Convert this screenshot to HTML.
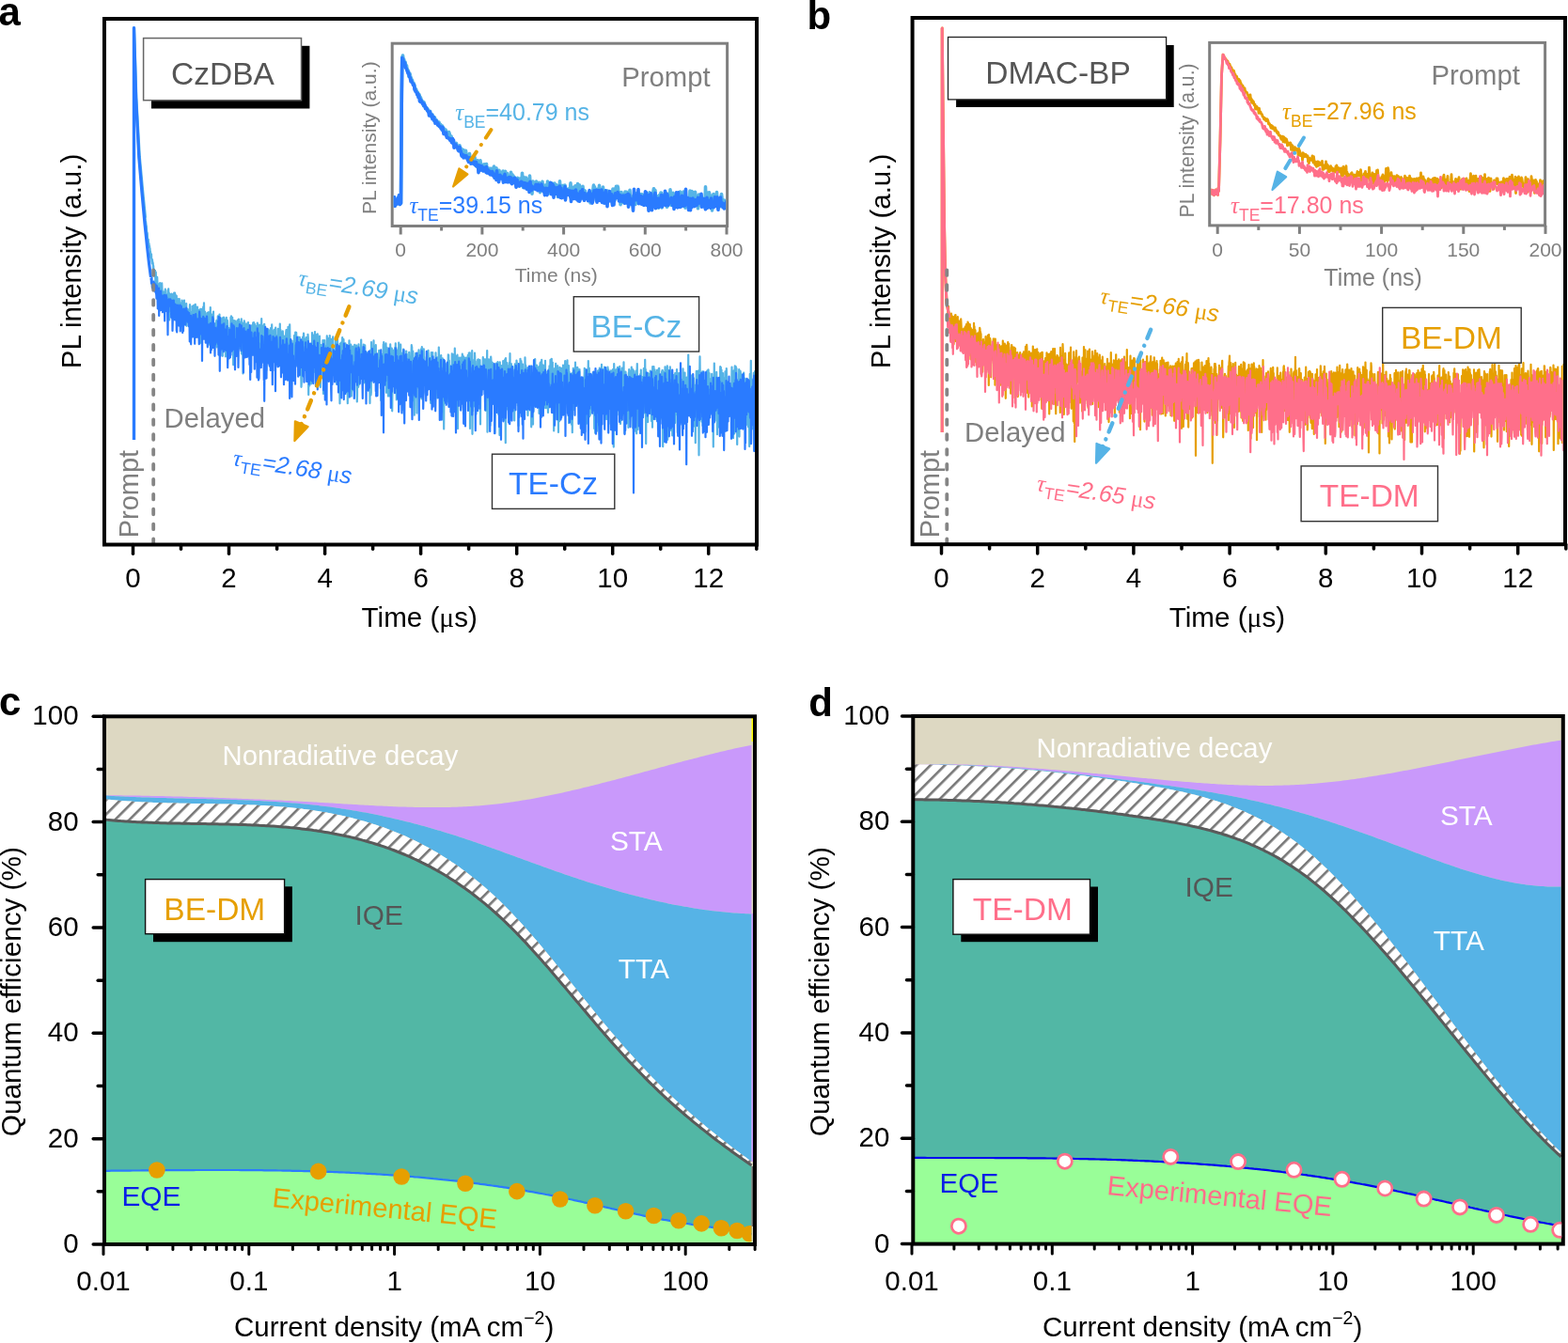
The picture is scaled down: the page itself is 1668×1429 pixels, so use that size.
<!DOCTYPE html>
<html><head><meta charset="utf-8"><style>html,body{margin:0;padding:0;background:#fff;}svg{display:block;}</style></head><body>
<svg width="1668" height="1429" viewBox="0 0 1668 1429" font-family="'Liberation Sans', Arial, Helvetica, sans-serif">
<defs>
<clipPath id="clipA"><rect x="113" y="22" width="690" height="555"/></clipPath>
<clipPath id="clipB"><rect x="972.7" y="21" width="690" height="555"/></clipPath>
<clipPath id="clipAi"><rect x="418.7" y="47.7" width="353.4" height="191.3"/></clipPath>
<clipPath id="clipBi"><rect x="1288.2" y="46.9" width="353.9" height="191.5"/></clipPath>
<pattern id="hatch" patternUnits="userSpaceOnUse" width="10.8" height="10.8" patternTransform="rotate(45)"><rect width="10.8" height="10.8" fill="#fff"/><rect width="2.6" height="10.8" fill="#777"/></pattern>
<clipPath id="clipC"><rect x="113" y="764" width="686.5" height="558"/></clipPath><clipPath id="clipD"><rect x="973.3" y="764" width="687.9" height="557.6"/></clipPath></defs>
<rect width="1668" height="1429" fill="#fff"/>
<text x="-1.5" y="26.5" font-size="42" fill="#000" text-anchor="start" font-weight="bold">a</text>
<g clip-path="url(#clipA)">
<polyline points="142.5,468.0 142.5,29.5 144.8,104.0 148.3,167.0 151.8,205.0 154.5,232.0" fill="none" stroke="#56b4e6" stroke-width="3.2" stroke-linejoin="round" />
<polyline points="154.5,232.0 154.8,234.7 155.0,235.8 155.2,236.8 155.5,239.6 155.8,240.6 156.0,244.6 156.2,249.6 156.5,247.3 156.8,248.8 157.0,253.2 157.2,254.7 157.5,255.8 157.8,254.8 158.0,258.9 158.2,262.8 158.5,259.1 158.8,262.7 159.0,261.5 159.2,263.7 159.5,264.3 159.8,269.3 160.0,267.7 160.2,273.7 160.5,274.6 160.8,274.5 161.0,270.3 161.2,275.5 161.5,278.5 161.8,280.3 162.0,276.0 162.2,280.1 162.5,279.0 162.8,280.8 163.0,290.7 163.2,282.8 163.5,287.5 163.8,293.3 164.0,286.9 164.2,290.2 164.5,292.4 164.8,293.1 165.0,287.9 165.2,295.1 165.5,304.0 165.8,289.7 166.0,302.7 166.2,299.0 166.5,295.4 166.8,313.8 167.0,305.7 167.2,294.9 167.5,302.7 167.8,306.8 168.0,302.5 168.2,308.9 168.5,304.5 168.8,310.1 169.0,316.7 169.2,302.1 169.5,308.5 169.8,304.4 170.0,308.9 170.2,301.1 170.5,304.8 170.8,307.8 171.0,316.3 171.2,318.7 171.5,302.4 171.8,305.0 172.0,315.8 172.2,301.4 172.5,308.3 172.8,311.3 173.0,322.3 173.2,317.9 173.5,310.5 173.8,310.5 174.0,311.6 174.2,326.4 174.5,310.9 174.8,312.1 175.0,317.3 175.2,313.9 175.5,313.6 175.8,307.5 176.0,315.5 176.2,312.5 176.5,325.8 176.8,321.6 177.0,316.3 177.2,322.2 177.5,314.3 177.8,326.0 178.0,317.4 178.2,322.4 178.5,309.1 178.8,320.8 179.0,308.2 179.2,307.3 179.5,316.2 179.8,311.7 180.0,320.4 180.2,340.4 180.5,312.8 180.8,314.6 181.0,321.5 181.2,324.2 181.5,318.8 181.8,318.7 182.0,326.6 182.2,325.2 182.5,312.7 182.8,320.5 183.0,321.7 183.2,313.2 183.5,324.0 183.8,314.9 184.0,330.9 184.2,324.0 184.5,323.3 184.8,317.9 185.0,322.0 185.2,311.5 185.5,314.6 185.8,326.8 186.0,311.6 186.2,331.7 186.5,313.3 186.8,331.3 187.0,317.5 187.2,331.9 187.5,326.2 187.8,314.9 188.0,337.3 188.2,339.5 188.5,325.3 188.8,323.8 189.0,324.9 189.2,318.1 189.5,337.1 189.8,322.2 190.0,326.7 190.2,320.4 190.5,322.0 190.8,318.0 191.0,340.0 191.2,326.7 191.5,337.4 191.8,328.6 192.0,322.5 192.2,326.0 192.5,324.1 192.8,329.3 193.0,326.1 193.2,326.9 193.5,319.5 193.8,322.8 194.0,346.9 194.2,324.3 194.5,321.3 194.8,333.8 195.0,344.9 195.2,320.4 195.5,329.3 195.8,325.6 196.0,319.7 196.2,338.8 196.5,331.6 196.8,332.7 197.0,325.3 197.2,336.7 197.5,327.6 197.8,331.3 198.0,323.2 198.2,323.0 198.5,346.8 198.8,328.6 199.0,336.2 199.2,333.3 199.5,329.6 199.8,329.1 200.0,340.2 200.2,331.3 200.5,332.9 200.8,334.6 201.0,346.7 201.2,341.5 201.5,338.6 201.8,329.6 202.0,324.2 202.2,345.0 202.5,345.3 202.8,334.2 203.0,341.1 203.2,343.8 203.5,344.4 203.8,345.6 204.0,331.8 204.2,352.8 204.5,325.8 204.8,345.5 205.0,341.7 205.2,346.0 205.5,358.1 205.8,353.4 206.0,326.9 206.2,324.8 206.5,346.1 206.8,327.7 207.0,337.6 207.2,346.8 207.5,325.5 207.8,323.8 208.0,340.9 208.2,338.8 208.5,336.1 208.8,339.0 209.0,330.1 209.2,326.8 209.5,337.3 209.8,329.3 210.0,326.5 210.2,344.7 210.5,338.9 210.8,343.9 211.0,329.7 211.2,333.1 211.5,329.8 211.8,331.0 212.0,342.3 212.2,332.3 212.5,344.3 212.8,344.2 213.0,365.1 213.2,328.8 213.5,350.9 213.8,340.1 214.0,341.0 214.2,328.9 214.5,336.6 214.8,349.8 215.0,340.8 215.2,342.6 215.5,338.8 215.8,355.3 216.0,341.9 216.2,326.5 216.5,335.0 216.8,327.7 217.0,322.3 217.2,337.0 217.5,358.6 217.8,343.4 218.0,331.5 218.2,333.0 218.5,356.6 218.8,345.1 219.0,344.0 219.2,343.0 219.5,344.1 219.8,353.1 220.0,350.2 220.2,346.4 220.5,333.0 220.8,350.1 221.0,336.8 221.2,357.5 221.5,332.3 221.8,343.1 222.0,344.7 222.2,332.3 222.5,366.7 222.8,363.2 223.0,340.0 223.2,354.4 223.5,349.7 223.8,327.1 224.0,348.5 224.2,345.0 224.5,346.7 224.8,334.3 225.0,343.0 225.2,344.1 225.5,360.9 225.8,350.2 226.0,346.3 226.2,366.0 226.5,340.3 226.8,342.3 227.0,331.6 227.2,367.1 227.5,358.9 227.8,358.4 228.0,355.3 228.2,348.6 228.5,349.9 228.8,344.6 229.0,345.2 229.2,348.3 229.5,367.5 229.8,354.6 230.0,347.3 230.2,341.3 230.5,340.8 230.8,369.4 231.0,354.6 231.2,349.3 231.5,344.5 231.8,336.4 232.0,348.0 232.2,359.9 232.5,344.3 232.8,346.3 233.0,346.5 233.2,350.5 233.5,334.6 233.8,346.6 234.0,339.3 234.2,360.9 234.5,340.5 234.8,357.0 235.0,370.4 235.2,346.2 235.5,342.8 235.8,352.5 236.0,350.2 236.2,338.3 236.5,356.2 236.8,378.8 237.0,347.5 237.2,348.2 237.5,338.4 237.8,354.8 238.0,337.6 238.2,338.3 238.5,368.3 238.8,340.2 239.0,365.7 239.2,372.3 239.5,354.7 239.8,358.7 240.0,379.4 240.2,349.3 240.5,344.5 240.8,337.9 241.0,352.5 241.2,372.5 241.5,365.0 241.8,340.6 242.0,341.8 242.2,346.2 242.5,356.2 242.8,350.1 243.0,355.4 243.2,356.6 243.5,349.1 243.8,352.4 244.0,355.7 244.2,352.1 244.5,359.8 244.8,380.2 245.0,361.1 245.2,354.2 245.5,337.5 245.8,358.6 246.0,336.3 246.2,339.1 246.5,365.4 246.8,363.4 247.0,352.1 247.2,337.9 247.5,349.5 247.8,345.7 248.0,362.8 248.2,388.2 248.5,357.3 248.8,344.7 249.0,341.1 249.2,354.0 249.5,352.6 249.8,341.4 250.0,356.5 250.2,341.6 250.5,370.6 250.8,370.0 251.0,370.4 251.2,349.3 251.5,362.3 251.8,353.9 252.0,350.6 252.2,351.4 252.5,341.4 252.8,340.7 253.0,366.8 253.2,353.6 253.5,358.9 253.8,370.1 254.0,339.6 254.2,346.2 254.5,358.7 254.8,361.7 255.0,351.7 255.2,371.0 255.5,359.5 255.8,342.7 256.0,344.8 256.2,368.1 256.5,363.3 256.8,339.4 257.0,376.6 257.2,365.4 257.5,376.7 257.8,352.4 258.0,353.6 258.2,343.8 258.5,397.4 258.8,355.4 259.0,381.1 259.2,349.3 259.5,360.1 259.8,341.3 260.0,353.0 260.2,372.0 260.5,343.7 260.8,373.5 261.0,362.9 261.2,345.0 261.5,351.9 261.8,352.5 262.0,357.9 262.2,351.6 262.5,347.8 262.8,354.8 263.0,345.5 263.2,344.2 263.5,358.4 263.8,371.6 264.0,343.1 264.2,359.3 264.5,350.7 264.8,346.4 265.0,371.5 265.2,352.6 265.5,381.9 265.8,349.2 266.0,365.0 266.2,356.7 266.5,349.8 266.8,368.1 267.0,357.9 267.2,368.5 267.5,359.5 267.8,346.3 268.0,358.9 268.2,361.0 268.5,374.2 268.8,348.3 269.0,360.0 269.2,343.3 269.5,369.8 269.8,346.8 270.0,343.0 270.2,360.0 270.5,377.1 270.8,344.7 271.0,347.1 271.2,351.0 271.5,346.9 271.8,366.5 272.0,350.4 272.2,351.6 272.5,369.6 272.8,351.2 273.0,367.6 273.2,348.4 273.5,346.9 273.8,343.6 274.0,390.8 274.2,357.5 274.5,365.3 274.8,361.5 275.0,364.2 275.2,362.8 275.5,392.1 275.8,348.4 276.0,345.6 276.2,348.6 276.5,346.9 276.8,373.3 277.0,374.5 277.2,349.4 277.5,346.8 277.8,357.8 278.0,383.9 278.2,339.2 278.5,370.4 278.8,348.8 279.0,378.5 279.2,348.9 279.5,359.2 279.8,346.7 280.0,349.8 280.2,384.5 280.5,375.4 280.8,357.9 281.0,351.5 281.2,344.8 281.5,358.2 281.8,363.2 282.0,362.6 282.2,362.5 282.5,349.4 282.8,363.0 283.0,363.4 283.2,383.7 283.5,393.8 283.8,362.3 284.0,353.6 284.2,363.4 284.5,355.9 284.8,354.1 285.0,363.6 285.2,350.4 285.5,373.4 285.8,363.2 286.0,368.2 286.2,362.2 286.5,354.7 286.8,351.7 287.0,361.6 287.2,357.3 287.5,368.4 287.8,365.0 288.0,349.2 288.2,366.2 288.5,349.4 288.8,356.7 289.0,361.3 289.2,345.4 289.5,366.8 289.8,367.7 290.0,363.4 290.2,359.7 290.5,360.5 290.8,352.1 291.0,362.1 291.2,358.2 291.5,367.3 291.8,350.8 292.0,369.5 292.2,368.2 292.5,364.2 292.8,360.1 293.0,374.5 293.2,348.5 293.5,373.2 293.8,370.0 294.0,370.7 294.2,372.2 294.5,357.4 294.8,363.1 295.0,376.3 295.2,373.2 295.5,369.9 295.8,349.9 296.0,375.0 296.2,385.3 296.5,382.7 296.8,370.6 297.0,349.9 297.2,381.8 297.5,365.3 297.8,344.5 298.0,373.1 298.2,350.5 298.5,351.7 298.8,358.6 299.0,387.8 299.2,362.5 299.5,371.8 299.8,396.4 300.0,393.7 300.2,366.6 300.5,364.7 300.8,352.4 301.0,358.3 301.2,374.6 301.5,374.2 301.8,370.0 302.0,383.9 302.2,357.5 302.5,367.8 302.8,379.8 303.0,377.5 303.2,385.5 303.5,374.7 303.8,364.4 304.0,374.3 304.2,354.6 304.5,351.0 304.8,377.9 305.0,368.4 305.2,373.8 305.5,350.9 305.8,364.1 306.0,360.8 306.2,357.0 306.5,347.8 306.8,364.8 307.0,383.6 307.2,375.4 307.5,361.1 307.8,369.6 308.0,381.5 308.2,345.3 308.5,368.2 308.8,378.3 309.0,380.6 309.2,398.3 309.5,388.2 309.8,375.0 310.0,374.9 310.2,382.6 310.5,362.6 310.8,370.0 311.0,384.8 311.2,403.6 311.5,368.4 311.8,370.1 312.0,373.8 312.2,392.6 312.5,370.5 312.8,395.0 313.0,357.0 313.2,368.4 313.5,368.3 313.8,383.5 314.0,387.9 314.2,353.7 314.5,358.0 314.8,376.6 315.0,361.9 315.2,353.9 315.5,388.2 315.8,379.3 316.0,379.3 316.2,364.9 316.5,388.2 316.8,368.4 317.0,389.5 317.2,358.7 317.5,359.6 317.8,375.2 318.0,361.9 318.2,382.8 318.5,376.3 318.8,358.8 319.0,373.5 319.2,367.3 319.5,387.1 319.8,363.3 320.0,366.2 320.2,392.4 320.5,411.8 320.8,407.1 321.0,373.9 321.2,376.3 321.5,398.5 321.8,371.3 322.0,358.7 322.2,375.0 322.5,380.2 322.8,361.0 323.0,354.7 323.2,356.0 323.5,383.9 323.8,362.3 324.0,371.5 324.2,376.9 324.5,383.4 324.8,368.8 325.0,381.5 325.2,360.6 325.5,368.6 325.8,359.0 326.0,392.4 326.2,373.7 326.5,363.1 326.8,369.0 327.0,371.0 327.2,385.4 327.5,355.9 327.8,359.3 328.0,368.9 328.2,420.1 328.5,390.0 328.8,373.0 329.0,386.0 329.2,410.6 329.5,371.3 329.8,369.4 330.0,394.8 330.2,382.7 330.5,385.6 330.8,367.5 331.0,408.5 331.2,404.4 331.5,384.1 331.8,386.2 332.0,354.2 332.2,385.5 332.5,372.6 332.8,382.3 333.0,386.4 333.2,370.5 333.5,356.5 333.8,381.4 334.0,364.6 334.2,370.9 334.5,366.8 334.8,370.8 335.0,353.0 335.2,396.2 335.5,380.0 335.8,394.4 336.0,410.8 336.2,376.6 336.5,356.4 336.8,362.9 337.0,360.1 337.2,368.9 337.5,377.7 337.8,355.4 338.0,382.0 338.2,358.5 338.5,381.4 338.8,375.1 339.0,372.1 339.2,375.8 339.5,368.8 339.8,367.7 340.0,357.7 340.2,376.7 340.5,409.3 340.8,412.0 341.0,399.5 341.2,388.6 341.5,367.1 341.8,401.9 342.0,376.6 342.2,376.5 342.5,373.1 342.8,379.0 343.0,371.0 343.2,376.4 343.5,362.0 343.8,372.1 344.0,419.0 344.2,376.8 344.5,374.3 344.8,386.5 345.0,389.5 345.2,362.1 345.5,375.0 345.8,393.3 346.0,382.5 346.2,380.2 346.5,405.1 346.8,368.0 347.0,379.7 347.2,370.5 347.5,404.1 347.8,357.4 348.0,368.4 348.2,370.6 348.5,389.4 348.8,388.5 349.0,402.6 349.2,360.0 349.5,391.1 349.8,374.5 350.0,368.8 350.2,387.7 350.5,365.0 350.8,357.1 351.0,373.5 351.2,360.8 351.5,369.3 351.8,385.2 352.0,384.3 352.2,406.9 352.5,376.4 352.8,360.8 353.0,367.9 353.2,365.4 353.5,362.9 353.8,386.6 354.0,369.8 354.2,358.3 354.5,391.2 354.8,378.1 355.0,385.6 355.2,381.6 355.5,390.3 355.8,380.6 356.0,401.1 356.2,386.9 356.5,386.4 356.8,386.8 357.0,362.0 357.2,377.8 357.5,376.3 357.8,383.7 358.0,362.7 358.2,409.1 358.5,382.2 358.8,363.7 359.0,360.7 359.2,376.3 359.5,379.3 359.8,369.6 360.0,382.2 360.2,370.9 360.5,389.8 360.8,369.6 361.0,380.4 361.2,397.4 361.5,429.3 361.8,365.5 362.0,373.9 362.2,368.1 362.5,394.2 362.8,364.7 363.0,373.7 363.2,380.9 363.5,366.1 363.8,366.5 364.0,374.0 364.2,359.0 364.5,363.1 364.8,375.1 365.0,384.0 365.2,378.8 365.5,361.2 365.8,374.5 366.0,395.1 366.2,390.9 366.5,380.6 366.8,368.0 367.0,392.3 367.2,372.9 367.5,365.3 367.8,369.5 368.0,407.4 368.2,385.7 368.5,402.0 368.8,374.7 369.0,398.1 369.2,372.9 369.5,379.9 369.8,429.2 370.0,395.2 370.2,374.6 370.5,381.2 370.8,387.8 371.0,403.5 371.2,374.9 371.5,362.3 371.8,378.3 372.0,383.0 372.2,384.5 372.5,405.7 372.8,388.0 373.0,396.5 373.2,366.6 373.5,397.6 373.8,421.6 374.0,396.0 374.2,387.2 374.5,385.6 374.8,415.4 375.0,368.6 375.2,381.5 375.5,390.8 375.8,395.8 376.0,376.5 376.2,388.4 376.5,379.1 376.8,385.4 377.0,381.4 377.2,366.9 377.5,383.3 377.8,398.5 378.0,368.4 378.2,379.9 378.5,394.9 378.8,367.5 379.0,386.8 379.2,367.7 379.5,403.5 379.8,427.4 380.0,421.2 380.2,380.6 380.5,396.5 380.8,386.1 381.0,385.8 381.2,411.8 381.5,366.3 381.8,402.4 382.0,383.5 382.2,409.2 382.5,387.4 382.8,373.7 383.0,389.0 383.2,396.9 383.5,385.1 383.8,392.6 384.0,376.3 384.2,361.5 384.5,400.0 384.8,396.5 385.0,387.1 385.2,385.9 385.5,402.7 385.8,377.6 386.0,373.6 386.2,381.9 386.5,405.8 386.8,366.6 387.0,405.9 387.2,374.9 387.5,368.5 387.8,407.3 388.0,383.7 388.2,367.4 388.5,379.6 388.8,401.3 389.0,406.2 389.2,378.6 389.5,392.1 389.8,397.5 390.0,375.2 390.2,391.4 390.5,385.1 390.8,377.0 391.0,377.8 391.2,386.8 391.5,386.2 391.8,376.7 392.0,379.0 392.2,405.3 392.5,389.4 392.8,401.1 393.0,407.1 393.2,395.9 393.5,429.1 393.8,372.8 394.0,399.9 394.2,381.0 394.5,420.4 394.8,417.3 395.0,364.0 395.2,370.7 395.5,397.6 395.8,399.9 396.0,399.0 396.2,385.3 396.5,394.1 396.8,397.6 397.0,385.3 397.2,404.5 397.5,362.4 397.8,397.4 398.0,370.4 398.2,403.4 398.5,383.1 398.8,372.5 399.0,393.1 399.2,372.2 399.5,372.2 399.8,367.2 400.0,386.6 400.2,395.4 400.5,405.0 400.8,384.8 401.0,405.5 401.2,387.5 401.5,385.7 401.8,397.0 402.0,405.9 402.2,381.8 402.5,383.4 402.8,384.8 403.0,388.8 403.2,372.9 403.5,405.5 403.8,381.1 404.0,395.4 404.2,374.2 404.5,393.6 404.8,394.3 405.0,380.9 405.2,425.9 405.5,394.0 405.8,420.8 406.0,404.7 406.2,377.2 406.5,381.7 406.8,395.3 407.0,389.0 407.2,388.9 407.5,383.4 407.8,366.6 408.0,384.5 408.2,364.0 408.5,394.5 408.8,376.5 409.0,376.7 409.2,384.8 409.5,392.9 409.8,369.3 410.0,367.3 410.2,371.8 410.5,365.4 410.8,372.8 411.0,417.8 411.2,372.0 411.5,399.9 411.8,370.0 412.0,393.7 412.2,383.6 412.5,387.8 412.8,398.6 413.0,421.6 413.2,392.2 413.5,391.0 413.8,373.1 414.0,399.0 414.2,385.0 414.5,403.6 414.8,388.4 415.0,421.6 415.2,366.4 415.5,384.4 415.8,404.7 416.0,383.6 416.2,376.4 416.5,385.0 416.8,370.5 417.0,391.4 417.2,437.3 417.5,410.0 417.8,372.4 418.0,375.3 418.2,383.0 418.5,407.5 418.8,376.2 419.0,378.4 419.2,405.3 419.5,405.0 419.8,383.7 420.0,372.7 420.2,369.9 420.5,378.4 420.8,365.4 421.0,403.1 421.2,379.7 421.5,398.3 421.8,425.5 422.0,411.3 422.2,372.7 422.5,405.5 422.8,411.1 423.0,378.0 423.2,374.6 423.5,388.5 423.8,369.9 424.0,417.5 424.2,364.7 424.5,373.3 424.8,386.1 425.0,386.8 425.2,393.4 425.5,395.2 425.8,387.1 426.0,411.2 426.2,366.7 426.5,390.8 426.8,379.0 427.0,393.0 427.2,394.6 427.5,375.8 427.8,380.3 428.0,404.9 428.2,396.9 428.5,379.8 428.8,430.3 429.0,436.4 429.2,371.5 429.5,396.3 429.8,441.1 430.0,405.0 430.2,395.0 430.5,387.9 430.8,382.4 431.0,387.9 431.2,382.3 431.5,404.5 431.8,384.9 432.0,384.2 432.2,373.6 432.5,390.8 432.8,376.8 433.0,388.7 433.2,410.4 433.5,398.0 433.8,400.5 434.0,397.9 434.2,392.8 434.5,389.7 434.8,386.8 435.0,405.3 435.2,374.8 435.5,416.7 435.8,392.6 436.0,379.6 436.2,384.0 436.5,380.9 436.8,394.9 437.0,380.2 437.2,413.0 437.5,379.2 437.8,367.2 438.0,380.2 438.2,369.0 438.5,391.7 438.8,411.6 439.0,403.8 439.2,373.6 439.5,379.8 439.8,426.5 440.0,398.1 440.2,392.7 440.5,411.8 440.8,441.7 441.0,416.7 441.2,395.1 441.5,398.9 441.8,403.7 442.0,382.6 442.2,375.8 442.5,393.8 442.8,377.1 443.0,392.0 443.2,394.7 443.5,439.6 443.8,378.9 444.0,391.1 444.2,390.4 444.5,400.8 444.8,412.3 445.0,385.1 445.2,379.6 445.5,372.3 445.8,377.9 446.0,402.8 446.2,394.2 446.5,376.6 446.8,387.3 447.0,394.1 447.2,402.4 447.5,383.7 447.8,389.5 448.0,371.4 448.2,375.9 448.5,424.5 448.8,369.0 449.0,388.2 449.2,397.6 449.5,387.6 449.8,380.4 450.0,393.0 450.2,394.0 450.5,392.7 450.8,371.4 451.0,391.7 451.2,379.8 451.5,385.0 451.8,398.1 452.0,405.6 452.2,410.5 452.5,386.0 452.8,411.1 453.0,416.1 453.2,415.4 453.5,420.5 453.8,392.1 454.0,391.6 454.2,409.4 454.5,375.3 454.8,398.3 455.0,385.8 455.2,388.5 455.5,372.9 455.8,379.8 456.0,394.5 456.2,411.0 456.5,413.0 456.8,393.6 457.0,391.8 457.2,381.0 457.5,402.1 457.8,390.9 458.0,405.9 458.2,429.0 458.5,394.7 458.8,375.0 459.0,380.7 459.2,375.3 459.5,377.1 459.8,419.8 460.0,399.3 460.2,375.0 460.5,407.2 460.8,419.1 461.0,389.5 461.2,384.1 461.5,389.9 461.8,400.6 462.0,407.1 462.2,417.7 462.5,418.4 462.8,417.9 463.0,421.5 463.2,407.7 463.5,375.3 463.8,393.8 464.0,401.5 464.2,389.5 464.5,412.7 464.8,390.0 465.0,380.4 465.2,423.6 465.5,408.2 465.8,400.1 466.0,413.3 466.2,416.0 466.5,402.4 466.8,369.5 467.0,385.0 467.2,388.7 467.5,379.8 467.8,400.0 468.0,418.9 468.2,388.4 468.5,378.7 468.8,436.9 469.0,389.1 469.2,378.1 469.5,401.0 469.8,404.4 470.0,384.9 470.2,411.3 470.5,388.7 470.8,381.3 471.0,400.1 471.2,411.1 471.5,386.3 471.8,403.0 472.0,395.6 472.2,456.4 472.5,385.2 472.8,423.6 473.0,396.4 473.2,395.2 473.5,410.5 473.8,413.8 474.0,421.4 474.2,403.3 474.5,387.3 474.8,388.4 475.0,406.7 475.2,408.1 475.5,424.3 475.8,405.2 476.0,417.5 476.2,427.0 476.5,400.7 476.8,377.4 477.0,379.5 477.2,377.8 477.5,428.8 477.8,383.5 478.0,421.3 478.2,408.6 478.5,431.6 478.8,416.8 479.0,396.5 479.2,394.8 479.5,399.8 479.8,401.4 480.0,389.2 480.2,397.8 480.5,429.6 480.8,376.4 481.0,403.0 481.2,382.9 481.5,401.8 481.8,414.0 482.0,397.6 482.2,412.8 482.5,377.4 482.8,419.5 483.0,388.4 483.2,410.1 483.5,402.0 483.8,370.7 484.0,385.9 484.2,402.8 484.5,429.1 484.8,404.1 485.0,403.6 485.2,379.0 485.5,426.6 485.8,434.8 486.0,399.7 486.2,395.4 486.5,377.7 486.8,415.6 487.0,456.1 487.2,412.5 487.5,423.4 487.8,409.2 488.0,382.5 488.2,425.1 488.5,380.6 488.8,395.9 489.0,404.5 489.2,416.0 489.5,407.1 489.8,406.6 490.0,386.6 490.2,380.5 490.5,400.9 490.8,387.5 491.0,380.4 491.2,380.8 491.5,391.4 491.8,376.7 492.0,380.3 492.2,378.3 492.5,403.3 492.8,407.4 493.0,440.5 493.2,379.4 493.5,388.4 493.8,417.2 494.0,396.5 494.2,394.6 494.5,434.0 494.8,394.5 495.0,382.0 495.2,380.9 495.5,406.4 495.8,405.9 496.0,380.6 496.2,383.4 496.5,410.3 496.8,411.1 497.0,389.5 497.2,412.0 497.5,411.1 497.8,377.9 498.0,395.3 498.2,408.2 498.5,390.9 498.8,375.5 499.0,396.0 499.2,414.8 499.5,431.9 499.8,375.3 500.0,456.0 500.2,382.7 500.5,419.0 500.8,424.7 501.0,419.6 501.2,403.8 501.5,382.6 501.8,412.7 502.0,388.8 502.2,373.2 502.5,461.8 502.8,414.4 503.0,437.7 503.2,385.5 503.5,430.0 503.8,432.7 504.0,432.0 504.2,401.1 504.5,382.7 504.8,398.5 505.0,375.7 505.2,379.3 505.5,403.3 505.8,384.4 506.0,398.8 506.2,399.8 506.5,440.7 506.8,426.8 507.0,401.0 507.2,425.0 507.5,388.3 507.8,396.0 508.0,419.0 508.2,382.8 508.5,397.1 508.8,382.3 509.0,404.1 509.2,434.4 509.5,389.0 509.8,406.2 510.0,386.5 510.2,383.7 510.5,383.1 510.8,430.7 511.0,451.5 511.2,411.1 511.5,389.8 511.8,415.4 512.0,396.6 512.2,417.4 512.5,407.7 512.8,407.5 513.0,413.7 513.2,392.4 513.5,395.5 513.8,380.0 514.0,394.9 514.2,382.2 514.5,400.2 514.8,385.9 515.0,404.6 515.2,411.0 515.5,382.3 515.8,388.6 516.0,386.3 516.2,416.8 516.5,437.0 516.8,419.0 517.0,396.9 517.2,431.8 517.5,381.9 517.8,432.6 518.0,391.6 518.2,373.0 518.5,459.7 518.8,434.5 519.0,385.4 519.2,406.3 519.5,399.5 519.8,405.1 520.0,382.3 520.2,391.4 520.5,412.0 520.8,407.4 521.0,426.6 521.2,404.9 521.5,452.7 521.8,390.9 522.0,408.2 522.2,379.5 522.5,384.2 522.8,429.6 523.0,387.1 523.2,413.5 523.5,402.7 523.8,385.8 524.0,397.7 524.2,394.8 524.5,395.3 524.8,418.0 525.0,416.0 525.2,393.8 525.5,388.0 525.8,409.1 526.0,402.3 526.2,423.7 526.5,461.0 526.8,420.0 527.0,403.5 527.2,401.1 527.5,389.1 527.8,388.2 528.0,386.5 528.2,397.3 528.5,396.8 528.8,418.3 529.0,397.3 529.2,400.9 529.5,385.2 529.8,437.4 530.0,413.8 530.2,440.7 530.5,419.6 530.8,434.1 531.0,400.2 531.2,418.1 531.5,463.0 531.8,385.4 532.0,427.5 532.2,438.9 532.5,412.5 532.8,419.2 533.0,429.8 533.2,393.0 533.5,412.5 533.8,389.1 534.0,392.7 534.2,393.8 534.5,402.4 534.8,407.7 535.0,413.6 535.2,384.1 535.5,446.9 535.8,428.1 536.0,419.2 536.2,398.7 536.5,403.6 536.8,415.7 537.0,413.0 537.2,382.4 537.5,419.6 537.8,471.2 538.0,381.2 538.2,425.0 538.5,412.4 538.8,403.4 539.0,433.3 539.2,386.2 539.5,408.6 539.8,435.5 540.0,402.0 540.2,398.0 540.5,407.8 540.8,397.5 541.0,437.6 541.2,389.1 541.5,422.9 541.8,385.9 542.0,418.7 542.2,403.9 542.5,376.2 542.8,405.8 543.0,387.4 543.2,397.8 543.5,437.8 543.8,387.1 544.0,387.5 544.2,435.6 544.5,408.2 544.8,438.0 545.0,412.2 545.2,390.0 545.5,405.0 545.8,431.1 546.0,424.9 546.2,406.3 546.5,407.2 546.8,404.2 547.0,395.7 547.2,447.5 547.5,406.5 547.8,387.4 548.0,397.7 548.2,420.6 548.5,418.9 548.8,404.0 549.0,394.3 549.2,407.0 549.5,383.5 549.8,386.3 550.0,422.3 550.2,397.9 550.5,413.8 550.8,431.4 551.0,419.4 551.2,407.2 551.5,452.9 551.8,419.8 552.0,400.3 552.2,421.2 552.5,414.7 552.8,391.2 553.0,408.3 553.2,403.9 553.5,381.8 553.8,403.9 554.0,401.8 554.2,399.0 554.5,384.2 554.8,400.6 555.0,406.4 555.2,409.1 555.5,388.1 555.8,419.5 556.0,387.5 556.2,403.2 556.5,434.0 556.8,394.6 557.0,397.9 557.2,429.0 557.5,400.3 557.8,402.0 558.0,411.6 558.2,428.5 558.5,380.4 558.8,392.2 559.0,389.3 559.2,388.8 559.5,391.8 559.8,392.1 560.0,413.4 560.2,391.3 560.5,410.0 560.8,415.4 561.0,394.3 561.2,410.2 561.5,442.1 561.8,413.9 562.0,396.1 562.2,406.7 562.5,391.0 562.8,413.0 563.0,425.0 563.2,392.9 563.5,404.1 563.8,430.4 564.0,398.9 564.2,411.6 564.5,389.7 564.8,393.0 565.0,398.7 565.2,454.3 565.5,400.8 565.8,398.7 566.0,398.1 566.2,405.3 566.5,420.7 566.8,411.8 567.0,451.6 567.2,412.3 567.5,437.5 567.8,413.5 568.0,419.9 568.2,387.2 568.5,406.2 568.8,407.2 569.0,404.1 569.2,382.1 569.5,425.6 569.8,401.6 570.0,400.7 570.2,404.0 570.5,404.5 570.8,416.3 571.0,388.7 571.2,391.9 571.5,414.1 571.8,411.4 572.0,402.0 572.2,398.4 572.5,393.7 572.8,407.8 573.0,432.3 573.2,390.4 573.5,439.9 573.8,425.3 574.0,400.8 574.2,424.1 574.5,387.5 574.8,385.6 575.0,388.8 575.2,401.7 575.5,403.2 575.8,399.8 576.0,411.0 576.2,382.8 576.5,418.5 576.8,388.0 577.0,397.2 577.2,401.8 577.5,390.0 577.8,388.5 578.0,391.1 578.2,409.1 578.5,420.6 578.8,420.1 579.0,391.3 579.2,395.1 579.5,392.7 579.8,417.9 580.0,383.8 580.2,434.2 580.5,400.7 580.8,395.3 581.0,415.9 581.2,429.9 581.5,416.0 581.8,430.4 582.0,412.1 582.2,434.2 582.5,434.6 582.8,407.9 583.0,438.9 583.2,412.8 583.5,411.4 583.8,393.0 584.0,404.6 584.2,424.9 584.5,389.4 584.8,422.3 585.0,416.4 585.2,415.1 585.5,382.9 585.8,408.1 586.0,422.4 586.2,396.1 586.5,411.7 586.8,381.8 587.0,422.9 587.2,398.0 587.5,427.1 587.8,385.7 588.0,423.5 588.2,405.8 588.5,425.9 588.8,393.3 589.0,398.9 589.2,458.5 589.5,395.1 589.8,397.4 590.0,405.2 590.2,391.9 590.5,434.1 590.8,446.2 591.0,397.5 591.2,386.8 591.5,433.8 591.8,432.5 592.0,426.4 592.2,433.5 592.5,394.6 592.8,407.4 593.0,389.4 593.2,389.2 593.5,429.9 593.8,398.3 594.0,459.9 594.2,412.0 594.5,398.9 594.8,426.2 595.0,448.3 595.2,419.9 595.5,390.8 595.8,417.7 596.0,438.7 596.2,401.7 596.5,396.6 596.8,430.9 597.0,413.4 597.2,391.8 597.5,403.9 597.8,397.0 598.0,416.4 598.2,412.9 598.5,433.9 598.8,424.7 599.0,388.5 599.2,418.6 599.5,428.6 599.8,419.6 600.0,431.4 600.2,400.9 600.5,393.6 600.8,429.4 601.0,392.3 601.2,384.2 601.5,431.4 601.8,397.8 602.0,405.5 602.2,389.9 602.5,390.4 602.8,391.7 603.0,404.6 603.2,418.2 603.5,383.3 603.8,425.9 604.0,391.6 604.2,392.4 604.5,424.4 604.8,409.9 605.0,389.0 605.2,450.2 605.5,395.5 605.8,416.0 606.0,415.1 606.2,440.3 606.5,403.1 606.8,431.5 607.0,397.8 607.2,434.0 607.5,397.5 607.8,404.8 608.0,451.7 608.2,417.5 608.5,413.6 608.8,460.2 609.0,418.4 609.2,396.6 609.5,425.9 609.8,391.9 610.0,434.3 610.2,436.0 610.5,401.1 610.8,400.1 611.0,415.0 611.2,412.0 611.5,393.7 611.8,422.7 612.0,385.7 612.2,403.8 612.5,404.4 612.8,406.8 613.0,417.6 613.2,391.7 613.5,423.2 613.8,408.6 614.0,399.9 614.2,390.8 614.5,392.1 614.8,418.8 615.0,394.2 615.2,413.2 615.5,433.2 615.8,432.6 616.0,444.4 616.2,406.6 616.5,393.0 616.8,432.4 617.0,417.9 617.2,434.7 617.5,412.3 617.8,436.3 618.0,428.8 618.2,426.1 618.5,421.8 618.8,419.8 619.0,416.6 619.2,416.5 619.5,432.0 619.8,402.8 620.0,448.8 620.2,410.3 620.5,431.9 620.8,410.6 621.0,407.8 621.2,456.0 621.5,406.6 621.8,391.8 622.0,399.2 622.2,406.5 622.5,459.2 622.8,416.3 623.0,431.0 623.2,393.9 623.5,419.2 623.8,425.6 624.0,450.7 624.2,399.6 624.5,424.2 624.8,418.3 625.0,393.9 625.2,412.2 625.5,407.7 625.8,384.2 626.0,424.2 626.2,423.1 626.5,404.5 626.8,391.6 627.0,443.3 627.2,417.7 627.5,433.1 627.8,441.8 628.0,403.1 628.2,428.8 628.5,408.3 628.8,411.6 629.0,411.2 629.2,412.8 629.5,435.3 629.8,415.1 630.0,410.0 630.2,407.7 630.5,419.4 630.8,396.3 631.0,403.6 631.2,411.9 631.5,402.4 631.8,410.7 632.0,401.6 632.2,456.1 632.5,440.3 632.8,421.6 633.0,412.0 633.2,460.8 633.5,419.2 633.8,411.4 634.0,418.8 634.2,418.9 634.5,442.3 634.8,412.7 635.0,458.7 635.2,396.7 635.5,426.8 635.8,394.5 636.0,451.9 636.2,407.0 636.5,412.1 636.8,431.7 637.0,438.9 637.2,393.8 637.5,406.8 637.8,391.7 638.0,415.8 638.2,411.4 638.5,406.8 638.8,400.6 639.0,406.1 639.2,399.4 639.5,423.6 639.8,445.0 640.0,387.8 640.2,411.2 640.5,405.6 640.8,422.9 641.0,395.7 641.2,410.7 641.5,394.5 641.8,427.2 642.0,415.3 642.2,410.5 642.5,420.6 642.8,408.9 643.0,390.7 643.2,425.2 643.5,419.1 643.8,410.7 644.0,433.4 644.2,438.5 644.5,394.3 644.8,399.0 645.0,446.1 645.2,443.1 645.5,399.9 645.8,393.6 646.0,401.8 646.2,404.4 646.5,390.7 646.8,414.3 647.0,393.0 647.2,393.5 647.5,432.1 647.8,401.0 648.0,412.4 648.2,426.1 648.5,430.0 648.8,407.5 649.0,414.7 649.2,398.4 649.5,451.1 649.8,426.7 650.0,394.4 650.2,414.0 650.5,428.0 650.8,423.2 651.0,453.2 651.2,442.4 651.5,403.9 651.8,412.3 652.0,393.2 652.2,418.7 652.5,416.9 652.8,475.6 653.0,415.9 653.2,387.1 653.5,401.5 653.8,416.2 654.0,393.4 654.2,397.8 654.5,407.2 654.8,420.7 655.0,411.0 655.2,397.5 655.5,429.8 655.8,404.0 656.0,404.8 656.2,392.6 656.5,399.5 656.8,427.1 657.0,390.8 657.2,412.9 657.5,428.5 657.8,407.2 658.0,418.8 658.2,394.6 658.5,441.4 658.8,436.8 659.0,418.8 659.2,389.9 659.5,395.2 659.8,434.1 660.0,450.9 660.2,420.1 660.5,440.1 660.8,403.0 661.0,410.8 661.2,414.4 661.5,422.6 661.8,391.7 662.0,433.4 662.2,441.9 662.5,394.6 662.8,393.0 663.0,421.3 663.2,402.2 663.5,385.4 663.8,430.7 664.0,417.5 664.2,405.6 664.5,461.0 664.8,417.2 665.0,400.4 665.2,416.5 665.5,395.5 665.8,400.3 666.0,422.1 666.2,404.2 666.5,406.2 666.8,450.3 667.0,432.0 667.2,430.8 667.5,425.1 667.8,424.2 668.0,445.3 668.2,414.4 668.5,454.9 668.8,396.8 669.0,410.0 669.2,393.1 669.5,408.3 669.8,425.0 670.0,445.3 670.2,402.3 670.5,414.9 670.8,408.1 671.0,400.9 671.2,394.6 671.5,416.0 671.8,390.5 672.0,417.0 672.2,415.3 672.5,402.5 672.8,396.0 673.0,393.2 673.2,455.5 673.5,393.5 673.8,448.0 674.0,426.8 674.2,408.1 674.5,394.9 674.8,436.3 675.0,452.2 675.2,397.4 675.5,409.4 675.8,436.6 676.0,421.6 676.2,458.9 676.5,404.3 676.8,425.8 677.0,394.3 677.2,461.3 677.5,401.3 677.8,387.1 678.0,412.8 678.2,412.5 678.5,456.9 678.8,408.8 679.0,414.9 679.2,426.9 679.5,449.0 679.8,414.0 680.0,436.5 680.2,425.4 680.5,409.6 680.8,416.7 681.0,415.8 681.2,398.0 681.5,440.5 681.8,393.5 682.0,439.5 682.2,434.8 682.5,413.6 682.8,400.9 683.0,411.1 683.2,424.6 683.5,430.3 683.8,420.9 684.0,435.7 684.2,404.8 684.5,419.9 684.8,392.2 685.0,430.8 685.2,418.4 685.5,407.6 685.8,439.5 686.0,429.3 686.2,382.8 686.5,416.2 686.8,393.1 687.0,437.4 687.2,472.1 687.5,405.7 687.8,417.0 688.0,410.8 688.2,422.4 688.5,428.4 688.8,442.5 689.0,396.9 689.2,449.1 689.5,397.9 689.8,421.0 690.0,439.6 690.2,429.9 690.5,397.8 690.8,402.3 691.0,406.9 691.2,414.7 691.5,439.4 691.8,394.5 692.0,424.9 692.2,427.9 692.5,426.8 692.8,424.9 693.0,448.1 693.2,425.4 693.5,433.1 693.8,427.0 694.0,454.7 694.2,390.0 694.5,442.6 694.8,410.8 695.0,410.5 695.2,397.4 695.5,390.2 695.8,408.6 696.0,402.8 696.2,425.6 696.5,393.3 696.8,446.2 697.0,421.2 697.2,411.2 697.5,402.4 697.8,400.9 698.0,395.9 698.2,405.6 698.5,416.1 698.8,412.6 699.0,393.8 699.2,410.9 699.5,399.0 699.8,419.1 700.0,456.8 700.2,428.5 700.5,410.1 700.8,392.2 701.0,393.8 701.2,391.8 701.5,430.7 701.8,401.5 702.0,417.3 702.2,404.2 702.5,417.8 702.8,445.8 703.0,403.1 703.2,409.6 703.5,400.8 703.8,434.0 704.0,396.9 704.2,396.1 704.5,394.2 704.8,394.0 705.0,425.5 705.2,475.2 705.5,397.2 705.8,435.7 706.0,421.1 706.2,396.4 706.5,411.0 706.8,411.8 707.0,403.1 707.2,458.8 707.5,390.3 707.8,423.8 708.0,422.8 708.2,405.2 708.5,419.2 708.8,434.2 709.0,419.3 709.2,424.6 709.5,430.3 709.8,389.4 710.0,447.9 710.2,467.8 710.5,436.6 710.8,437.3 711.0,394.2 711.2,414.1 711.5,400.9 711.8,405.2 712.0,436.3 712.2,401.1 712.5,414.0 712.8,390.4 713.0,413.4 713.2,418.2 713.5,403.0 713.8,402.7 714.0,458.0 714.2,395.8 714.5,397.0 714.8,401.1 715.0,441.7 715.2,463.5 715.5,423.1 715.8,402.8 716.0,408.4 716.2,438.7 716.5,399.2 716.8,447.6 717.0,446.8 717.2,418.0 717.5,429.6 717.8,431.8 718.0,450.1 718.2,397.1 718.5,441.4 718.8,409.5 719.0,402.0 719.2,418.7 719.5,412.6 719.8,397.8 720.0,393.0 720.2,398.7 720.5,447.8 720.8,460.2 721.0,429.8 721.2,441.6 721.5,406.9 721.8,415.3 722.0,422.3 722.2,397.0 722.5,397.8 722.8,418.7 723.0,410.7 723.2,397.2 723.5,424.5 723.8,411.8 724.0,438.0 724.2,416.8 724.5,411.1 724.8,419.3 725.0,413.6 725.2,404.1 725.5,409.2 725.8,432.1 726.0,430.0 726.2,444.1 726.5,392.4 726.8,409.4 727.0,409.0 727.2,420.3 727.5,408.3 727.8,407.1 728.0,432.9 728.2,420.5 728.5,396.5 728.8,445.4 729.0,437.7 729.2,406.0 729.5,434.1 729.8,402.9 730.0,440.6 730.2,412.9 730.5,401.6 730.8,409.9 731.0,402.4 731.2,420.8 731.5,420.5 731.8,417.8 732.0,406.4 732.2,377.5 732.5,418.9 732.8,391.0 733.0,421.9 733.2,440.9 733.5,422.5 733.8,409.7 734.0,413.7 734.2,414.6 734.5,406.6 734.8,406.0 735.0,399.4 735.2,442.2 735.5,416.9 735.8,437.0 736.0,412.4 736.2,418.6 736.5,414.0 736.8,426.5 737.0,434.2 737.2,422.0 737.5,404.3 737.8,402.3 738.0,453.5 738.2,411.9 738.5,411.7 738.8,448.8 739.0,440.1 739.2,428.1 739.5,409.7 739.8,471.2 740.0,425.2 740.2,428.4 740.5,414.1 740.8,394.9 741.0,395.6 741.2,425.5 741.5,425.2 741.8,412.8 742.0,396.8 742.2,394.8 742.5,411.1 742.8,394.7 743.0,436.0 743.2,441.7 743.5,484.3 743.8,435.6 744.0,406.1 744.2,400.7 744.5,379.3 744.8,406.0 745.0,414.1 745.2,437.6 745.5,429.9 745.8,429.4 746.0,421.7 746.2,431.0 746.5,448.7 746.8,397.8 747.0,408.8 747.2,395.3 747.5,452.9 747.8,445.2 748.0,433.0 748.2,396.8 748.5,421.0 748.8,413.1 749.0,419.2 749.2,414.0 749.5,428.1 749.8,410.0 750.0,435.3 750.2,422.4 750.5,412.0 750.8,415.5 751.0,409.2 751.2,434.5 751.5,412.5 751.8,423.6 752.0,410.2 752.2,394.7 752.5,436.5 752.8,398.0 753.0,431.6 753.2,426.2 753.5,393.4 753.8,399.5 754.0,407.9 754.2,401.9 754.5,397.1 754.8,433.0 755.0,413.2 755.2,425.5 755.5,409.5 755.8,423.9 756.0,403.3 756.2,417.3 756.5,429.6 756.8,418.7 757.0,409.0 757.2,397.9 757.5,421.2 757.8,424.8 758.0,412.9 758.2,403.0 758.5,428.9 758.8,475.5 759.0,412.1 759.2,424.6 759.5,425.5 759.8,386.5 760.0,420.4 760.2,404.3 760.5,447.8 760.8,413.1 761.0,402.9 761.2,413.8 761.5,421.3 761.8,407.2 762.0,417.0 762.2,395.9 762.5,413.7 762.8,434.0 763.0,462.2 763.2,432.5 763.5,423.4 763.8,443.2 764.0,439.4 764.2,454.6 764.5,440.9 764.8,415.8 765.0,423.2 765.2,421.6 765.5,424.1 765.8,422.1 766.0,403.0 766.2,390.2 766.5,405.1 766.8,390.8 767.0,419.5 767.2,418.2 767.5,393.5 767.8,432.3 768.0,436.2 768.2,420.1 768.5,454.9 768.8,459.9 769.0,397.2 769.2,440.0 769.5,427.1 769.8,426.6 770.0,437.7 770.2,404.3 770.5,406.7 770.8,402.2 771.0,403.6 771.2,416.4 771.5,395.4 771.8,398.5 772.0,430.0 772.2,416.9 772.5,426.0 772.8,392.0 773.0,403.1 773.2,407.5 773.5,419.0 773.8,406.9 774.0,437.8 774.2,417.2 774.5,418.7 774.8,418.6 775.0,432.9 775.2,409.2 775.5,442.1 775.8,427.6 776.0,421.4 776.2,419.2 776.5,428.9 776.8,439.7 777.0,438.2 777.2,425.9 777.5,436.7 777.8,420.7 778.0,445.2 778.2,417.9 778.5,390.6 778.8,447.2 779.0,420.6 779.2,397.7 779.5,414.6 779.8,401.3 780.0,466.2 780.2,428.6 780.5,394.6 780.8,429.6 781.0,410.7 781.2,461.5 781.5,398.6 781.8,389.4 782.0,419.8 782.2,411.8 782.5,410.4 782.8,390.2 783.0,427.1 783.2,455.5 783.5,392.0 783.8,443.5 784.0,407.5 784.2,472.9 784.5,427.4 784.8,414.9 785.0,442.0 785.2,429.3 785.5,407.1 785.8,433.2 786.0,408.7 786.2,393.0 786.5,464.6 786.8,411.8 787.0,406.8 787.2,425.4 787.5,394.8 787.8,396.4 788.0,408.9 788.2,408.5 788.5,420.1 788.8,442.5 789.0,409.4 789.2,428.7 789.5,431.0 789.8,398.6 790.0,423.2 790.2,400.3 790.5,441.2 790.8,427.9 791.0,419.1 791.2,396.6 791.5,421.0 791.8,403.8 792.0,433.3 792.2,416.4 792.5,402.9 792.8,438.2 793.0,433.7 793.2,407.2 793.5,443.6 793.8,413.0 794.0,412.8 794.2,421.2 794.5,404.1 794.8,410.2 795.0,415.7 795.2,452.3 795.5,451.6 795.8,413.8 796.0,454.3 796.2,418.0 796.5,426.5 796.8,437.3 797.0,424.7 797.2,475.1 797.5,423.7 797.8,397.8 798.0,447.0 798.2,410.8 798.5,412.9 798.8,383.8 799.0,440.0 799.2,435.9 799.5,435.5 799.8,439.5 800.0,456.4 800.2,418.0 800.5,438.6 800.8,404.4 801.0,412.0 801.2,441.3 801.5,426.8 801.8,396.8 802.0,426.2 802.2,415.4 802.5,403.0 802.8,427.7 803.0,411.1 803.2,395.0 803.5,398.6 803.8,458.5 804.0,395.4 804.2,423.4 804.5,431.5 804.8,432.1 805.0,397.7" fill="none" stroke="#56b4e6" stroke-width="2.2" stroke-linejoin="round" stroke-linejoin="miter" stroke-miterlimit="2"/>
<polyline points="142.5,468.0 142.5,29.5 144.6,104.0 147.8,167.0 151.0,205.0 154.0,238.0 156.5,262.0 158.5,280.0 160.5,295.0" fill="none" stroke="#2a7bff" stroke-width="3.2" stroke-linejoin="round" />
<polyline points="160.5,295.8 160.8,298.3 161.0,301.7 161.2,296.7 161.5,295.6 161.8,305.1 162.0,306.3 162.2,303.6 162.5,299.8 162.8,305.1 163.0,304.3 163.2,308.6 163.5,299.6 163.8,306.0 164.0,305.2 164.2,301.2 164.5,308.2 164.8,307.7 165.0,305.8 165.2,310.8 165.5,302.5 165.8,309.1 166.0,312.5 166.2,312.0 166.5,317.7 166.8,304.7 167.0,304.2 167.2,313.5 167.5,315.3 167.8,328.4 168.0,317.3 168.2,307.9 168.5,319.5 168.8,308.7 169.0,306.7 169.2,336.0 169.5,317.6 169.8,320.8 170.0,320.0 170.2,330.5 170.5,318.7 170.8,326.2 171.0,310.3 171.2,309.6 171.5,329.1 171.8,329.9 172.0,322.4 172.2,320.5 172.5,320.4 172.8,314.5 173.0,332.3 173.2,325.1 173.5,324.2 173.8,323.5 174.0,329.3 174.2,325.1 174.5,327.3 174.8,313.8 175.0,325.9 175.2,341.5 175.5,318.6 175.8,321.8 176.0,330.3 176.2,331.1 176.5,328.5 176.8,314.2 177.0,328.0 177.2,316.0 177.5,318.1 177.8,329.1 178.0,322.6 178.2,331.9 178.5,356.3 178.8,332.1 179.0,331.9 179.2,319.0 179.5,321.2 179.8,318.4 180.0,322.5 180.2,318.7 180.5,321.9 180.8,325.7 181.0,319.6 181.2,318.4 181.5,318.8 181.8,332.1 182.0,329.0 182.2,337.7 182.5,338.1 182.8,326.3 183.0,335.1 183.2,319.8 183.5,352.0 183.8,340.8 184.0,328.4 184.2,321.5 184.5,333.8 184.8,319.5 185.0,324.5 185.2,337.9 185.5,332.1 185.8,327.5 186.0,340.5 186.2,323.5 186.5,334.7 186.8,328.2 187.0,325.5 187.2,337.0 187.5,324.6 187.8,352.0 188.0,328.5 188.2,353.5 188.5,325.0 188.8,339.6 189.0,325.0 189.2,324.7 189.5,336.1 189.8,341.1 190.0,325.5 190.2,346.6 190.5,328.5 190.8,336.9 191.0,339.3 191.2,341.5 191.5,324.7 191.8,352.5 192.0,341.8 192.2,333.1 192.5,328.1 192.8,325.9 193.0,327.2 193.2,342.6 193.5,334.7 193.8,328.6 194.0,333.4 194.2,354.1 194.5,335.5 194.8,333.4 195.0,352.3 195.2,343.3 195.5,339.6 195.8,333.9 196.0,328.5 196.2,330.0 196.5,335.5 196.8,338.0 197.0,343.5 197.2,345.6 197.5,342.6 197.8,342.7 198.0,331.6 198.2,327.5 198.5,336.3 198.8,332.4 199.0,335.4 199.2,339.0 199.5,331.5 199.8,332.1 200.0,341.1 200.2,343.2 200.5,336.1 200.8,347.3 201.0,340.5 201.2,333.2 201.5,343.2 201.8,363.5 202.0,336.7 202.2,355.4 202.5,358.0 202.8,359.6 203.0,335.8 203.2,366.3 203.5,345.1 203.8,341.6 204.0,342.0 204.2,350.4 204.5,345.0 204.8,342.9 205.0,358.5 205.2,337.8 205.5,335.0 205.8,353.4 206.0,352.5 206.2,357.1 206.5,335.4 206.8,357.2 207.0,350.7 207.2,365.8 207.5,335.1 207.8,348.3 208.0,343.5 208.2,334.0 208.5,339.4 208.8,359.0 209.0,342.1 209.2,339.6 209.5,356.4 209.8,357.9 210.0,358.1 210.2,339.4 210.5,346.9 210.8,359.0 211.0,341.1 211.2,340.2 211.5,357.0 211.8,366.2 212.0,337.3 212.2,331.5 212.5,336.3 212.8,338.2 213.0,347.3 213.2,355.5 213.5,347.4 213.8,341.8 214.0,350.8 214.2,339.2 214.5,348.9 214.8,342.8 215.0,383.9 215.2,358.9 215.5,341.1 215.8,339.4 216.0,345.5 216.2,336.9 216.5,342.6 216.8,342.6 217.0,360.7 217.2,346.1 217.5,342.3 217.8,338.7 218.0,339.5 218.2,350.4 218.5,348.9 218.8,364.7 219.0,344.6 219.2,364.0 219.5,354.5 219.8,351.7 220.0,336.6 220.2,339.8 220.5,360.7 220.8,369.3 221.0,354.6 221.2,361.3 221.5,348.0 221.8,348.5 222.0,345.4 222.2,364.5 222.5,356.9 222.8,350.5 223.0,349.5 223.2,359.8 223.5,357.1 223.8,344.2 224.0,375.5 224.2,356.6 224.5,353.9 224.8,372.5 225.0,366.5 225.2,353.1 225.5,360.5 225.8,342.6 226.0,347.1 226.2,337.4 226.5,369.9 226.8,339.2 227.0,363.0 227.2,345.4 227.5,343.8 227.8,352.9 228.0,358.3 228.2,362.7 228.5,378.8 228.8,359.8 229.0,366.5 229.2,348.8 229.5,364.6 229.8,357.7 230.0,350.6 230.2,355.0 230.5,355.5 230.8,358.6 231.0,361.2 231.2,350.5 231.5,347.9 231.8,366.0 232.0,341.7 232.2,349.6 232.5,377.6 232.8,337.1 233.0,348.9 233.2,365.8 233.5,342.3 233.8,394.8 234.0,338.0 234.2,376.7 234.5,378.6 234.8,369.6 235.0,355.2 235.2,362.4 235.5,347.3 235.8,368.5 236.0,345.6 236.2,355.0 236.5,371.4 236.8,345.9 237.0,354.2 237.2,360.7 237.5,345.0 237.8,374.3 238.0,363.2 238.2,344.4 238.5,358.6 238.8,349.8 239.0,351.3 239.2,360.3 239.5,350.8 239.8,372.3 240.0,351.0 240.2,372.8 240.5,359.3 240.8,371.2 241.0,353.3 241.2,353.9 241.5,347.1 241.8,367.7 242.0,372.8 242.2,391.2 242.5,378.2 242.8,363.8 243.0,358.1 243.2,365.8 243.5,360.5 243.8,381.3 244.0,373.7 244.2,350.7 244.5,352.6 244.8,380.3 245.0,365.3 245.2,358.5 245.5,377.8 245.8,356.7 246.0,358.2 246.2,356.0 246.5,344.4 246.8,373.6 247.0,348.3 247.2,354.9 247.5,352.8 247.8,372.0 248.0,361.5 248.2,362.6 248.5,346.4 248.8,361.5 249.0,347.5 249.2,366.8 249.5,367.6 249.8,362.7 250.0,393.3 250.2,370.1 250.5,371.1 250.8,365.1 251.0,360.9 251.2,376.7 251.5,378.8 251.8,349.2 252.0,378.3 252.2,370.6 252.5,377.1 252.8,370.1 253.0,349.8 253.2,350.3 253.5,391.0 253.8,367.5 254.0,349.2 254.2,368.9 254.5,359.7 254.8,347.2 255.0,345.0 255.2,348.6 255.5,368.3 255.8,364.2 256.0,361.6 256.2,368.7 256.5,373.2 256.8,346.4 257.0,361.2 257.2,354.5 257.5,351.1 257.8,358.2 258.0,363.8 258.2,362.0 258.5,350.2 258.8,359.4 259.0,396.3 259.2,352.4 259.5,349.2 259.8,369.6 260.0,374.2 260.2,372.4 260.5,352.4 260.8,380.4 261.0,356.0 261.2,352.5 261.5,358.4 261.8,365.1 262.0,376.5 262.2,375.3 262.5,366.4 262.8,380.0 263.0,368.0 263.2,379.6 263.5,351.6 263.8,350.8 264.0,378.1 264.2,351.9 264.5,363.3 264.8,366.0 265.0,360.9 265.2,361.5 265.5,388.1 265.8,346.2 266.0,380.3 266.2,403.9 266.5,368.1 266.8,367.6 267.0,378.2 267.2,396.0 267.5,353.7 267.8,369.3 268.0,365.7 268.2,376.1 268.5,370.5 268.8,377.7 269.0,362.8 269.2,369.2 269.5,359.6 269.8,359.8 270.0,366.8 270.2,366.9 270.5,354.5 270.8,392.7 271.0,367.2 271.2,353.5 271.5,385.3 271.8,359.1 272.0,376.4 272.2,369.1 272.5,372.8 272.8,371.8 273.0,361.7 273.2,370.1 273.5,401.7 273.8,349.4 274.0,370.7 274.2,375.9 274.5,356.0 274.8,354.4 275.0,404.4 275.2,365.0 275.5,403.1 275.8,377.8 276.0,371.3 276.2,377.1 276.5,379.5 276.8,388.1 277.0,376.7 277.2,372.6 277.5,373.1 277.8,391.2 278.0,382.7 278.2,357.1 278.5,362.2 278.8,375.6 279.0,362.5 279.2,365.9 279.5,358.0 279.8,367.6 280.0,377.3 280.2,386.1 280.5,371.5 280.8,404.7 281.0,370.4 281.2,426.8 281.5,386.5 281.8,378.8 282.0,364.8 282.2,347.9 282.5,369.7 282.8,374.4 283.0,402.7 283.2,356.1 283.5,402.5 283.8,368.7 284.0,382.8 284.2,349.9 284.5,374.3 284.8,367.6 285.0,382.4 285.2,373.8 285.5,357.9 285.8,386.8 286.0,382.9 286.2,381.5 286.5,388.0 286.8,389.6 287.0,372.6 287.2,357.0 287.5,356.9 287.8,394.0 288.0,383.7 288.2,374.7 288.5,367.2 288.8,373.8 289.0,373.7 289.2,368.7 289.5,363.7 289.8,409.2 290.0,376.9 290.2,365.2 290.5,358.0 290.8,363.6 291.0,384.6 291.2,385.2 291.5,370.9 291.8,374.8 292.0,369.8 292.2,359.5 292.5,394.5 292.8,379.7 293.0,416.2 293.2,363.7 293.5,372.5 293.8,387.9 294.0,371.1 294.2,358.3 294.5,361.3 294.8,376.2 295.0,379.8 295.2,373.5 295.5,390.3 295.8,390.2 296.0,379.8 296.2,375.5 296.5,371.6 296.8,383.4 297.0,389.3 297.2,376.2 297.5,382.0 297.8,370.8 298.0,358.9 298.2,361.3 298.5,387.2 298.8,382.3 299.0,401.3 299.2,376.6 299.5,389.1 299.8,396.8 300.0,391.3 300.2,367.4 300.5,373.5 300.8,378.1 301.0,362.1 301.2,383.4 301.5,392.2 301.8,369.5 302.0,409.2 302.2,372.4 302.5,373.7 302.8,373.2 303.0,366.5 303.2,383.0 303.5,377.1 303.8,404.0 304.0,386.1 304.2,385.1 304.5,373.9 304.8,360.3 305.0,375.9 305.2,365.0 305.5,392.1 305.8,376.9 306.0,404.7 306.2,388.7 306.5,390.4 306.8,381.0 307.0,380.7 307.2,387.7 307.5,392.1 307.8,367.5 308.0,385.3 308.2,423.9 308.5,376.7 308.8,374.4 309.0,368.1 309.2,361.1 309.5,397.2 309.8,379.2 310.0,382.8 310.2,409.2 310.5,422.3 310.8,365.6 311.0,395.3 311.2,388.2 311.5,384.7 311.8,386.1 312.0,378.5 312.2,405.1 312.5,388.4 312.8,384.2 313.0,399.2 313.2,393.2 313.5,386.2 313.8,384.2 314.0,408.7 314.2,387.2 314.5,378.2 314.8,367.0 315.0,374.5 315.2,364.7 315.5,381.3 315.8,383.6 316.0,358.9 316.2,380.1 316.5,390.0 316.8,382.5 317.0,366.0 317.2,400.7 317.5,369.9 317.8,364.1 318.0,365.1 318.2,380.1 318.5,396.0 318.8,399.2 319.0,383.6 319.2,364.6 319.5,370.9 319.8,367.4 320.0,378.1 320.2,361.4 320.5,382.5 320.8,390.9 321.0,378.7 321.2,388.1 321.5,367.2 321.8,363.6 322.0,371.7 322.2,400.0 322.5,397.8 322.8,374.6 323.0,401.0 323.2,376.6 323.5,406.7 323.8,389.0 324.0,374.9 324.2,394.2 324.5,370.2 324.8,367.9 325.0,364.3 325.2,385.8 325.5,381.2 325.8,380.9 326.0,376.0 326.2,406.0 326.5,375.9 326.8,371.4 327.0,402.7 327.2,406.0 327.5,387.6 327.8,363.1 328.0,373.5 328.2,392.2 328.5,382.9 328.8,408.8 329.0,365.6 329.2,393.5 329.5,373.4 329.8,404.8 330.0,381.8 330.2,399.7 330.5,373.3 330.8,365.7 331.0,367.5 331.2,374.1 331.5,368.1 331.8,403.1 332.0,405.6 332.2,387.6 332.5,368.2 332.8,381.8 333.0,373.3 333.2,408.1 333.5,388.6 333.8,391.4 334.0,377.8 334.2,362.7 334.5,372.3 334.8,368.2 335.0,389.8 335.2,385.5 335.5,372.0 335.8,378.3 336.0,410.8 336.2,369.8 336.5,370.5 336.8,380.9 337.0,373.9 337.2,378.0 337.5,392.9 337.8,414.4 338.0,364.8 338.2,384.4 338.5,385.4 338.8,383.5 339.0,382.0 339.2,379.7 339.5,401.4 339.8,377.9 340.0,383.1 340.2,385.1 340.5,386.8 340.8,382.6 341.0,401.6 341.2,385.2 341.5,388.0 341.8,384.6 342.0,370.2 342.2,372.9 342.5,370.0 342.8,388.6 343.0,374.8 343.2,370.1 343.5,389.5 343.8,394.1 344.0,366.0 344.2,415.2 344.5,386.4 344.8,384.4 345.0,403.7 345.2,387.2 345.5,376.9 345.8,425.6 346.0,370.5 346.2,384.8 346.5,400.2 346.8,370.7 347.0,384.9 347.2,392.6 347.5,430.4 347.8,372.9 348.0,385.9 348.2,397.3 348.5,388.0 348.8,370.2 349.0,393.3 349.2,388.5 349.5,394.0 349.8,405.9 350.0,403.8 350.2,393.5 350.5,392.0 350.8,371.2 351.0,385.1 351.2,390.7 351.5,381.1 351.8,388.8 352.0,374.7 352.2,413.9 352.5,426.3 352.8,381.5 353.0,393.9 353.2,384.0 353.5,409.1 353.8,394.6 354.0,388.9 354.2,384.3 354.5,389.8 354.8,372.4 355.0,398.9 355.2,376.9 355.5,396.6 355.8,390.1 356.0,406.5 356.2,387.9 356.5,405.3 356.8,373.9 357.0,398.2 357.2,384.8 357.5,391.4 357.8,389.5 358.0,404.0 358.2,366.7 358.5,393.7 358.8,370.0 359.0,409.1 359.2,367.1 359.5,373.1 359.8,369.0 360.0,417.6 360.2,371.5 360.5,390.7 360.8,380.6 361.0,368.4 361.2,383.7 361.5,399.9 361.8,386.2 362.0,404.9 362.2,383.5 362.5,389.3 362.8,383.3 363.0,394.8 363.2,423.4 363.5,395.2 363.8,392.5 364.0,379.8 364.2,377.7 364.5,415.1 364.8,373.3 365.0,375.4 365.2,388.1 365.5,383.0 365.8,425.1 366.0,365.6 366.2,395.6 366.5,401.6 366.8,373.5 367.0,379.9 367.2,397.0 367.5,418.9 367.8,375.7 368.0,370.8 368.2,406.6 368.5,417.0 368.8,385.0 369.0,367.0 369.2,415.7 369.5,387.2 369.8,409.6 370.0,389.8 370.2,384.6 370.5,383.4 370.8,416.4 371.0,415.7 371.2,367.8 371.5,376.0 371.8,422.6 372.0,385.0 372.2,372.8 372.5,390.9 372.8,389.2 373.0,389.4 373.2,383.4 373.5,386.1 373.8,383.8 374.0,396.5 374.2,378.3 374.5,386.6 374.8,388.9 375.0,414.0 375.2,397.3 375.5,389.6 375.8,400.2 376.0,398.0 376.2,410.1 376.5,399.8 376.8,423.9 377.0,415.1 377.2,390.9 377.5,385.1 377.8,406.6 378.0,400.2 378.2,390.2 378.5,372.9 378.8,370.7 379.0,397.5 379.2,404.8 379.5,405.5 379.8,374.3 380.0,409.8 380.2,383.6 380.5,398.4 380.8,398.9 381.0,379.4 381.2,382.8 381.5,369.5 381.8,377.7 382.0,371.3 382.2,399.5 382.5,393.4 382.8,408.0 383.0,398.3 383.2,382.4 383.5,398.2 383.8,386.4 384.0,402.8 384.2,397.8 384.5,376.9 384.8,392.8 385.0,393.6 385.2,387.9 385.5,408.1 385.8,423.9 386.0,387.0 386.2,387.4 386.5,369.1 386.8,391.0 387.0,386.1 387.2,369.7 387.5,397.8 387.8,403.1 388.0,381.5 388.2,387.3 388.5,377.8 388.8,406.3 389.0,374.1 389.2,388.4 389.5,429.5 389.8,394.3 390.0,401.3 390.2,391.2 390.5,376.5 390.8,393.1 391.0,400.4 391.2,377.5 391.5,399.4 391.8,415.7 392.0,412.4 392.2,374.1 392.5,378.2 392.8,373.9 393.0,412.6 393.2,404.3 393.5,406.0 393.8,380.0 394.0,377.0 394.2,395.4 394.5,395.8 394.8,380.5 395.0,396.6 395.2,405.2 395.5,398.1 395.8,378.0 396.0,371.2 396.2,390.3 396.5,397.2 396.8,390.3 397.0,387.7 397.2,383.5 397.5,406.8 397.8,393.8 398.0,396.7 398.2,379.1 398.5,384.8 398.8,397.5 399.0,378.7 399.2,377.1 399.5,389.6 399.8,416.2 400.0,398.1 400.2,421.4 400.5,392.9 400.8,390.1 401.0,376.4 401.2,385.9 401.5,421.1 401.8,400.7 402.0,407.9 402.2,407.4 402.5,395.2 402.8,392.1 403.0,397.4 403.2,406.9 403.5,403.2 403.8,403.8 404.0,398.1 404.2,383.1 404.5,391.4 404.8,380.4 405.0,413.3 405.2,372.4 405.5,392.3 405.8,442.0 406.0,390.3 406.2,378.8 406.5,395.7 406.8,419.1 407.0,393.4 407.2,406.5 407.5,397.7 407.8,390.1 408.0,460.3 408.2,397.4 408.5,387.5 408.8,388.3 409.0,402.7 409.2,403.2 409.5,409.7 409.8,398.7 410.0,377.4 410.2,405.5 410.5,391.5 410.8,391.9 411.0,377.1 411.2,387.3 411.5,384.8 411.8,396.1 412.0,377.5 412.2,397.6 412.5,398.9 412.8,379.7 413.0,386.7 413.2,382.9 413.5,412.9 413.8,370.7 414.0,391.4 414.2,376.4 414.5,390.0 414.8,411.9 415.0,386.8 415.2,399.5 415.5,383.4 415.8,434.0 416.0,413.4 416.2,417.5 416.5,378.8 416.8,380.4 417.0,416.7 417.2,394.3 417.5,393.3 417.8,403.2 418.0,379.5 418.2,411.1 418.5,398.0 418.8,405.9 419.0,386.7 419.2,406.5 419.5,386.2 419.8,414.7 420.0,418.1 420.2,414.0 420.5,406.8 420.8,408.9 421.0,370.3 421.2,412.7 421.5,393.6 421.8,399.7 422.0,393.5 422.2,379.1 422.5,389.3 422.8,409.7 423.0,424.3 423.2,388.1 423.5,383.5 423.8,425.1 424.0,383.9 424.2,438.3 424.5,399.3 424.8,384.0 425.0,416.1 425.2,430.3 425.5,379.3 425.8,427.6 426.0,394.0 426.2,426.2 426.5,392.5 426.8,378.5 427.0,407.5 427.2,415.3 427.5,439.4 427.8,431.4 428.0,411.1 428.2,395.1 428.5,390.4 428.8,394.2 429.0,385.4 429.2,394.6 429.5,372.4 429.8,402.2 430.0,398.8 430.2,450.5 430.5,412.7 430.8,391.4 431.0,409.2 431.2,381.3 431.5,389.5 431.8,377.1 432.0,426.1 432.2,409.9 432.5,381.8 432.8,398.6 433.0,416.6 433.2,408.2 433.5,406.3 433.8,385.5 434.0,389.2 434.2,401.4 434.5,416.3 434.8,386.1 435.0,382.5 435.2,420.7 435.5,384.5 435.8,419.5 436.0,404.2 436.2,415.8 436.5,433.2 436.8,412.3 437.0,413.9 437.2,384.9 437.5,388.7 437.8,411.6 438.0,429.1 438.2,426.2 438.5,446.2 438.8,405.8 439.0,403.9 439.2,418.7 439.5,400.9 439.8,399.5 440.0,383.6 440.2,418.5 440.5,383.5 440.8,409.6 441.0,381.2 441.2,420.7 441.5,383.9 441.8,415.9 442.0,380.2 442.2,393.6 442.5,422.5 442.8,387.5 443.0,402.2 443.2,393.1 443.5,375.6 443.8,406.4 444.0,408.7 444.2,383.7 444.5,411.3 444.8,387.9 445.0,384.5 445.2,401.5 445.5,389.9 445.8,446.9 446.0,380.9 446.2,414.6 446.5,419.4 446.8,378.2 447.0,379.9 447.2,411.5 447.5,393.6 447.8,408.3 448.0,422.6 448.2,395.5 448.5,384.6 448.8,373.4 449.0,405.4 449.2,386.3 449.5,407.3 449.8,405.9 450.0,382.6 450.2,435.0 450.5,421.9 450.8,417.4 451.0,384.1 451.2,395.3 451.5,393.0 451.8,395.3 452.0,384.6 452.2,409.9 452.5,406.3 452.8,408.7 453.0,393.9 453.2,426.5 453.5,405.7 453.8,373.9 454.0,391.8 454.2,401.6 454.5,420.2 454.8,397.6 455.0,398.5 455.2,391.6 455.5,414.6 455.8,395.3 456.0,392.7 456.2,390.3 456.5,412.8 456.8,394.0 457.0,381.5 457.2,414.1 457.5,391.2 457.8,409.3 458.0,409.7 458.2,425.5 458.5,422.4 458.8,393.5 459.0,400.5 459.2,384.4 459.5,435.6 459.8,411.1 460.0,429.7 460.2,398.1 460.5,379.4 460.8,432.7 461.0,405.2 461.2,405.9 461.5,404.6 461.8,415.2 462.0,413.2 462.2,382.8 462.5,423.9 462.8,394.9 463.0,395.9 463.2,437.3 463.5,420.7 463.8,398.2 464.0,381.2 464.2,406.8 464.5,413.6 464.8,402.8 465.0,385.5 465.2,390.8 465.5,385.5 465.8,408.0 466.0,419.2 466.2,423.2 466.5,391.9 466.8,408.5 467.0,414.3 467.2,395.8 467.5,402.0 467.8,446.9 468.0,408.2 468.2,420.8 468.5,397.3 468.8,405.4 469.0,382.8 469.2,404.4 469.5,427.1 469.8,446.7 470.0,427.3 470.2,417.3 470.5,405.9 470.8,394.8 471.0,402.3 471.2,416.1 471.5,391.7 471.8,422.3 472.0,388.4 472.2,382.8 472.5,388.1 472.8,383.7 473.0,385.7 473.2,426.5 473.5,402.0 473.8,409.3 474.0,427.1 474.2,429.2 474.5,396.9 474.8,430.8 475.0,412.4 475.2,405.7 475.5,413.5 475.8,385.7 476.0,392.3 476.2,404.0 476.5,416.8 476.8,399.5 477.0,403.7 477.2,423.9 477.5,432.9 477.8,420.0 478.0,430.0 478.2,399.2 478.5,400.9 478.8,411.8 479.0,401.0 479.2,397.5 479.5,438.4 479.8,402.9 480.0,389.8 480.2,415.1 480.5,442.6 480.8,407.9 481.0,429.8 481.2,399.0 481.5,398.1 481.8,394.7 482.0,404.2 482.2,442.9 482.5,388.4 482.8,438.6 483.0,389.5 483.2,402.8 483.5,422.2 483.8,418.3 484.0,411.9 484.2,385.2 484.5,413.4 484.8,389.6 485.0,460.4 485.2,403.4 485.5,410.4 485.8,388.9 486.0,398.9 486.2,388.0 486.5,425.5 486.8,402.8 487.0,417.5 487.2,395.5 487.5,398.7 487.8,432.0 488.0,390.7 488.2,384.7 488.5,414.8 488.8,389.3 489.0,400.0 489.2,424.5 489.5,393.5 489.8,424.0 490.0,396.0 490.2,436.6 490.5,433.2 490.8,399.7 491.0,404.2 491.2,393.5 491.5,411.5 491.8,429.7 492.0,387.6 492.2,425.1 492.5,388.5 492.8,393.2 493.0,385.3 493.2,450.8 493.5,409.2 493.8,412.6 494.0,396.5 494.2,428.4 494.5,383.3 494.8,408.8 495.0,453.4 495.2,401.8 495.5,408.7 495.8,420.8 496.0,394.4 496.2,408.9 496.5,426.5 496.8,412.0 497.0,415.3 497.2,402.6 497.5,414.3 497.8,409.7 498.0,437.0 498.2,422.1 498.5,404.6 498.8,381.4 499.0,422.0 499.2,422.8 499.5,393.0 499.8,384.6 500.0,390.6 500.2,426.3 500.5,391.2 500.8,401.1 501.0,413.0 501.2,432.6 501.5,408.9 501.8,407.5 502.0,399.7 502.2,441.4 502.5,429.5 502.8,407.7 503.0,389.2 503.2,395.6 503.5,420.0 503.8,396.9 504.0,426.2 504.2,416.0 504.5,414.8 504.8,421.6 505.0,418.6 505.2,394.7 505.5,404.0 505.8,458.2 506.0,390.8 506.2,401.5 506.5,430.0 506.8,407.0 507.0,395.6 507.2,390.1 507.5,419.7 507.8,429.2 508.0,437.2 508.2,410.9 508.5,429.8 508.8,392.3 509.0,413.0 509.2,398.2 509.5,413.2 509.8,424.1 510.0,430.5 510.2,392.9 510.5,434.7 510.8,402.0 511.0,392.6 511.2,407.3 511.5,389.6 511.8,410.5 512.0,415.6 512.2,406.9 512.5,420.3 512.8,405.0 513.0,410.6 513.2,389.9 513.5,411.3 513.8,395.7 514.0,402.8 514.2,409.0 514.5,414.1 514.8,388.6 515.0,389.3 515.2,405.5 515.5,419.5 515.8,417.4 516.0,427.7 516.2,436.2 516.5,420.0 516.8,410.6 517.0,393.2 517.2,394.4 517.5,402.8 517.8,415.9 518.0,415.1 518.2,411.2 518.5,408.5 518.8,422.9 519.0,415.0 519.2,416.6 519.5,416.9 519.8,401.7 520.0,393.5 520.2,420.4 520.5,419.0 520.8,407.6 521.0,404.1 521.2,459.0 521.5,398.1 521.8,407.7 522.0,416.4 522.2,392.9 522.5,413.7 522.8,447.9 523.0,429.4 523.2,423.4 523.5,422.7 523.8,413.8 524.0,430.0 524.2,409.1 524.5,404.4 524.8,413.7 525.0,429.1 525.2,417.9 525.5,424.5 525.8,387.1 526.0,435.1 526.2,461.2 526.5,438.2 526.8,406.5 527.0,397.1 527.2,417.2 527.5,394.7 527.8,425.8 528.0,403.0 528.2,430.6 528.5,439.0 528.8,387.3 529.0,417.7 529.2,400.0 529.5,391.8 529.8,401.5 530.0,408.6 530.2,432.3 530.5,391.1 530.8,432.8 531.0,454.1 531.2,423.7 531.5,422.8 531.8,412.4 532.0,393.7 532.2,422.6 532.5,419.8 532.8,426.5 533.0,467.8 533.2,426.5 533.5,420.7 533.8,444.1 534.0,392.7 534.2,394.2 534.5,406.3 534.8,401.4 535.0,426.1 535.2,407.4 535.5,448.3 535.8,443.4 536.0,427.7 536.2,406.3 536.5,424.7 536.8,428.6 537.0,395.0 537.2,419.7 537.5,426.6 537.8,417.3 538.0,444.8 538.2,437.1 538.5,398.7 538.8,415.7 539.0,398.6 539.2,424.3 539.5,398.1 539.8,431.2 540.0,420.7 540.2,432.3 540.5,411.1 540.8,392.6 541.0,449.6 541.2,410.7 541.5,441.0 541.8,421.7 542.0,426.5 542.2,451.2 542.5,420.1 542.8,441.7 543.0,392.6 543.2,430.6 543.5,409.7 543.8,411.6 544.0,414.2 544.2,420.4 544.5,447.6 544.8,390.2 545.0,414.9 545.2,401.4 545.5,436.9 545.8,406.7 546.0,422.7 546.2,407.2 546.5,426.9 546.8,433.9 547.0,407.2 547.2,415.2 547.5,393.5 547.8,420.0 548.0,430.8 548.2,404.5 548.5,436.3 548.8,389.0 549.0,390.6 549.2,393.9 549.5,405.9 549.8,415.0 550.0,413.2 550.2,413.5 550.5,428.4 550.8,406.3 551.0,395.0 551.2,395.1 551.5,459.1 551.8,387.2 552.0,411.7 552.2,444.1 552.5,423.9 552.8,400.1 553.0,415.0 553.2,431.5 553.5,438.8 553.8,398.9 554.0,429.5 554.2,419.7 554.5,436.7 554.8,442.9 555.0,409.0 555.2,394.0 555.5,422.5 555.8,451.7 556.0,428.2 556.2,419.5 556.5,466.7 556.8,397.1 557.0,432.8 557.2,405.1 557.5,416.3 557.8,417.1 558.0,446.0 558.2,398.7 558.5,405.9 558.8,393.3 559.0,424.7 559.2,407.3 559.5,423.5 559.8,397.1 560.0,409.2 560.2,435.9 560.5,412.6 560.8,427.6 561.0,425.7 561.2,409.4 561.5,393.8 561.8,435.0 562.0,419.0 562.2,435.0 562.5,390.6 562.8,393.2 563.0,389.7 563.2,400.2 563.5,436.3 563.8,426.7 564.0,415.4 564.2,418.5 564.5,430.6 564.8,410.7 565.0,423.5 565.2,418.7 565.5,389.6 565.8,409.3 566.0,443.4 566.2,409.1 566.5,413.7 566.8,405.4 567.0,407.6 567.2,438.5 567.5,411.5 567.8,398.2 568.0,383.1 568.2,406.1 568.5,391.4 568.8,392.5 569.0,431.8 569.2,430.1 569.5,391.9 569.8,433.0 570.0,425.2 570.2,402.5 570.5,430.7 570.8,394.1 571.0,397.1 571.2,395.5 571.5,397.8 571.8,433.8 572.0,396.3 572.2,397.6 572.5,399.6 572.8,420.5 573.0,410.7 573.2,433.6 573.5,404.0 573.8,396.7 574.0,407.8 574.2,417.6 574.5,400.1 574.8,422.1 575.0,454.6 575.2,406.4 575.5,417.8 575.8,444.1 576.0,405.2 576.2,401.6 576.5,398.3 576.8,424.4 577.0,426.7 577.2,414.3 577.5,417.8 577.8,442.4 578.0,433.8 578.2,396.1 578.5,416.8 578.8,418.9 579.0,430.8 579.2,412.9 579.5,405.3 579.8,408.7 580.0,393.5 580.2,416.6 580.5,406.2 580.8,425.8 581.0,399.0 581.2,409.1 581.5,399.4 581.8,398.7 582.0,430.4 582.2,408.6 582.5,425.4 582.8,398.4 583.0,418.9 583.2,394.3 583.5,408.4 583.8,408.0 584.0,428.1 584.2,420.4 584.5,413.9 584.8,433.3 585.0,420.7 585.2,427.3 585.5,431.9 585.8,416.0 586.0,411.9 586.2,423.3 586.5,409.6 586.8,424.5 587.0,439.1 587.2,433.8 587.5,410.3 587.8,397.5 588.0,416.3 588.2,415.0 588.5,439.1 588.8,410.4 589.0,413.6 589.2,431.5 589.5,408.7 589.8,414.5 590.0,452.7 590.2,447.6 590.5,429.4 590.8,422.5 591.0,400.0 591.2,428.1 591.5,418.6 591.8,421.6 592.0,408.1 592.2,417.4 592.5,414.3 592.8,423.5 593.0,446.5 593.2,424.4 593.5,395.1 593.8,400.2 594.0,395.7 594.2,403.3 594.5,428.3 594.8,425.3 595.0,406.8 595.2,422.7 595.5,404.0 595.8,397.0 596.0,397.1 596.2,402.2 596.5,446.6 596.8,397.6 597.0,442.7 597.2,444.6 597.5,414.6 597.8,417.1 598.0,406.8 598.2,417.5 598.5,430.6 598.8,418.2 599.0,437.6 599.2,441.6 599.5,424.4 599.8,424.1 600.0,416.9 600.2,424.5 600.5,399.5 600.8,425.7 601.0,421.9 601.2,402.4 601.5,464.0 601.8,400.6 602.0,402.3 602.2,423.4 602.5,393.6 602.8,403.7 603.0,396.6 603.2,400.7 603.5,415.8 603.8,424.2 604.0,440.1 604.2,433.9 604.5,441.9 604.8,429.5 605.0,409.8 605.2,440.5 605.5,409.4 605.8,407.1 606.0,449.6 606.2,433.7 606.5,422.5 606.8,433.0 607.0,435.6 607.2,398.0 607.5,416.8 607.8,399.4 608.0,420.8 608.2,406.2 608.5,446.0 608.8,428.4 609.0,403.7 609.2,418.2 609.5,399.3 609.8,419.4 610.0,429.0 610.2,423.5 610.5,394.0 610.8,412.5 611.0,428.3 611.2,424.4 611.5,441.8 611.8,398.8 612.0,428.7 612.2,406.8 612.5,422.4 612.8,426.4 613.0,432.0 613.2,408.2 613.5,422.2 613.8,399.8 614.0,398.0 614.2,429.5 614.5,417.9 614.8,396.5 615.0,403.2 615.2,419.3 615.5,450.9 615.8,439.6 616.0,434.5 616.2,395.4 616.5,417.2 616.8,428.1 617.0,426.4 617.2,426.9 617.5,414.7 617.8,455.8 618.0,449.3 618.2,417.3 618.5,401.4 618.8,462.9 619.0,408.9 619.2,443.2 619.5,459.5 619.8,401.7 620.0,424.6 620.2,412.8 620.5,429.0 620.8,425.2 621.0,460.5 621.2,430.6 621.5,419.1 621.8,441.8 622.0,414.3 622.2,412.5 622.5,467.8 622.8,404.1 623.0,410.3 623.2,420.2 623.5,401.1 623.8,393.3 624.0,440.4 624.2,404.9 624.5,409.4 624.8,412.6 625.0,401.7 625.2,401.1 625.5,422.5 625.8,472.0 626.0,433.8 626.2,434.1 626.5,397.9 626.8,419.1 627.0,400.3 627.2,434.7 627.5,415.4 627.8,420.3 628.0,418.0 628.2,408.8 628.5,397.9 628.8,430.8 629.0,398.9 629.2,400.5 629.5,414.2 629.8,406.6 630.0,424.7 630.2,439.8 630.5,424.4 630.8,423.5 631.0,420.2 631.2,436.7 631.5,395.6 631.8,426.8 632.0,402.5 632.2,400.2 632.5,420.0 632.8,412.7 633.0,431.1 633.2,442.0 633.5,392.1 633.8,418.6 634.0,461.7 634.2,437.1 634.5,449.7 634.8,421.9 635.0,398.8 635.2,401.2 635.5,433.9 635.8,439.1 636.0,406.5 636.2,415.1 636.5,425.0 636.8,396.6 637.0,413.6 637.2,453.9 637.5,467.6 637.8,418.1 638.0,458.9 638.2,410.4 638.5,405.1 638.8,393.0 639.0,439.2 639.2,413.3 639.5,471.6 639.8,426.6 640.0,423.8 640.2,396.3 640.5,451.4 640.8,413.6 641.0,417.3 641.2,393.4 641.5,438.8 641.8,440.1 642.0,409.1 642.2,422.1 642.5,427.9 642.8,439.6 643.0,422.4 643.2,456.8 643.5,416.0 643.8,409.2 644.0,411.8 644.2,391.0 644.5,405.5 644.8,440.7 645.0,425.6 645.2,405.3 645.5,427.3 645.8,395.0 646.0,415.3 646.2,430.8 646.5,434.3 646.8,406.2 647.0,438.9 647.2,460.6 647.5,412.8 647.8,435.3 648.0,398.5 648.2,395.5 648.5,432.7 648.8,421.6 649.0,424.6 649.2,409.9 649.5,415.4 649.8,436.9 650.0,457.2 650.2,416.9 650.5,397.9 650.8,447.0 651.0,432.7 651.2,434.3 651.5,424.4 651.8,472.2 652.0,422.4 652.2,431.0 652.5,396.5 652.8,410.2 653.0,408.2 653.2,420.5 653.5,427.7 653.8,407.1 654.0,457.8 654.2,402.5 654.5,412.7 654.8,425.7 655.0,401.1 655.2,432.3 655.5,433.6 655.8,415.7 656.0,462.2 656.2,422.8 656.5,426.6 656.8,403.4 657.0,398.0 657.2,409.4 657.5,415.2 657.8,412.7 658.0,436.5 658.2,392.7 658.5,402.1 658.8,396.9 659.0,449.0 659.2,410.8 659.5,411.7 659.8,402.4 660.0,439.4 660.2,413.7 660.5,425.6 660.8,395.5 661.0,445.3 661.2,429.1 661.5,432.2 661.8,446.8 662.0,417.9 662.2,418.4 662.5,435.7 662.8,429.8 663.0,417.0 663.2,422.4 663.5,412.1 663.8,435.7 664.0,440.4 664.2,421.7 664.5,462.1 664.8,399.3 665.0,417.3 665.2,458.1 665.5,413.7 665.8,398.9 666.0,450.8 666.2,432.4 666.5,402.0 666.8,437.2 667.0,403.3 667.2,400.9 667.5,418.9 667.8,412.7 668.0,402.8 668.2,414.9 668.5,403.5 668.8,423.0 669.0,421.4 669.2,436.7 669.5,413.3 669.8,401.1 670.0,401.2 670.2,417.3 670.5,454.3 670.8,438.9 671.0,409.8 671.2,441.0 671.5,402.4 671.8,442.6 672.0,414.8 672.2,437.3 672.5,434.3 672.8,416.8 673.0,428.4 673.2,403.2 673.5,420.7 673.8,444.2 674.0,524.5 674.2,436.1 674.5,423.8 674.8,403.7 675.0,443.7 675.2,398.8 675.5,407.0 675.8,429.1 676.0,402.3 676.2,454.7 676.5,444.6 676.8,411.5 677.0,411.7 677.2,401.4 677.5,400.8 677.8,430.9 678.0,434.6 678.2,429.1 678.5,427.4 678.8,411.7 679.0,429.3 679.2,400.3 679.5,422.5 679.8,453.4 680.0,449.9 680.2,413.6 680.5,416.0 680.8,451.2 681.0,460.9 681.2,400.2 681.5,414.3 681.8,426.9 682.0,447.7 682.2,406.5 682.5,435.2 682.8,416.8 683.0,475.9 683.2,430.9 683.5,419.9 683.8,416.2 684.0,444.1 684.2,436.1 684.5,403.5 684.8,426.7 685.0,401.5 685.2,408.2 685.5,401.9 685.8,401.7 686.0,409.6 686.2,404.3 686.5,433.0 686.8,438.7 687.0,418.1 687.2,403.3 687.5,438.9 687.8,396.4 688.0,397.1 688.2,437.3 688.5,435.8 688.8,442.6 689.0,418.6 689.2,402.3 689.5,413.1 689.8,434.0 690.0,408.2 690.2,409.4 690.5,401.3 690.8,403.1 691.0,439.9 691.2,431.7 691.5,403.1 691.8,403.7 692.0,412.1 692.2,433.7 692.5,403.1 692.8,419.7 693.0,395.7 693.2,402.4 693.5,431.1 693.8,441.2 694.0,403.2 694.2,408.2 694.5,439.0 694.8,415.5 695.0,412.6 695.2,433.2 695.5,426.8 695.8,446.0 696.0,439.0 696.2,412.0 696.5,420.8 696.8,421.9 697.0,401.8 697.2,404.7 697.5,443.0 697.8,400.1 698.0,443.5 698.2,428.7 698.5,420.5 698.8,433.8 699.0,432.5 699.2,448.3 699.5,415.5 699.8,418.8 700.0,418.5 700.2,464.3 700.5,442.5 700.8,405.6 701.0,416.9 701.2,409.8 701.5,423.5 701.8,427.4 702.0,474.9 702.2,398.4 702.5,444.5 702.8,431.9 703.0,409.9 703.2,420.5 703.5,413.9 703.8,424.3 704.0,444.1 704.2,400.8 704.5,451.0 704.8,416.3 705.0,455.5 705.2,431.6 705.5,449.2 705.8,434.7 706.0,445.9 706.2,424.6 706.5,407.6 706.8,437.0 707.0,437.9 707.2,470.2 707.5,397.2 707.8,419.8 708.0,445.5 708.2,403.0 708.5,419.3 708.8,470.8 709.0,453.7 709.2,406.9 709.5,454.0 709.8,448.4 710.0,439.5 710.2,431.2 710.5,428.4 710.8,407.1 711.0,413.9 711.2,438.6 711.5,426.5 711.8,464.3 712.0,417.5 712.2,394.4 712.5,417.5 712.8,429.3 713.0,431.4 713.2,425.2 713.5,408.2 713.8,455.8 714.0,411.2 714.2,438.3 714.5,418.5 714.8,403.7 715.0,454.0 715.2,393.6 715.5,407.7 715.8,432.6 716.0,417.2 716.2,439.3 716.5,422.2 716.8,415.4 717.0,472.5 717.2,419.9 717.5,421.1 717.8,404.7 718.0,409.9 718.2,437.2 718.5,435.5 718.8,424.3 719.0,410.8 719.2,438.1 719.5,400.0 719.8,417.8 720.0,419.5 720.2,408.1 720.5,427.3 720.8,411.6 721.0,409.0 721.2,463.8 721.5,439.4 721.8,449.6 722.0,425.5 722.2,444.4 722.5,440.4 722.8,450.0 723.0,478.5 723.2,420.2 723.5,429.7 723.8,423.6 724.0,386.3 724.2,402.6 724.5,425.0 724.8,437.4 725.0,413.7 725.2,448.5 725.5,451.9 725.8,416.8 726.0,455.2 726.2,463.1 726.5,434.1 726.8,406.0 727.0,456.3 727.2,421.7 727.5,417.7 727.8,427.2 728.0,414.6 728.2,447.3 728.5,440.8 728.8,450.7 729.0,436.7 729.2,409.8 729.5,422.0 729.8,443.0 730.0,417.2 730.2,494.2 730.5,420.4 730.8,413.8 731.0,449.2 731.2,440.3 731.5,424.6 731.8,420.7 732.0,433.6 732.2,442.2 732.5,440.7 732.8,419.3 733.0,433.7 733.2,442.5 733.5,440.8 733.8,389.9 734.0,408.1 734.2,410.3 734.5,420.8 734.8,428.7 735.0,444.2 735.2,437.7 735.5,422.8 735.8,425.7 736.0,463.8 736.2,413.5 736.5,431.3 736.8,459.2 737.0,432.1 737.2,398.0 737.5,432.7 737.8,417.8 738.0,423.1 738.2,447.2 738.5,434.7 738.8,420.2 739.0,443.7 739.2,434.0 739.5,427.4 739.8,431.3 740.0,430.3 740.2,418.8 740.5,416.5 740.8,425.9 741.0,407.0 741.2,404.1 741.5,453.1 741.8,420.8 742.0,425.0 742.2,422.8 742.5,425.9 742.8,425.9 743.0,426.7 743.2,410.0 743.5,444.8 743.8,412.1 744.0,447.1 744.2,399.1 744.5,405.8 744.8,446.2 745.0,422.7 745.2,412.6 745.5,433.0 745.8,405.9 746.0,427.0 746.2,396.9 746.5,416.8 746.8,413.0 747.0,436.4 747.2,443.7 747.5,409.1 747.8,460.6 748.0,414.2 748.2,398.2 748.5,395.7 748.8,459.0 749.0,424.0 749.2,413.2 749.5,411.2 749.8,405.6 750.0,454.6 750.2,424.1 750.5,465.2 750.8,421.9 751.0,396.0 751.2,443.1 751.5,418.6 751.8,421.1 752.0,459.8 752.2,420.7 752.5,450.3 752.8,425.7 753.0,411.2 753.2,436.0 753.5,414.2 753.8,451.9 754.0,445.8 754.2,427.0 754.5,438.2 754.8,437.2 755.0,420.5 755.2,444.4 755.5,421.4 755.8,438.3 756.0,407.5 756.2,427.8 756.5,434.2 756.8,410.6 757.0,417.9 757.2,415.6 757.5,440.9 757.8,412.0 758.0,434.8 758.2,459.1 758.5,433.1 758.8,401.9 759.0,428.5 759.2,447.9 759.5,420.5 759.8,449.5 760.0,438.7 760.2,434.5 760.5,421.1 760.8,416.2 761.0,421.2 761.2,427.4 761.5,436.7 761.8,434.6 762.0,420.4 762.2,427.5 762.5,434.0 762.8,401.9 763.0,411.4 763.2,410.8 763.5,422.3 763.8,421.0 764.0,421.3 764.2,409.4 764.5,440.1 764.8,431.9 765.0,401.8 765.2,426.6 765.5,405.9 765.8,464.0 766.0,417.6 766.2,418.8 766.5,428.1 766.8,422.6 767.0,425.3 767.2,460.3 767.5,431.0 767.8,443.8 768.0,450.4 768.2,407.6 768.5,463.8 768.8,440.7 769.0,446.6 769.2,409.8 769.5,443.5 769.8,434.9 770.0,416.2 770.2,479.1 770.5,438.1 770.8,422.0 771.0,430.4 771.2,445.6 771.5,450.6 771.8,438.5 772.0,452.7 772.2,458.6 772.5,405.2 772.8,417.2 773.0,408.4 773.2,428.6 773.5,458.1 773.8,440.1 774.0,406.7 774.2,421.0 774.5,448.4 774.8,416.4 775.0,424.9 775.2,432.8 775.5,400.7 775.8,442.9 776.0,433.6 776.2,438.4 776.5,407.8 776.8,411.9 777.0,415.2 777.2,431.8 777.5,428.2 777.8,429.3 778.0,466.8 778.2,454.9 778.5,412.9 778.8,414.1 779.0,464.9 779.2,420.7 779.5,456.7 779.8,462.0 780.0,416.3 780.2,421.6 780.5,428.5 780.8,410.1 781.0,407.9 781.2,419.1 781.5,444.7 781.8,418.2 782.0,422.9 782.2,417.9 782.5,404.4 782.8,459.3 783.0,396.8 783.2,414.2 783.5,438.3 783.8,404.2 784.0,439.3 784.2,453.9 784.5,410.2 784.8,431.1 785.0,406.4 785.2,437.3 785.5,428.7 785.8,431.3 786.0,456.6 786.2,436.6 786.5,456.1 786.8,440.0 787.0,405.8 787.2,432.2 787.5,437.0 787.8,403.9 788.0,455.9 788.2,428.4 788.5,434.5 788.8,409.6 789.0,428.5 789.2,433.1 789.5,420.7 789.8,428.7 790.0,398.6 790.2,456.6 790.5,406.5 790.8,398.2 791.0,408.4 791.2,410.8 791.5,438.2 791.8,409.3 792.0,432.8 792.2,408.4 792.5,477.9 792.8,438.3 793.0,471.4 793.2,407.3 793.5,440.8 793.8,408.5 794.0,439.0 794.2,441.1 794.5,402.8 794.8,406.4 795.0,406.1 795.2,403.5 795.5,412.9 795.8,408.4 796.0,404.0 796.2,429.1 796.5,438.3 796.8,405.0 797.0,416.3 797.2,427.3 797.5,422.6 797.8,413.5 798.0,444.0 798.2,444.8 798.5,441.2 798.8,423.1 799.0,472.2 799.2,465.9 799.5,419.3 799.8,424.8 800.0,452.6 800.2,411.5 800.5,435.2 800.8,428.0 801.0,413.4 801.2,422.6 801.5,403.0 801.8,416.5 802.0,399.7 802.2,479.9 802.5,460.2 802.8,453.5 803.0,433.2 803.2,448.2 803.5,454.6 803.8,448.6 804.0,446.4 804.2,409.3 804.5,435.8 804.8,416.7 805.0,406.1" fill="none" stroke="#2a7bff" stroke-width="2.2" stroke-linejoin="round" stroke-linejoin="miter" stroke-miterlimit="2"/>
</g>
<line x1="163.2" y1="287.3" x2="163.2" y2="578" stroke="#858585" stroke-width="3.8" stroke-dasharray="5.6 10.3" stroke-linecap="round"/>
<rect x="111" y="20" width="694" height="559.5" fill="none" stroke="#000" stroke-width="4" />
<line x1="141.5" y1="579.5" x2="141.5" y2="589.3" stroke="#000" stroke-width="3.5" stroke-linecap="round"/>
<text x="141.5" y="624.8" font-size="29.5" fill="#000" text-anchor="middle" >0</text>
<line x1="192.5" y1="579.5" x2="192.5" y2="584.3" stroke="#000" stroke-width="3.5" stroke-linecap="round"/>
<line x1="243.5" y1="579.5" x2="243.5" y2="589.3" stroke="#000" stroke-width="3.5" stroke-linecap="round"/>
<text x="243.5" y="624.8" font-size="29.5" fill="#000" text-anchor="middle" >2</text>
<line x1="294.6" y1="579.5" x2="294.6" y2="584.3" stroke="#000" stroke-width="3.5" stroke-linecap="round"/>
<line x1="345.6" y1="579.5" x2="345.6" y2="589.3" stroke="#000" stroke-width="3.5" stroke-linecap="round"/>
<text x="345.6" y="624.8" font-size="29.5" fill="#000" text-anchor="middle" >4</text>
<line x1="396.6" y1="579.5" x2="396.6" y2="584.3" stroke="#000" stroke-width="3.5" stroke-linecap="round"/>
<line x1="447.6" y1="579.5" x2="447.6" y2="589.3" stroke="#000" stroke-width="3.5" stroke-linecap="round"/>
<text x="447.6" y="624.8" font-size="29.5" fill="#000" text-anchor="middle" >6</text>
<line x1="498.6" y1="579.5" x2="498.6" y2="584.3" stroke="#000" stroke-width="3.5" stroke-linecap="round"/>
<line x1="549.7" y1="579.5" x2="549.7" y2="589.3" stroke="#000" stroke-width="3.5" stroke-linecap="round"/>
<text x="549.7" y="624.8" font-size="29.5" fill="#000" text-anchor="middle" >8</text>
<line x1="600.7" y1="579.5" x2="600.7" y2="584.3" stroke="#000" stroke-width="3.5" stroke-linecap="round"/>
<line x1="651.7" y1="579.5" x2="651.7" y2="589.3" stroke="#000" stroke-width="3.5" stroke-linecap="round"/>
<text x="651.7" y="624.8" font-size="29.5" fill="#000" text-anchor="middle" >10</text>
<line x1="702.7" y1="579.5" x2="702.7" y2="584.3" stroke="#000" stroke-width="3.5" stroke-linecap="round"/>
<line x1="753.7" y1="579.5" x2="753.7" y2="589.3" stroke="#000" stroke-width="3.5" stroke-linecap="round"/>
<text x="753.7" y="624.8" font-size="29.5" fill="#000" text-anchor="middle" >12</text>
<line x1="804.8" y1="579.5" x2="804.8" y2="584.3" stroke="#000" stroke-width="3.5" stroke-linecap="round"/>
<text x="384.6" y="667.3" font-size="29.6" fill="#000" text-anchor="start" >Time (<tspan font-family="'Liberation Serif', 'Times New Roman', serif">&#956;</tspan>s)</text>
<text transform="translate(86,392.2) rotate(-90)" font-size="29.5">PL intensity (a.u.)</text>
<text transform="translate(147.1,572.3) rotate(-90)" font-size="29" fill="#7f7f7f">Prompt</text>
<text x="174.6" y="455" font-size="29.3" fill="#7f7f7f" text-anchor="start" >Delayed</text>
<rect x="161" y="48.8" width="168.4" height="66.7" fill="#000" stroke="none" stroke-width="1" />
<rect x="152.6" y="40.6" width="167.9" height="66.1" fill="#fff" stroke="#666" stroke-width="1.5" />
<text x="182" y="90" font-size="33.5" fill="#555555" text-anchor="start" >CzDBA</text>
<rect x="610.3" y="315.7" width="133.3" height="58.4" fill="#fff" stroke="#333" stroke-width="1.4" />
<text x="628.5" y="358.8" font-size="33.5" fill="#56b4e6" text-anchor="start" >BE-Cz</text>
<rect x="523.5" y="483.2" width="130.3" height="58.2" fill="#fff" stroke="#333" stroke-width="1.4" />
<text x="541" y="526.3" font-size="33.5" fill="#2a7bff" text-anchor="start" >TE-Cz</text>
<text transform="translate(316.5,303.5) rotate(9)" font-size="25" fill="#56b4e6"><tspan font-family="'Liberation Serif', 'Times New Roman', serif" font-style="italic">&#964;</tspan><tspan font-size="17.5" dy="6.8">BE</tspan><tspan dy="-6.8" font-style="italic">=2.69 </tspan><tspan font-family="'Liberation Serif', 'Times New Roman', serif">&#956;</tspan><tspan font-style="italic">s</tspan></text>
<text transform="translate(247,495) rotate(9)" font-size="25" fill="#2a7bff"><tspan font-family="'Liberation Serif', 'Times New Roman', serif" font-style="italic">&#964;</tspan><tspan font-size="17.5" dy="6.8">TE</tspan><tspan dy="-6.8" font-style="italic">=2.68 </tspan><tspan font-family="'Liberation Serif', 'Times New Roman', serif">&#956;</tspan><tspan font-style="italic">s</tspan></text>
<line x1="371.4" y1="326.4" x2="320.4" y2="451.9" stroke="#e69f00" stroke-width="4.4" stroke-linecap="round" stroke-dasharray="10 8.4 0.1 8.4"/>
<polygon points="313.4,469.1 313.9,448.3 327.6,453.9" fill="#e69f00" stroke="#e69f00" stroke-width="2.2" stroke-linejoin="round"/>
<rect x="417.2" y="46.2" width="356.4" height="194.3" fill="#fff" stroke="#7f7f7f" stroke-width="3" />
<g clip-path="url(#clipAi)">
<polyline points="418.0,210.6 418.5,215.3 419.0,217.2 419.5,209.9 420.0,219.3 420.5,218.4 421.0,212.9 421.5,212.6 422.0,213.8 422.5,217.0 423.0,212.9 423.5,210.7 424.0,215.0 424.5,207.8 425.0,214.4 425.5,217.5 426.0,214.9 426.5,216.3 427.3,100.0 427.8,61.5 428.5,59.1 429.0,62.4 429.5,62.7 430.0,65.0 430.5,67.6 431.0,65.9 431.5,69.1 432.0,70.2 432.5,69.7 433.0,73.5 433.5,74.2 434.0,74.9 434.5,75.9 435.0,81.3 435.5,78.8 436.0,78.5 436.5,80.6 437.0,82.5 437.5,83.6 438.0,85.1 438.5,85.2 439.0,88.1 439.5,88.1 440.0,88.3 440.5,90.0 441.0,91.6 441.5,94.1 442.0,94.7 442.5,94.8 443.0,96.2 443.5,97.4 444.0,100.6 444.5,98.4 445.0,100.6 445.5,101.9 446.0,100.7 446.5,103.0 447.0,103.9 447.5,103.9 448.0,106.1 448.5,107.6 449.0,108.5 449.5,107.7 450.0,109.0 450.5,112.6 451.0,108.9 451.5,111.4 452.0,113.1 452.5,112.9 453.0,114.3 453.5,114.4 454.0,116.0 454.5,117.5 455.0,116.1 455.5,117.4 456.0,117.8 456.5,118.0 457.0,119.3 457.5,118.4 458.0,121.8 458.5,123.8 459.0,124.5 459.5,124.6 460.0,122.0 460.5,126.3 461.0,123.7 461.5,125.3 462.0,128.8 462.5,125.1 463.0,128.6 463.5,128.4 464.0,128.4 464.5,127.9 465.0,130.5 465.5,129.8 466.0,132.8 466.5,133.7 467.0,130.1 467.5,132.2 468.0,133.1 468.5,132.3 469.0,133.0 469.5,135.6 470.0,135.7 470.5,133.9 471.0,136.3 471.5,138.7 472.0,136.4 472.5,137.5 473.0,142.3 473.5,142.5 474.0,138.1 474.5,139.1 475.0,142.7 475.5,140.6 476.0,142.8 476.5,143.1 477.0,145.4 477.5,140.6 478.0,141.7 478.5,144.0 479.0,148.7 479.5,147.1 480.0,144.9 480.5,149.5 481.0,150.5 481.5,149.3 482.0,149.7 482.5,151.7 483.0,153.7 483.5,152.3 484.0,153.6 484.5,153.1 485.0,153.0 485.5,152.5 486.0,155.3 486.5,154.8 487.0,155.4 487.5,158.2 488.0,157.9 488.5,159.2 489.0,154.9 489.5,159.6 490.0,157.8 490.5,157.9 491.0,158.3 491.5,162.9 492.0,162.6 492.5,160.0 493.0,159.6 493.5,162.4 494.0,161.9 494.5,166.7 495.0,160.7 495.5,160.4 496.0,164.1 496.5,165.1 497.0,165.7 497.5,167.4 498.0,170.7 498.5,165.9 499.0,165.9 499.5,163.6 500.0,168.3 500.5,170.0 501.0,168.0 501.5,171.5 502.0,169.3 502.5,173.0 503.0,170.7 503.5,168.0 504.0,169.3 504.5,167.6 505.0,167.5 505.5,172.3 506.0,174.0 506.5,176.8 507.0,172.6 507.5,172.5 508.0,170.8 508.5,176.0 509.0,174.9 509.5,173.0 510.0,176.3 510.5,176.3 511.0,170.9 511.5,177.3 512.0,176.2 512.5,175.2 513.0,175.5 513.5,180.9 514.0,180.7 514.5,181.7 515.0,174.8 515.5,176.3 516.0,180.4 516.5,175.5 517.0,176.9 517.5,174.5 518.0,183.8 518.5,182.1 519.0,180.9 519.5,180.6 520.0,179.2 520.5,179.5 521.0,182.3 521.5,179.2 522.0,184.3 522.5,180.2 523.0,179.5 523.5,185.2 524.0,181.8 524.5,183.8 525.0,181.5 525.5,177.0 526.0,184.5 526.5,179.7 527.0,186.3 527.5,179.6 528.0,179.0 528.5,184.9 529.0,185.4 529.5,184.8 530.0,181.5 530.5,187.3 531.0,181.2 531.5,184.1 532.0,183.4 532.5,184.7 533.0,188.3 533.5,184.4 534.0,187.9 534.5,188.4 535.0,182.0 535.5,183.7 536.0,186.0 536.5,185.7 537.0,188.3 537.5,182.3 538.0,189.9 538.5,190.1 539.0,187.8 539.5,184.5 540.0,188.6 540.5,187.2 541.0,190.6 541.5,188.9 542.0,191.4 542.5,188.2 543.0,193.8 543.5,183.2 544.0,187.1 544.5,191.6 545.0,185.9 545.5,192.7 546.0,187.1 546.5,191.1 547.0,188.3 547.5,189.8 548.0,191.8 548.5,191.2 549.0,190.5 549.5,198.2 550.0,192.0 550.5,189.2 551.0,195.0 551.5,194.9 552.0,196.3 552.5,198.1 553.0,190.0 553.5,196.2 554.0,196.6 554.5,193.3 555.0,194.2 555.5,184.2 556.0,195.1 556.5,199.4 557.0,188.4 557.5,192.4 558.0,195.1 558.5,196.2 559.0,199.6 559.5,189.0 560.0,194.9 560.5,197.6 561.0,190.8 561.5,195.0 562.0,201.3 562.5,199.6 563.0,197.2 563.5,187.1 564.0,195.2 564.5,197.0 565.0,194.9 565.5,195.8 566.0,206.2 566.5,195.5 567.0,193.1 567.5,197.2 568.0,195.5 568.5,195.6 569.0,196.5 569.5,199.4 570.0,197.7 570.5,193.0 571.0,196.7 571.5,198.9 572.0,195.8 572.5,201.4 573.0,200.2 573.5,194.3 574.0,198.8 574.5,204.6 575.0,203.3 575.5,197.9 576.0,201.2 576.5,195.9 577.0,193.3 577.5,200.4 578.0,199.4 578.5,200.4 579.0,198.6 579.5,199.9 580.0,197.1 580.5,200.6 581.0,202.0 581.5,199.0 582.0,202.1 582.5,193.0 583.0,196.6 583.5,204.7 584.0,205.9 584.5,200.6 585.0,199.4 585.5,195.3 586.0,201.3 586.5,202.8 587.0,194.7 587.5,202.2 588.0,202.1 588.5,202.0 589.0,196.3 589.5,202.5 590.0,195.1 590.5,206.2 591.0,201.2 591.5,196.5 592.0,205.9 592.5,205.3 593.0,198.6 593.5,209.4 594.0,197.4 594.5,202.5 595.0,205.8 595.5,192.9 596.0,205.3 596.5,201.3 597.0,201.6 597.5,197.6 598.0,203.1 598.5,197.6 599.0,198.2 599.5,200.3 600.0,197.4 600.5,208.2 601.0,197.1 601.5,199.4 602.0,201.1 602.5,202.4 603.0,205.6 603.5,205.8 604.0,201.4 604.5,201.2 605.0,202.9 605.5,206.1 606.0,205.7 606.5,200.9 607.0,194.8 607.5,211.6 608.0,207.0 608.5,204.3 609.0,204.7 609.5,201.3 610.0,199.4 610.5,202.1 611.0,202.6 611.5,201.1 612.0,197.7 612.5,202.4 613.0,206.1 613.5,201.8 614.0,204.0 614.5,195.5 615.0,203.2 615.5,203.6 616.0,199.1 616.5,197.0 617.0,206.0 617.5,200.9 618.0,206.4 618.5,202.7 619.0,207.1 619.5,203.1 620.0,198.3 620.5,204.3 621.0,203.3 621.5,207.5 622.0,202.9 622.5,203.2 623.0,208.6 623.5,209.9 624.0,208.3 624.5,209.5 625.0,207.1 625.5,208.5 626.0,209.0 626.5,207.0 627.0,206.7 627.5,206.0 628.0,215.9 628.5,205.6 629.0,204.5 629.5,204.0 630.0,205.5 630.5,206.8 631.0,200.8 631.5,197.1 632.0,207.2 632.5,198.9 633.0,207.1 633.5,206.6 634.0,211.1 634.5,213.5 635.0,207.8 635.5,203.8 636.0,201.1 636.5,202.8 637.0,206.5 637.5,197.3 638.0,206.8 638.5,206.5 639.0,209.4 639.5,205.1 640.0,207.1 640.5,203.5 641.0,204.7 641.5,199.0 642.0,207.4 642.5,213.7 643.0,207.6 643.5,208.6 644.0,202.7 644.5,213.4 645.0,203.7 645.5,210.7 646.0,207.7 646.5,203.0 647.0,211.8 647.5,207.4 648.0,208.2 648.5,209.4 649.0,207.4 649.5,205.8 650.0,209.6 650.5,205.8 651.0,207.9 651.5,204.7 652.0,201.1 652.5,204.8 653.0,205.6 653.5,207.9 654.0,213.1 654.5,200.5 655.0,208.5 655.5,198.2 656.0,203.4 656.5,205.8 657.0,198.2 657.5,200.0 658.0,208.8 658.5,208.5 659.0,207.7 659.5,204.7 660.0,217.8 660.5,207.6 661.0,204.6 661.5,215.8 662.0,211.2 662.5,206.9 663.0,213.8 663.5,209.3 664.0,211.4 664.5,209.7 665.0,204.1 665.5,213.0 666.0,209.4 666.5,204.3 667.0,205.4 667.5,213.0 668.0,207.2 668.5,209.1 669.0,211.8 669.5,209.5 670.0,202.3 670.5,211.8 671.0,213.2 671.5,212.9 672.0,216.2 672.5,210.8 673.0,212.6 673.5,216.2 674.0,208.0 674.5,216.9 675.0,216.9 675.5,212.8 676.0,217.5 676.5,213.1 677.0,205.6 677.5,214.5 678.0,210.9 678.5,211.3 679.0,210.2 679.5,215.6 680.0,212.0 680.5,206.6 681.0,211.8 681.5,212.9 682.0,206.5 682.5,207.8 683.0,208.1 683.5,207.1 684.0,211.4 684.5,214.3 685.0,218.2 685.5,215.2 686.0,214.4 686.5,215.0 687.0,215.9 687.5,208.4 688.0,213.1 688.5,211.5 689.0,209.5 689.5,208.1 690.0,207.9 690.5,209.0 691.0,204.8 691.5,212.5 692.0,210.2 692.5,210.8 693.0,211.8 693.5,213.5 694.0,207.8 694.5,209.9 695.0,203.3 695.5,200.7 696.0,201.9 696.5,217.2 697.0,202.5 697.5,212.6 698.0,217.1 698.5,208.6 699.0,217.8 699.5,218.8 700.0,214.8 700.5,221.1 701.0,213.4 701.5,207.5 702.0,213.1 702.5,208.8 703.0,205.1 703.5,205.2 704.0,221.0 704.5,208.5 705.0,210.8 705.5,208.0 706.0,211.6 706.5,209.9 707.0,209.2 707.5,205.7 708.0,204.8 708.5,207.8 709.0,212.4 709.5,220.3 710.0,215.8 710.5,219.2 711.0,213.3 711.5,210.8 712.0,205.4 712.5,211.3 713.0,201.9 713.5,210.0 714.0,218.5 714.5,212.8 715.0,216.3 715.5,209.7 716.0,205.4 716.5,209.3 717.0,209.7 717.5,216.8 718.0,220.2 718.5,208.3 719.0,210.0 719.5,210.9 720.0,210.1 720.5,206.1 721.0,212.0 721.5,213.2 722.0,213.4 722.5,206.4 723.0,211.2 723.5,204.1 724.0,215.8 724.5,207.3 725.0,210.6 725.5,209.8 726.0,209.3 726.5,207.2 727.0,204.1 727.5,219.5 728.0,213.0 728.5,213.1 729.0,221.2 729.5,211.5 730.0,214.4 730.5,212.1 731.0,217.2 731.5,214.2 732.0,213.4 732.5,210.9 733.0,213.3 733.5,217.2 734.0,203.0 734.5,211.6 735.0,210.3 735.5,210.8 736.0,203.5 736.5,215.4 737.0,208.5 737.5,211.2 738.0,210.0 738.5,204.9 739.0,210.3 739.5,204.2 740.0,208.2 740.5,210.9 741.0,212.3 741.5,212.6 742.0,211.8 742.5,221.8 743.0,214.3 743.5,207.0 744.0,209.7 744.5,209.6 745.0,211.7 745.5,209.8 746.0,208.7 746.5,219.8 747.0,212.7 747.5,211.1 748.0,211.4 748.5,211.6 749.0,218.7 749.5,214.7 750.0,217.6 750.5,198.9 751.0,214.1 751.5,217.3 752.0,221.4 752.5,212.8 753.0,205.1 753.5,215.3 754.0,210.1 754.5,204.9 755.0,210.0 755.5,217.4 756.0,218.1 756.5,216.0 757.0,208.2 757.5,223.9 758.0,207.7 758.5,212.5 759.0,206.5 759.5,218.7 760.0,214.9 760.5,216.8 761.0,213.3 761.5,212.6 762.0,213.7 762.5,204.6 763.0,217.3 763.5,217.0 764.0,211.3 764.5,213.0 765.0,214.3 765.5,219.9 766.0,214.9 766.5,213.2 767.0,210.8 767.5,206.5 768.0,210.5 768.5,213.4 769.0,212.0 769.5,213.5 770.0,216.4 770.5,215.1 771.0,214.4 771.5,216.1 772.0,214.0 772.5,213.1 773.0,215.3" fill="none" stroke="#56b4e6" stroke-width="3.6" stroke-linejoin="round" />
<polyline points="418.0,210.6 418.5,215.3 419.0,217.2 419.5,209.9 420.0,219.3 420.5,218.4 421.0,212.9 421.5,212.6 422.0,213.8 422.5,217.0 423.0,212.9 423.5,210.7 424.0,215.0 424.5,207.8 425.0,214.4 425.5,217.5 426.0,214.9 426.5,216.3 427.3,100.0 427.8,61.5 428.5,63.2 429.0,64.5 429.5,66.9 430.0,67.0 430.5,66.7 431.0,69.3 431.5,72.1 432.0,72.7 432.5,73.0 433.0,75.4 433.5,76.2 434.0,77.9 434.5,77.0 435.0,78.9 435.5,81.8 436.0,82.1 436.5,83.9 437.0,86.8 437.5,85.6 438.0,87.4 438.5,87.7 439.0,88.7 439.5,90.5 440.0,90.1 440.5,90.4 441.0,95.4 441.5,94.8 442.0,97.3 442.5,97.2 443.0,98.2 443.5,99.8 444.0,100.9 444.5,99.6 445.0,103.4 445.5,101.7 446.0,104.0 446.5,107.8 447.0,105.6 447.5,108.5 448.0,106.8 448.5,108.9 449.0,109.0 449.5,110.3 450.0,109.5 450.5,110.2 451.0,112.6 451.5,110.9 452.0,112.6 452.5,115.4 453.0,114.5 453.5,114.8 454.0,115.3 454.5,117.7 455.0,117.7 455.5,119.2 456.0,119.4 456.5,122.9 457.0,120.5 457.5,119.0 458.0,122.6 458.5,123.2 459.0,124.0 459.5,122.2 460.0,126.8 460.5,125.8 461.0,126.4 461.5,124.8 462.0,128.5 462.5,128.3 463.0,131.1 463.5,129.1 464.0,128.5 464.5,131.2 465.0,130.2 465.5,132.9 466.0,131.2 466.5,133.3 467.0,133.8 467.5,134.7 468.0,134.5 468.5,134.7 469.0,136.5 469.5,136.3 470.0,138.1 470.5,138.0 471.0,135.4 471.5,139.6 472.0,142.5 472.5,141.4 473.0,142.5 473.5,142.9 474.0,142.0 474.5,141.1 475.0,145.3 475.5,146.4 476.0,146.2 476.5,146.5 477.0,147.1 477.5,147.0 478.0,148.1 478.5,148.4 479.0,149.5 479.5,147.8 480.0,149.0 480.5,151.7 481.0,150.7 481.5,147.6 482.0,152.7 482.5,149.0 483.0,157.2 483.5,155.6 484.0,156.1 484.5,154.3 485.0,154.0 485.5,156.2 486.0,157.2 486.5,156.3 487.0,158.6 487.5,160.2 488.0,160.6 488.5,158.0 489.0,156.4 489.5,161.1 490.0,160.3 490.5,163.0 491.0,165.8 491.5,166.3 492.0,164.2 492.5,166.3 493.0,167.8 493.5,165.2 494.0,166.1 494.5,167.7 495.0,166.4 495.5,165.9 496.0,165.9 496.5,167.8 497.0,167.0 497.5,170.3 498.0,168.4 498.5,172.4 499.0,172.3 499.5,167.7 500.0,172.8 500.5,170.2 501.0,174.2 501.5,172.8 502.0,172.0 502.5,173.9 503.0,171.7 503.5,173.9 504.0,174.4 504.5,173.6 505.0,175.1 505.5,172.4 506.0,176.1 506.5,172.6 507.0,176.9 507.5,177.0 508.0,177.8 508.5,175.4 509.0,183.6 509.5,176.7 510.0,177.9 510.5,176.2 511.0,181.3 511.5,177.4 512.0,181.0 512.5,176.9 513.0,180.0 513.5,178.8 514.0,182.0 514.5,179.5 515.0,178.5 515.5,181.8 516.0,178.3 516.5,179.1 517.0,183.4 517.5,177.5 518.0,183.9 518.5,181.4 519.0,180.5 519.5,183.5 520.0,184.6 520.5,182.0 521.0,183.2 521.5,185.8 522.0,185.9 522.5,184.2 523.0,182.7 523.5,182.5 524.0,183.6 524.5,186.9 525.0,186.9 525.5,186.5 526.0,189.3 526.5,185.4 527.0,185.4 527.5,185.6 528.0,191.5 528.5,181.9 529.0,187.9 529.5,188.5 530.0,187.8 530.5,193.7 531.0,191.0 531.5,190.2 532.0,186.2 532.5,189.9 533.0,187.9 533.5,189.2 534.0,189.8 534.5,188.2 535.0,191.3 535.5,194.1 536.0,192.7 536.5,190.8 537.0,185.4 537.5,193.5 538.0,193.6 538.5,190.5 539.0,189.9 539.5,193.1 540.0,189.4 540.5,193.9 541.0,189.0 541.5,189.6 542.0,192.3 542.5,188.5 543.0,192.6 543.5,194.2 544.0,189.4 544.5,195.7 545.0,191.8 545.5,195.0 546.0,194.2 546.5,192.5 547.0,192.5 547.5,189.4 548.0,192.3 548.5,192.3 549.0,199.2 549.5,197.6 550.0,191.0 550.5,197.3 551.0,195.9 551.5,194.3 552.0,196.8 552.5,197.9 553.0,194.2 553.5,195.2 554.0,196.6 554.5,193.4 555.0,196.9 555.5,196.3 556.0,194.7 556.5,194.3 557.0,197.8 557.5,199.6 558.0,198.2 558.5,194.8 559.0,199.7 559.5,198.1 560.0,199.5 560.5,201.3 561.0,195.3 561.5,197.7 562.0,196.4 562.5,195.7 563.0,204.5 563.5,201.4 564.0,193.3 564.5,200.1 565.0,197.2 565.5,202.5 566.0,199.4 566.5,198.7 567.0,199.8 567.5,200.6 568.0,199.6 568.5,199.0 569.0,199.3 569.5,201.4 570.0,196.4 570.5,200.0 571.0,199.8 571.5,198.7 572.0,202.7 572.5,196.4 573.0,199.4 573.5,197.9 574.0,202.5 574.5,199.4 575.0,201.1 575.5,202.3 576.0,196.0 576.5,202.7 577.0,198.9 577.5,200.6 578.0,201.2 578.5,204.2 579.0,204.1 579.5,207.6 580.0,202.5 580.5,200.4 581.0,200.4 581.5,204.3 582.0,207.6 582.5,203.5 583.0,200.5 583.5,203.4 584.0,203.5 584.5,202.8 585.0,200.3 585.5,194.3 586.0,201.1 586.5,206.6 587.0,203.8 587.5,195.7 588.0,203.3 588.5,197.0 589.0,210.2 589.5,204.2 590.0,199.4 590.5,206.4 591.0,201.0 591.5,205.8 592.0,204.0 592.5,199.9 593.0,206.4 593.5,199.5 594.0,208.9 594.5,204.5 595.0,200.7 595.5,198.0 596.0,210.2 596.5,209.7 597.0,200.2 597.5,210.6 598.0,205.4 598.5,204.1 599.0,204.6 599.5,204.1 600.0,210.2 600.5,205.7 601.0,198.6 601.5,212.9 602.0,208.6 602.5,201.5 603.0,204.2 603.5,202.3 604.0,205.8 604.5,207.2 605.0,206.6 605.5,203.6 606.0,202.9 606.5,209.1 607.0,205.7 607.5,214.5 608.0,203.2 608.5,209.2 609.0,206.5 609.5,203.5 610.0,211.5 610.5,206.9 611.0,203.2 611.5,205.4 612.0,210.5 612.5,202.1 613.0,212.0 613.5,209.5 614.0,205.8 614.5,212.2 615.0,213.7 615.5,209.4 616.0,207.8 616.5,214.3 617.0,213.0 617.5,203.7 618.0,206.6 618.5,206.6 619.0,205.9 619.5,201.7 620.0,211.1 620.5,208.0 621.0,208.1 621.5,213.3 622.0,205.6 622.5,207.6 623.0,209.0 623.5,211.1 624.0,207.6 624.5,211.2 625.0,208.1 625.5,213.6 626.0,205.2 626.5,209.1 627.0,202.6 627.5,207.9 628.0,205.6 628.5,214.1 629.0,211.6 629.5,210.7 630.0,216.2 630.5,214.7 631.0,211.7 631.5,206.0 632.0,202.9 632.5,208.8 633.0,207.5 633.5,206.3 634.0,207.9 634.5,202.3 635.0,215.3 635.5,204.5 636.0,206.5 636.5,211.7 637.0,202.6 637.5,213.2 638.0,213.4 638.5,208.2 639.0,205.1 639.5,207.6 640.0,202.0 640.5,215.5 641.0,210.0 641.5,206.7 642.0,206.1 642.5,212.3 643.0,216.2 643.5,204.7 644.0,207.6 644.5,202.8 645.0,212.9 645.5,210.8 646.0,219.6 646.5,209.7 647.0,208.5 647.5,207.4 648.0,213.9 648.5,203.6 649.0,213.6 649.5,211.5 650.0,208.4 650.5,206.8 651.0,215.0 651.5,218.4 652.0,208.8 652.5,212.9 653.0,218.0 653.5,208.2 654.0,209.8 654.5,205.8 655.0,210.3 655.5,210.6 656.0,209.3 656.5,208.0 657.0,204.5 657.5,205.5 658.0,207.1 658.5,213.9 659.0,209.1 659.5,207.7 660.0,214.1 660.5,213.7 661.0,208.2 661.5,208.8 662.0,214.2 662.5,213.0 663.0,208.0 663.5,212.6 664.0,211.5 664.5,216.3 665.0,208.0 665.5,215.4 666.0,213.5 666.5,207.5 667.0,216.2 667.5,215.6 668.0,206.3 668.5,220.2 669.0,207.1 669.5,208.1 670.0,210.6 670.5,215.3 671.0,214.5 671.5,211.7 672.0,217.9 672.5,213.9 673.0,218.1 673.5,224.1 674.0,213.1 674.5,201.4 675.0,210.4 675.5,207.8 676.0,212.8 676.5,212.8 677.0,207.3 677.5,207.6 678.0,211.4 678.5,211.7 679.0,201.5 679.5,216.7 680.0,212.7 680.5,212.6 681.0,213.9 681.5,208.4 682.0,212.5 682.5,217.2 683.0,217.3 683.5,214.8 684.0,211.6 684.5,209.4 685.0,218.5 685.5,215.1 686.0,211.1 686.5,203.7 687.0,209.3 687.5,204.8 688.0,218.4 688.5,213.9 689.0,209.9 689.5,211.9 690.0,224.3 690.5,218.4 691.0,207.4 691.5,212.7 692.0,208.0 692.5,205.9 693.0,214.1 693.5,223.7 694.0,220.1 694.5,213.6 695.0,211.8 695.5,214.3 696.0,217.9 696.5,207.2 697.0,205.4 697.5,221.6 698.0,214.8 698.5,220.5 699.0,214.6 699.5,220.0 700.0,211.0 700.5,215.8 701.0,220.4 701.5,218.1 702.0,211.8 702.5,217.6 703.0,210.9 703.5,207.6 704.0,216.1 704.5,219.9 705.0,217.6 705.5,208.4 706.0,217.7 706.5,216.9 707.0,212.0 707.5,203.2 708.0,218.4 708.5,217.9 709.0,216.2 709.5,206.5 710.0,207.6 710.5,218.5 711.0,217.6 711.5,216.3 712.0,213.1 712.5,215.9 713.0,211.9 713.5,212.9 714.0,210.5 714.5,215.4 715.0,212.7 715.5,218.5 716.0,217.5 716.5,210.8 717.0,222.4 717.5,209.5 718.0,216.4 718.5,219.2 719.0,220.1 719.5,204.8 720.0,218.9 720.5,219.9 721.0,220.8 721.5,204.8 722.0,211.6 722.5,214.1 723.0,212.6 723.5,220.5 724.0,211.7 724.5,220.0 725.0,217.1 725.5,208.3 726.0,210.3 726.5,212.7 727.0,215.2 727.5,219.1 728.0,214.0 728.5,218.8 729.0,207.9 729.5,201.4 730.0,213.4 730.5,216.9 731.0,213.3 731.5,210.5 732.0,216.8 732.5,223.4 733.0,214.5 733.5,211.8 734.0,211.3 734.5,223.6 735.0,214.8 735.5,217.7 736.0,220.4 736.5,219.8 737.0,211.0 737.5,219.3 738.0,218.8 738.5,217.3 739.0,219.6 739.5,212.7 740.0,214.8 740.5,212.9 741.0,218.5 741.5,212.3 742.0,217.0 742.5,210.4 743.0,214.7 743.5,213.7 744.0,214.8 744.5,215.9 745.0,214.5 745.5,214.4 746.0,206.2 746.5,220.2 747.0,212.6 747.5,214.3 748.0,211.8 748.5,219.8 749.0,211.5 749.5,217.7 750.0,220.7 750.5,222.7 751.0,220.7 751.5,218.2 752.0,210.3 752.5,221.2 753.0,220.8 753.5,219.3 754.0,219.1 754.5,215.9 755.0,213.4 755.5,220.4 756.0,221.2 756.5,211.1 757.0,219.7 757.5,216.8 758.0,219.6 758.5,216.9 759.0,220.6 759.5,220.3 760.0,219.7 760.5,209.7 761.0,219.4 761.5,216.0 762.0,210.9 762.5,218.9 763.0,209.9 763.5,219.8 764.0,223.3 764.5,213.7 765.0,219.9 765.5,217.9 766.0,218.8 766.5,210.0 767.0,218.6 767.5,216.6 768.0,219.2 768.5,216.0 769.0,220.8 769.5,217.2 770.0,219.0 770.5,222.0 771.0,216.9 771.5,220.4 772.0,217.1 772.5,218.4 773.0,213.8" fill="none" stroke="#2a7bff" stroke-width="3.6" stroke-linejoin="round" />
</g>
<line x1="426.2" y1="240.5" x2="426.2" y2="249.5" stroke="#7f7f7f" stroke-width="3" />
<text x="426.2" y="272.7" font-size="21" fill="#7f7f7f" text-anchor="middle" >0</text>
<line x1="469.6" y1="240.5" x2="469.6" y2="245.5" stroke="#7f7f7f" stroke-width="3" />
<line x1="512.9" y1="240.5" x2="512.9" y2="249.5" stroke="#7f7f7f" stroke-width="3" />
<text x="512.9" y="272.7" font-size="21" fill="#7f7f7f" text-anchor="middle" >200</text>
<line x1="556.2" y1="240.5" x2="556.2" y2="245.5" stroke="#7f7f7f" stroke-width="3" />
<line x1="599.6" y1="240.5" x2="599.6" y2="249.5" stroke="#7f7f7f" stroke-width="3" />
<text x="599.6" y="272.7" font-size="21" fill="#7f7f7f" text-anchor="middle" >400</text>
<line x1="643" y1="240.5" x2="643" y2="245.5" stroke="#7f7f7f" stroke-width="3" />
<line x1="686.3" y1="240.5" x2="686.3" y2="249.5" stroke="#7f7f7f" stroke-width="3" />
<text x="686.3" y="272.7" font-size="21" fill="#7f7f7f" text-anchor="middle" >600</text>
<line x1="729.6" y1="240.5" x2="729.6" y2="245.5" stroke="#7f7f7f" stroke-width="3" />
<line x1="773" y1="240.5" x2="773" y2="249.5" stroke="#7f7f7f" stroke-width="3" />
<text x="773" y="272.7" font-size="21" fill="#7f7f7f" text-anchor="middle" >800</text>
<text x="547.8" y="300.4" font-size="21" fill="#7f7f7f" text-anchor="start" >Time (ns)</text>
<text transform="translate(400,228) rotate(-90)" font-size="21" fill="#7f7f7f">PL intensity (a.u.)</text>
<text x="661.2" y="92" font-size="29.3" fill="#7f7f7f" text-anchor="start" >Prompt</text>
<text x="484.2" y="127.5" font-size="25" fill="#56b4e6"><tspan font-family="'Liberation Serif', 'Times New Roman', serif" font-style="italic">&#964;</tspan><tspan font-size="17.5" dy="8.2">BE</tspan><tspan dy="-8.2">=40.79 ns</tspan></text>
<text x="435.4" y="226.8" font-size="25" fill="#2a7bff"><tspan font-family="'Liberation Serif', 'Times New Roman', serif" font-style="italic">&#964;</tspan><tspan font-size="17.5" dy="8.2">TE</tspan><tspan dy="-8.2">=39.15 ns</tspan></text>
<line x1="522.4" y1="138.2" x2="492.4" y2="183.1" stroke="#e69f00" stroke-width="4" stroke-linecap="round" stroke-dasharray="10 9 0.1 9"/>
<polygon points="482.1,198.5 488.4,179.3 497.4,185.3" fill="#e69f00" stroke="#e69f00" stroke-width="2.2" stroke-linejoin="round"/>
<text x="858.5" y="30.5" font-size="42" fill="#000" text-anchor="start" font-weight="bold">b</text>
<g clip-path="url(#clipB)">
<polyline points="1002.2,460.0 1002.2,30.0 1003.5,150.0 1004.5,240.0 1005.5,290.0 1007.0,322.0 1010.0,338.0" fill="none" stroke="#e69f00" stroke-width="3.0" stroke-linejoin="round" />
<polyline points="1008.0,329.5 1008.2,326.5 1008.5,341.0 1008.8,332.3 1009.0,326.1 1009.2,338.1 1009.5,344.7 1009.8,341.9 1010.0,351.0 1010.2,339.9 1010.5,344.8 1010.8,335.2 1011.0,342.8 1011.2,352.3 1011.5,345.8 1011.8,343.9 1012.0,333.7 1012.2,340.9 1012.5,335.9 1012.8,349.4 1013.0,339.1 1013.2,347.0 1013.5,337.6 1013.8,359.1 1014.0,337.1 1014.2,346.3 1014.5,366.4 1014.8,347.3 1015.0,339.3 1015.2,350.8 1015.5,354.1 1015.8,353.3 1016.0,335.4 1016.2,348.5 1016.5,335.1 1016.8,363.2 1017.0,347.8 1017.2,343.6 1017.5,353.2 1017.8,351.8 1018.0,338.6 1018.2,362.4 1018.5,346.2 1018.8,337.0 1019.0,361.2 1019.2,362.7 1019.5,360.4 1019.8,354.1 1020.0,341.6 1020.2,358.2 1020.5,367.4 1020.8,357.6 1021.0,365.5 1021.2,343.5 1021.5,360.4 1021.8,359.8 1022.0,339.8 1022.2,339.5 1022.5,344.9 1022.8,352.6 1023.0,356.4 1023.2,350.2 1023.5,351.9 1023.8,351.7 1024.0,353.8 1024.2,359.0 1024.5,358.3 1024.8,353.1 1025.0,356.5 1025.2,349.7 1025.5,362.4 1025.8,349.5 1026.0,372.1 1026.2,354.8 1026.5,358.0 1026.8,347.7 1027.0,352.2 1027.2,357.6 1027.5,356.3 1027.8,349.9 1028.0,345.2 1028.2,357.2 1028.5,358.7 1028.8,363.1 1029.0,371.2 1029.2,354.4 1029.5,342.7 1029.8,356.6 1030.0,343.7 1030.2,346.2 1030.5,370.3 1030.8,365.3 1031.0,352.3 1031.2,352.6 1031.5,358.7 1031.8,345.2 1032.0,365.6 1032.2,356.5 1032.5,382.3 1032.8,349.0 1033.0,372.7 1033.2,353.6 1033.5,373.4 1033.8,350.6 1034.0,370.5 1034.2,357.1 1034.5,352.9 1034.8,360.9 1035.0,368.4 1035.2,367.7 1035.5,382.4 1035.8,373.2 1036.0,343.9 1036.2,359.2 1036.5,347.3 1036.8,359.8 1037.0,372.0 1037.2,350.8 1037.5,351.8 1037.8,366.8 1038.0,361.9 1038.2,385.4 1038.5,369.7 1038.8,372.5 1039.0,388.4 1039.2,360.3 1039.5,366.5 1039.8,354.7 1040.0,370.1 1040.2,380.2 1040.5,384.9 1040.8,367.1 1041.0,359.0 1041.2,358.4 1041.5,353.3 1041.8,369.8 1042.0,386.2 1042.2,348.9 1042.5,350.0 1042.8,387.5 1043.0,353.1 1043.2,373.7 1043.5,355.2 1043.8,380.0 1044.0,380.2 1044.2,372.3 1044.5,381.2 1044.8,371.2 1045.0,378.1 1045.2,395.7 1045.5,385.7 1045.8,362.7 1046.0,361.0 1046.2,368.5 1046.5,368.8 1046.8,372.8 1047.0,364.2 1047.2,381.0 1047.5,372.9 1047.8,377.4 1048.0,372.8 1048.2,381.2 1048.5,358.2 1048.8,395.2 1049.0,378.0 1049.2,379.6 1049.5,382.0 1049.8,388.8 1050.0,384.0 1050.2,377.3 1050.5,371.8 1050.8,356.9 1051.0,377.4 1051.2,370.4 1051.5,370.6 1051.8,410.0 1052.0,356.2 1052.2,376.0 1052.5,392.6 1052.8,389.1 1053.0,393.3 1053.2,360.0 1053.5,362.7 1053.8,384.8 1054.0,372.1 1054.2,401.3 1054.5,379.7 1054.8,379.4 1055.0,383.0 1055.2,373.1 1055.5,378.7 1055.8,367.8 1056.0,376.8 1056.2,370.7 1056.5,381.3 1056.8,360.7 1057.0,360.4 1057.2,384.6 1057.5,381.4 1057.8,364.7 1058.0,375.2 1058.2,363.7 1058.5,409.7 1058.8,360.7 1059.0,404.8 1059.2,367.4 1059.5,385.4 1059.8,375.6 1060.0,374.1 1060.2,393.6 1060.5,391.9 1060.8,375.8 1061.0,366.9 1061.2,412.2 1061.5,401.6 1061.8,382.5 1062.0,376.3 1062.2,385.0 1062.5,382.0 1062.8,399.2 1063.0,367.0 1063.2,381.5 1063.5,369.8 1063.8,401.6 1064.0,409.8 1064.2,380.4 1064.5,390.0 1064.8,403.8 1065.0,377.7 1065.2,368.4 1065.5,398.4 1065.8,390.2 1066.0,379.5 1066.2,405.6 1066.5,386.4 1066.8,362.5 1067.0,388.4 1067.2,382.3 1067.5,413.4 1067.8,383.2 1068.0,380.5 1068.2,390.4 1068.5,387.6 1068.8,365.5 1069.0,385.9 1069.2,379.2 1069.5,406.7 1069.8,423.8 1070.0,367.7 1070.2,369.9 1070.5,371.8 1070.8,374.8 1071.0,374.4 1071.2,385.9 1071.5,402.6 1071.8,367.2 1072.0,365.8 1072.2,364.0 1072.5,403.4 1072.8,407.3 1073.0,366.2 1073.2,365.7 1073.5,388.1 1073.8,403.9 1074.0,402.7 1074.2,389.5 1074.5,397.5 1074.8,391.8 1075.0,378.1 1075.2,418.7 1075.5,386.9 1075.8,369.7 1076.0,379.8 1076.2,367.2 1076.5,387.7 1076.8,405.5 1077.0,369.2 1077.2,406.3 1077.5,423.3 1077.8,394.0 1078.0,370.2 1078.2,374.5 1078.5,382.9 1078.8,369.6 1079.0,369.9 1079.2,384.3 1079.5,385.7 1079.8,398.6 1080.0,370.6 1080.2,420.8 1080.5,406.7 1080.8,403.9 1081.0,378.7 1081.2,419.0 1081.5,383.8 1081.8,420.6 1082.0,407.5 1082.2,375.1 1082.5,382.4 1082.8,422.1 1083.0,406.8 1083.2,387.5 1083.5,393.5 1083.8,393.5 1084.0,377.7 1084.2,387.1 1084.5,379.7 1084.8,383.5 1085.0,398.4 1085.2,375.0 1085.5,403.0 1085.8,392.7 1086.0,403.8 1086.2,406.1 1086.5,412.5 1086.8,401.8 1087.0,403.3 1087.2,388.4 1087.5,401.1 1087.8,376.6 1088.0,387.5 1088.2,404.4 1088.5,390.9 1088.8,399.4 1089.0,374.4 1089.2,415.8 1089.5,382.5 1089.8,398.8 1090.0,391.8 1090.2,408.3 1090.5,386.0 1090.8,375.7 1091.0,368.9 1091.2,387.4 1091.5,373.7 1091.8,401.8 1092.0,418.1 1092.2,366.9 1092.5,373.3 1092.8,398.2 1093.0,414.7 1093.2,398.3 1093.5,398.7 1093.8,401.9 1094.0,403.2 1094.2,422.6 1094.5,404.0 1094.8,374.1 1095.0,385.6 1095.2,397.2 1095.5,379.9 1095.8,389.3 1096.0,384.9 1096.2,382.0 1096.5,406.0 1096.8,387.3 1097.0,375.5 1097.2,381.9 1097.5,394.7 1097.8,432.5 1098.0,398.7 1098.2,420.8 1098.5,402.9 1098.8,368.6 1099.0,401.0 1099.2,380.0 1099.5,374.2 1099.8,376.2 1100.0,426.9 1100.2,372.7 1100.5,384.1 1100.8,415.3 1101.0,406.4 1101.2,372.0 1101.5,393.0 1101.8,386.1 1102.0,391.6 1102.2,408.2 1102.5,385.2 1102.8,389.6 1103.0,421.4 1103.2,371.4 1103.5,388.8 1103.8,403.5 1104.0,375.6 1104.2,384.5 1104.5,375.2 1104.8,398.1 1105.0,384.7 1105.2,409.4 1105.5,413.7 1105.8,396.4 1106.0,389.1 1106.2,400.2 1106.5,396.7 1106.8,376.2 1107.0,414.9 1107.2,399.8 1107.5,409.8 1107.8,375.3 1108.0,411.5 1108.2,434.8 1108.5,406.9 1108.8,374.8 1109.0,396.7 1109.2,395.1 1109.5,400.0 1109.8,392.2 1110.0,405.0 1110.2,388.2 1110.5,400.3 1110.8,384.4 1111.0,398.1 1111.2,414.3 1111.5,387.9 1111.8,408.3 1112.0,381.1 1112.2,390.1 1112.5,392.5 1112.8,419.2 1113.0,383.4 1113.2,418.7 1113.5,375.3 1113.8,394.0 1114.0,413.2 1114.2,409.2 1114.5,379.3 1114.8,377.2 1115.0,412.7 1115.2,376.9 1115.5,407.3 1115.8,388.0 1116.0,396.9 1116.2,440.5 1116.5,425.6 1116.8,412.3 1117.0,376.3 1117.2,402.9 1117.5,398.2 1117.8,395.5 1118.0,421.7 1118.2,374.1 1118.5,403.0 1118.8,399.6 1119.0,384.3 1119.2,429.4 1119.5,377.4 1119.8,398.0 1120.0,399.0 1120.2,371.0 1120.5,376.3 1120.8,380.7 1121.0,411.9 1121.2,414.9 1121.5,408.4 1121.8,402.0 1122.0,371.1 1122.2,401.7 1122.5,388.8 1122.8,419.3 1123.0,422.7 1123.2,440.2 1123.5,410.8 1123.8,412.8 1124.0,379.9 1124.2,399.5 1124.5,378.1 1124.8,414.4 1125.0,378.5 1125.2,394.4 1125.5,383.7 1125.8,390.0 1126.0,406.5 1126.2,388.3 1126.5,402.2 1126.8,380.6 1127.0,424.2 1127.2,387.0 1127.5,416.9 1127.8,438.9 1128.0,369.9 1128.2,380.9 1128.5,394.9 1128.8,420.1 1129.0,390.0 1129.2,405.4 1129.5,385.7 1129.8,408.8 1130.0,378.8 1130.2,414.0 1130.5,366.2 1130.8,374.0 1131.0,433.0 1131.2,401.9 1131.5,382.9 1131.8,440.9 1132.0,418.3 1132.2,419.8 1132.5,391.4 1132.8,410.3 1133.0,408.2 1133.2,375.9 1133.5,409.8 1133.8,395.7 1134.0,423.0 1134.2,423.5 1134.5,387.6 1134.8,388.3 1135.0,402.6 1135.2,411.2 1135.5,391.8 1135.8,397.2 1136.0,410.5 1136.2,407.0 1136.5,421.0 1136.8,403.7 1137.0,383.4 1137.2,375.4 1137.5,414.4 1137.8,393.4 1138.0,393.2 1138.2,394.3 1138.5,376.9 1138.8,392.5 1139.0,369.5 1139.2,392.3 1139.5,383.4 1139.8,434.7 1140.0,407.8 1140.2,395.8 1140.5,402.6 1140.8,413.2 1141.0,386.0 1141.2,395.6 1141.5,393.3 1141.8,448.3 1142.0,401.1 1142.2,374.3 1142.5,414.7 1142.8,450.6 1143.0,382.6 1143.2,470.0 1143.5,398.8 1143.8,418.7 1144.0,389.7 1144.2,395.1 1144.5,379.8 1144.8,381.0 1145.0,373.2 1145.2,421.7 1145.5,380.4 1145.8,407.0 1146.0,406.2 1146.2,388.3 1146.5,401.1 1146.8,398.5 1147.0,391.2 1147.2,401.2 1147.5,401.2 1147.8,381.7 1148.0,379.5 1148.2,384.8 1148.5,402.6 1148.8,426.8 1149.0,428.6 1149.2,406.2 1149.5,418.3 1149.8,402.7 1150.0,421.5 1150.2,402.8 1150.5,407.8 1150.8,395.3 1151.0,400.4 1151.2,437.6 1151.5,380.5 1151.8,400.6 1152.0,389.7 1152.2,418.9 1152.5,436.0 1152.8,394.9 1153.0,369.0 1153.2,412.3 1153.5,412.3 1153.8,377.0 1154.0,396.3 1154.2,399.5 1154.5,372.4 1154.8,413.6 1155.0,409.1 1155.2,405.3 1155.5,381.7 1155.8,387.7 1156.0,389.2 1156.2,409.9 1156.5,382.7 1156.8,429.4 1157.0,408.1 1157.2,373.5 1157.5,433.9 1157.8,404.0 1158.0,390.8 1158.2,403.0 1158.5,376.2 1158.8,404.6 1159.0,371.5 1159.2,382.2 1159.5,427.4 1159.8,425.6 1160.0,394.8 1160.2,383.2 1160.5,419.1 1160.8,400.3 1161.0,405.2 1161.2,413.2 1161.5,382.0 1161.8,416.5 1162.0,374.2 1162.2,429.9 1162.5,378.3 1162.8,389.6 1163.0,388.9 1163.2,415.3 1163.5,415.7 1163.8,408.2 1164.0,411.7 1164.2,410.3 1164.5,400.1 1164.8,375.9 1165.0,373.0 1165.2,373.0 1165.5,400.6 1165.8,397.2 1166.0,398.9 1166.2,405.8 1166.5,397.1 1166.8,382.8 1167.0,379.1 1167.2,376.1 1167.5,425.3 1167.8,419.2 1168.0,380.2 1168.2,396.5 1168.5,410.1 1168.8,433.2 1169.0,390.4 1169.2,405.0 1169.5,424.3 1169.8,377.5 1170.0,388.0 1170.2,401.0 1170.5,388.2 1170.8,444.3 1171.0,418.6 1171.2,405.6 1171.5,383.7 1171.8,418.7 1172.0,414.1 1172.2,392.2 1172.5,393.7 1172.8,379.7 1173.0,400.5 1173.2,418.8 1173.5,421.5 1173.8,413.2 1174.0,418.0 1174.2,390.9 1174.5,393.2 1174.8,425.7 1175.0,410.7 1175.2,387.1 1175.5,411.8 1175.8,418.3 1176.0,415.9 1176.2,404.2 1176.5,392.4 1176.8,409.9 1177.0,436.0 1177.2,405.1 1177.5,389.6 1177.8,408.8 1178.0,381.8 1178.2,406.7 1178.5,396.7 1178.8,421.1 1179.0,404.3 1179.2,422.9 1179.5,449.1 1179.8,398.3 1180.0,386.7 1180.2,411.3 1180.5,400.8 1180.8,405.2 1181.0,391.1 1181.2,413.3 1181.5,403.9 1181.8,375.1 1182.0,398.1 1182.2,409.0 1182.5,425.8 1182.8,391.8 1183.0,387.5 1183.2,425.3 1183.5,391.2 1183.8,404.8 1184.0,411.9 1184.2,417.1 1184.5,403.0 1184.8,383.3 1185.0,422.6 1185.2,394.7 1185.5,393.0 1185.8,443.3 1186.0,420.1 1186.2,383.8 1186.5,393.9 1186.8,398.3 1187.0,388.8 1187.2,377.3 1187.5,418.6 1187.8,418.1 1188.0,407.8 1188.2,395.5 1188.5,407.2 1188.8,415.5 1189.0,384.1 1189.2,396.9 1189.5,392.6 1189.8,416.7 1190.0,408.3 1190.2,382.3 1190.5,391.6 1190.8,438.7 1191.0,384.9 1191.2,406.2 1191.5,391.4 1191.8,428.0 1192.0,402.2 1192.2,395.1 1192.5,383.4 1192.8,398.8 1193.0,419.6 1193.2,416.5 1193.5,382.3 1193.8,434.5 1194.0,398.9 1194.2,384.4 1194.5,406.0 1194.8,391.8 1195.0,392.6 1195.2,391.6 1195.5,401.9 1195.8,394.2 1196.0,379.5 1196.2,413.7 1196.5,393.8 1196.8,427.2 1197.0,414.1 1197.2,415.7 1197.5,407.2 1197.8,429.4 1198.0,397.6 1198.2,385.1 1198.5,410.4 1198.8,372.1 1199.0,396.9 1199.2,408.0 1199.5,396.0 1199.8,428.7 1200.0,417.5 1200.2,406.1 1200.5,396.4 1200.8,425.5 1201.0,391.1 1201.2,396.1 1201.5,418.5 1201.8,415.6 1202.0,445.2 1202.2,400.0 1202.5,378.7 1202.8,416.9 1203.0,429.0 1203.2,401.0 1203.5,435.2 1203.8,439.9 1204.0,391.6 1204.2,395.1 1204.5,383.6 1204.8,414.7 1205.0,418.2 1205.2,416.0 1205.5,383.8 1205.8,389.8 1206.0,382.3 1206.2,381.0 1206.5,383.0 1206.8,381.3 1207.0,400.9 1207.2,412.6 1207.5,416.5 1207.8,404.1 1208.0,391.7 1208.2,404.3 1208.5,415.5 1208.8,398.9 1209.0,405.5 1209.2,398.7 1209.5,394.6 1209.8,405.2 1210.0,385.0 1210.2,425.2 1210.5,381.6 1210.8,413.5 1211.0,383.2 1211.2,434.7 1211.5,421.6 1211.8,389.3 1212.0,396.2 1212.2,385.1 1212.5,403.6 1212.8,412.7 1213.0,457.2 1213.2,383.3 1213.5,429.3 1213.8,393.8 1214.0,410.1 1214.2,422.0 1214.5,415.4 1214.8,413.1 1215.0,401.2 1215.2,404.8 1215.5,407.9 1215.8,428.6 1216.0,382.7 1216.2,395.7 1216.5,384.5 1216.8,386.7 1217.0,389.9 1217.2,426.7 1217.5,448.6 1217.8,432.0 1218.0,385.0 1218.2,406.6 1218.5,385.4 1218.8,413.8 1219.0,430.4 1219.2,416.6 1219.5,422.3 1219.8,402.5 1220.0,379.2 1220.2,379.1 1220.5,403.5 1220.8,416.5 1221.0,430.5 1221.2,398.8 1221.5,406.8 1221.8,410.3 1222.0,426.4 1222.2,404.1 1222.5,386.0 1222.8,426.8 1223.0,413.5 1223.2,412.9 1223.5,384.7 1223.8,405.4 1224.0,381.4 1224.2,379.2 1224.5,401.1 1224.8,397.4 1225.0,416.7 1225.2,434.4 1225.5,405.1 1225.8,441.7 1226.0,394.5 1226.2,420.7 1226.5,385.0 1226.8,408.2 1227.0,399.8 1227.2,401.9 1227.5,417.3 1227.8,380.3 1228.0,408.1 1228.2,390.4 1228.5,408.2 1228.8,413.5 1229.0,398.9 1229.2,398.9 1229.5,386.1 1229.8,416.7 1230.0,393.2 1230.2,414.7 1230.5,384.0 1230.8,433.3 1231.0,387.2 1231.2,429.0 1231.5,397.6 1231.8,416.8 1232.0,403.5 1232.2,419.5 1232.5,406.3 1232.8,431.5 1233.0,419.4 1233.2,419.6 1233.5,439.9 1233.8,393.0 1234.0,432.2 1234.2,407.7 1234.5,383.9 1234.8,415.7 1235.0,402.5 1235.2,440.4 1235.5,397.1 1235.8,407.4 1236.0,411.0 1236.2,380.7 1236.5,416.4 1236.8,387.8 1237.0,434.7 1237.2,440.1 1237.5,406.4 1237.8,383.3 1238.0,410.1 1238.2,410.0 1238.5,420.8 1238.8,401.0 1239.0,386.4 1239.2,404.0 1239.5,389.0 1239.8,442.5 1240.0,393.2 1240.2,394.3 1240.5,405.9 1240.8,386.1 1241.0,398.3 1241.2,404.3 1241.5,397.5 1241.8,402.1 1242.0,431.6 1242.2,415.4 1242.5,385.5 1242.8,398.7 1243.0,421.6 1243.2,394.5 1243.5,408.6 1243.8,406.5 1244.0,417.4 1244.2,403.7 1244.5,404.4 1244.8,390.7 1245.0,414.1 1245.2,389.4 1245.5,442.2 1245.8,406.8 1246.0,402.9 1246.2,422.7 1246.5,405.6 1246.8,409.0 1247.0,406.3 1247.2,393.4 1247.5,389.6 1247.8,393.9 1248.0,429.8 1248.2,395.3 1248.5,399.6 1248.8,398.8 1249.0,421.1 1249.2,447.8 1249.5,389.7 1249.8,418.2 1250.0,409.8 1250.2,401.7 1250.5,417.4 1250.8,386.5 1251.0,424.0 1251.2,411.8 1251.5,388.7 1251.8,439.7 1252.0,424.4 1252.2,430.8 1252.5,385.2 1252.8,402.5 1253.0,397.7 1253.2,420.0 1253.5,434.8 1253.8,381.9 1254.0,408.2 1254.2,405.4 1254.5,427.6 1254.8,407.0 1255.0,386.8 1255.2,404.1 1255.5,388.7 1255.8,393.0 1256.0,408.7 1256.2,398.7 1256.5,413.4 1256.8,385.0 1257.0,455.8 1257.2,433.2 1257.5,422.1 1257.8,386.8 1258.0,380.2 1258.2,391.5 1258.5,403.6 1258.8,453.9 1259.0,434.2 1259.2,398.0 1259.5,432.2 1259.8,432.6 1260.0,408.5 1260.2,432.5 1260.5,414.6 1260.8,395.6 1261.0,387.9 1261.2,405.9 1261.5,428.1 1261.8,386.6 1262.0,384.6 1262.2,419.1 1262.5,376.2 1262.8,445.4 1263.0,399.9 1263.2,422.8 1263.5,446.3 1263.8,386.0 1264.0,389.1 1264.2,454.6 1264.5,403.0 1264.8,406.1 1265.0,412.9 1265.2,429.6 1265.5,435.1 1265.8,410.7 1266.0,402.2 1266.2,407.9 1266.5,414.5 1266.8,434.9 1267.0,411.3 1267.2,445.7 1267.5,392.2 1267.8,419.2 1268.0,444.4 1268.2,434.6 1268.5,415.3 1268.8,391.8 1269.0,395.1 1269.2,405.8 1269.5,414.9 1269.8,404.1 1270.0,386.3 1270.2,394.7 1270.5,419.1 1270.8,425.5 1271.0,386.8 1271.2,401.9 1271.5,384.7 1271.8,398.1 1272.0,484.8 1272.2,410.3 1272.5,402.4 1272.8,397.7 1273.0,388.4 1273.2,383.4 1273.5,408.3 1273.8,403.8 1274.0,439.0 1274.2,385.2 1274.5,417.7 1274.8,436.2 1275.0,382.8 1275.2,422.2 1275.5,385.5 1275.8,419.5 1276.0,439.1 1276.2,409.2 1276.5,414.9 1276.8,395.9 1277.0,415.0 1277.2,432.0 1277.5,405.9 1277.8,406.7 1278.0,417.1 1278.2,425.8 1278.5,385.5 1278.8,410.7 1279.0,396.3 1279.2,419.3 1279.5,430.2 1279.8,415.7 1280.0,435.6 1280.2,390.6 1280.5,401.7 1280.8,390.6 1281.0,410.8 1281.2,411.5 1281.5,405.9 1281.8,389.0 1282.0,408.2 1282.2,401.3 1282.5,421.7 1282.8,404.6 1283.0,433.1 1283.2,414.3 1283.5,384.1 1283.8,406.5 1284.0,387.4 1284.2,429.2 1284.5,438.9 1284.8,409.4 1285.0,418.7 1285.2,387.4 1285.5,381.2 1285.8,399.2 1286.0,405.1 1286.2,386.9 1286.5,411.8 1286.8,416.2 1287.0,422.8 1287.2,441.6 1287.5,426.2 1287.8,403.0 1288.0,412.2 1288.2,422.1 1288.5,390.7 1288.8,437.0 1289.0,428.2 1289.2,405.9 1289.5,397.9 1289.8,492.8 1290.0,427.1 1290.2,429.1 1290.5,447.2 1290.8,430.0 1291.0,414.5 1291.2,424.4 1291.5,392.7 1291.8,424.7 1292.0,387.1 1292.2,418.9 1292.5,421.6 1292.8,387.0 1293.0,450.1 1293.2,390.2 1293.5,431.6 1293.8,400.4 1294.0,416.8 1294.2,397.9 1294.5,463.0 1294.8,431.5 1295.0,448.0 1295.2,426.5 1295.5,424.8 1295.8,413.9 1296.0,406.3 1296.2,423.1 1296.5,414.2 1296.8,408.1 1297.0,388.8 1297.2,405.2 1297.5,423.2 1297.8,402.0 1298.0,418.1 1298.2,408.5 1298.5,391.6 1298.8,393.7 1299.0,396.9 1299.2,405.7 1299.5,406.3 1299.8,434.0 1300.0,391.3 1300.2,383.8 1300.5,425.2 1300.8,402.6 1301.0,409.2 1301.2,465.3 1301.5,441.5 1301.8,423.3 1302.0,430.7 1302.2,414.0 1302.5,431.0 1302.8,399.8 1303.0,397.8 1303.2,402.6 1303.5,444.2 1303.8,443.7 1304.0,400.0 1304.2,435.4 1304.5,408.8 1304.8,433.6 1305.0,405.7 1305.2,431.2 1305.5,409.8 1305.8,406.4 1306.0,411.6 1306.2,415.2 1306.5,400.7 1306.8,389.6 1307.0,447.1 1307.2,404.5 1307.5,386.1 1307.8,382.6 1308.0,378.5 1308.2,400.3 1308.5,440.1 1308.8,387.7 1309.0,406.1 1309.2,386.1 1309.5,434.8 1309.8,419.7 1310.0,418.9 1310.2,440.1 1310.5,446.5 1310.8,433.4 1311.0,401.2 1311.2,390.3 1311.5,392.5 1311.8,387.0 1312.0,450.2 1312.2,408.9 1312.5,415.2 1312.8,416.6 1313.0,455.0 1313.2,401.7 1313.5,436.9 1313.8,418.9 1314.0,409.9 1314.2,385.8 1314.5,431.5 1314.8,398.3 1315.0,403.9 1315.2,417.4 1315.5,414.9 1315.8,435.9 1316.0,399.8 1316.2,416.3 1316.5,418.6 1316.8,413.6 1317.0,426.8 1317.2,408.1 1317.5,437.8 1317.8,399.2 1318.0,389.9 1318.2,412.4 1318.5,437.4 1318.8,403.1 1319.0,400.9 1319.2,406.5 1319.5,416.6 1319.8,409.9 1320.0,419.6 1320.2,387.9 1320.5,444.4 1320.8,425.2 1321.0,396.5 1321.2,441.7 1321.5,422.5 1321.8,443.9 1322.0,392.3 1322.2,448.0 1322.5,414.5 1322.8,385.4 1323.0,428.9 1323.2,407.7 1323.5,393.7 1323.8,409.4 1324.0,386.4 1324.2,425.5 1324.5,409.5 1324.8,408.4 1325.0,443.0 1325.2,414.5 1325.5,400.8 1325.8,395.1 1326.0,412.7 1326.2,435.7 1326.5,402.4 1326.8,393.7 1327.0,432.7 1327.2,415.2 1327.5,413.5 1327.8,458.0 1328.0,392.4 1328.2,418.0 1328.5,388.0 1328.8,408.2 1329.0,426.0 1329.2,437.2 1329.5,392.1 1329.8,431.2 1330.0,430.1 1330.2,411.8 1330.5,466.7 1330.8,414.3 1331.0,396.9 1331.2,422.8 1331.5,387.6 1331.8,446.7 1332.0,434.5 1332.2,406.5 1332.5,426.8 1332.8,425.2 1333.0,455.1 1333.2,402.3 1333.5,392.2 1333.8,386.4 1334.0,408.7 1334.2,390.1 1334.5,411.1 1334.8,422.8 1335.0,405.8 1335.2,395.9 1335.5,439.2 1335.8,410.7 1336.0,419.3 1336.2,434.1 1336.5,392.4 1336.8,396.5 1337.0,468.2 1337.2,411.6 1337.5,394.5 1337.8,409.8 1338.0,403.5 1338.2,393.1 1338.5,406.8 1338.8,414.5 1339.0,414.6 1339.2,425.8 1339.5,389.2 1339.8,391.1 1340.0,431.1 1340.2,406.2 1340.5,440.1 1340.8,421.2 1341.0,391.9 1341.2,425.9 1341.5,395.1 1341.8,420.3 1342.0,440.5 1342.2,459.9 1342.5,413.8 1342.8,429.4 1343.0,421.3 1343.2,431.4 1343.5,383.0 1343.8,407.6 1344.0,421.2 1344.2,424.8 1344.5,400.4 1344.8,432.2 1345.0,438.1 1345.2,416.8 1345.5,411.0 1345.8,408.4 1346.0,418.3 1346.2,439.8 1346.5,446.7 1346.8,406.2 1347.0,397.1 1347.2,399.9 1347.5,435.8 1347.8,420.1 1348.0,421.7 1348.2,425.4 1348.5,423.3 1348.8,413.3 1349.0,395.4 1349.2,403.5 1349.5,418.2 1349.8,423.7 1350.0,408.5 1350.2,407.6 1350.5,444.2 1350.8,406.6 1351.0,420.3 1351.2,409.6 1351.5,398.9 1351.8,391.9 1352.0,405.3 1352.2,399.7 1352.5,433.3 1352.8,394.9 1353.0,407.9 1353.2,429.3 1353.5,413.9 1353.8,426.1 1354.0,433.1 1354.2,390.9 1354.5,408.0 1354.8,397.2 1355.0,444.1 1355.2,413.9 1355.5,426.3 1355.8,451.7 1356.0,409.2 1356.2,417.8 1356.5,424.5 1356.8,411.1 1357.0,442.2 1357.2,433.0 1357.5,436.9 1357.8,417.4 1358.0,409.7 1358.2,409.4 1358.5,409.3 1358.8,391.4 1359.0,423.8 1359.2,433.0 1359.5,416.3 1359.8,406.8 1360.0,417.3 1360.2,421.1 1360.5,423.1 1360.8,454.1 1361.0,399.8 1361.2,423.9 1361.5,430.6 1361.8,418.2 1362.0,412.1 1362.2,396.5 1362.5,405.0 1362.8,431.0 1363.0,446.7 1363.2,403.9 1363.5,426.2 1363.8,427.2 1364.0,437.3 1364.2,421.7 1364.5,425.7 1364.8,435.0 1365.0,395.6 1365.2,417.8 1365.5,391.0 1365.8,389.3 1366.0,400.8 1366.2,392.8 1366.5,427.1 1366.8,437.2 1367.0,411.0 1367.2,414.3 1367.5,412.5 1367.8,411.9 1368.0,419.8 1368.2,424.1 1368.5,408.0 1368.8,401.7 1369.0,406.9 1369.2,433.3 1369.5,408.9 1369.8,447.0 1370.0,412.4 1370.2,445.2 1370.5,395.8 1370.8,403.6 1371.0,426.8 1371.2,427.0 1371.5,414.2 1371.8,459.8 1372.0,418.7 1372.2,423.0 1372.5,406.2 1372.8,451.5 1373.0,434.6 1373.2,425.6 1373.5,392.5 1373.8,424.6 1374.0,408.3 1374.2,425.2 1374.5,435.9 1374.8,402.8 1375.0,421.8 1375.2,435.2 1375.5,420.7 1375.8,411.1 1376.0,397.2 1376.2,404.4 1376.5,395.5 1376.8,437.5 1377.0,419.6 1377.2,396.0 1377.5,417.5 1377.8,395.4 1378.0,379.8 1378.2,442.2 1378.5,441.4 1378.8,394.1 1379.0,403.6 1379.2,421.8 1379.5,410.2 1379.8,401.0 1380.0,407.7 1380.2,413.0 1380.5,406.9 1380.8,421.9 1381.0,413.2 1381.2,402.9 1381.5,418.3 1381.8,392.7 1382.0,447.4 1382.2,392.2 1382.5,416.2 1382.8,424.6 1383.0,426.1 1383.2,423.0 1383.5,443.6 1383.8,397.0 1384.0,416.5 1384.2,420.8 1384.5,408.2 1384.8,406.3 1385.0,444.1 1385.2,404.0 1385.5,408.6 1385.8,412.6 1386.0,413.8 1386.2,421.2 1386.5,413.9 1386.8,425.4 1387.0,420.7 1387.2,427.5 1387.5,445.9 1387.8,401.5 1388.0,451.9 1388.2,409.3 1388.5,431.3 1388.8,421.2 1389.0,412.3 1389.2,390.7 1389.5,451.1 1389.8,403.3 1390.0,402.7 1390.2,439.6 1390.5,419.6 1390.8,457.4 1391.0,452.7 1391.2,432.3 1391.5,423.1 1391.8,433.4 1392.0,395.9 1392.2,421.5 1392.5,421.1 1392.8,409.0 1393.0,423.2 1393.2,394.8 1393.5,436.3 1393.8,444.4 1394.0,396.1 1394.2,421.1 1394.5,449.8 1394.8,426.5 1395.0,398.2 1395.2,399.0 1395.5,435.4 1395.8,456.1 1396.0,397.8 1396.2,419.0 1396.5,403.2 1396.8,412.8 1397.0,424.4 1397.2,417.5 1397.5,405.0 1397.8,462.0 1398.0,415.3 1398.2,414.8 1398.5,440.7 1398.8,418.6 1399.0,414.4 1399.2,437.4 1399.5,398.3 1399.8,433.3 1400.0,439.1 1400.2,431.6 1400.5,414.9 1400.8,418.3 1401.0,393.0 1401.2,415.9 1401.5,424.1 1401.8,435.8 1402.0,421.2 1402.2,410.9 1402.5,402.1 1402.8,417.6 1403.0,421.1 1403.2,442.9 1403.5,418.7 1403.8,408.7 1404.0,416.4 1404.2,409.1 1404.5,413.9 1404.8,389.3 1405.0,394.1 1405.2,397.2 1405.5,427.7 1405.8,417.0 1406.0,421.4 1406.2,442.0 1406.5,398.4 1406.8,441.6 1407.0,426.2 1407.2,404.7 1407.5,448.9 1407.8,395.4 1408.0,397.8 1408.2,414.5 1408.5,426.6 1408.8,414.9 1409.0,389.9 1409.2,412.8 1409.5,417.0 1409.8,472.0 1410.0,446.5 1410.2,421.1 1410.5,398.1 1410.8,425.4 1411.0,397.5 1411.2,422.7 1411.5,425.9 1411.8,410.9 1412.0,423.6 1412.2,412.3 1412.5,407.6 1412.8,450.0 1413.0,430.2 1413.2,412.7 1413.5,403.8 1413.8,422.2 1414.0,430.0 1414.2,435.8 1414.5,448.8 1414.8,427.9 1415.0,398.0 1415.2,460.8 1415.5,442.2 1415.8,435.4 1416.0,445.9 1416.2,395.1 1416.5,411.5 1416.8,408.8 1417.0,442.8 1417.2,397.6 1417.5,412.5 1417.8,449.8 1418.0,431.7 1418.2,411.3 1418.5,457.6 1418.8,396.4 1419.0,427.8 1419.2,414.4 1419.5,429.0 1419.8,413.5 1420.0,402.5 1420.2,423.0 1420.5,396.5 1420.8,429.4 1421.0,412.6 1421.2,437.4 1421.5,410.1 1421.8,405.8 1422.0,426.8 1422.2,443.9 1422.5,390.7 1422.8,421.2 1423.0,431.4 1423.2,395.8 1423.5,401.7 1423.8,431.7 1424.0,402.8 1424.2,406.4 1424.5,454.2 1424.8,400.5 1425.0,402.1 1425.2,388.8 1425.5,398.3 1425.8,397.3 1426.0,454.2 1426.2,443.6 1426.5,397.0 1426.8,459.7 1427.0,434.4 1427.2,415.4 1427.5,435.2 1427.8,426.5 1428.0,404.0 1428.2,393.2 1428.5,401.2 1428.8,418.9 1429.0,412.0 1429.2,404.5 1429.5,438.6 1429.8,398.6 1430.0,436.9 1430.2,409.6 1430.5,421.2 1430.8,398.2 1431.0,418.9 1431.2,403.7 1431.5,393.3 1431.8,418.6 1432.0,418.0 1432.2,435.7 1432.5,424.7 1432.8,399.2 1433.0,407.0 1433.2,387.6 1433.5,398.3 1433.8,445.5 1434.0,450.1 1434.2,434.4 1434.5,425.1 1434.8,430.8 1435.0,428.8 1435.2,393.5 1435.5,402.0 1435.8,443.2 1436.0,443.1 1436.2,423.9 1436.5,413.0 1436.8,411.6 1437.0,408.4 1437.2,400.9 1437.5,392.0 1437.8,422.1 1438.0,410.2 1438.2,414.9 1438.5,454.6 1438.8,431.0 1439.0,405.3 1439.2,430.8 1439.5,395.3 1439.8,440.5 1440.0,424.4 1440.2,415.4 1440.5,430.6 1440.8,449.1 1441.0,410.0 1441.2,399.7 1441.5,463.5 1441.8,419.5 1442.0,450.0 1442.2,405.9 1442.5,426.8 1442.8,406.6 1443.0,432.0 1443.2,413.8 1443.5,406.0 1443.8,451.3 1444.0,426.0 1444.2,391.2 1444.5,414.6 1444.8,401.1 1445.0,397.6 1445.2,407.7 1445.5,409.8 1445.8,419.9 1446.0,403.6 1446.2,392.5 1446.5,408.7 1446.8,437.1 1447.0,396.4 1447.2,431.8 1447.5,428.5 1447.8,410.4 1448.0,425.5 1448.2,404.4 1448.5,411.4 1448.8,399.2 1449.0,428.7 1449.2,447.6 1449.5,405.8 1449.8,443.9 1450.0,390.3 1450.2,401.7 1450.5,399.2 1450.8,455.3 1451.0,407.6 1451.2,435.2 1451.5,391.0 1451.8,421.6 1452.0,430.8 1452.2,418.6 1452.5,385.6 1452.8,422.9 1453.0,435.9 1453.2,446.7 1453.5,427.4 1453.8,393.9 1454.0,415.2 1454.2,437.9 1454.5,403.0 1454.8,430.8 1455.0,409.8 1455.2,421.2 1455.5,434.9 1455.8,405.2 1456.0,481.5 1456.2,422.4 1456.5,426.3 1456.8,404.6 1457.0,420.7 1457.2,414.0 1457.5,395.7 1457.8,395.1 1458.0,425.2 1458.2,417.7 1458.5,386.3 1458.8,390.2 1459.0,413.3 1459.2,418.1 1459.5,431.9 1459.8,397.5 1460.0,431.5 1460.2,413.3 1460.5,409.3 1460.8,416.6 1461.0,439.8 1461.2,430.9 1461.5,437.8 1461.8,405.7 1462.0,413.8 1462.2,398.1 1462.5,408.4 1462.8,411.5 1463.0,410.1 1463.2,434.2 1463.5,428.2 1463.8,435.1 1464.0,422.1 1464.2,441.8 1464.5,421.8 1464.8,439.5 1465.0,429.8 1465.2,434.7 1465.5,418.2 1465.8,397.5 1466.0,395.8 1466.2,461.3 1466.5,427.5 1466.8,428.6 1467.0,416.2 1467.2,410.3 1467.5,482.4 1467.8,398.5 1468.0,418.3 1468.2,418.6 1468.5,398.4 1468.8,397.3 1469.0,405.4 1469.2,412.7 1469.5,409.8 1469.8,436.4 1470.0,398.0 1470.2,427.9 1470.5,450.5 1470.8,438.1 1471.0,398.4 1471.2,383.7 1471.5,437.1 1471.8,429.8 1472.0,407.8 1472.2,446.5 1472.5,411.5 1472.8,421.8 1473.0,399.2 1473.2,426.2 1473.5,411.0 1473.8,409.5 1474.0,442.2 1474.2,424.0 1474.5,395.5 1474.8,433.9 1475.0,437.0 1475.2,402.9 1475.5,411.8 1475.8,420.8 1476.0,414.7 1476.2,422.2 1476.5,433.1 1476.8,409.8 1477.0,464.4 1477.2,405.3 1477.5,408.8 1477.8,461.9 1478.0,471.4 1478.2,420.5 1478.5,416.0 1478.8,398.9 1479.0,443.7 1479.2,423.3 1479.5,402.6 1479.8,428.1 1480.0,448.6 1480.2,433.9 1480.5,467.4 1480.8,444.1 1481.0,428.8 1481.2,419.1 1481.5,431.1 1481.8,445.3 1482.0,437.6 1482.2,441.8 1482.5,424.3 1482.8,435.7 1483.0,445.3 1483.2,416.5 1483.5,397.2 1483.8,456.6 1484.0,431.8 1484.2,410.9 1484.5,424.6 1484.8,414.8 1485.0,393.9 1485.2,416.1 1485.5,396.1 1485.8,424.0 1486.0,417.6 1486.2,443.6 1486.5,417.4 1486.8,427.5 1487.0,413.8 1487.2,412.2 1487.5,396.4 1487.8,440.6 1488.0,423.4 1488.2,408.0 1488.5,424.1 1488.8,411.5 1489.0,405.2 1489.2,425.0 1489.5,445.4 1489.8,414.4 1490.0,396.1 1490.2,407.4 1490.5,458.4 1490.8,403.4 1491.0,444.9 1491.2,415.1 1491.5,435.3 1491.8,417.8 1492.0,394.9 1492.2,411.6 1492.5,465.5 1492.8,417.2 1493.0,431.6 1493.2,413.1 1493.5,417.3 1493.8,426.6 1494.0,429.7 1494.2,468.1 1494.5,419.6 1494.8,416.3 1495.0,406.5 1495.2,397.1 1495.5,394.7 1495.8,433.7 1496.0,392.6 1496.2,449.8 1496.5,437.9 1496.8,414.0 1497.0,398.4 1497.2,420.6 1497.5,420.5 1497.8,443.7 1498.0,404.9 1498.2,412.3 1498.5,419.0 1498.8,414.4 1499.0,407.3 1499.2,393.8 1499.5,394.4 1499.8,406.3 1500.0,415.5 1500.2,441.0 1500.5,470.4 1500.8,456.8 1501.0,428.2 1501.2,460.5 1501.5,417.7 1501.8,409.4 1502.0,470.5 1502.2,399.1 1502.5,411.6 1502.8,414.7 1503.0,451.2 1503.2,408.0 1503.5,436.4 1503.8,411.8 1504.0,397.9 1504.2,425.0 1504.5,423.6 1504.8,398.4 1505.0,402.5 1505.2,404.0 1505.5,440.4 1505.8,429.7 1506.0,425.0 1506.2,430.3 1506.5,410.4 1506.8,430.1 1507.0,407.8 1507.2,397.0 1507.5,405.8 1507.8,424.5 1508.0,422.0 1508.2,442.5 1508.5,394.1 1508.8,415.7 1509.0,428.4 1509.2,400.5 1509.5,425.3 1509.8,411.9 1510.0,398.7 1510.2,443.9 1510.5,396.5 1510.8,441.3 1511.0,411.8 1511.2,401.0 1511.5,402.2 1511.8,405.2 1512.0,402.9 1512.2,425.8 1512.5,392.6 1512.8,446.6 1513.0,437.8 1513.2,449.9 1513.5,400.2 1513.8,388.9 1514.0,407.5 1514.2,416.9 1514.5,426.6 1514.8,409.7 1515.0,418.6 1515.2,423.4 1515.5,395.3 1515.8,459.3 1516.0,398.7 1516.2,425.8 1516.5,443.2 1516.8,404.3 1517.0,420.4 1517.2,455.5 1517.5,414.6 1517.8,442.5 1518.0,426.4 1518.2,425.1 1518.5,435.4 1518.8,415.7 1519.0,416.1 1519.2,440.7 1519.5,425.8 1519.8,430.8 1520.0,398.2 1520.2,420.8 1520.5,446.2 1520.8,439.4 1521.0,427.6 1521.2,409.9 1521.5,407.9 1521.8,429.6 1522.0,450.9 1522.2,421.4 1522.5,448.3 1522.8,414.4 1523.0,446.1 1523.2,400.0 1523.5,424.4 1523.8,399.3 1524.0,434.4 1524.2,432.5 1524.5,401.1 1524.8,405.3 1525.0,411.5 1525.2,395.8 1525.5,401.5 1525.8,402.8 1526.0,437.0 1526.2,450.2 1526.5,411.4 1526.8,414.7 1527.0,425.0 1527.2,409.9 1527.5,414.9 1527.8,438.2 1528.0,425.3 1528.2,418.8 1528.5,408.8 1528.8,452.2 1529.0,408.0 1529.2,423.1 1529.5,399.6 1529.8,408.4 1530.0,422.5 1530.2,412.5 1530.5,431.7 1530.8,422.0 1531.0,396.7 1531.2,389.1 1531.5,441.7 1531.8,408.6 1532.0,452.4 1532.2,420.9 1532.5,404.9 1532.8,432.3 1533.0,415.0 1533.2,420.9 1533.5,401.5 1533.8,434.0 1534.0,443.9 1534.2,409.8 1534.5,459.3 1534.8,408.9 1535.0,425.8 1535.2,394.6 1535.5,392.2 1535.8,466.6 1536.0,451.2 1536.2,445.1 1536.5,394.1 1536.8,425.3 1537.0,429.4 1537.2,422.3 1537.5,426.8 1537.8,401.7 1538.0,417.3 1538.2,398.7 1538.5,413.4 1538.8,428.4 1539.0,404.5 1539.2,414.9 1539.5,411.7 1539.8,420.9 1540.0,440.1 1540.2,425.5 1540.5,428.9 1540.8,396.2 1541.0,413.1 1541.2,437.9 1541.5,402.9 1541.8,411.7 1542.0,400.6 1542.2,449.3 1542.5,411.3 1542.8,405.6 1543.0,433.6 1543.2,444.1 1543.5,431.0 1543.8,441.5 1544.0,425.0 1544.2,418.0 1544.5,411.5 1544.8,410.1 1545.0,408.3 1545.2,428.3 1545.5,418.3 1545.8,422.4 1546.0,433.3 1546.2,419.5 1546.5,396.8 1546.8,404.3 1547.0,398.8 1547.2,392.3 1547.5,422.8 1547.8,398.2 1548.0,397.5 1548.2,399.2 1548.5,439.1 1548.8,414.2 1549.0,441.9 1549.2,418.7 1549.5,411.6 1549.8,432.5 1550.0,433.2 1550.2,423.0 1550.5,399.5 1550.8,411.1 1551.0,398.3 1551.2,415.2 1551.5,422.5 1551.8,452.7 1552.0,451.1 1552.2,434.9 1552.5,440.9 1552.8,425.4 1553.0,482.8 1553.2,453.7 1553.5,479.7 1553.8,428.6 1554.0,429.2 1554.2,443.1 1554.5,424.5 1554.8,427.1 1555.0,400.1 1555.2,440.6 1555.5,423.4 1555.8,437.7 1556.0,416.0 1556.2,393.3 1556.5,431.1 1556.8,445.6 1557.0,397.5 1557.2,400.4 1557.5,414.3 1557.8,415.4 1558.0,394.0 1558.2,458.9 1558.5,442.2 1558.8,407.8 1559.0,393.0 1559.2,428.2 1559.5,464.2 1559.8,438.2 1560.0,445.4 1560.2,401.0 1560.5,425.4 1560.8,395.6 1561.0,464.1 1561.2,432.6 1561.5,390.6 1561.8,392.7 1562.0,430.7 1562.2,423.4 1562.5,414.1 1562.8,433.6 1563.0,464.8 1563.2,428.2 1563.5,393.1 1563.8,417.2 1564.0,397.2 1564.2,403.8 1564.5,427.4 1564.8,417.0 1565.0,399.2 1565.2,420.0 1565.5,403.5 1565.8,431.7 1566.0,415.4 1566.2,428.7 1566.5,414.9 1566.8,436.4 1567.0,417.6 1567.2,420.2 1567.5,408.7 1567.8,423.4 1568.0,393.3 1568.2,480.4 1568.5,406.2 1568.8,422.5 1569.0,410.5 1569.2,410.2 1569.5,428.9 1569.8,409.7 1570.0,411.5 1570.2,396.5 1570.5,401.1 1570.8,398.3 1571.0,459.9 1571.2,396.9 1571.5,399.1 1571.8,424.4 1572.0,451.4 1572.2,393.9 1572.5,395.1 1572.8,423.0 1573.0,427.4 1573.2,396.2 1573.5,393.0 1573.8,400.3 1574.0,436.2 1574.2,419.4 1574.5,436.2 1574.8,418.1 1575.0,419.6 1575.2,433.3 1575.5,417.8 1575.8,425.2 1576.0,401.2 1576.2,407.7 1576.5,430.2 1576.8,415.3 1577.0,404.7 1577.2,434.3 1577.5,431.9 1577.8,420.1 1578.0,404.4 1578.2,439.5 1578.5,476.3 1578.8,403.1 1579.0,395.1 1579.2,404.0 1579.5,400.7 1579.8,397.4 1580.0,398.1 1580.2,438.4 1580.5,438.6 1580.8,452.5 1581.0,436.2 1581.2,410.2 1581.5,443.6 1581.8,407.4 1582.0,412.9 1582.2,398.1 1582.5,446.8 1582.8,441.9 1583.0,410.5 1583.2,413.7 1583.5,420.9 1583.8,424.4 1584.0,438.3 1584.2,421.6 1584.5,428.6 1584.8,395.4 1585.0,413.9 1585.2,392.9 1585.5,459.4 1585.8,450.5 1586.0,435.4 1586.2,444.2 1586.5,464.6 1586.8,440.3 1587.0,394.6 1587.2,415.8 1587.5,388.2 1587.8,403.1 1588.0,397.5 1588.2,419.9 1588.5,428.3 1588.8,400.7 1589.0,414.2 1589.2,426.0 1589.5,416.8 1589.8,416.3 1590.0,387.7 1590.2,410.8 1590.5,437.0 1590.8,425.5 1591.0,395.4 1591.2,414.3 1591.5,425.7 1591.8,399.7 1592.0,434.4 1592.2,403.2 1592.5,413.1 1592.8,417.7 1593.0,469.8 1593.2,413.3 1593.5,408.0 1593.8,435.3 1594.0,410.1 1594.2,424.1 1594.5,388.9 1594.8,426.3 1595.0,419.6 1595.2,397.0 1595.5,449.6 1595.8,415.0 1596.0,415.9 1596.2,396.8 1596.5,394.2 1596.8,408.1 1597.0,395.1 1597.2,430.4 1597.5,438.7 1597.8,406.7 1598.0,394.3 1598.2,411.7 1598.5,399.0 1598.8,423.5 1599.0,423.8 1599.2,411.0 1599.5,421.5 1599.8,442.5 1600.0,457.6 1600.2,409.0 1600.5,435.5 1600.8,415.0 1601.0,399.0 1601.2,447.9 1601.5,428.3 1601.8,422.9 1602.0,427.5 1602.2,416.5 1602.5,399.0 1602.8,459.2 1603.0,439.4 1603.2,425.5 1603.5,440.8 1603.8,448.0 1604.0,415.8 1604.2,432.5 1604.5,413.1 1604.8,433.8 1605.0,414.6 1605.2,474.9 1605.5,412.4 1605.8,431.0 1606.0,429.8 1606.2,412.9 1606.5,440.2 1606.8,418.2 1607.0,411.3 1607.2,420.0 1607.5,404.1 1607.8,446.0 1608.0,433.4 1608.2,441.2 1608.5,396.5 1608.8,425.7 1609.0,403.8 1609.2,421.8 1609.5,447.8 1609.8,425.4 1610.0,416.3 1610.2,444.3 1610.5,441.9 1610.8,461.0 1611.0,392.2 1611.2,426.9 1611.5,411.2 1611.8,401.5 1612.0,422.4 1612.2,398.0 1612.5,389.0 1612.8,400.9 1613.0,414.5 1613.2,461.5 1613.5,404.8 1613.8,398.0 1614.0,391.2 1614.2,412.6 1614.5,414.9 1614.8,423.1 1615.0,395.6 1615.2,403.9 1615.5,388.7 1615.8,423.6 1616.0,394.6 1616.2,384.6 1616.5,445.3 1616.8,430.8 1617.0,427.5 1617.2,427.5 1617.5,399.1 1617.8,443.4 1618.0,399.0 1618.2,462.7 1618.5,424.8 1618.8,392.3 1619.0,438.8 1619.2,464.1 1619.5,414.7 1619.8,443.3 1620.0,415.6 1620.2,406.8 1620.5,386.0 1620.8,447.1 1621.0,410.6 1621.2,428.2 1621.5,398.3 1621.8,400.8 1622.0,444.5 1622.2,411.9 1622.5,411.6 1622.8,397.2 1623.0,424.6 1623.2,436.9 1623.5,410.3 1623.8,416.1 1624.0,397.5 1624.2,451.0 1624.5,407.0 1624.8,416.8 1625.0,457.6 1625.2,415.3 1625.5,394.7 1625.8,400.5 1626.0,412.5 1626.2,460.0 1626.5,424.9 1626.8,415.4 1627.0,438.2 1627.2,448.9 1627.5,404.1 1627.8,452.0 1628.0,438.9 1628.2,429.9 1628.5,387.8 1628.8,424.4 1629.0,451.1 1629.2,414.4 1629.5,472.8 1629.8,421.9 1630.0,399.3 1630.2,433.2 1630.5,426.6 1630.8,438.5 1631.0,415.6 1631.2,449.2 1631.5,408.5 1631.8,423.2 1632.0,397.3 1632.2,403.3 1632.5,424.7 1632.8,406.3 1633.0,410.8 1633.2,416.0 1633.5,425.8 1633.8,437.2 1634.0,437.2 1634.2,443.0 1634.5,424.8 1634.8,408.8 1635.0,394.4 1635.2,413.0 1635.5,403.4 1635.8,392.4 1636.0,457.5 1636.2,392.2 1636.5,428.2 1636.8,432.6 1637.0,415.4 1637.2,480.3 1637.5,420.9 1637.8,404.0 1638.0,460.3 1638.2,403.3 1638.5,395.7 1638.8,399.4 1639.0,406.7 1639.2,421.5 1639.5,427.8 1639.8,394.9 1640.0,428.1 1640.2,471.8 1640.5,405.1 1640.8,417.7 1641.0,435.8 1641.2,447.4 1641.5,406.1 1641.8,399.7 1642.0,399.3 1642.2,444.9 1642.5,440.4 1642.8,389.3 1643.0,389.5 1643.2,397.3 1643.5,395.0 1643.8,429.4 1644.0,425.3 1644.2,465.3 1644.5,438.1 1644.8,423.1 1645.0,446.9 1645.2,401.2 1645.5,395.9 1645.8,421.2 1646.0,441.4 1646.2,394.0 1646.5,440.4 1646.8,439.6 1647.0,409.7 1647.2,424.2 1647.5,414.6 1647.8,422.3 1648.0,438.4 1648.2,403.1 1648.5,443.7 1648.8,439.8 1649.0,440.7 1649.2,390.9 1649.5,391.9 1649.8,435.8 1650.0,407.8 1650.2,405.6 1650.5,403.9 1650.8,396.4 1651.0,414.3 1651.2,404.9 1651.5,406.3 1651.8,431.0 1652.0,397.7 1652.2,445.7 1652.5,388.7 1652.8,479.0 1653.0,396.2 1653.2,433.4 1653.5,440.8 1653.8,420.4 1654.0,437.0 1654.2,418.2 1654.5,392.7 1654.8,428.1 1655.0,446.2 1655.2,408.5 1655.5,393.2 1655.8,407.4 1656.0,427.6 1656.2,427.1 1656.5,445.3 1656.8,432.8 1657.0,431.7 1657.2,390.6 1657.5,472.2 1657.8,421.6 1658.0,439.8 1658.2,413.0 1658.5,417.2 1658.8,421.8 1659.0,456.4 1659.2,455.1 1659.5,434.2 1659.8,466.4 1660.0,411.9 1660.2,432.0 1660.5,410.6 1660.8,449.9 1661.0,421.4 1661.2,442.6 1661.5,460.2 1661.8,389.9 1662.0,471.1 1662.2,427.7 1662.5,413.7 1662.8,391.3 1663.0,414.1 1663.2,387.9 1663.5,422.6 1663.8,417.0 1664.0,462.8 1664.2,413.5 1664.5,444.9 1664.8,447.1 1665.0,468.7" fill="none" stroke="#e69f00" stroke-width="2.2" stroke-linejoin="round" stroke-linejoin="miter" stroke-miterlimit="2"/>
<polyline points="1002.2,460.0 1002.2,30.0 1003.5,150.0 1004.5,240.0 1005.5,290.0 1007.0,322.0 1010.0,338.0" fill="none" stroke="#ff6f8a" stroke-width="3.0" stroke-linejoin="round" />
<polyline points="1008.0,341.6 1008.2,348.2 1008.5,338.8 1008.8,340.7 1009.0,345.7 1009.2,348.0 1009.5,342.7 1009.8,347.1 1010.0,354.1 1010.2,347.6 1010.5,349.8 1010.8,345.6 1011.0,360.4 1011.2,363.6 1011.5,353.4 1011.8,351.7 1012.0,364.2 1012.2,356.2 1012.5,348.8 1012.8,346.0 1013.0,349.8 1013.2,370.3 1013.5,350.1 1013.8,376.8 1014.0,354.7 1014.2,353.3 1014.5,365.2 1014.8,353.5 1015.0,358.3 1015.2,348.1 1015.5,347.6 1015.8,350.3 1016.0,357.9 1016.2,351.1 1016.5,345.7 1016.8,360.5 1017.0,355.5 1017.2,354.7 1017.5,352.1 1017.8,345.1 1018.0,371.3 1018.2,353.6 1018.5,362.3 1018.8,370.3 1019.0,368.1 1019.2,360.1 1019.5,358.6 1019.8,361.4 1020.0,367.1 1020.2,364.4 1020.5,355.5 1020.8,363.7 1021.0,363.3 1021.2,366.4 1021.5,362.1 1021.8,373.4 1022.0,362.6 1022.2,369.3 1022.5,361.6 1022.8,356.0 1023.0,352.8 1023.2,360.3 1023.5,367.2 1023.8,374.7 1024.0,361.6 1024.2,357.7 1024.5,358.0 1024.8,376.1 1025.0,364.4 1025.2,358.7 1025.5,371.2 1025.8,353.1 1026.0,365.4 1026.2,364.0 1026.5,363.4 1026.8,354.5 1027.0,375.3 1027.2,383.2 1027.5,354.3 1027.8,367.0 1028.0,372.7 1028.2,391.0 1028.5,362.2 1028.8,356.9 1029.0,366.9 1029.2,389.4 1029.5,368.1 1029.8,370.4 1030.0,387.5 1030.2,352.8 1030.5,352.8 1030.8,378.4 1031.0,377.2 1031.2,356.7 1031.5,374.8 1031.8,369.8 1032.0,371.9 1032.2,361.0 1032.5,365.0 1032.8,360.6 1033.0,371.0 1033.2,368.1 1033.5,390.5 1033.8,378.2 1034.0,357.8 1034.2,376.2 1034.5,388.5 1034.8,375.1 1035.0,384.8 1035.2,372.0 1035.5,380.8 1035.8,362.1 1036.0,382.2 1036.2,360.2 1036.5,388.9 1036.8,359.9 1037.0,357.3 1037.2,380.3 1037.5,372.2 1037.8,375.8 1038.0,379.7 1038.2,374.5 1038.5,364.6 1038.8,377.8 1039.0,379.6 1039.2,381.6 1039.5,400.9 1039.8,367.3 1040.0,377.0 1040.2,383.3 1040.5,371.3 1040.8,364.0 1041.0,370.2 1041.2,390.5 1041.5,374.1 1041.8,385.2 1042.0,368.8 1042.2,383.5 1042.5,369.8 1042.8,368.0 1043.0,379.9 1043.2,379.3 1043.5,397.9 1043.8,363.7 1044.0,385.7 1044.2,400.5 1044.5,397.3 1044.8,374.9 1045.0,371.4 1045.2,373.9 1045.5,384.1 1045.8,382.8 1046.0,385.1 1046.2,388.5 1046.5,368.0 1046.8,367.9 1047.0,367.5 1047.2,367.0 1047.5,380.3 1047.8,385.7 1048.0,417.0 1048.2,389.0 1048.5,382.4 1048.8,401.5 1049.0,372.9 1049.2,387.0 1049.5,395.8 1049.8,393.4 1050.0,388.3 1050.2,378.6 1050.5,369.1 1050.8,381.4 1051.0,375.7 1051.2,393.0 1051.5,382.0 1051.8,391.5 1052.0,367.8 1052.2,397.5 1052.5,373.0 1052.8,368.4 1053.0,369.5 1053.2,376.4 1053.5,400.5 1053.8,394.8 1054.0,371.0 1054.2,386.5 1054.5,384.0 1054.8,369.2 1055.0,372.4 1055.2,366.8 1055.5,374.1 1055.8,363.7 1056.0,375.4 1056.2,373.6 1056.5,375.6 1056.8,375.3 1057.0,403.2 1057.2,382.1 1057.5,390.4 1057.8,397.8 1058.0,400.1 1058.2,397.0 1058.5,379.8 1058.8,373.4 1059.0,377.0 1059.2,381.3 1059.5,388.1 1059.8,387.0 1060.0,404.2 1060.2,387.0 1060.5,415.1 1060.8,403.6 1061.0,382.0 1061.2,401.4 1061.5,364.5 1061.8,409.5 1062.0,395.2 1062.2,395.1 1062.5,371.6 1062.8,428.4 1063.0,386.2 1063.2,387.9 1063.5,406.7 1063.8,387.4 1064.0,378.1 1064.2,400.1 1064.5,376.2 1064.8,401.6 1065.0,392.8 1065.2,407.8 1065.5,375.5 1065.8,409.9 1066.0,395.6 1066.2,421.8 1066.5,382.0 1066.8,420.3 1067.0,402.2 1067.2,403.7 1067.5,381.3 1067.8,400.4 1068.0,402.2 1068.2,380.1 1068.5,376.9 1068.8,381.1 1069.0,415.2 1069.2,395.1 1069.5,407.2 1069.8,397.3 1070.0,394.8 1070.2,396.5 1070.5,387.2 1070.8,412.4 1071.0,396.2 1071.2,397.1 1071.5,376.7 1071.8,398.6 1072.0,383.8 1072.2,386.6 1072.5,410.3 1072.8,378.9 1073.0,391.4 1073.2,404.2 1073.5,412.7 1073.8,386.9 1074.0,399.8 1074.2,399.3 1074.5,379.3 1074.8,373.2 1075.0,374.6 1075.2,404.7 1075.5,397.1 1075.8,378.4 1076.0,385.9 1076.2,389.7 1076.5,390.4 1076.8,395.5 1077.0,432.4 1077.2,384.1 1077.5,398.5 1077.8,384.5 1078.0,386.8 1078.2,382.9 1078.5,393.1 1078.8,388.2 1079.0,402.4 1079.2,400.3 1079.5,383.2 1079.8,428.8 1080.0,380.8 1080.2,403.0 1080.5,433.6 1080.8,386.4 1081.0,419.3 1081.2,421.0 1081.5,403.2 1081.8,377.1 1082.0,421.3 1082.2,399.5 1082.5,389.6 1082.8,419.2 1083.0,386.9 1083.2,415.8 1083.5,389.9 1083.8,407.2 1084.0,382.6 1084.2,392.5 1084.5,384.3 1084.8,387.6 1085.0,402.0 1085.2,396.4 1085.5,402.2 1085.8,420.6 1086.0,397.5 1086.2,378.2 1086.5,394.9 1086.8,400.9 1087.0,416.5 1087.2,416.9 1087.5,415.5 1087.8,396.3 1088.0,410.6 1088.2,381.4 1088.5,421.8 1088.8,407.4 1089.0,408.6 1089.2,394.3 1089.5,401.4 1089.8,389.7 1090.0,409.9 1090.2,382.6 1090.5,416.9 1090.8,409.8 1091.0,435.8 1091.2,400.3 1091.5,399.5 1091.8,404.3 1092.0,401.8 1092.2,399.5 1092.5,384.6 1092.8,384.6 1093.0,392.2 1093.2,396.8 1093.5,384.2 1093.8,384.5 1094.0,397.1 1094.2,414.1 1094.5,398.7 1094.8,413.2 1095.0,418.3 1095.2,414.9 1095.5,395.2 1095.8,395.5 1096.0,380.3 1096.2,391.0 1096.5,410.1 1096.8,385.6 1097.0,425.5 1097.2,427.0 1097.5,396.4 1097.8,418.1 1098.0,383.6 1098.2,386.1 1098.5,396.6 1098.8,402.9 1099.0,399.7 1099.2,388.6 1099.5,437.3 1099.8,407.8 1100.0,407.8 1100.2,414.5 1100.5,406.0 1100.8,399.3 1101.0,394.0 1101.2,382.7 1101.5,429.1 1101.8,388.1 1102.0,382.7 1102.2,390.0 1102.5,383.1 1102.8,438.5 1103.0,409.6 1103.2,427.9 1103.5,428.8 1103.8,413.2 1104.0,413.4 1104.2,391.8 1104.5,402.4 1104.8,393.8 1105.0,404.6 1105.2,392.3 1105.5,425.8 1105.8,417.0 1106.0,402.3 1106.2,383.2 1106.5,415.7 1106.8,419.3 1107.0,403.1 1107.2,386.1 1107.5,411.6 1107.8,422.4 1108.0,381.8 1108.2,414.0 1108.5,382.6 1108.8,405.8 1109.0,435.2 1109.2,406.1 1109.5,412.7 1109.8,399.3 1110.0,404.6 1110.2,446.7 1110.5,427.9 1110.8,399.6 1111.0,398.5 1111.2,405.2 1111.5,444.0 1111.8,408.5 1112.0,424.2 1112.2,399.0 1112.5,386.8 1112.8,428.1 1113.0,403.9 1113.2,392.1 1113.5,393.7 1113.8,394.0 1114.0,395.2 1114.2,385.2 1114.5,426.2 1114.8,411.9 1115.0,422.2 1115.2,399.7 1115.5,411.4 1115.8,408.4 1116.0,425.9 1116.2,419.6 1116.5,411.7 1116.8,394.8 1117.0,387.8 1117.2,392.4 1117.5,395.2 1117.8,396.8 1118.0,387.7 1118.2,435.1 1118.5,410.5 1118.8,382.6 1119.0,388.8 1119.2,387.1 1119.5,410.1 1119.8,424.6 1120.0,389.6 1120.2,416.7 1120.5,401.6 1120.8,426.2 1121.0,430.1 1121.2,411.6 1121.5,418.6 1121.8,406.3 1122.0,400.1 1122.2,388.7 1122.5,412.0 1122.8,405.3 1123.0,400.1 1123.2,405.3 1123.5,403.5 1123.8,389.7 1124.0,397.8 1124.2,426.5 1124.5,402.8 1124.8,431.2 1125.0,389.1 1125.2,387.7 1125.5,409.0 1125.8,420.2 1126.0,395.8 1126.2,417.6 1126.5,423.1 1126.8,425.6 1127.0,405.1 1127.2,406.2 1127.5,386.0 1127.8,407.5 1128.0,411.9 1128.2,432.0 1128.5,388.6 1128.8,393.0 1129.0,390.5 1129.2,422.8 1129.5,380.3 1129.8,390.0 1130.0,444.3 1130.2,418.7 1130.5,388.5 1130.8,406.4 1131.0,422.1 1131.2,416.9 1131.5,403.8 1131.8,394.2 1132.0,422.0 1132.2,407.5 1132.5,421.6 1132.8,414.5 1133.0,399.8 1133.2,433.1 1133.5,399.3 1133.8,415.1 1134.0,397.1 1134.2,403.9 1134.5,403.6 1134.8,396.7 1135.0,412.0 1135.2,431.0 1135.5,441.2 1135.8,433.3 1136.0,405.1 1136.2,433.8 1136.5,415.2 1136.8,440.1 1137.0,389.5 1137.2,434.3 1137.5,398.0 1137.8,428.5 1138.0,400.3 1138.2,424.1 1138.5,403.5 1138.8,385.5 1139.0,391.9 1139.2,404.3 1139.5,408.8 1139.8,383.2 1140.0,390.2 1140.2,396.1 1140.5,404.9 1140.8,412.3 1141.0,394.6 1141.2,388.2 1141.5,413.7 1141.8,403.0 1142.0,424.1 1142.2,399.7 1142.5,419.8 1142.8,393.6 1143.0,413.3 1143.2,410.3 1143.5,416.5 1143.8,392.9 1144.0,406.8 1144.2,394.4 1144.5,406.1 1144.8,419.7 1145.0,464.2 1145.2,409.5 1145.5,421.4 1145.8,410.9 1146.0,429.0 1146.2,417.0 1146.5,427.4 1146.8,415.2 1147.0,452.9 1147.2,433.5 1147.5,387.4 1147.8,414.3 1148.0,410.6 1148.2,384.1 1148.5,394.6 1148.8,401.5 1149.0,396.8 1149.2,411.6 1149.5,387.0 1149.8,422.4 1150.0,422.9 1150.2,415.5 1150.5,403.9 1150.8,409.6 1151.0,401.6 1151.2,429.7 1151.5,418.3 1151.8,445.6 1152.0,403.4 1152.2,435.5 1152.5,399.9 1152.8,406.8 1153.0,392.4 1153.2,418.8 1153.5,408.8 1153.8,420.6 1154.0,436.4 1154.2,408.9 1154.5,416.4 1154.8,425.7 1155.0,408.9 1155.2,400.6 1155.5,416.1 1155.8,418.7 1156.0,423.7 1156.2,424.6 1156.5,398.6 1156.8,417.8 1157.0,431.9 1157.2,402.2 1157.5,416.4 1157.8,399.6 1158.0,413.1 1158.2,441.5 1158.5,413.2 1158.8,393.8 1159.0,416.3 1159.2,414.0 1159.5,430.1 1159.8,390.7 1160.0,394.7 1160.2,409.1 1160.5,389.5 1160.8,430.6 1161.0,386.3 1161.2,396.3 1161.5,390.1 1161.8,399.3 1162.0,424.6 1162.2,421.1 1162.5,426.9 1162.8,421.2 1163.0,386.4 1163.2,415.9 1163.5,387.7 1163.8,402.1 1164.0,404.0 1164.2,401.4 1164.5,419.3 1164.8,396.9 1165.0,442.1 1165.2,421.3 1165.5,431.9 1165.8,424.2 1166.0,426.7 1166.2,410.2 1166.5,446.7 1166.8,393.4 1167.0,419.0 1167.2,411.1 1167.5,407.2 1167.8,416.6 1168.0,398.2 1168.2,426.4 1168.5,425.0 1168.8,412.8 1169.0,424.1 1169.2,393.7 1169.5,388.4 1169.8,401.3 1170.0,407.2 1170.2,457.4 1170.5,407.4 1170.8,429.7 1171.0,426.3 1171.2,450.0 1171.5,413.4 1171.8,422.9 1172.0,408.1 1172.2,396.6 1172.5,394.2 1172.8,398.0 1173.0,437.2 1173.2,416.5 1173.5,408.9 1173.8,411.9 1174.0,401.9 1174.2,411.1 1174.5,411.0 1174.8,423.2 1175.0,427.9 1175.2,390.0 1175.5,415.8 1175.8,436.5 1176.0,394.3 1176.2,407.5 1176.5,414.8 1176.8,431.5 1177.0,422.4 1177.2,408.1 1177.5,420.7 1177.8,430.5 1178.0,418.8 1178.2,446.0 1178.5,419.4 1178.8,394.3 1179.0,398.5 1179.2,409.8 1179.5,408.6 1179.8,423.1 1180.0,418.4 1180.2,443.4 1180.5,426.6 1180.8,439.1 1181.0,399.1 1181.2,404.9 1181.5,424.5 1181.8,414.0 1182.0,423.5 1182.2,416.8 1182.5,401.7 1182.8,443.5 1183.0,433.0 1183.2,391.2 1183.5,401.9 1183.8,413.0 1184.0,424.6 1184.2,411.4 1184.5,392.7 1184.8,427.5 1185.0,409.1 1185.2,434.4 1185.5,418.1 1185.8,430.7 1186.0,427.7 1186.2,428.6 1186.5,404.1 1186.8,431.3 1187.0,416.5 1187.2,393.7 1187.5,406.1 1187.8,407.2 1188.0,421.3 1188.2,425.2 1188.5,394.7 1188.8,426.0 1189.0,412.0 1189.2,395.2 1189.5,428.1 1189.8,400.0 1190.0,394.3 1190.2,426.7 1190.5,429.4 1190.8,401.9 1191.0,432.3 1191.2,431.4 1191.5,404.4 1191.8,450.3 1192.0,412.5 1192.2,417.5 1192.5,386.2 1192.8,424.8 1193.0,402.8 1193.2,421.4 1193.5,391.0 1193.8,434.5 1194.0,440.2 1194.2,448.5 1194.5,382.5 1194.8,424.2 1195.0,419.9 1195.2,382.0 1195.5,401.1 1195.8,412.4 1196.0,439.8 1196.2,399.5 1196.5,417.6 1196.8,413.0 1197.0,420.5 1197.2,407.2 1197.5,430.1 1197.8,431.6 1198.0,393.9 1198.2,434.5 1198.5,401.2 1198.8,409.5 1199.0,434.6 1199.2,416.1 1199.5,424.6 1199.8,428.5 1200.0,425.1 1200.2,405.1 1200.5,397.9 1200.8,426.7 1201.0,428.1 1201.2,420.9 1201.5,411.3 1201.8,430.0 1202.0,414.2 1202.2,394.2 1202.5,419.7 1202.8,423.7 1203.0,428.7 1203.2,399.3 1203.5,401.8 1203.8,420.8 1204.0,407.1 1204.2,413.8 1204.5,431.9 1204.8,422.0 1205.0,448.8 1205.2,420.3 1205.5,446.7 1205.8,434.5 1206.0,463.3 1206.2,415.6 1206.5,413.9 1206.8,439.2 1207.0,406.5 1207.2,407.4 1207.5,419.9 1207.8,422.3 1208.0,394.6 1208.2,420.2 1208.5,410.3 1208.8,415.3 1209.0,418.9 1209.2,412.5 1209.5,435.3 1209.8,424.6 1210.0,412.7 1210.2,417.4 1210.5,434.9 1210.8,430.2 1211.0,439.3 1211.2,413.8 1211.5,418.7 1211.8,453.8 1212.0,415.7 1212.2,447.4 1212.5,431.6 1212.8,408.9 1213.0,395.1 1213.2,427.9 1213.5,404.2 1213.8,404.2 1214.0,392.9 1214.2,438.2 1214.5,418.5 1214.8,417.1 1215.0,423.7 1215.2,421.1 1215.5,418.5 1215.8,426.0 1216.0,412.0 1216.2,387.1 1216.5,430.1 1216.8,424.5 1217.0,417.3 1217.2,446.2 1217.5,395.5 1217.8,385.0 1218.0,444.4 1218.2,424.4 1218.5,393.9 1218.8,409.9 1219.0,428.2 1219.2,396.9 1219.5,427.1 1219.8,456.8 1220.0,442.7 1220.2,416.6 1220.5,422.9 1220.8,400.6 1221.0,419.6 1221.2,411.4 1221.5,399.8 1221.8,396.2 1222.0,453.3 1222.2,418.9 1222.5,399.4 1222.8,410.0 1223.0,444.8 1223.2,447.4 1223.5,406.6 1223.8,420.9 1224.0,433.6 1224.2,411.4 1224.5,397.5 1224.8,400.4 1225.0,417.7 1225.2,404.0 1225.5,396.8 1225.8,413.4 1226.0,434.5 1226.2,429.9 1226.5,413.6 1226.8,453.3 1227.0,403.9 1227.2,416.3 1227.5,396.4 1227.8,431.8 1228.0,415.5 1228.2,394.2 1228.5,403.2 1228.8,451.2 1229.0,430.8 1229.2,419.8 1229.5,433.5 1229.8,394.9 1230.0,403.3 1230.2,396.8 1230.5,403.3 1230.8,411.1 1231.0,427.4 1231.2,436.2 1231.5,435.7 1231.8,469.2 1232.0,409.2 1232.2,417.6 1232.5,427.1 1232.8,403.4 1233.0,412.9 1233.2,425.3 1233.5,402.5 1233.8,426.5 1234.0,440.5 1234.2,398.5 1234.5,390.3 1234.8,419.6 1235.0,399.7 1235.2,421.2 1235.5,410.2 1235.8,423.5 1236.0,438.9 1236.2,433.0 1236.5,411.8 1236.8,398.3 1237.0,389.0 1237.2,391.2 1237.5,404.1 1237.8,419.9 1238.0,406.2 1238.2,407.6 1238.5,395.3 1238.8,394.9 1239.0,394.4 1239.2,429.2 1239.5,392.6 1239.8,430.1 1240.0,401.9 1240.2,427.4 1240.5,422.0 1240.8,431.4 1241.0,439.5 1241.2,403.8 1241.5,400.4 1241.8,409.8 1242.0,403.8 1242.2,429.4 1242.5,415.4 1242.8,417.5 1243.0,424.8 1243.2,409.0 1243.5,437.4 1243.8,393.5 1244.0,421.5 1244.2,426.3 1244.5,403.7 1244.8,405.0 1245.0,433.8 1245.2,411.7 1245.5,392.9 1245.8,397.0 1246.0,435.7 1246.2,401.7 1246.5,441.5 1246.8,442.6 1247.0,413.8 1247.2,427.1 1247.5,402.7 1247.8,410.2 1248.0,405.0 1248.2,428.0 1248.5,397.6 1248.8,415.1 1249.0,418.3 1249.2,426.7 1249.5,391.7 1249.8,394.0 1250.0,401.8 1250.2,413.5 1250.5,419.9 1250.8,420.9 1251.0,455.4 1251.2,429.3 1251.5,428.1 1251.8,408.8 1252.0,431.7 1252.2,430.0 1252.5,429.6 1252.8,415.5 1253.0,428.8 1253.2,445.8 1253.5,403.4 1253.8,391.6 1254.0,432.5 1254.2,430.9 1254.5,413.5 1254.8,409.7 1255.0,470.6 1255.2,409.4 1255.5,398.4 1255.8,409.2 1256.0,426.7 1256.2,406.8 1256.5,410.8 1256.8,423.2 1257.0,410.1 1257.2,420.0 1257.5,417.0 1257.8,399.6 1258.0,419.0 1258.2,399.0 1258.5,434.8 1258.8,401.2 1259.0,413.6 1259.2,394.3 1259.5,409.9 1259.8,398.4 1260.0,445.6 1260.2,415.7 1260.5,427.3 1260.8,394.9 1261.0,398.6 1261.2,414.9 1261.5,397.8 1261.8,438.9 1262.0,410.8 1262.2,420.6 1262.5,423.4 1262.8,415.3 1263.0,432.1 1263.2,406.1 1263.5,424.6 1263.8,440.0 1264.0,421.9 1264.2,420.3 1264.5,412.2 1264.8,419.1 1265.0,430.3 1265.2,413.8 1265.5,395.7 1265.8,421.1 1266.0,415.5 1266.2,426.6 1266.5,418.9 1266.8,447.4 1267.0,399.2 1267.2,401.1 1267.5,430.0 1267.8,400.5 1268.0,424.1 1268.2,418.0 1268.5,393.9 1268.8,430.4 1269.0,443.5 1269.2,422.0 1269.5,398.0 1269.8,432.6 1270.0,400.5 1270.2,416.3 1270.5,425.8 1270.8,404.7 1271.0,396.0 1271.2,416.0 1271.5,417.7 1271.8,403.4 1272.0,404.7 1272.2,431.9 1272.5,416.9 1272.8,410.2 1273.0,408.0 1273.2,421.6 1273.5,420.2 1273.8,415.5 1274.0,398.3 1274.2,412.1 1274.5,407.6 1274.8,419.8 1275.0,439.7 1275.2,435.8 1275.5,430.2 1275.8,420.7 1276.0,413.0 1276.2,424.7 1276.5,410.4 1276.8,412.8 1277.0,404.0 1277.2,417.8 1277.5,417.4 1277.8,452.9 1278.0,428.7 1278.2,412.2 1278.5,432.7 1278.8,410.6 1279.0,437.1 1279.2,432.8 1279.5,473.9 1279.8,400.9 1280.0,417.7 1280.2,417.0 1280.5,424.2 1280.8,431.7 1281.0,401.9 1281.2,406.3 1281.5,424.4 1281.8,436.5 1282.0,400.8 1282.2,397.8 1282.5,439.8 1282.8,434.2 1283.0,438.7 1283.2,402.2 1283.5,415.7 1283.8,423.2 1284.0,427.0 1284.2,417.2 1284.5,418.4 1284.8,437.4 1285.0,411.7 1285.2,409.8 1285.5,411.8 1285.8,410.5 1286.0,421.7 1286.2,415.8 1286.5,411.8 1286.8,445.2 1287.0,424.7 1287.2,413.6 1287.5,442.2 1287.8,409.9 1288.0,419.5 1288.2,417.9 1288.5,409.6 1288.8,412.9 1289.0,421.1 1289.2,399.2 1289.5,412.9 1289.8,424.0 1290.0,424.5 1290.2,424.9 1290.5,463.0 1290.8,431.5 1291.0,417.2 1291.2,417.6 1291.5,419.7 1291.8,427.4 1292.0,414.7 1292.2,447.0 1292.5,401.7 1292.8,430.9 1293.0,428.7 1293.2,401.5 1293.5,430.9 1293.8,429.7 1294.0,408.9 1294.2,462.5 1294.5,432.5 1294.8,414.3 1295.0,411.7 1295.2,407.2 1295.5,424.5 1295.8,421.1 1296.0,399.8 1296.2,402.4 1296.5,407.8 1296.8,413.2 1297.0,413.9 1297.2,408.6 1297.5,431.4 1297.8,436.9 1298.0,421.5 1298.2,394.6 1298.5,417.5 1298.8,430.0 1299.0,418.9 1299.2,425.0 1299.5,422.1 1299.8,399.5 1300.0,392.4 1300.2,431.2 1300.5,411.4 1300.8,427.6 1301.0,415.1 1301.2,417.5 1301.5,444.9 1301.8,401.7 1302.0,420.3 1302.2,402.5 1302.5,421.7 1302.8,428.8 1303.0,431.9 1303.2,423.1 1303.5,400.6 1303.8,424.8 1304.0,436.3 1304.2,438.2 1304.5,459.7 1304.8,430.5 1305.0,403.2 1305.2,411.7 1305.5,422.2 1305.8,439.3 1306.0,402.4 1306.2,436.9 1306.5,432.2 1306.8,405.8 1307.0,431.5 1307.2,407.7 1307.5,420.8 1307.8,415.7 1308.0,425.0 1308.2,402.3 1308.5,430.1 1308.8,395.5 1309.0,414.0 1309.2,411.2 1309.5,449.4 1309.8,430.4 1310.0,412.7 1310.2,405.7 1310.5,421.7 1310.8,410.3 1311.0,462.1 1311.2,391.5 1311.5,422.3 1311.8,393.7 1312.0,439.6 1312.2,407.4 1312.5,450.1 1312.8,411.9 1313.0,440.5 1313.2,424.8 1313.5,442.4 1313.8,421.8 1314.0,390.3 1314.2,408.9 1314.5,400.1 1314.8,438.2 1315.0,430.9 1315.2,421.6 1315.5,429.4 1315.8,424.9 1316.0,411.7 1316.2,457.2 1316.5,425.7 1316.8,418.3 1317.0,401.0 1317.2,410.9 1317.5,421.9 1317.8,418.6 1318.0,413.5 1318.2,420.8 1318.5,403.4 1318.8,421.9 1319.0,400.6 1319.2,406.9 1319.5,409.0 1319.8,437.2 1320.0,430.4 1320.2,423.2 1320.5,403.4 1320.8,415.0 1321.0,436.1 1321.2,444.4 1321.5,401.3 1321.8,414.6 1322.0,423.9 1322.2,428.2 1322.5,422.2 1322.8,433.9 1323.0,401.6 1323.2,450.3 1323.5,403.7 1323.8,423.2 1324.0,431.4 1324.2,443.1 1324.5,438.4 1324.8,437.8 1325.0,445.3 1325.2,419.8 1325.5,435.7 1325.8,450.3 1326.0,409.3 1326.2,402.2 1326.5,405.1 1326.8,448.1 1327.0,444.9 1327.2,416.4 1327.5,426.9 1327.8,431.0 1328.0,441.5 1328.2,399.0 1328.5,413.1 1328.8,418.3 1329.0,428.4 1329.2,424.2 1329.5,417.4 1329.8,428.0 1330.0,394.3 1330.2,481.2 1330.5,437.7 1330.8,438.8 1331.0,411.6 1331.2,430.4 1331.5,461.0 1331.8,456.5 1332.0,424.5 1332.2,403.8 1332.5,426.1 1332.8,418.0 1333.0,438.5 1333.2,403.6 1333.5,420.0 1333.8,428.1 1334.0,415.2 1334.2,442.4 1334.5,404.7 1334.8,404.0 1335.0,417.3 1335.2,438.3 1335.5,418.2 1335.8,413.2 1336.0,438.0 1336.2,427.5 1336.5,414.4 1336.8,425.8 1337.0,419.5 1337.2,434.5 1337.5,426.2 1337.8,409.7 1338.0,415.4 1338.2,416.5 1338.5,430.3 1338.8,430.4 1339.0,409.2 1339.2,420.5 1339.5,429.3 1339.8,443.7 1340.0,428.3 1340.2,460.0 1340.5,424.4 1340.8,437.1 1341.0,418.2 1341.2,406.5 1341.5,425.9 1341.8,432.6 1342.0,429.8 1342.2,426.6 1342.5,418.2 1342.8,409.7 1343.0,418.8 1343.2,432.5 1343.5,441.4 1343.8,390.2 1344.0,435.1 1344.2,443.8 1344.5,447.2 1344.8,431.0 1345.0,436.3 1345.2,416.5 1345.5,422.8 1345.8,433.7 1346.0,405.8 1346.2,410.5 1346.5,427.9 1346.8,404.2 1347.0,425.4 1347.2,403.2 1347.5,427.9 1347.8,425.0 1348.0,414.6 1348.2,407.9 1348.5,415.6 1348.8,398.0 1349.0,417.6 1349.2,426.7 1349.5,446.6 1349.8,415.7 1350.0,421.6 1350.2,450.1 1350.5,456.8 1350.8,416.1 1351.0,443.8 1351.2,446.2 1351.5,434.0 1351.8,407.4 1352.0,408.2 1352.2,435.2 1352.5,468.7 1352.8,421.7 1353.0,453.8 1353.2,460.2 1353.5,405.3 1353.8,414.4 1354.0,452.8 1354.2,442.7 1354.5,434.9 1354.8,424.8 1355.0,436.4 1355.2,413.9 1355.5,472.5 1355.8,406.1 1356.0,401.6 1356.2,427.8 1356.5,451.7 1356.8,416.5 1357.0,424.3 1357.2,407.2 1357.5,423.9 1357.8,407.3 1358.0,407.5 1358.2,404.0 1358.5,415.6 1358.8,460.0 1359.0,424.3 1359.2,428.8 1359.5,467.5 1359.8,414.2 1360.0,407.8 1360.2,434.8 1360.5,405.9 1360.8,431.4 1361.0,446.6 1361.2,407.0 1361.5,416.3 1361.8,457.1 1362.0,407.2 1362.2,413.5 1362.5,429.9 1362.8,420.0 1363.0,410.5 1363.2,455.3 1363.5,415.4 1363.8,431.6 1364.0,418.4 1364.2,421.7 1364.5,405.1 1364.8,442.6 1365.0,418.1 1365.2,449.3 1365.5,406.7 1365.8,417.2 1366.0,434.5 1366.2,427.8 1366.5,414.2 1366.8,423.5 1367.0,405.8 1367.2,426.9 1367.5,396.2 1367.8,429.1 1368.0,451.0 1368.2,442.3 1368.5,441.5 1368.8,418.6 1369.0,434.9 1369.2,418.9 1369.5,424.5 1369.8,424.3 1370.0,391.3 1370.2,443.0 1370.5,434.4 1370.8,441.5 1371.0,409.3 1371.2,438.8 1371.5,434.9 1371.8,399.4 1372.0,402.8 1372.2,427.2 1372.5,414.4 1372.8,426.0 1373.0,414.9 1373.2,454.1 1373.5,401.9 1373.8,405.7 1374.0,409.0 1374.2,405.8 1374.5,416.1 1374.8,425.9 1375.0,406.0 1375.2,433.0 1375.5,450.8 1375.8,446.6 1376.0,464.4 1376.2,447.4 1376.5,426.0 1376.8,460.0 1377.0,439.5 1377.2,461.9 1377.5,423.2 1377.8,400.7 1378.0,407.4 1378.2,429.9 1378.5,436.7 1378.8,423.1 1379.0,445.2 1379.2,407.6 1379.5,414.3 1379.8,445.0 1380.0,427.8 1380.2,428.6 1380.5,453.1 1380.8,447.2 1381.0,412.8 1381.2,430.6 1381.5,403.8 1381.8,426.8 1382.0,434.2 1382.2,403.6 1382.5,456.3 1382.8,465.0 1383.0,436.2 1383.2,444.2 1383.5,455.2 1383.8,424.1 1384.0,446.5 1384.2,434.2 1384.5,405.2 1384.8,411.2 1385.0,417.2 1385.2,447.1 1385.5,429.2 1385.8,445.6 1386.0,419.0 1386.2,407.1 1386.5,466.6 1386.8,480.1 1387.0,434.4 1387.2,424.0 1387.5,449.5 1387.8,408.4 1388.0,423.8 1388.2,406.1 1388.5,436.4 1388.8,432.1 1389.0,420.4 1389.2,415.9 1389.5,405.5 1389.8,412.8 1390.0,450.5 1390.2,421.3 1390.5,451.1 1390.8,412.1 1391.0,426.2 1391.2,419.5 1391.5,423.0 1391.8,441.9 1392.0,401.8 1392.2,441.3 1392.5,440.5 1392.8,427.8 1393.0,429.2 1393.2,423.8 1393.5,440.5 1393.8,428.9 1394.0,412.6 1394.2,430.6 1394.5,445.5 1394.8,434.6 1395.0,428.4 1395.2,431.6 1395.5,419.0 1395.8,419.6 1396.0,403.1 1396.2,424.6 1396.5,446.1 1396.8,420.9 1397.0,411.7 1397.2,444.5 1397.5,430.9 1397.8,430.5 1398.0,436.6 1398.2,440.8 1398.5,427.2 1398.8,413.1 1399.0,460.8 1399.2,429.0 1399.5,414.2 1399.8,431.4 1400.0,450.2 1400.2,406.7 1400.5,452.4 1400.8,425.6 1401.0,465.9 1401.2,440.3 1401.5,426.2 1401.8,451.4 1402.0,451.8 1402.2,421.9 1402.5,432.3 1402.8,418.9 1403.0,445.0 1403.2,406.8 1403.5,425.0 1403.8,401.6 1404.0,438.9 1404.2,401.0 1404.5,409.4 1404.8,433.0 1405.0,421.9 1405.2,420.3 1405.5,410.9 1405.8,419.9 1406.0,404.4 1406.2,434.1 1406.5,443.0 1406.8,442.2 1407.0,427.6 1407.2,450.9 1407.5,436.7 1407.8,445.9 1408.0,435.4 1408.2,428.9 1408.5,414.7 1408.8,398.2 1409.0,440.1 1409.2,426.3 1409.5,465.9 1409.8,402.9 1410.0,443.8 1410.2,411.4 1410.5,428.3 1410.8,412.6 1411.0,434.7 1411.2,427.9 1411.5,444.5 1411.8,431.1 1412.0,437.1 1412.2,452.1 1412.5,437.9 1412.8,426.1 1413.0,451.5 1413.2,426.5 1413.5,435.9 1413.8,422.8 1414.0,416.7 1414.2,395.7 1414.5,441.2 1414.8,408.9 1415.0,442.0 1415.2,462.5 1415.5,407.8 1415.8,444.7 1416.0,426.9 1416.2,436.8 1416.5,408.7 1416.8,429.2 1417.0,431.4 1417.2,455.3 1417.5,469.4 1417.8,434.4 1418.0,422.1 1418.2,471.0 1418.5,426.8 1418.8,427.7 1419.0,430.6 1419.2,437.2 1419.5,441.7 1419.8,418.5 1420.0,426.8 1420.2,464.3 1420.5,458.9 1420.8,436.9 1421.0,433.8 1421.2,424.7 1421.5,447.8 1421.8,419.6 1422.0,431.1 1422.2,420.7 1422.5,417.7 1422.8,429.6 1423.0,429.0 1423.2,418.5 1423.5,427.8 1423.8,430.2 1424.0,420.5 1424.2,417.2 1424.5,426.5 1424.8,441.8 1425.0,449.5 1425.2,432.4 1425.5,424.2 1425.8,428.5 1426.0,465.2 1426.2,445.9 1426.5,412.0 1426.8,428.1 1427.0,419.5 1427.2,422.5 1427.5,405.5 1427.8,429.6 1428.0,407.8 1428.2,418.5 1428.5,457.6 1428.8,447.6 1429.0,413.5 1429.2,410.5 1429.5,412.7 1429.8,404.0 1430.0,411.5 1430.2,424.3 1430.5,410.3 1430.8,443.1 1431.0,428.3 1431.2,419.6 1431.5,462.3 1431.8,442.2 1432.0,430.5 1432.2,464.3 1432.5,453.8 1432.8,416.5 1433.0,435.1 1433.2,421.4 1433.5,407.3 1433.8,465.4 1434.0,457.5 1434.2,408.5 1434.5,438.3 1434.8,405.9 1435.0,449.3 1435.2,428.3 1435.5,424.0 1435.8,452.9 1436.0,429.5 1436.2,424.6 1436.5,446.3 1436.8,423.9 1437.0,445.6 1437.2,429.4 1437.5,444.7 1437.8,440.9 1438.0,444.0 1438.2,411.1 1438.5,465.4 1438.8,426.5 1439.0,463.0 1439.2,418.6 1439.5,424.4 1439.8,424.6 1440.0,451.2 1440.2,421.7 1440.5,437.1 1440.8,406.4 1441.0,420.7 1441.2,433.6 1441.5,427.5 1441.8,404.2 1442.0,438.7 1442.2,411.9 1442.5,466.9 1442.8,426.0 1443.0,473.5 1443.2,441.9 1443.5,438.0 1443.8,420.7 1444.0,427.4 1444.2,437.9 1444.5,403.6 1444.8,448.3 1445.0,409.3 1445.2,424.8 1445.5,397.9 1445.8,438.0 1446.0,443.5 1446.2,434.8 1446.5,435.5 1446.8,422.7 1447.0,432.4 1447.2,452.5 1447.5,421.8 1447.8,438.9 1448.0,443.2 1448.2,425.3 1448.5,434.0 1448.8,433.6 1449.0,420.5 1449.2,477.5 1449.5,421.6 1449.8,462.7 1450.0,449.9 1450.2,403.0 1450.5,434.3 1450.8,449.2 1451.0,445.0 1451.2,413.0 1451.5,434.5 1451.8,409.2 1452.0,410.5 1452.2,425.2 1452.5,433.2 1452.8,460.7 1453.0,436.3 1453.2,449.9 1453.5,409.2 1453.8,409.5 1454.0,420.7 1454.2,463.8 1454.5,408.1 1454.8,406.3 1455.0,428.3 1455.2,452.5 1455.5,406.0 1455.8,425.0 1456.0,408.0 1456.2,457.7 1456.5,442.8 1456.8,434.8 1457.0,428.8 1457.2,425.3 1457.5,432.3 1457.8,417.7 1458.0,413.3 1458.2,409.8 1458.5,429.9 1458.8,414.9 1459.0,446.4 1459.2,402.5 1459.5,440.4 1459.8,439.8 1460.0,453.1 1460.2,425.0 1460.5,406.9 1460.8,412.5 1461.0,451.5 1461.2,424.0 1461.5,422.0 1461.8,418.8 1462.0,428.5 1462.2,425.5 1462.5,406.5 1462.8,418.6 1463.0,449.0 1463.2,457.9 1463.5,427.5 1463.8,420.1 1464.0,456.0 1464.2,426.4 1464.5,409.3 1464.8,427.4 1465.0,443.0 1465.2,460.1 1465.5,420.7 1465.8,440.0 1466.0,423.6 1466.2,451.8 1466.5,434.6 1466.8,434.7 1467.0,411.4 1467.2,423.8 1467.5,423.7 1467.8,391.3 1468.0,446.2 1468.2,429.6 1468.5,425.9 1468.8,423.0 1469.0,430.3 1469.2,434.3 1469.5,408.4 1469.8,432.1 1470.0,431.9 1470.2,430.3 1470.5,407.1 1470.8,427.2 1471.0,408.6 1471.2,436.4 1471.5,455.4 1471.8,446.5 1472.0,423.5 1472.2,419.7 1472.5,419.2 1472.8,436.4 1473.0,417.4 1473.2,419.8 1473.5,399.5 1473.8,413.9 1474.0,415.2 1474.2,419.8 1474.5,453.4 1474.8,408.1 1475.0,408.3 1475.2,441.3 1475.5,411.5 1475.8,426.8 1476.0,433.1 1476.2,430.1 1476.5,415.3 1476.8,447.5 1477.0,459.1 1477.2,411.1 1477.5,424.8 1477.8,447.9 1478.0,426.0 1478.2,411.1 1478.5,421.8 1478.8,445.8 1479.0,411.2 1479.2,434.7 1479.5,437.1 1479.8,417.7 1480.0,440.6 1480.2,442.6 1480.5,449.1 1480.8,447.8 1481.0,407.1 1481.2,447.1 1481.5,441.0 1481.8,448.7 1482.0,414.0 1482.2,447.3 1482.5,437.0 1482.8,409.6 1483.0,454.7 1483.2,415.3 1483.5,410.9 1483.8,437.5 1484.0,418.6 1484.2,436.8 1484.5,425.4 1484.8,435.3 1485.0,445.6 1485.2,429.4 1485.5,446.7 1485.8,446.3 1486.0,414.3 1486.2,446.4 1486.5,441.8 1486.8,432.5 1487.0,451.7 1487.2,462.6 1487.5,444.6 1487.8,407.3 1488.0,438.5 1488.2,427.6 1488.5,425.0 1488.8,436.6 1489.0,424.0 1489.2,462.2 1489.5,435.3 1489.8,430.5 1490.0,445.2 1490.2,445.5 1490.5,453.1 1490.8,442.3 1491.0,429.5 1491.2,432.7 1491.5,402.2 1491.8,407.4 1492.0,450.3 1492.2,424.1 1492.5,466.0 1492.8,465.8 1493.0,409.0 1493.2,436.1 1493.5,489.0 1493.8,415.5 1494.0,437.7 1494.2,425.9 1494.5,425.7 1494.8,425.0 1495.0,429.9 1495.2,444.9 1495.5,415.2 1495.8,439.9 1496.0,417.0 1496.2,440.3 1496.5,436.3 1496.8,415.7 1497.0,432.9 1497.2,416.5 1497.5,414.4 1497.8,453.0 1498.0,404.8 1498.2,441.0 1498.5,443.9 1498.8,419.2 1499.0,451.5 1499.2,447.9 1499.5,408.7 1499.8,440.4 1500.0,439.3 1500.2,416.5 1500.5,441.4 1500.8,444.8 1501.0,416.8 1501.2,403.5 1501.5,438.0 1501.8,416.4 1502.0,405.6 1502.2,423.1 1502.5,400.6 1502.8,424.0 1503.0,459.9 1503.2,397.0 1503.5,439.1 1503.8,413.0 1504.0,422.6 1504.2,413.2 1504.5,442.6 1504.8,430.2 1505.0,415.6 1505.2,408.6 1505.5,422.3 1505.8,452.9 1506.0,409.4 1506.2,438.4 1506.5,436.9 1506.8,403.4 1507.0,452.0 1507.2,429.6 1507.5,475.4 1507.8,465.0 1508.0,425.7 1508.2,427.5 1508.5,411.4 1508.8,408.1 1509.0,445.9 1509.2,425.7 1509.5,422.8 1509.8,427.2 1510.0,443.6 1510.2,448.8 1510.5,430.5 1510.8,426.8 1511.0,432.4 1511.2,472.2 1511.5,402.8 1511.8,409.8 1512.0,439.6 1512.2,433.3 1512.5,454.8 1512.8,456.4 1513.0,470.4 1513.2,415.3 1513.5,442.4 1513.8,426.0 1514.0,449.6 1514.2,434.1 1514.5,447.9 1514.8,416.4 1515.0,433.7 1515.2,420.8 1515.5,425.6 1515.8,421.9 1516.0,410.9 1516.2,452.6 1516.5,436.3 1516.8,452.2 1517.0,411.6 1517.2,403.7 1517.5,418.3 1517.8,427.7 1518.0,446.1 1518.2,451.5 1518.5,454.9 1518.8,461.4 1519.0,444.9 1519.2,432.8 1519.5,416.0 1519.8,444.1 1520.0,421.1 1520.2,415.3 1520.5,442.1 1520.8,434.9 1521.0,447.5 1521.2,417.0 1521.5,453.9 1521.8,437.7 1522.0,427.5 1522.2,416.2 1522.5,410.4 1522.8,408.2 1523.0,458.7 1523.2,407.8 1523.5,443.1 1523.8,426.0 1524.0,419.7 1524.2,421.6 1524.5,428.9 1524.8,448.6 1525.0,441.7 1525.2,430.7 1525.5,408.2 1525.8,405.0 1526.0,468.6 1526.2,411.4 1526.5,406.6 1526.8,453.1 1527.0,407.2 1527.2,445.3 1527.5,449.2 1527.8,435.6 1528.0,449.8 1528.2,408.0 1528.5,409.3 1528.8,427.0 1529.0,430.7 1529.2,429.1 1529.5,439.8 1529.8,416.6 1530.0,402.3 1530.2,438.6 1530.5,426.4 1530.8,446.8 1531.0,473.3 1531.2,432.3 1531.5,442.1 1531.8,413.5 1532.0,448.7 1532.2,437.4 1532.5,435.6 1532.8,448.9 1533.0,410.0 1533.2,441.8 1533.5,439.7 1533.8,462.8 1534.0,404.8 1534.2,429.0 1534.5,475.8 1534.8,422.9 1535.0,422.3 1535.2,467.0 1535.5,482.7 1535.8,433.0 1536.0,417.0 1536.2,419.3 1536.5,423.1 1536.8,414.5 1537.0,415.2 1537.2,434.1 1537.5,431.5 1537.8,440.1 1538.0,431.3 1538.2,409.4 1538.5,445.3 1538.8,435.5 1539.0,419.5 1539.2,425.5 1539.5,437.0 1539.8,432.3 1540.0,428.3 1540.2,445.9 1540.5,452.0 1540.8,424.7 1541.0,430.4 1541.2,410.2 1541.5,427.5 1541.8,440.1 1542.0,447.9 1542.2,434.0 1542.5,429.1 1542.8,416.9 1543.0,435.0 1543.2,410.3 1543.5,433.2 1543.8,431.2 1544.0,413.3 1544.2,437.2 1544.5,426.7 1544.8,442.6 1545.0,421.4 1545.2,440.2 1545.5,462.4 1545.8,434.3 1546.0,446.4 1546.2,418.4 1546.5,424.0 1546.8,404.2 1547.0,427.9 1547.2,410.0 1547.5,433.0 1547.8,402.8 1548.0,414.1 1548.2,432.4 1548.5,438.4 1548.8,405.9 1549.0,422.8 1549.2,484.1 1549.5,446.4 1549.8,433.9 1550.0,397.5 1550.2,413.0 1550.5,441.0 1550.8,435.4 1551.0,439.7 1551.2,449.8 1551.5,432.7 1551.8,447.7 1552.0,404.9 1552.2,482.7 1552.5,425.0 1552.8,418.3 1553.0,461.1 1553.2,442.7 1553.5,450.1 1553.8,418.8 1554.0,436.3 1554.2,444.8 1554.5,409.9 1554.8,426.5 1555.0,426.0 1555.2,425.1 1555.5,417.2 1555.8,409.0 1556.0,439.2 1556.2,435.5 1556.5,453.9 1556.8,429.4 1557.0,417.8 1557.2,407.5 1557.5,432.4 1557.8,424.7 1558.0,472.0 1558.2,478.1 1558.5,462.7 1558.8,413.2 1559.0,407.9 1559.2,426.2 1559.5,413.4 1559.8,459.4 1560.0,433.0 1560.2,422.9 1560.5,430.5 1560.8,456.0 1561.0,412.5 1561.2,440.3 1561.5,408.5 1561.8,426.7 1562.0,417.9 1562.2,436.9 1562.5,433.8 1562.8,454.8 1563.0,444.3 1563.2,419.0 1563.5,408.5 1563.8,414.9 1564.0,422.4 1564.2,426.3 1564.5,416.0 1564.8,452.4 1565.0,449.3 1565.2,425.5 1565.5,421.1 1565.8,426.1 1566.0,429.9 1566.2,430.3 1566.5,406.2 1566.8,422.4 1567.0,404.2 1567.2,431.4 1567.5,444.1 1567.8,410.5 1568.0,433.9 1568.2,418.8 1568.5,417.2 1568.8,471.1 1569.0,448.5 1569.2,440.3 1569.5,422.3 1569.8,438.8 1570.0,427.0 1570.2,439.7 1570.5,413.3 1570.8,429.3 1571.0,423.1 1571.2,407.8 1571.5,465.2 1571.8,447.0 1572.0,415.4 1572.2,407.3 1572.5,416.6 1572.8,414.4 1573.0,418.9 1573.2,407.0 1573.5,414.6 1573.8,432.0 1574.0,438.9 1574.2,403.3 1574.5,430.7 1574.8,411.5 1575.0,410.6 1575.2,424.5 1575.5,417.3 1575.8,444.6 1576.0,444.7 1576.2,424.8 1576.5,418.2 1576.8,467.5 1577.0,469.2 1577.2,438.4 1577.5,427.7 1577.8,451.0 1578.0,460.3 1578.2,420.5 1578.5,467.9 1578.8,427.6 1579.0,452.8 1579.2,420.7 1579.5,432.1 1579.8,421.8 1580.0,431.3 1580.2,451.3 1580.5,413.2 1580.8,424.9 1581.0,441.6 1581.2,421.6 1581.5,473.1 1581.8,407.3 1582.0,484.3 1582.2,417.8 1582.5,450.4 1582.8,464.0 1583.0,441.4 1583.2,407.7 1583.5,424.2 1583.8,432.1 1584.0,442.1 1584.2,450.7 1584.5,453.7 1584.8,461.1 1585.0,412.0 1585.2,450.9 1585.5,405.0 1585.8,433.7 1586.0,410.3 1586.2,404.7 1586.5,449.4 1586.8,430.2 1587.0,450.9 1587.2,406.3 1587.5,409.1 1587.8,428.8 1588.0,417.6 1588.2,432.2 1588.5,418.4 1588.8,424.1 1589.0,409.7 1589.2,457.1 1589.5,424.5 1589.8,409.4 1590.0,444.5 1590.2,440.5 1590.5,435.1 1590.8,435.2 1591.0,423.0 1591.2,428.2 1591.5,401.2 1591.8,406.4 1592.0,409.0 1592.2,436.5 1592.5,455.9 1592.8,427.5 1593.0,425.5 1593.2,453.9 1593.5,423.6 1593.8,444.1 1594.0,439.5 1594.2,408.2 1594.5,437.1 1594.8,434.9 1595.0,409.7 1595.2,410.6 1595.5,408.7 1595.8,459.2 1596.0,475.4 1596.2,445.2 1596.5,463.5 1596.8,408.1 1597.0,460.0 1597.2,472.4 1597.5,464.5 1597.8,412.1 1598.0,453.1 1598.2,428.6 1598.5,452.9 1598.8,418.1 1599.0,431.1 1599.2,419.5 1599.5,440.5 1599.8,428.8 1600.0,453.8 1600.2,447.7 1600.5,439.2 1600.8,430.1 1601.0,424.8 1601.2,431.0 1601.5,446.2 1601.8,433.5 1602.0,436.7 1602.2,430.1 1602.5,429.4 1602.8,417.6 1603.0,403.8 1603.2,442.5 1603.5,442.3 1603.8,411.5 1604.0,471.3 1604.2,409.5 1604.5,451.4 1604.8,436.0 1605.0,437.3 1605.2,454.4 1605.5,449.8 1605.8,431.4 1606.0,410.4 1606.2,409.1 1606.5,434.7 1606.8,464.0 1607.0,449.0 1607.2,430.3 1607.5,437.6 1607.8,444.9 1608.0,467.1 1608.2,415.7 1608.5,445.8 1608.8,436.6 1609.0,415.7 1609.2,410.7 1609.5,457.3 1609.8,437.6 1610.0,426.7 1610.2,433.0 1610.5,451.2 1610.8,432.9 1611.0,464.7 1611.2,425.8 1611.5,415.2 1611.8,428.7 1612.0,412.1 1612.2,424.0 1612.5,456.4 1612.8,467.0 1613.0,443.9 1613.2,435.0 1613.5,412.7 1613.8,410.9 1614.0,438.5 1614.2,434.4 1614.5,419.3 1614.8,422.0 1615.0,463.8 1615.2,451.5 1615.5,432.1 1615.8,435.6 1616.0,457.6 1616.2,438.3 1616.5,435.8 1616.8,406.2 1617.0,405.3 1617.2,403.5 1617.5,400.7 1617.8,430.7 1618.0,437.7 1618.2,413.5 1618.5,440.0 1618.8,440.0 1619.0,429.4 1619.2,407.0 1619.5,461.3 1619.8,459.8 1620.0,419.4 1620.2,472.3 1620.5,431.9 1620.8,415.2 1621.0,422.8 1621.2,403.9 1621.5,424.0 1621.8,406.0 1622.0,454.6 1622.2,437.5 1622.5,407.7 1622.8,442.8 1623.0,405.0 1623.2,434.2 1623.5,440.8 1623.8,432.4 1624.0,409.8 1624.2,428.8 1624.5,427.3 1624.8,432.2 1625.0,462.3 1625.2,466.9 1625.5,464.4 1625.8,418.2 1626.0,415.9 1626.2,431.5 1626.5,439.9 1626.8,402.2 1627.0,418.6 1627.2,469.1 1627.5,408.8 1627.8,416.1 1628.0,416.7 1628.2,441.0 1628.5,429.7 1628.8,424.5 1629.0,406.6 1629.2,443.5 1629.5,431.0 1629.8,417.5 1630.0,431.5 1630.2,447.3 1630.5,406.9 1630.8,406.3 1631.0,410.6 1631.2,413.3 1631.5,394.2 1631.8,418.8 1632.0,454.2 1632.2,424.3 1632.5,452.2 1632.8,395.6 1633.0,428.7 1633.2,460.2 1633.5,464.3 1633.8,420.9 1634.0,414.3 1634.2,438.8 1634.5,409.0 1634.8,423.6 1635.0,405.3 1635.2,432.6 1635.5,431.1 1635.8,465.6 1636.0,438.3 1636.2,417.6 1636.5,429.1 1636.8,408.4 1637.0,431.7 1637.2,426.6 1637.5,439.6 1637.8,450.4 1638.0,402.6 1638.2,437.7 1638.5,446.3 1638.8,409.1 1639.0,471.7 1639.2,416.3 1639.5,484.7 1639.8,447.3 1640.0,451.2 1640.2,436.5 1640.5,452.1 1640.8,410.4 1641.0,414.6 1641.2,402.9 1641.5,442.2 1641.8,416.5 1642.0,446.6 1642.2,443.3 1642.5,407.9 1642.8,445.5 1643.0,436.3 1643.2,435.1 1643.5,440.5 1643.8,430.4 1644.0,431.2 1644.2,453.1 1644.5,410.7 1644.8,409.0 1645.0,415.5 1645.2,452.7 1645.5,424.4 1645.8,472.2 1646.0,393.7 1646.2,416.5 1646.5,421.9 1646.8,436.5 1647.0,459.3 1647.2,427.2 1647.5,410.5 1647.8,448.5 1648.0,464.0 1648.2,398.0 1648.5,443.0 1648.8,437.1 1649.0,414.0 1649.2,421.3 1649.5,436.9 1649.8,431.6 1650.0,425.9 1650.2,409.3 1650.5,436.8 1650.8,417.4 1651.0,432.8 1651.2,419.0 1651.5,435.1 1651.8,446.5 1652.0,435.8 1652.2,444.6 1652.5,407.5 1652.8,440.6 1653.0,436.9 1653.2,418.2 1653.5,427.6 1653.8,396.0 1654.0,432.6 1654.2,422.6 1654.5,400.3 1654.8,441.4 1655.0,417.9 1655.2,436.6 1655.5,426.1 1655.8,440.9 1656.0,432.7 1656.2,425.1 1656.5,441.1 1656.8,448.3 1657.0,400.3 1657.2,431.5 1657.5,418.8 1657.8,409.7 1658.0,458.6 1658.2,451.0 1658.5,410.3 1658.8,409.6 1659.0,448.0 1659.2,418.1 1659.5,424.2 1659.8,402.6 1660.0,428.1 1660.2,454.8 1660.5,421.5 1660.8,428.5 1661.0,468.3 1661.2,449.2 1661.5,461.2 1661.8,444.0 1662.0,456.2 1662.2,405.1 1662.5,414.1 1662.8,405.2 1663.0,479.2 1663.2,434.6 1663.5,428.3 1663.8,415.5 1664.0,410.4 1664.2,395.8 1664.5,479.7 1664.8,429.2 1665.0,432.1" fill="none" stroke="#ff6f8a" stroke-width="2.2" stroke-linejoin="round" stroke-linejoin="miter" stroke-miterlimit="2"/>
</g>
<line x1="1007.3" y1="287.3" x2="1007.3" y2="578" stroke="#858585" stroke-width="3.8" stroke-dasharray="5.6 10.3" stroke-linecap="round"/>
<rect x="970.6" y="19" width="694.4" height="560.2" fill="none" stroke="#000" stroke-width="4" />
<line x1="1001.5" y1="579.2" x2="1001.5" y2="589" stroke="#000" stroke-width="3.5" stroke-linecap="round"/>
<text x="1001.5" y="624.8" font-size="29.5" fill="#000" text-anchor="middle" >0</text>
<line x1="1052.6" y1="579.2" x2="1052.6" y2="584" stroke="#000" stroke-width="3.5" stroke-linecap="round"/>
<line x1="1103.7" y1="579.2" x2="1103.7" y2="589" stroke="#000" stroke-width="3.5" stroke-linecap="round"/>
<text x="1103.7" y="624.8" font-size="29.5" fill="#000" text-anchor="middle" >2</text>
<line x1="1154.8" y1="579.2" x2="1154.8" y2="584" stroke="#000" stroke-width="3.5" stroke-linecap="round"/>
<line x1="1205.9" y1="579.2" x2="1205.9" y2="589" stroke="#000" stroke-width="3.5" stroke-linecap="round"/>
<text x="1205.9" y="624.8" font-size="29.5" fill="#000" text-anchor="middle" >4</text>
<line x1="1257" y1="579.2" x2="1257" y2="584" stroke="#000" stroke-width="3.5" stroke-linecap="round"/>
<line x1="1308.1" y1="579.2" x2="1308.1" y2="589" stroke="#000" stroke-width="3.5" stroke-linecap="round"/>
<text x="1308.1" y="624.8" font-size="29.5" fill="#000" text-anchor="middle" >6</text>
<line x1="1359.2" y1="579.2" x2="1359.2" y2="584" stroke="#000" stroke-width="3.5" stroke-linecap="round"/>
<line x1="1410.3" y1="579.2" x2="1410.3" y2="589" stroke="#000" stroke-width="3.5" stroke-linecap="round"/>
<text x="1410.3" y="624.8" font-size="29.5" fill="#000" text-anchor="middle" >8</text>
<line x1="1461.4" y1="579.2" x2="1461.4" y2="584" stroke="#000" stroke-width="3.5" stroke-linecap="round"/>
<line x1="1512.5" y1="579.2" x2="1512.5" y2="589" stroke="#000" stroke-width="3.5" stroke-linecap="round"/>
<text x="1512.5" y="624.8" font-size="29.5" fill="#000" text-anchor="middle" >10</text>
<line x1="1563.6" y1="579.2" x2="1563.6" y2="584" stroke="#000" stroke-width="3.5" stroke-linecap="round"/>
<line x1="1614.7" y1="579.2" x2="1614.7" y2="589" stroke="#000" stroke-width="3.5" stroke-linecap="round"/>
<text x="1614.7" y="624.8" font-size="29.5" fill="#000" text-anchor="middle" >12</text>
<line x1="1665.8" y1="579.2" x2="1665.8" y2="584" stroke="#000" stroke-width="3.5" stroke-linecap="round"/>
<text x="1243.8" y="667.3" font-size="29.6" fill="#000" text-anchor="start" >Time (<tspan font-family="'Liberation Serif', 'Times New Roman', serif">&#956;</tspan>s)</text>
<text transform="translate(946.5,392.2) rotate(-90)" font-size="29.5">PL intensity (a.u.)</text>
<text transform="translate(998.6,572.3) rotate(-90)" font-size="29" fill="#7f7f7f">Prompt</text>
<text x="1026" y="470" font-size="29.3" fill="#7f7f7f" text-anchor="start" >Delayed</text>
<rect x="1017.1" y="48" width="231.6" height="66" fill="#000" stroke="none" stroke-width="1" />
<rect x="1008.5" y="39.5" width="232.1" height="66.4" fill="#fff" stroke="#222" stroke-width="1.3" />
<text x="1048.3" y="88.8" font-size="33.5" fill="#555555" text-anchor="start" >DMAC-BP</text>
<rect x="1470.7" y="327.4" width="147.5" height="58.8" fill="#fff" stroke="#333" stroke-width="1.4" />
<text x="1490" y="370.5" font-size="33.5" fill="#e69f00" text-anchor="start" >BE-DM</text>
<rect x="1384.1" y="495.9" width="145.4" height="58.8" fill="#fff" stroke="#333" stroke-width="1.4" />
<text x="1403.7" y="539.4" font-size="33.5" fill="#ff6f8a" text-anchor="start" >TE-DM</text>
<text transform="translate(1169.6,322.5) rotate(9)" font-size="25" fill="#e69f00"><tspan font-family="'Liberation Serif', 'Times New Roman', serif" font-style="italic">&#964;</tspan><tspan font-size="17.5" dy="6.8">TE</tspan><tspan dy="-6.8" font-style="italic">=2.66 </tspan><tspan font-family="'Liberation Serif', 'Times New Roman', serif">&#956;</tspan><tspan font-style="italic">s</tspan></text>
<text transform="translate(1102,522) rotate(9)" font-size="25" fill="#ff6f8a"><tspan font-family="'Liberation Serif', 'Times New Roman', serif" font-style="italic">&#964;</tspan><tspan font-size="17.5" dy="6.8">TE</tspan><tspan dy="-6.8" font-style="italic">=2.65 </tspan><tspan font-family="'Liberation Serif', 'Times New Roman', serif">&#956;</tspan><tspan font-style="italic">s</tspan></text>
<line x1="1224.2" y1="350.7" x2="1173" y2="475.5" stroke="#56b3e6" stroke-width="4.4" stroke-linecap="round" stroke-dasharray="10 8.4 0.1 8.4"/>
<polygon points="1166.0,492.7 1166.5,471.9 1180.2,477.5" fill="#56b3e6" stroke="#56b3e6" stroke-width="2.2" stroke-linejoin="round"/>
<rect x="1286.7" y="45.4" width="356.9" height="194.5" fill="#fff" stroke="#7f7f7f" stroke-width="3" />
<g clip-path="url(#clipBi)">
<polyline points="1288.0,200.8 1288.5,204.8 1289.0,206.1 1289.5,204.7 1290.0,206.8 1290.5,202.5 1291.0,205.9 1291.5,207.7 1292.0,206.7 1292.5,206.1 1293.0,204.7 1293.5,202.0 1294.0,206.6 1294.5,203.8 1295.0,202.1 1295.5,207.3 1296.0,200.1 1296.5,203.3 1298.0,150.0 1299.5,80.0 1301.0,58.2 1301.5,58.6 1302.0,60.0 1302.5,61.8 1303.0,62.4 1303.5,62.1 1304.0,63.2 1304.5,63.6 1305.0,64.6 1305.5,64.6 1306.0,65.0 1306.5,66.9 1307.0,68.8 1307.5,69.4 1308.0,68.1 1308.5,70.3 1309.0,70.7 1309.5,72.3 1310.0,71.9 1310.5,74.4 1311.0,74.3 1311.5,75.7 1312.0,76.8 1312.5,75.2 1313.0,77.4 1313.5,79.7 1314.0,79.2 1314.5,80.9 1315.0,81.1 1315.5,81.1 1316.0,82.6 1316.5,84.1 1317.0,85.1 1317.5,86.1 1318.0,84.4 1318.5,87.0 1319.0,85.7 1319.5,87.7 1320.0,88.4 1320.5,90.0 1321.0,90.5 1321.5,92.3 1322.0,91.1 1322.5,93.5 1323.0,93.8 1323.5,94.2 1324.0,93.7 1324.5,96.4 1325.0,96.9 1325.5,98.2 1326.0,98.1 1326.5,98.6 1327.0,100.1 1327.5,101.0 1328.0,102.1 1328.5,104.3 1329.0,102.1 1329.5,106.0 1330.0,100.8 1330.5,106.3 1331.0,104.9 1331.5,109.1 1332.0,106.3 1332.5,109.5 1333.0,107.7 1333.5,108.3 1334.0,111.5 1334.5,112.3 1335.0,111.0 1335.5,115.8 1336.0,113.0 1336.5,116.2 1337.0,113.5 1337.5,114.2 1338.0,116.4 1338.5,115.6 1339.0,120.4 1339.5,115.3 1340.0,119.2 1340.5,118.9 1341.0,119.0 1341.5,121.3 1342.0,121.3 1342.5,121.6 1343.0,124.1 1343.5,124.0 1344.0,124.7 1344.5,126.8 1345.0,125.3 1345.5,127.3 1346.0,126.1 1346.5,128.2 1347.0,128.7 1347.5,127.6 1348.0,126.7 1348.5,127.7 1349.0,128.8 1349.5,131.8 1350.0,131.3 1350.5,131.6 1351.0,133.4 1351.5,134.4 1352.0,136.1 1352.5,133.4 1353.0,135.9 1353.5,136.7 1354.0,134.5 1354.5,136.9 1355.0,135.7 1355.5,137.4 1356.0,139.0 1356.5,135.9 1357.0,137.9 1357.5,138.5 1358.0,140.6 1358.5,139.7 1359.0,142.2 1359.5,140.5 1360.0,141.7 1360.5,144.2 1361.0,144.2 1361.5,144.4 1362.0,144.6 1362.5,147.0 1363.0,148.2 1363.5,145.4 1364.0,145.2 1364.5,145.1 1365.0,150.8 1365.5,146.3 1366.0,146.0 1366.5,149.5 1367.0,151.4 1367.5,147.5 1368.0,150.1 1368.5,148.0 1369.0,149.9 1369.5,154.9 1370.0,152.4 1370.5,152.0 1371.0,153.1 1371.5,154.0 1372.0,153.7 1372.5,151.9 1373.0,152.3 1373.5,159.3 1374.0,154.1 1374.5,158.6 1375.0,155.0 1375.5,159.7 1376.0,158.8 1376.5,157.3 1377.0,162.5 1377.5,156.6 1378.0,158.5 1378.5,157.6 1379.0,158.2 1379.5,159.5 1380.0,158.6 1380.5,160.4 1381.0,165.0 1381.5,158.0 1382.0,159.5 1382.5,160.5 1383.0,162.0 1383.5,165.7 1384.0,165.4 1384.5,165.2 1385.0,164.9 1385.5,170.3 1386.0,162.6 1386.5,162.9 1387.0,165.8 1387.5,166.7 1388.0,166.0 1388.5,164.9 1389.0,164.1 1389.5,166.8 1390.0,166.1 1390.5,166.9 1391.0,165.7 1391.5,171.9 1392.0,170.0 1392.5,173.7 1393.0,168.1 1393.5,169.8 1394.0,169.3 1394.5,170.2 1395.0,169.7 1395.5,170.2 1396.0,165.9 1396.5,170.4 1397.0,173.0 1397.5,166.6 1398.0,170.9 1398.5,173.4 1399.0,175.4 1399.5,172.2 1400.0,173.8 1400.5,177.4 1401.0,176.5 1401.5,172.1 1402.0,171.9 1402.5,176.4 1403.0,174.5 1403.5,172.7 1404.0,173.8 1404.5,175.4 1405.0,174.2 1405.5,174.3 1406.0,174.6 1406.5,171.4 1407.0,180.3 1407.5,179.1 1408.0,180.2 1408.5,175.8 1409.0,176.7 1409.5,178.2 1410.0,179.1 1410.5,171.9 1411.0,178.2 1411.5,174.6 1412.0,177.3 1412.5,175.9 1413.0,182.8 1413.5,179.6 1414.0,178.2 1414.5,182.5 1415.0,178.4 1415.5,176.7 1416.0,178.5 1416.5,178.1 1417.0,179.5 1417.5,182.0 1418.0,179.3 1418.5,179.7 1419.0,183.0 1419.5,181.0 1420.0,183.2 1420.5,180.9 1421.0,176.8 1421.5,177.5 1422.0,176.0 1422.5,184.6 1423.0,182.6 1423.5,180.0 1424.0,178.6 1424.5,182.9 1425.0,181.5 1425.5,183.0 1426.0,179.6 1426.5,178.9 1427.0,187.4 1427.5,179.7 1428.0,182.7 1428.5,187.1 1429.0,177.3 1429.5,185.4 1430.0,183.5 1430.5,183.0 1431.0,184.4 1431.5,179.9 1432.0,176.7 1432.5,190.0 1433.0,183.1 1433.5,187.1 1434.0,187.9 1434.5,185.4 1435.0,186.0 1435.5,187.0 1436.0,189.9 1436.5,186.5 1437.0,189.1 1437.5,184.1 1438.0,183.8 1438.5,185.6 1439.0,186.7 1439.5,187.3 1440.0,192.1 1440.5,188.5 1441.0,186.0 1441.5,192.6 1442.0,187.1 1442.5,187.3 1443.0,187.8 1443.5,185.1 1444.0,182.5 1444.5,186.8 1445.0,185.4 1445.5,183.5 1446.0,187.0 1446.5,186.0 1447.0,184.7 1447.5,180.6 1448.0,186.3 1448.5,193.2 1449.0,190.2 1449.5,191.0 1450.0,187.1 1450.5,191.1 1451.0,184.9 1451.5,185.8 1452.0,189.4 1452.5,182.4 1453.0,187.8 1453.5,188.8 1454.0,193.9 1454.5,185.3 1455.0,189.4 1455.5,185.6 1456.0,186.0 1456.5,178.2 1457.0,184.7 1457.5,192.5 1458.0,190.2 1458.5,189.0 1459.0,197.6 1459.5,190.5 1460.0,183.9 1460.5,187.9 1461.0,188.5 1461.5,194.8 1462.0,185.4 1462.5,190.4 1463.0,192.6 1463.5,185.9 1464.0,189.4 1464.5,181.5 1465.0,189.5 1465.5,180.9 1466.0,187.8 1466.5,195.8 1467.0,190.9 1467.5,189.6 1468.0,190.0 1468.5,197.6 1469.0,191.7 1469.5,193.5 1470.0,188.0 1470.5,188.1 1471.0,185.9 1471.5,189.2 1472.0,187.3 1472.5,193.6 1473.0,192.4 1473.5,189.6 1474.0,188.0 1474.5,179.3 1475.0,188.0 1475.5,191.4 1476.0,192.7 1476.5,178.7 1477.0,181.3 1477.5,191.0 1478.0,186.6 1478.5,189.7 1479.0,188.8 1479.5,192.8 1480.0,183.6 1480.5,188.5 1481.0,194.2 1481.5,191.5 1482.0,187.7 1482.5,192.5 1483.0,191.9 1483.5,187.6 1484.0,193.5 1484.5,193.5 1485.0,190.5 1485.5,194.6 1486.0,186.7 1486.5,194.0 1487.0,190.4 1487.5,187.7 1488.0,189.0 1488.5,195.6 1489.0,189.2 1489.5,190.0 1490.0,188.9 1490.5,188.4 1491.0,195.0 1491.5,199.8 1492.0,196.5 1492.5,193.4 1493.0,194.4 1493.5,190.3 1494.0,189.7 1494.5,187.2 1495.0,197.0 1495.5,190.4 1496.0,189.0 1496.5,189.3 1497.0,192.5 1497.5,189.7 1498.0,191.9 1498.5,192.4 1499.0,196.9 1499.5,187.2 1500.0,193.0 1500.5,189.3 1501.0,190.3 1501.5,198.0 1502.0,194.3 1502.5,190.6 1503.0,193.9 1503.5,192.0 1504.0,196.3 1504.5,190.3 1505.0,194.0 1505.5,191.4 1506.0,192.2 1506.5,191.6 1507.0,189.9 1507.5,192.6 1508.0,195.9 1508.5,190.0 1509.0,190.9 1509.5,193.7 1510.0,189.5 1510.5,195.6 1511.0,195.0 1511.5,183.8 1512.0,190.0 1512.5,188.4 1513.0,195.6 1513.5,196.0 1514.0,188.0 1514.5,190.0 1515.0,192.3 1515.5,191.2 1516.0,195.3 1516.5,196.3 1517.0,194.9 1517.5,196.7 1518.0,196.2 1518.5,192.4 1519.0,191.1 1519.5,190.0 1520.0,195.8 1520.5,196.1 1521.0,196.6 1521.5,191.6 1522.0,191.4 1522.5,193.8 1523.0,197.6 1523.5,194.2 1524.0,193.7 1524.5,189.8 1525.0,194.6 1525.5,195.0 1526.0,189.4 1526.5,199.6 1527.0,189.6 1527.5,196.5 1528.0,192.3 1528.5,193.7 1529.0,190.1 1529.5,191.0 1530.0,195.7 1530.5,192.4 1531.0,191.9 1531.5,196.5 1532.0,195.8 1532.5,193.8 1533.0,194.1 1533.5,199.7 1534.0,192.6 1534.5,194.7 1535.0,194.9 1535.5,188.0 1536.0,186.1 1536.5,193.8 1537.0,196.6 1537.5,194.1 1538.0,191.4 1538.5,190.9 1539.0,196.4 1539.5,192.3 1540.0,187.4 1540.5,196.0 1541.0,194.3 1541.5,194.9 1542.0,197.4 1542.5,198.4 1543.0,195.6 1543.5,192.9 1544.0,185.6 1544.5,194.6 1545.0,193.0 1545.5,198.5 1546.0,198.4 1546.5,195.4 1547.0,198.7 1547.5,193.3 1548.0,193.5 1548.5,190.5 1549.0,192.5 1549.5,194.5 1550.0,197.6 1550.5,190.9 1551.0,196.7 1551.5,202.5 1552.0,188.7 1552.5,192.8 1553.0,193.8 1553.5,197.5 1554.0,201.2 1554.5,198.4 1555.0,193.7 1555.5,190.6 1556.0,193.6 1556.5,193.7 1557.0,194.8 1557.5,190.5 1558.0,199.6 1558.5,191.2 1559.0,196.4 1559.5,194.7 1560.0,189.8 1560.5,194.2 1561.0,194.0 1561.5,193.3 1562.0,197.0 1562.5,192.2 1563.0,203.5 1563.5,202.0 1564.0,190.6 1564.5,184.7 1565.0,198.7 1565.5,195.0 1566.0,194.4 1566.5,190.4 1567.0,188.7 1567.5,187.1 1568.0,203.7 1568.5,200.1 1569.0,192.1 1569.5,201.2 1570.0,187.2 1570.5,196.8 1571.0,196.8 1571.5,191.0 1572.0,192.5 1572.5,190.3 1573.0,194.4 1573.5,199.2 1574.0,198.0 1574.5,195.8 1575.0,198.5 1575.5,187.6 1576.0,201.9 1576.5,194.1 1577.0,189.4 1577.5,192.9 1578.0,191.9 1578.5,194.7 1579.0,195.5 1579.5,185.6 1580.0,199.1 1580.5,200.9 1581.0,190.5 1581.5,200.0 1582.0,199.2 1582.5,198.2 1583.0,200.6 1583.5,189.2 1584.0,197.2 1584.5,190.6 1585.0,203.4 1585.5,190.8 1586.0,189.9 1586.5,198.8 1587.0,196.9 1587.5,194.6 1588.0,195.1 1588.5,196.9 1589.0,201.1 1589.5,191.9 1590.0,192.5 1590.5,192.4 1591.0,194.3 1591.5,194.7 1592.0,189.8 1592.5,195.8 1593.0,189.9 1593.5,193.5 1594.0,193.7 1594.5,193.8 1595.0,200.3 1595.5,200.9 1596.0,198.8 1596.5,200.7 1597.0,193.6 1597.5,200.1 1598.0,194.6 1598.5,195.6 1599.0,195.8 1599.5,189.7 1600.0,192.5 1600.5,194.2 1601.0,196.2 1601.5,194.3 1602.0,191.6 1602.5,190.4 1603.0,194.9 1603.5,190.4 1604.0,190.4 1604.5,194.5 1605.0,195.6 1605.5,191.7 1606.0,188.1 1606.5,196.0 1607.0,198.0 1607.5,193.4 1608.0,193.5 1608.5,186.1 1609.0,198.4 1609.5,190.8 1610.0,197.7 1610.5,192.8 1611.0,194.5 1611.5,194.3 1612.0,188.2 1612.5,205.5 1613.0,189.1 1613.5,195.5 1614.0,192.0 1614.5,194.2 1615.0,200.3 1615.5,188.0 1616.0,194.6 1616.5,197.0 1617.0,195.6 1617.5,196.6 1618.0,192.3 1618.5,188.9 1619.0,190.2 1619.5,193.6 1620.0,198.0 1620.5,195.5 1621.0,201.3 1621.5,195.6 1622.0,195.9 1622.5,196.0 1623.0,188.6 1623.5,197.4 1624.0,191.0 1624.5,193.8 1625.0,204.1 1625.5,190.6 1626.0,195.7 1626.5,196.4 1627.0,195.8 1627.5,195.3 1628.0,193.2 1628.5,202.9 1629.0,187.7 1629.5,191.4 1630.0,201.0 1630.5,197.4 1631.0,192.4 1631.5,191.9 1632.0,194.4 1632.5,205.4 1633.0,197.2 1633.5,191.5 1634.0,196.3 1634.5,193.0 1635.0,201.1 1635.5,196.5 1636.0,200.2 1636.5,196.0 1637.0,203.2 1637.5,197.0 1638.0,196.5 1638.5,191.6 1639.0,193.8 1639.5,196.9 1640.0,193.6 1640.5,204.9 1641.0,195.4 1641.5,192.6 1642.0,199.2 1642.5,193.5 1643.0,197.0" fill="none" stroke="#e69f00" stroke-width="2.8" stroke-linejoin="round" />
<polyline points="1288.0,200.8 1288.5,204.8 1289.0,206.1 1289.5,204.7 1290.0,206.8 1290.5,202.5 1291.0,205.9 1291.5,207.7 1292.0,206.7 1292.5,206.1 1293.0,204.7 1293.5,202.0 1294.0,206.6 1294.5,203.8 1295.0,202.1 1295.5,207.3 1296.0,200.1 1296.5,203.3 1298.0,150.0 1299.5,80.0 1301.0,58.2 1301.5,58.8 1302.0,60.1 1302.5,60.7 1303.0,62.5 1303.5,63.1 1304.0,63.5 1304.5,65.1 1305.0,67.6 1305.5,65.8 1306.0,67.1 1306.5,69.4 1307.0,69.0 1307.5,72.6 1308.0,70.9 1308.5,72.0 1309.0,73.6 1309.5,75.8 1310.0,76.6 1310.5,77.3 1311.0,78.1 1311.5,79.8 1312.0,78.2 1312.5,80.9 1313.0,82.8 1313.5,81.7 1314.0,83.8 1314.5,85.5 1315.0,86.4 1315.5,86.1 1316.0,88.9 1316.5,88.6 1317.0,90.0 1317.5,88.9 1318.0,90.1 1318.5,91.0 1319.0,94.4 1319.5,91.3 1320.0,92.7 1320.5,96.2 1321.0,96.5 1321.5,94.3 1322.0,97.8 1322.5,98.8 1323.0,101.3 1323.5,98.9 1324.0,101.3 1324.5,103.9 1325.0,104.5 1325.5,103.6 1326.0,105.2 1326.5,104.8 1327.0,108.9 1327.5,107.8 1328.0,110.6 1328.5,110.9 1329.0,109.9 1329.5,111.7 1330.0,113.5 1330.5,114.1 1331.0,116.3 1331.5,116.7 1332.0,116.6 1332.5,117.9 1333.0,117.0 1333.5,118.0 1334.0,120.3 1334.5,120.8 1335.0,119.8 1335.5,122.0 1336.0,121.8 1336.5,122.9 1337.0,126.1 1337.5,124.0 1338.0,125.1 1338.5,127.5 1339.0,127.6 1339.5,128.5 1340.0,127.0 1340.5,129.7 1341.0,129.9 1341.5,130.0 1342.0,131.0 1342.5,132.1 1343.0,134.4 1343.5,136.5 1344.0,134.7 1344.5,137.3 1345.0,136.0 1345.5,134.3 1346.0,137.2 1346.5,139.6 1347.0,140.4 1347.5,137.6 1348.0,143.0 1348.5,139.1 1349.0,139.7 1349.5,140.6 1350.0,144.3 1350.5,143.2 1351.0,144.6 1351.5,140.3 1352.0,144.3 1352.5,144.8 1353.0,146.6 1353.5,145.3 1354.0,148.6 1354.5,146.1 1355.0,145.5 1355.5,145.6 1356.0,151.0 1356.5,150.7 1357.0,148.6 1357.5,152.3 1358.0,150.7 1358.5,151.3 1359.0,149.5 1359.5,151.6 1360.0,153.3 1360.5,153.9 1361.0,153.1 1361.5,156.3 1362.0,157.6 1362.5,154.1 1363.0,156.8 1363.5,153.8 1364.0,157.8 1364.5,155.7 1365.0,157.7 1365.5,158.8 1366.0,158.5 1366.5,161.3 1367.0,158.4 1367.5,159.4 1368.0,161.3 1368.5,161.1 1369.0,162.1 1369.5,161.7 1370.0,161.0 1370.5,164.2 1371.0,163.6 1371.5,165.6 1372.0,166.9 1372.5,164.0 1373.0,163.7 1373.5,164.7 1374.0,164.8 1374.5,162.5 1375.0,170.3 1375.5,168.2 1376.0,172.6 1376.5,167.1 1377.0,169.9 1377.5,169.7 1378.0,169.4 1378.5,172.0 1379.0,170.4 1379.5,170.6 1380.0,171.5 1380.5,166.8 1381.0,170.5 1381.5,170.8 1382.0,176.4 1382.5,174.4 1383.0,175.3 1383.5,175.3 1384.0,173.9 1384.5,178.3 1385.0,174.6 1385.5,172.2 1386.0,177.1 1386.5,178.7 1387.0,176.6 1387.5,177.6 1388.0,179.2 1388.5,180.9 1389.0,179.0 1389.5,181.8 1390.0,178.9 1390.5,183.4 1391.0,175.6 1391.5,181.3 1392.0,180.0 1392.5,179.9 1393.0,176.8 1393.5,182.6 1394.0,179.8 1394.5,178.1 1395.0,179.2 1395.5,180.3 1396.0,181.3 1396.5,179.1 1397.0,179.2 1397.5,182.7 1398.0,181.7 1398.5,187.0 1399.0,181.3 1399.5,184.4 1400.0,187.1 1400.5,182.4 1401.0,185.6 1401.5,184.1 1402.0,183.6 1402.5,187.8 1403.0,181.3 1403.5,182.5 1404.0,179.7 1404.5,184.1 1405.0,187.1 1405.5,184.1 1406.0,187.1 1406.5,183.1 1407.0,188.3 1407.5,185.2 1408.0,184.4 1408.5,190.2 1409.0,186.0 1409.5,187.7 1410.0,186.7 1410.5,188.4 1411.0,187.0 1411.5,183.6 1412.0,187.8 1412.5,188.5 1413.0,188.4 1413.5,186.8 1414.0,192.6 1414.5,185.8 1415.0,188.3 1415.5,188.7 1416.0,185.2 1416.5,185.0 1417.0,190.4 1417.5,190.6 1418.0,189.2 1418.5,184.4 1419.0,188.3 1419.5,189.9 1420.0,191.2 1420.5,193.0 1421.0,191.0 1421.5,192.6 1422.0,194.8 1422.5,183.2 1423.0,193.1 1423.5,189.0 1424.0,191.9 1424.5,191.2 1425.0,187.7 1425.5,188.1 1426.0,192.2 1426.5,190.5 1427.0,193.4 1427.5,190.1 1428.0,197.9 1428.5,190.7 1429.0,198.0 1429.5,189.4 1430.0,193.6 1430.5,195.4 1431.0,188.0 1431.5,189.2 1432.0,193.5 1432.5,195.9 1433.0,196.7 1433.5,194.3 1434.0,195.9 1434.5,189.1 1435.0,191.5 1435.5,197.5 1436.0,191.3 1436.5,192.3 1437.0,187.6 1437.5,192.7 1438.0,188.2 1438.5,194.6 1439.0,198.3 1439.5,194.6 1440.0,194.2 1440.5,192.4 1441.0,195.6 1441.5,190.2 1442.0,192.4 1442.5,201.2 1443.0,189.8 1443.5,192.3 1444.0,189.6 1444.5,198.4 1445.0,193.5 1445.5,190.1 1446.0,190.2 1446.5,198.3 1447.0,196.8 1447.5,197.3 1448.0,194.5 1448.5,197.8 1449.0,199.3 1449.5,197.1 1450.0,189.4 1450.5,188.1 1451.0,189.9 1451.5,196.0 1452.0,189.9 1452.5,191.3 1453.0,195.3 1453.5,192.1 1454.0,190.8 1454.5,198.7 1455.0,197.1 1455.5,198.2 1456.0,198.7 1456.5,200.7 1457.0,195.4 1457.5,194.9 1458.0,189.3 1458.5,194.8 1459.0,193.5 1459.5,199.6 1460.0,198.3 1460.5,201.2 1461.0,199.9 1461.5,200.3 1462.0,197.9 1462.5,196.5 1463.0,194.7 1463.5,196.0 1464.0,192.7 1464.5,197.6 1465.0,195.9 1465.5,188.8 1466.0,186.4 1466.5,193.7 1467.0,194.7 1467.5,195.3 1468.0,201.2 1468.5,194.2 1469.0,191.9 1469.5,197.9 1470.0,200.2 1470.5,202.6 1471.0,193.0 1471.5,195.8 1472.0,195.2 1472.5,202.3 1473.0,199.3 1473.5,196.9 1474.0,199.5 1474.5,195.6 1475.0,196.2 1475.5,196.8 1476.0,195.2 1476.5,196.1 1477.0,198.3 1477.5,198.0 1478.0,202.5 1478.5,200.3 1479.0,196.9 1479.5,189.2 1480.0,191.8 1480.5,195.4 1481.0,195.9 1481.5,192.5 1482.0,196.0 1482.5,197.8 1483.0,195.1 1483.5,196.9 1484.0,197.1 1484.5,194.9 1485.0,194.3 1485.5,197.0 1486.0,198.5 1486.5,193.7 1487.0,190.1 1487.5,194.1 1488.0,199.4 1488.5,191.7 1489.0,201.0 1489.5,195.5 1490.0,198.1 1490.5,194.9 1491.0,199.8 1491.5,197.9 1492.0,199.1 1492.5,190.7 1493.0,200.4 1493.5,191.7 1494.0,196.6 1494.5,199.7 1495.0,197.1 1495.5,199.7 1496.0,198.5 1496.5,198.2 1497.0,195.0 1497.5,201.5 1498.0,202.0 1498.5,196.0 1499.0,194.7 1499.5,198.7 1500.0,195.2 1500.5,198.5 1501.0,201.0 1501.5,200.4 1502.0,203.4 1502.5,199.7 1503.0,194.3 1503.5,195.0 1504.0,200.0 1504.5,205.0 1505.0,196.8 1505.5,194.8 1506.0,203.2 1506.5,197.7 1507.0,200.7 1507.5,202.0 1508.0,194.6 1508.5,196.9 1509.0,196.2 1509.5,200.1 1510.0,200.6 1510.5,196.4 1511.0,200.2 1511.5,191.8 1512.0,199.5 1512.5,199.5 1513.0,198.3 1513.5,193.1 1514.0,197.9 1514.5,194.5 1515.0,203.5 1515.5,204.5 1516.0,197.6 1516.5,198.0 1517.0,200.3 1517.5,198.7 1518.0,200.3 1518.5,195.1 1519.0,202.4 1519.5,196.7 1520.0,201.1 1520.5,199.3 1521.0,202.3 1521.5,198.2 1522.0,193.2 1522.5,194.4 1523.0,197.7 1523.5,203.4 1524.0,197.0 1524.5,198.7 1525.0,203.0 1525.5,196.5 1526.0,199.6 1526.5,199.5 1527.0,196.4 1527.5,199.4 1528.0,202.3 1528.5,202.3 1529.0,197.4 1529.5,209.0 1530.0,199.8 1530.5,197.6 1531.0,196.0 1531.5,195.1 1532.0,201.7 1532.5,188.3 1533.0,198.1 1533.5,193.7 1534.0,198.1 1534.5,198.5 1535.0,194.0 1535.5,195.2 1536.0,203.2 1536.5,196.7 1537.0,198.7 1537.5,197.6 1538.0,201.7 1538.5,203.1 1539.0,202.0 1539.5,200.7 1540.0,200.8 1540.5,194.5 1541.0,203.4 1541.5,196.8 1542.0,195.6 1542.5,197.4 1543.0,196.0 1543.5,200.3 1544.0,201.4 1544.5,203.4 1545.0,198.5 1545.5,196.7 1546.0,197.8 1546.5,194.7 1547.0,196.2 1547.5,206.0 1548.0,196.1 1548.5,197.2 1549.0,201.1 1549.5,199.8 1550.0,201.6 1550.5,195.8 1551.0,195.1 1551.5,203.6 1552.0,196.5 1552.5,198.6 1553.0,199.7 1553.5,192.3 1554.0,198.3 1554.5,196.6 1555.0,200.8 1555.5,197.9 1556.0,191.0 1556.5,201.8 1557.0,189.9 1557.5,197.5 1558.0,196.5 1558.5,196.8 1559.0,199.0 1559.5,202.4 1560.0,195.9 1560.5,196.9 1561.0,201.7 1561.5,200.9 1562.0,201.6 1562.5,200.3 1563.0,198.2 1563.5,197.3 1564.0,197.4 1564.5,202.3 1565.0,204.4 1565.5,206.2 1566.0,195.4 1566.5,198.3 1567.0,199.2 1567.5,198.6 1568.0,195.1 1568.5,207.0 1569.0,204.6 1569.5,198.6 1570.0,197.6 1570.5,199.2 1571.0,194.9 1571.5,198.0 1572.0,202.0 1572.5,205.2 1573.0,202.4 1573.5,203.9 1574.0,195.5 1574.5,187.7 1575.0,204.2 1575.5,200.0 1576.0,199.0 1576.5,205.3 1577.0,195.9 1577.5,195.9 1578.0,196.7 1578.5,205.1 1579.0,202.8 1579.5,193.0 1580.0,205.3 1580.5,199.4 1581.0,200.9 1581.5,196.6 1582.0,206.2 1582.5,201.0 1583.0,204.2 1583.5,195.8 1584.0,202.0 1584.5,199.8 1585.0,198.7 1585.5,196.5 1586.0,197.0 1586.5,195.3 1587.0,197.1 1587.5,199.4 1588.0,201.6 1588.5,193.9 1589.0,195.8 1589.5,197.3 1590.0,193.6 1590.5,198.5 1591.0,198.6 1591.5,198.9 1592.0,201.1 1592.5,203.0 1593.0,202.5 1593.5,200.6 1594.0,201.7 1594.5,196.8 1595.0,196.2 1595.5,202.0 1596.0,201.7 1596.5,207.6 1597.0,198.9 1597.5,196.1 1598.0,200.7 1598.5,198.1 1599.0,196.5 1599.5,204.6 1600.0,206.7 1600.5,201.1 1601.0,197.4 1601.5,200.7 1602.0,199.6 1602.5,194.7 1603.0,202.8 1603.5,201.0 1604.0,204.3 1604.5,197.8 1605.0,199.8 1605.5,199.4 1606.0,193.6 1606.5,208.9 1607.0,192.3 1607.5,195.7 1608.0,198.6 1608.5,194.2 1609.0,201.4 1609.5,198.2 1610.0,200.2 1610.5,200.8 1611.0,200.2 1611.5,200.3 1612.0,199.4 1612.5,201.5 1613.0,202.9 1613.5,199.1 1614.0,198.4 1614.5,198.6 1615.0,201.1 1615.5,198.7 1616.0,198.7 1616.5,194.6 1617.0,207.1 1617.5,195.6 1618.0,206.2 1618.5,203.0 1619.0,203.8 1619.5,201.1 1620.0,201.9 1620.5,201.2 1621.0,202.3 1621.5,203.2 1622.0,205.7 1622.5,196.6 1623.0,202.0 1623.5,206.1 1624.0,205.3 1624.5,196.5 1625.0,201.4 1625.5,201.3 1626.0,201.2 1626.5,192.1 1627.0,203.5 1627.5,194.4 1628.0,208.3 1628.5,202.8 1629.0,200.0 1629.5,202.7 1630.0,200.9 1630.5,198.5 1631.0,200.1 1631.5,201.7 1632.0,197.5 1632.5,203.1 1633.0,204.5 1633.5,204.4 1634.0,204.8 1634.5,205.3 1635.0,203.1 1635.5,205.3 1636.0,200.8 1636.5,202.0 1637.0,205.8 1637.5,207.7 1638.0,199.3 1638.5,195.3 1639.0,208.5 1639.5,204.9 1640.0,207.3 1640.5,203.9 1641.0,201.5 1641.5,198.3 1642.0,197.1 1642.5,206.0 1643.0,204.3" fill="none" stroke="#ff6f8a" stroke-width="2.8" stroke-linejoin="round" />
</g>
<line x1="1295.2" y1="239.9" x2="1295.2" y2="248.9" stroke="#7f7f7f" stroke-width="3" />
<text x="1295.2" y="272.5" font-size="21" fill="#7f7f7f" text-anchor="middle" >0</text>
<line x1="1338.8" y1="239.9" x2="1338.8" y2="244.9" stroke="#7f7f7f" stroke-width="3" />
<line x1="1382.4" y1="239.9" x2="1382.4" y2="248.9" stroke="#7f7f7f" stroke-width="3" />
<text x="1382.4" y="272.5" font-size="21" fill="#7f7f7f" text-anchor="middle" >50</text>
<line x1="1426" y1="239.9" x2="1426" y2="244.9" stroke="#7f7f7f" stroke-width="3" />
<line x1="1469.6" y1="239.9" x2="1469.6" y2="248.9" stroke="#7f7f7f" stroke-width="3" />
<text x="1469.6" y="272.5" font-size="21" fill="#7f7f7f" text-anchor="middle" >100</text>
<line x1="1513.2" y1="239.9" x2="1513.2" y2="244.9" stroke="#7f7f7f" stroke-width="3" />
<line x1="1556.8" y1="239.9" x2="1556.8" y2="248.9" stroke="#7f7f7f" stroke-width="3" />
<text x="1556.8" y="272.5" font-size="21" fill="#7f7f7f" text-anchor="middle" >150</text>
<line x1="1600.4" y1="239.9" x2="1600.4" y2="244.9" stroke="#7f7f7f" stroke-width="3" />
<line x1="1644" y1="239.9" x2="1644" y2="248.9" stroke="#7f7f7f" stroke-width="3" />
<text x="1644" y="272.5" font-size="21" fill="#7f7f7f" text-anchor="middle" >200</text>
<text x="1408.3" y="304" font-size="25" fill="#7f7f7f" text-anchor="start" >Time (ns)</text>
<text transform="translate(1269.5,231.5) rotate(-90)" font-size="21.2" fill="#7f7f7f">PL intensity (a.u.)</text>
<text x="1522.4" y="90.3" font-size="29.3" fill="#7f7f7f" text-anchor="start" >Prompt</text>
<text x="1364" y="127" font-size="25" fill="#e69f00"><tspan font-family="'Liberation Serif', 'Times New Roman', serif" font-style="italic">&#964;</tspan><tspan font-size="17.5" dy="8.2">BE</tspan><tspan dy="-8.2">=27.96 ns</tspan></text>
<text x="1309" y="227" font-size="25" fill="#ff6f8a"><tspan font-family="'Liberation Serif', 'Times New Roman', serif" font-style="italic">&#964;</tspan><tspan font-size="17.5" dy="8.2">TE</tspan><tspan dy="-8.2">=17.80 ns</tspan></text>
<line x1="1387" y1="146.5" x2="1363.1" y2="186.1" stroke="#56b3e6" stroke-width="4" stroke-linecap="round" stroke-dasharray="10 9 0.1 9"/>
<polygon points="1353.5,202.0 1358.9,182.6 1368.2,188.2" fill="#56b3e6" stroke="#56b3e6" stroke-width="2.2" stroke-linejoin="round"/>
<text x="-1" y="761.3" font-size="42" fill="#000" text-anchor="start" font-weight="bold">c</text>
<rect x="111" y="762.3" width="692" height="561.7" fill="#ddd8c2" stroke="none" stroke-width="1" />
<path d="M111.0,846.1 L113.5,846.1 L116.0,846.2 L118.5,846.2 L121.0,846.2 L123.5,846.3 L126.0,846.3 L128.5,846.3 L131.0,846.4 L133.5,846.4 L136.0,846.4 L138.5,846.5 L141.0,846.5 L143.5,846.5 L146.0,846.6 L148.5,846.6 L151.0,846.7 L153.5,846.7 L156.0,846.8 L158.5,846.8 L161.0,846.9 L163.5,846.9 L166.0,847.0 L168.5,847.0 L171.0,847.1 L173.5,847.1 L176.0,847.2 L178.5,847.3 L181.0,847.3 L183.5,847.4 L186.0,847.4 L188.5,847.5 L191.0,847.6 L193.5,847.6 L196.0,847.7 L198.5,847.8 L201.0,847.9 L203.5,847.9 L206.0,848.0 L208.5,848.1 L211.0,848.2 L213.5,848.2 L216.0,848.3 L218.5,848.4 L221.0,848.5 L223.5,848.6 L226.0,848.6 L228.5,848.7 L231.0,848.8 L233.5,848.9 L236.0,849.0 L238.5,849.1 L241.0,849.2 L243.5,849.3 L246.0,849.4 L248.5,849.5 L251.0,849.6 L253.5,849.7 L256.0,849.8 L258.5,849.9 L261.0,850.0 L263.5,850.1 L266.0,850.2 L268.5,850.3 L271.0,850.4 L273.5,850.5 L276.0,850.6 L278.5,850.7 L281.0,850.8 L283.5,850.9 L286.0,851.0 L288.5,851.2 L291.0,851.3 L293.5,851.4 L296.0,851.5 L298.5,851.6 L301.0,851.8 L303.5,851.9 L306.0,852.0 L308.5,852.1 L311.0,852.3 L313.5,852.4 L316.0,852.5 L318.5,852.7 L321.0,852.8 L323.5,852.9 L326.0,853.1 L328.5,853.2 L331.0,853.3 L333.5,853.5 L336.0,853.6 L338.5,853.7 L341.0,853.9 L343.5,854.0 L346.0,854.2 L348.5,854.3 L351.0,854.5 L353.5,854.6 L356.0,854.8 L358.5,854.9 L361.0,855.1 L363.5,855.2 L366.0,855.4 L368.5,855.5 L371.0,855.7 L373.5,855.8 L376.0,856.0 L378.5,856.1 L381.0,856.2 L383.5,856.4 L386.0,856.5 L388.5,856.7 L391.0,856.8 L393.5,857.0 L396.0,857.1 L398.5,857.2 L401.0,857.4 L403.5,857.5 L406.0,857.6 L408.5,857.7 L411.0,857.8 L413.5,858.0 L416.0,858.1 L418.5,858.2 L421.0,858.3 L423.5,858.4 L426.0,858.5 L428.5,858.5 L431.0,858.6 L433.5,858.7 L436.0,858.8 L438.5,858.8 L441.0,858.9 L443.5,858.9 L446.0,859.0 L448.5,859.0 L451.0,859.1 L453.5,859.1 L456.0,859.1 L458.5,859.1 L461.0,859.1 L463.5,859.1 L466.0,859.1 L468.5,859.1 L471.0,859.0 L473.5,859.0 L476.0,858.9 L478.5,858.9 L481.0,858.8 L483.5,858.7 L486.0,858.7 L488.5,858.6 L491.0,858.5 L493.5,858.3 L496.0,858.2 L498.5,858.1 L501.0,857.9 L503.5,857.8 L506.0,857.6 L508.5,857.4 L511.0,857.2 L513.5,857.0 L516.0,856.8 L518.5,856.6 L521.0,856.3 L523.5,856.1 L526.0,855.8 L528.5,855.5 L531.0,855.2 L533.5,854.9 L536.0,854.6 L538.5,854.3 L541.0,853.9 L543.5,853.6 L546.0,853.2 L548.5,852.8 L551.0,852.4 L553.5,852.1 L556.0,851.6 L558.5,851.2 L561.0,850.8 L563.5,850.4 L566.0,849.9 L568.5,849.5 L571.0,849.0 L573.5,848.5 L576.0,848.1 L578.5,847.6 L581.0,847.1 L583.5,846.6 L586.0,846.1 L588.5,845.5 L591.0,845.0 L593.5,844.5 L596.0,843.9 L598.5,843.4 L601.0,842.8 L603.5,842.3 L606.0,841.7 L608.5,841.1 L611.0,840.5 L613.5,839.9 L616.0,839.4 L618.5,838.8 L621.0,838.1 L623.5,837.5 L626.0,836.9 L628.5,836.3 L631.0,835.7 L633.5,835.0 L636.0,834.4 L638.5,833.8 L641.0,833.1 L643.5,832.5 L646.0,831.8 L648.5,831.2 L651.0,830.5 L653.5,829.9 L656.0,829.2 L658.5,828.5 L661.0,827.9 L663.5,827.2 L666.0,826.5 L668.5,825.9 L671.0,825.2 L673.5,824.5 L676.0,823.8 L678.5,823.2 L681.0,822.5 L683.5,821.8 L686.0,821.1 L688.5,820.4 L691.0,819.7 L693.5,819.1 L696.0,818.4 L698.5,817.7 L701.0,817.0 L703.5,816.3 L706.0,815.7 L708.5,815.0 L711.0,814.3 L713.5,813.6 L716.0,813.0 L718.5,812.3 L721.0,811.6 L723.5,811.0 L726.0,810.3 L728.5,809.6 L731.0,809.0 L733.5,808.3 L736.0,807.7 L738.5,807.0 L741.0,806.4 L743.5,805.7 L746.0,805.1 L748.5,804.4 L751.0,803.8 L753.5,803.2 L756.0,802.6 L758.5,801.9 L761.0,801.3 L763.5,800.7 L766.0,800.1 L768.5,799.5 L771.0,798.9 L773.5,798.3 L776.0,797.8 L778.5,797.2 L781.0,796.6 L783.5,796.1 L786.0,795.5 L788.5,795.0 L791.0,794.4 L793.5,793.9 L796.0,793.4 L798.5,792.9 L799.5,792.7 L799.5,972.5 L798.5,972.4 L796.0,972.3 L793.5,972.2 L791.0,972.1 L788.5,971.9 L786.0,971.8 L783.5,971.6 L781.0,971.4 L778.5,971.2 L776.0,971.0 L773.5,970.8 L771.0,970.6 L768.5,970.3 L766.0,970.0 L763.5,969.8 L761.0,969.5 L758.5,969.2 L756.0,968.9 L753.5,968.6 L751.0,968.2 L748.5,967.9 L746.0,967.5 L743.5,967.2 L741.0,966.8 L738.5,966.4 L736.0,966.0 L733.5,965.6 L731.0,965.1 L728.5,964.7 L726.0,964.3 L723.5,963.8 L721.0,963.3 L718.5,962.9 L716.0,962.4 L713.5,961.9 L711.0,961.4 L708.5,960.8 L706.0,960.3 L703.5,959.8 L701.0,959.2 L698.5,958.7 L696.0,958.1 L693.5,957.5 L691.0,956.9 L688.5,956.3 L686.0,955.7 L683.5,955.1 L681.0,954.5 L678.5,953.8 L676.0,953.2 L673.5,952.6 L671.0,951.9 L668.5,951.2 L666.0,950.5 L663.5,949.9 L661.0,949.2 L658.5,948.5 L656.0,947.8 L653.5,947.0 L651.0,946.3 L648.5,945.6 L646.0,944.8 L643.5,944.1 L641.0,943.3 L638.5,942.6 L636.0,941.8 L633.5,941.0 L631.0,940.3 L628.5,939.5 L626.0,938.7 L623.5,937.9 L621.0,937.1 L618.5,936.2 L616.0,935.4 L613.5,934.6 L611.0,933.8 L608.5,932.9 L606.0,932.1 L603.5,931.2 L601.0,930.4 L598.5,929.5 L596.0,928.6 L593.5,927.8 L591.0,926.9 L588.5,926.0 L586.0,925.1 L583.5,924.2 L581.0,923.3 L578.5,922.4 L576.0,921.5 L573.5,920.6 L571.0,919.7 L568.5,918.8 L566.0,917.9 L563.5,917.0 L561.0,916.1 L558.5,915.2 L556.0,914.3 L553.5,913.3 L551.0,912.4 L548.5,911.5 L546.0,910.6 L543.5,909.7 L541.0,908.8 L538.5,907.9 L536.0,907.0 L533.5,906.0 L531.0,905.1 L528.5,904.2 L526.0,903.3 L523.5,902.4 L521.0,901.6 L518.5,900.7 L516.0,899.8 L513.5,898.9 L511.0,898.0 L508.5,897.2 L506.0,896.3 L503.5,895.4 L501.0,894.6 L498.5,893.7 L496.0,892.9 L493.5,892.1 L491.0,891.2 L488.5,890.4 L486.0,889.6 L483.5,888.8 L481.0,888.0 L478.5,887.2 L476.0,886.4 L473.5,885.7 L471.0,884.9 L468.5,884.1 L466.0,883.4 L463.5,882.7 L461.0,881.9 L458.5,881.2 L456.0,880.5 L453.5,879.8 L451.0,879.1 L448.5,878.4 L446.0,877.7 L443.5,877.1 L441.0,876.4 L438.5,875.8 L436.0,875.1 L433.5,874.5 L431.0,873.9 L428.5,873.3 L426.0,872.7 L423.5,872.1 L421.0,871.5 L418.5,870.9 L416.0,870.3 L413.5,869.8 L411.0,869.2 L408.5,868.7 L406.0,868.1 L403.5,867.6 L401.0,867.1 L398.5,866.6 L396.0,866.1 L393.5,865.6 L391.0,865.1 L388.5,864.6 L386.0,864.2 L383.5,863.7 L381.0,863.3 L378.5,862.8 L376.0,862.4 L373.5,862.0 L371.0,861.6 L368.5,861.2 L366.0,860.8 L363.5,860.4 L361.0,860.0 L358.5,859.7 L356.0,859.3 L353.5,859.0 L351.0,858.6 L348.5,858.3 L346.0,858.0 L343.5,857.7 L341.0,857.4 L338.5,857.1 L336.0,856.8 L333.5,856.5 L331.0,856.3 L328.5,856.0 L326.0,855.7 L323.5,855.5 L321.0,855.3 L318.5,855.0 L316.0,854.8 L313.5,854.6 L311.0,854.4 L308.5,854.2 L306.0,854.0 L303.5,853.8 L301.0,853.6 L298.5,853.4 L296.0,853.3 L293.5,853.1 L291.0,853.0 L288.5,852.8 L286.0,852.7 L283.5,852.5 L281.0,852.4 L278.5,852.2 L276.0,852.1 L273.5,852.0 L271.0,851.9 L268.5,851.8 L266.0,851.6 L263.5,851.5 L261.0,851.4 L258.5,851.3 L256.0,851.2 L253.5,851.2 L251.0,851.1 L248.5,851.0 L246.0,850.9 L243.5,850.8 L241.0,850.7 L238.5,850.7 L236.0,850.6 L233.5,850.5 L231.0,850.5 L228.5,850.4 L226.0,850.3 L223.5,850.3 L221.0,850.2 L218.5,850.1 L216.0,850.1 L213.5,850.0 L211.0,850.0 L208.5,849.9 L206.0,849.8 L203.5,849.8 L201.0,849.7 L198.5,849.7 L196.0,849.6 L193.5,849.6 L191.0,849.5 L188.5,849.4 L186.0,849.4 L183.5,849.3 L181.0,849.3 L178.5,849.2 L176.0,849.1 L173.5,849.1 L171.0,849.0 L168.5,848.9 L166.0,848.9 L163.5,848.8 L161.0,848.7 L158.5,848.6 L156.0,848.5 L153.5,848.5 L151.0,848.4 L148.5,848.3 L146.0,848.2 L143.5,848.1 L141.0,848.0 L138.5,847.9 L136.0,847.8 L133.5,847.7 L131.0,847.6 L128.5,847.4 L126.0,847.3 L123.5,847.2 L121.0,847.1 L118.5,846.9 L116.0,846.8 L113.5,846.6 L111.0,846.5Z" fill="#c999fb"/>
<path d="M111.0,846.5 L113.5,846.6 L116.0,846.8 L118.5,846.9 L121.0,847.1 L123.5,847.2 L126.0,847.3 L128.5,847.4 L131.0,847.6 L133.5,847.7 L136.0,847.8 L138.5,847.9 L141.0,848.0 L143.5,848.1 L146.0,848.2 L148.5,848.3 L151.0,848.4 L153.5,848.5 L156.0,848.5 L158.5,848.6 L161.0,848.7 L163.5,848.8 L166.0,848.9 L168.5,848.9 L171.0,849.0 L173.5,849.1 L176.0,849.1 L178.5,849.2 L181.0,849.3 L183.5,849.3 L186.0,849.4 L188.5,849.4 L191.0,849.5 L193.5,849.6 L196.0,849.6 L198.5,849.7 L201.0,849.7 L203.5,849.8 L206.0,849.8 L208.5,849.9 L211.0,850.0 L213.5,850.0 L216.0,850.1 L218.5,850.1 L221.0,850.2 L223.5,850.3 L226.0,850.3 L228.5,850.4 L231.0,850.5 L233.5,850.5 L236.0,850.6 L238.5,850.7 L241.0,850.7 L243.5,850.8 L246.0,850.9 L248.5,851.0 L251.0,851.1 L253.5,851.2 L256.0,851.2 L258.5,851.3 L261.0,851.4 L263.5,851.5 L266.0,851.6 L268.5,851.8 L271.0,851.9 L273.5,852.0 L276.0,852.1 L278.5,852.2 L281.0,852.4 L283.5,852.5 L286.0,852.7 L288.5,852.8 L291.0,853.0 L293.5,853.1 L296.0,853.3 L298.5,853.4 L301.0,853.6 L303.5,853.8 L306.0,854.0 L308.5,854.2 L311.0,854.4 L313.5,854.6 L316.0,854.8 L318.5,855.0 L321.0,855.3 L323.5,855.5 L326.0,855.7 L328.5,856.0 L331.0,856.3 L333.5,856.5 L336.0,856.8 L338.5,857.1 L341.0,857.4 L343.5,857.7 L346.0,858.0 L348.5,858.3 L351.0,858.6 L353.5,859.0 L356.0,859.3 L358.5,859.7 L361.0,860.0 L363.5,860.4 L366.0,860.8 L368.5,861.2 L371.0,861.6 L373.5,862.0 L376.0,862.4 L378.5,862.8 L381.0,863.3 L383.5,863.7 L386.0,864.2 L388.5,864.6 L391.0,865.1 L393.5,865.6 L396.0,866.1 L398.5,866.6 L401.0,867.1 L403.5,867.6 L406.0,868.1 L408.5,868.7 L411.0,869.2 L413.5,869.8 L416.0,870.3 L418.5,870.9 L421.0,871.5 L423.5,872.1 L426.0,872.7 L428.5,873.3 L431.0,873.9 L433.5,874.5 L436.0,875.1 L438.5,875.8 L441.0,876.4 L443.5,877.1 L446.0,877.7 L448.5,878.4 L451.0,879.1 L453.5,879.8 L456.0,880.5 L458.5,881.2 L461.0,881.9 L463.5,882.7 L466.0,883.4 L468.5,884.1 L471.0,884.9 L473.5,885.7 L476.0,886.4 L478.5,887.2 L481.0,888.0 L483.5,888.8 L486.0,889.6 L488.5,890.4 L491.0,891.2 L493.5,892.1 L496.0,892.9 L498.5,893.7 L501.0,894.6 L503.5,895.4 L506.0,896.3 L508.5,897.2 L511.0,898.0 L513.5,898.9 L516.0,899.8 L518.5,900.7 L521.0,901.6 L523.5,902.4 L526.0,903.3 L528.5,904.2 L531.0,905.1 L533.5,906.0 L536.0,907.0 L538.5,907.9 L541.0,908.8 L543.5,909.7 L546.0,910.6 L548.5,911.5 L551.0,912.4 L553.5,913.3 L556.0,914.3 L558.5,915.2 L561.0,916.1 L563.5,917.0 L566.0,917.9 L568.5,918.8 L571.0,919.7 L573.5,920.6 L576.0,921.5 L578.5,922.4 L581.0,923.3 L583.5,924.2 L586.0,925.1 L588.5,926.0 L591.0,926.9 L593.5,927.8 L596.0,928.6 L598.5,929.5 L601.0,930.4 L603.5,931.2 L606.0,932.1 L608.5,932.9 L611.0,933.8 L613.5,934.6 L616.0,935.4 L618.5,936.2 L621.0,937.1 L623.5,937.9 L626.0,938.7 L628.5,939.5 L631.0,940.3 L633.5,941.0 L636.0,941.8 L638.5,942.6 L641.0,943.3 L643.5,944.1 L646.0,944.8 L648.5,945.6 L651.0,946.3 L653.5,947.0 L656.0,947.8 L658.5,948.5 L661.0,949.2 L663.5,949.9 L666.0,950.5 L668.5,951.2 L671.0,951.9 L673.5,952.6 L676.0,953.2 L678.5,953.8 L681.0,954.5 L683.5,955.1 L686.0,955.7 L688.5,956.3 L691.0,956.9 L693.5,957.5 L696.0,958.1 L698.5,958.7 L701.0,959.2 L703.5,959.8 L706.0,960.3 L708.5,960.8 L711.0,961.4 L713.5,961.9 L716.0,962.4 L718.5,962.9 L721.0,963.3 L723.5,963.8 L726.0,964.3 L728.5,964.7 L731.0,965.1 L733.5,965.6 L736.0,966.0 L738.5,966.4 L741.0,966.8 L743.5,967.2 L746.0,967.5 L748.5,967.9 L751.0,968.2 L753.5,968.6 L756.0,968.9 L758.5,969.2 L761.0,969.5 L763.5,969.8 L766.0,970.0 L768.5,970.3 L771.0,970.6 L773.5,970.8 L776.0,971.0 L778.5,971.2 L781.0,971.4 L783.5,971.6 L786.0,971.8 L788.5,971.9 L791.0,972.1 L793.5,972.2 L796.0,972.3 L798.5,972.4 L799.5,972.5 L799.5,1235.9 L798.5,1235.2 L796.0,1233.4 L793.5,1231.6 L791.0,1229.8 L788.5,1227.9 L786.0,1226.1 L783.5,1224.2 L781.0,1222.3 L778.5,1220.4 L776.0,1218.5 L773.5,1216.6 L771.0,1214.7 L768.5,1212.7 L766.0,1210.8 L763.5,1208.8 L761.0,1206.8 L758.5,1204.8 L756.0,1202.8 L753.5,1200.7 L751.0,1198.7 L748.5,1196.6 L746.0,1194.5 L743.5,1192.4 L741.0,1190.3 L738.5,1188.1 L736.0,1186.0 L733.5,1183.8 L731.0,1181.6 L728.5,1179.4 L726.0,1177.1 L723.5,1174.9 L721.0,1172.6 L718.5,1170.3 L716.0,1167.9 L713.5,1165.6 L711.0,1163.2 L708.5,1160.8 L706.0,1158.4 L703.5,1155.9 L701.0,1153.4 L698.5,1150.9 L696.0,1148.4 L693.5,1145.9 L691.0,1143.3 L688.5,1140.7 L686.0,1138.1 L683.5,1135.4 L681.0,1132.7 L678.5,1130.0 L676.0,1127.3 L673.5,1124.6 L671.0,1121.8 L668.5,1119.0 L666.0,1116.2 L663.5,1113.4 L661.0,1110.5 L658.5,1107.6 L656.0,1104.7 L653.5,1101.8 L651.0,1098.9 L648.5,1095.9 L646.0,1092.9 L643.5,1089.9 L641.0,1086.9 L638.5,1083.9 L636.0,1080.9 L633.5,1077.8 L631.0,1074.7 L628.5,1071.6 L626.0,1068.6 L623.5,1065.5 L621.0,1062.4 L618.5,1059.3 L616.0,1056.1 L613.5,1053.0 L611.0,1049.9 L608.5,1046.8 L606.0,1043.7 L603.5,1040.6 L601.0,1037.5 L598.5,1034.4 L596.0,1031.3 L593.5,1028.2 L591.0,1025.2 L588.5,1022.1 L586.0,1019.1 L583.5,1016.0 L581.0,1013.0 L578.5,1010.0 L576.0,1007.0 L573.5,1004.1 L571.0,1001.1 L568.5,998.2 L566.0,995.3 L563.5,992.5 L561.0,989.6 L558.5,986.8 L556.0,984.0 L553.5,981.3 L551.0,978.6 L548.5,975.9 L546.0,973.2 L543.5,970.6 L541.0,968.0 L538.5,965.5 L536.0,963.0 L533.5,960.5 L531.0,958.1 L528.5,955.7 L526.0,953.3 L523.5,951.0 L521.0,948.8 L518.5,946.5 L516.0,944.3 L513.5,942.2 L511.0,940.1 L508.5,938.0 L506.0,935.9 L503.5,933.9 L501.0,931.9 L498.5,930.0 L496.0,928.1 L493.5,926.2 L491.0,924.4 L488.5,922.6 L486.0,920.8 L483.5,919.1 L481.0,917.4 L478.5,915.7 L476.0,914.1 L473.5,912.5 L471.0,910.9 L468.5,909.3 L466.0,907.8 L463.5,906.3 L461.0,904.9 L458.5,903.5 L456.0,902.1 L453.5,900.7 L451.0,899.4 L448.5,898.0 L446.0,896.8 L443.5,895.5 L441.0,894.3 L438.5,893.1 L436.0,891.9 L433.5,890.8 L431.0,889.6 L428.5,888.5 L426.0,887.5 L423.5,886.4 L421.0,885.4 L418.5,884.4 L416.0,883.4 L413.5,882.5 L411.0,881.5 L408.5,880.6 L406.0,879.7 L403.5,878.9 L401.0,878.0 L398.5,877.2 L396.0,876.4 L393.5,875.6 L391.0,874.9 L388.5,874.1 L386.0,873.4 L383.5,872.7 L381.0,872.0 L378.5,871.4 L376.0,870.7 L373.5,870.1 L371.0,869.5 L368.5,868.9 L366.0,868.3 L363.5,867.8 L361.0,867.2 L358.5,866.7 L356.0,866.2 L353.5,865.7 L351.0,865.2 L348.5,864.8 L346.0,864.3 L343.5,863.9 L341.0,863.5 L338.5,863.1 L336.0,862.7 L333.5,862.3 L331.0,862.0 L328.5,861.6 L326.0,861.3 L323.5,861.0 L321.0,860.6 L318.5,860.4 L316.0,860.1 L313.5,859.8 L311.0,859.5 L308.5,859.3 L306.0,859.0 L303.5,858.8 L301.0,858.6 L298.5,858.4 L296.0,858.2 L293.5,858.0 L291.0,857.8 L288.5,857.6 L286.0,857.4 L283.5,857.3 L281.0,857.1 L278.5,857.0 L276.0,856.9 L273.5,856.7 L271.0,856.6 L268.5,856.5 L266.0,856.4 L263.5,856.3 L261.0,856.2 L258.5,856.1 L256.0,856.0 L253.5,855.9 L251.0,855.8 L248.5,855.8 L246.0,855.7 L243.5,855.6 L241.0,855.6 L238.5,855.5 L236.0,855.5 L233.5,855.4 L231.0,855.4 L228.5,855.3 L226.0,855.3 L223.5,855.2 L221.0,855.2 L218.5,855.1 L216.0,855.1 L213.5,855.1 L211.0,855.0 L208.5,855.0 L206.0,854.9 L203.5,854.9 L201.0,854.8 L198.5,854.8 L196.0,854.8 L193.5,854.7 L191.0,854.7 L188.5,854.6 L186.0,854.5 L183.5,854.5 L181.0,854.4 L178.5,854.4 L176.0,854.3 L173.5,854.2 L171.0,854.1 L168.5,854.1 L166.0,854.0 L163.5,853.9 L161.0,853.8 L158.5,853.7 L156.0,853.6 L153.5,853.5 L151.0,853.4 L148.5,853.2 L146.0,853.1 L143.5,853.0 L141.0,852.8 L138.5,852.6 L136.0,852.5 L133.5,852.3 L131.0,852.1 L128.5,851.9 L126.0,851.7 L123.5,851.5 L121.0,851.3 L118.5,851.1 L116.0,850.8 L113.5,850.6 L111.0,850.3Z" fill="#56b3e6"/>
<path d="M111.0,850.3 L113.5,850.6 L116.0,850.8 L118.5,851.1 L121.0,851.3 L123.5,851.5 L126.0,851.7 L128.5,851.9 L131.0,852.1 L133.5,852.3 L136.0,852.5 L138.5,852.6 L141.0,852.8 L143.5,853.0 L146.0,853.1 L148.5,853.2 L151.0,853.4 L153.5,853.5 L156.0,853.6 L158.5,853.7 L161.0,853.8 L163.5,853.9 L166.0,854.0 L168.5,854.1 L171.0,854.1 L173.5,854.2 L176.0,854.3 L178.5,854.4 L181.0,854.4 L183.5,854.5 L186.0,854.5 L188.5,854.6 L191.0,854.7 L193.5,854.7 L196.0,854.8 L198.5,854.8 L201.0,854.8 L203.5,854.9 L206.0,854.9 L208.5,855.0 L211.0,855.0 L213.5,855.1 L216.0,855.1 L218.5,855.1 L221.0,855.2 L223.5,855.2 L226.0,855.3 L228.5,855.3 L231.0,855.4 L233.5,855.4 L236.0,855.5 L238.5,855.5 L241.0,855.6 L243.5,855.6 L246.0,855.7 L248.5,855.8 L251.0,855.8 L253.5,855.9 L256.0,856.0 L258.5,856.1 L261.0,856.2 L263.5,856.3 L266.0,856.4 L268.5,856.5 L271.0,856.6 L273.5,856.7 L276.0,856.9 L278.5,857.0 L281.0,857.1 L283.5,857.3 L286.0,857.4 L288.5,857.6 L291.0,857.8 L293.5,858.0 L296.0,858.2 L298.5,858.4 L301.0,858.6 L303.5,858.8 L306.0,859.0 L308.5,859.3 L311.0,859.5 L313.5,859.8 L316.0,860.1 L318.5,860.4 L321.0,860.6 L323.5,861.0 L326.0,861.3 L328.5,861.6 L331.0,862.0 L333.5,862.3 L336.0,862.7 L338.5,863.1 L341.0,863.5 L343.5,863.9 L346.0,864.3 L348.5,864.8 L351.0,865.2 L353.5,865.7 L356.0,866.2 L358.5,866.7 L361.0,867.2 L363.5,867.8 L366.0,868.3 L368.5,868.9 L371.0,869.5 L373.5,870.1 L376.0,870.7 L378.5,871.4 L381.0,872.0 L383.5,872.7 L386.0,873.4 L388.5,874.1 L391.0,874.9 L393.5,875.6 L396.0,876.4 L398.5,877.2 L401.0,878.0 L403.5,878.9 L406.0,879.7 L408.5,880.6 L411.0,881.5 L413.5,882.5 L416.0,883.4 L418.5,884.4 L421.0,885.4 L423.5,886.4 L426.0,887.5 L428.5,888.5 L431.0,889.6 L433.5,890.8 L436.0,891.9 L438.5,893.1 L441.0,894.3 L443.5,895.5 L446.0,896.8 L448.5,898.0 L451.0,899.4 L453.5,900.7 L456.0,902.1 L458.5,903.5 L461.0,904.9 L463.5,906.3 L466.0,907.8 L468.5,909.3 L471.0,910.9 L473.5,912.5 L476.0,914.1 L478.5,915.7 L481.0,917.4 L483.5,919.1 L486.0,920.8 L488.5,922.6 L491.0,924.4 L493.5,926.2 L496.0,928.1 L498.5,930.0 L501.0,931.9 L503.5,933.9 L506.0,935.9 L508.5,938.0 L511.0,940.1 L513.5,942.2 L516.0,944.3 L518.5,946.5 L521.0,948.8 L523.5,951.0 L526.0,953.3 L528.5,955.7 L531.0,958.1 L533.5,960.5 L536.0,963.0 L538.5,965.5 L541.0,968.0 L543.5,970.6 L546.0,973.2 L548.5,975.9 L551.0,978.6 L553.5,981.3 L556.0,984.0 L558.5,986.8 L561.0,989.6 L563.5,992.5 L566.0,995.3 L568.5,998.2 L571.0,1001.1 L573.5,1004.1 L576.0,1007.0 L578.5,1010.0 L581.0,1013.0 L583.5,1016.0 L586.0,1019.1 L588.5,1022.1 L591.0,1025.2 L593.5,1028.2 L596.0,1031.3 L598.5,1034.4 L601.0,1037.5 L603.5,1040.6 L606.0,1043.7 L608.5,1046.8 L611.0,1049.9 L613.5,1053.0 L616.0,1056.1 L618.5,1059.3 L621.0,1062.4 L623.5,1065.5 L626.0,1068.6 L628.5,1071.6 L631.0,1074.7 L633.5,1077.8 L636.0,1080.9 L638.5,1083.9 L641.0,1086.9 L643.5,1089.9 L646.0,1092.9 L648.5,1095.9 L651.0,1098.9 L653.5,1101.8 L656.0,1104.7 L658.5,1107.6 L661.0,1110.5 L663.5,1113.4 L666.0,1116.2 L668.5,1119.0 L671.0,1121.8 L673.5,1124.6 L676.0,1127.3 L678.5,1130.0 L681.0,1132.7 L683.5,1135.4 L686.0,1138.1 L688.5,1140.7 L691.0,1143.3 L693.5,1145.9 L696.0,1148.4 L698.5,1150.9 L701.0,1153.4 L703.5,1155.9 L706.0,1158.4 L708.5,1160.8 L711.0,1163.2 L713.5,1165.6 L716.0,1167.9 L718.5,1170.3 L721.0,1172.6 L723.5,1174.9 L726.0,1177.1 L728.5,1179.4 L731.0,1181.6 L733.5,1183.8 L736.0,1186.0 L738.5,1188.1 L741.0,1190.3 L743.5,1192.4 L746.0,1194.5 L748.5,1196.6 L751.0,1198.7 L753.5,1200.7 L756.0,1202.8 L758.5,1204.8 L761.0,1206.8 L763.5,1208.8 L766.0,1210.8 L768.5,1212.7 L771.0,1214.7 L773.5,1216.6 L776.0,1218.5 L778.5,1220.4 L781.0,1222.3 L783.5,1224.2 L786.0,1226.1 L788.5,1227.9 L791.0,1229.8 L793.5,1231.6 L796.0,1233.4 L798.5,1235.2 L799.5,1235.9 L799.5,1240.0 L798.5,1239.3 L796.0,1237.6 L793.5,1235.8 L791.0,1234.1 L788.5,1232.3 L786.0,1230.5 L783.5,1228.8 L781.0,1227.0 L778.5,1225.2 L776.0,1223.3 L773.5,1221.5 L771.0,1219.7 L768.5,1217.8 L766.0,1215.9 L763.5,1214.1 L761.0,1212.2 L758.5,1210.3 L756.0,1208.3 L753.5,1206.4 L751.0,1204.4 L748.5,1202.4 L746.0,1200.5 L743.5,1198.4 L741.0,1196.4 L738.5,1194.4 L736.0,1192.3 L733.5,1190.2 L731.0,1188.1 L728.5,1186.0 L726.0,1183.9 L723.5,1181.7 L721.0,1179.5 L718.5,1177.3 L716.0,1175.1 L713.5,1172.8 L711.0,1170.6 L708.5,1168.3 L706.0,1166.0 L703.5,1163.6 L701.0,1161.3 L698.5,1158.9 L696.0,1156.5 L693.5,1154.0 L691.0,1151.6 L688.5,1149.1 L686.0,1146.6 L683.5,1144.0 L681.0,1141.5 L678.5,1138.9 L676.0,1136.3 L673.5,1133.7 L671.0,1131.1 L668.5,1128.4 L666.0,1125.7 L663.5,1123.0 L661.0,1120.3 L658.5,1117.5 L656.0,1114.8 L653.5,1112.0 L651.0,1109.2 L648.5,1106.4 L646.0,1103.5 L643.5,1100.7 L641.0,1097.8 L638.5,1094.9 L636.0,1092.0 L633.5,1089.1 L631.0,1086.1 L628.5,1083.2 L626.0,1080.3 L623.5,1077.3 L621.0,1074.3 L618.5,1071.4 L616.0,1068.4 L613.5,1065.4 L611.0,1062.5 L608.5,1059.5 L606.0,1056.5 L603.5,1053.6 L601.0,1050.6 L598.5,1047.7 L596.0,1044.7 L593.5,1041.8 L591.0,1038.9 L588.5,1035.9 L586.0,1033.0 L583.5,1030.1 L581.0,1027.3 L578.5,1024.4 L576.0,1021.6 L573.5,1018.7 L571.0,1015.9 L568.5,1013.2 L566.0,1010.4 L563.5,1007.7 L561.0,1004.9 L558.5,1002.3 L556.0,999.6 L553.5,997.0 L551.0,994.4 L548.5,991.8 L546.0,989.3 L543.5,986.8 L541.0,984.3 L538.5,981.9 L536.0,979.5 L533.5,977.1 L531.0,974.8 L528.5,972.5 L526.0,970.3 L523.5,968.1 L521.0,965.9 L518.5,963.8 L516.0,961.7 L513.5,959.7 L511.0,957.6 L508.5,955.7 L506.0,953.7 L503.5,951.8 L501.0,949.9 L498.5,948.0 L496.0,946.2 L493.5,944.4 L491.0,942.7 L488.5,941.0 L486.0,939.3 L483.5,937.6 L481.0,936.0 L478.5,934.4 L476.0,932.8 L473.5,931.3 L471.0,929.8 L468.5,928.3 L466.0,926.9 L463.5,925.5 L461.0,924.1 L458.5,922.7 L456.0,921.4 L453.5,920.1 L451.0,918.8 L448.5,917.6 L446.0,916.3 L443.5,915.1 L441.0,914.0 L438.5,912.8 L436.0,911.7 L433.5,910.6 L431.0,909.5 L428.5,908.5 L426.0,907.5 L423.5,906.5 L421.0,905.5 L418.5,904.5 L416.0,903.6 L413.5,902.7 L411.0,901.8 L408.5,900.9 L406.0,900.1 L403.5,899.3 L401.0,898.5 L398.5,897.7 L396.0,896.9 L393.5,896.2 L391.0,895.5 L388.5,894.7 L386.0,894.1 L383.5,893.4 L381.0,892.7 L378.5,892.1 L376.0,891.5 L373.5,890.9 L371.0,890.3 L368.5,889.8 L366.0,889.2 L363.5,888.7 L361.0,888.2 L358.5,887.7 L356.0,887.2 L353.5,886.7 L351.0,886.3 L348.5,885.8 L346.0,885.4 L343.5,885.0 L341.0,884.6 L338.5,884.2 L336.0,883.8 L333.5,883.5 L331.0,883.1 L328.5,882.8 L326.0,882.5 L323.5,882.2 L321.0,881.9 L318.5,881.6 L316.0,881.3 L313.5,881.1 L311.0,880.8 L308.5,880.6 L306.0,880.3 L303.5,880.1 L301.0,879.9 L298.5,879.7 L296.0,879.5 L293.5,879.3 L291.0,879.1 L288.5,879.0 L286.0,878.8 L283.5,878.7 L281.0,878.5 L278.5,878.4 L276.0,878.3 L273.5,878.1 L271.0,878.0 L268.5,877.9 L266.0,877.8 L263.5,877.7 L261.0,877.6 L258.5,877.5 L256.0,877.4 L253.5,877.4 L251.0,877.3 L248.5,877.2 L246.0,877.2 L243.5,877.1 L241.0,877.0 L238.5,877.0 L236.0,876.9 L233.5,876.9 L231.0,876.8 L228.5,876.8 L226.0,876.7 L223.5,876.7 L221.0,876.7 L218.5,876.6 L216.0,876.6 L213.5,876.5 L211.0,876.5 L208.5,876.5 L206.0,876.4 L203.5,876.4 L201.0,876.3 L198.5,876.3 L196.0,876.2 L193.5,876.2 L191.0,876.1 L188.5,876.1 L186.0,876.0 L183.5,876.0 L181.0,875.9 L178.5,875.9 L176.0,875.8 L173.5,875.7 L171.0,875.7 L168.5,875.6 L166.0,875.5 L163.5,875.4 L161.0,875.3 L158.5,875.2 L156.0,875.1 L153.5,875.0 L151.0,874.9 L148.5,874.8 L146.0,874.7 L143.5,874.5 L141.0,874.4 L138.5,874.2 L136.0,874.1 L133.5,873.9 L131.0,873.7 L128.5,873.6 L126.0,873.4 L123.5,873.2 L121.0,873.0 L118.5,872.7 L116.0,872.5 L113.5,872.3 L111.0,872.0Z" fill="url(#hatch)"/>
<path d="M111.0,872.0 L113.5,872.3 L116.0,872.5 L118.5,872.7 L121.0,873.0 L123.5,873.2 L126.0,873.4 L128.5,873.6 L131.0,873.7 L133.5,873.9 L136.0,874.1 L138.5,874.2 L141.0,874.4 L143.5,874.5 L146.0,874.7 L148.5,874.8 L151.0,874.9 L153.5,875.0 L156.0,875.1 L158.5,875.2 L161.0,875.3 L163.5,875.4 L166.0,875.5 L168.5,875.6 L171.0,875.7 L173.5,875.7 L176.0,875.8 L178.5,875.9 L181.0,875.9 L183.5,876.0 L186.0,876.0 L188.5,876.1 L191.0,876.1 L193.5,876.2 L196.0,876.2 L198.5,876.3 L201.0,876.3 L203.5,876.4 L206.0,876.4 L208.5,876.5 L211.0,876.5 L213.5,876.5 L216.0,876.6 L218.5,876.6 L221.0,876.7 L223.5,876.7 L226.0,876.7 L228.5,876.8 L231.0,876.8 L233.5,876.9 L236.0,876.9 L238.5,877.0 L241.0,877.0 L243.5,877.1 L246.0,877.2 L248.5,877.2 L251.0,877.3 L253.5,877.4 L256.0,877.4 L258.5,877.5 L261.0,877.6 L263.5,877.7 L266.0,877.8 L268.5,877.9 L271.0,878.0 L273.5,878.1 L276.0,878.3 L278.5,878.4 L281.0,878.5 L283.5,878.7 L286.0,878.8 L288.5,879.0 L291.0,879.1 L293.5,879.3 L296.0,879.5 L298.5,879.7 L301.0,879.9 L303.5,880.1 L306.0,880.3 L308.5,880.6 L311.0,880.8 L313.5,881.1 L316.0,881.3 L318.5,881.6 L321.0,881.9 L323.5,882.2 L326.0,882.5 L328.5,882.8 L331.0,883.1 L333.5,883.5 L336.0,883.8 L338.5,884.2 L341.0,884.6 L343.5,885.0 L346.0,885.4 L348.5,885.8 L351.0,886.3 L353.5,886.7 L356.0,887.2 L358.5,887.7 L361.0,888.2 L363.5,888.7 L366.0,889.2 L368.5,889.8 L371.0,890.3 L373.5,890.9 L376.0,891.5 L378.5,892.1 L381.0,892.7 L383.5,893.4 L386.0,894.1 L388.5,894.7 L391.0,895.5 L393.5,896.2 L396.0,896.9 L398.5,897.7 L401.0,898.5 L403.5,899.3 L406.0,900.1 L408.5,900.9 L411.0,901.8 L413.5,902.7 L416.0,903.6 L418.5,904.5 L421.0,905.5 L423.5,906.5 L426.0,907.5 L428.5,908.5 L431.0,909.5 L433.5,910.6 L436.0,911.7 L438.5,912.8 L441.0,914.0 L443.5,915.1 L446.0,916.3 L448.5,917.6 L451.0,918.8 L453.5,920.1 L456.0,921.4 L458.5,922.7 L461.0,924.1 L463.5,925.5 L466.0,926.9 L468.5,928.3 L471.0,929.8 L473.5,931.3 L476.0,932.8 L478.5,934.4 L481.0,936.0 L483.5,937.6 L486.0,939.3 L488.5,941.0 L491.0,942.7 L493.5,944.4 L496.0,946.2 L498.5,948.0 L501.0,949.9 L503.5,951.8 L506.0,953.7 L508.5,955.7 L511.0,957.6 L513.5,959.7 L516.0,961.7 L518.5,963.8 L521.0,965.9 L523.5,968.1 L526.0,970.3 L528.5,972.5 L531.0,974.8 L533.5,977.1 L536.0,979.5 L538.5,981.9 L541.0,984.3 L543.5,986.8 L546.0,989.3 L548.5,991.8 L551.0,994.4 L553.5,997.0 L556.0,999.6 L558.5,1002.3 L561.0,1004.9 L563.5,1007.7 L566.0,1010.4 L568.5,1013.2 L571.0,1015.9 L573.5,1018.7 L576.0,1021.6 L578.5,1024.4 L581.0,1027.3 L583.5,1030.1 L586.0,1033.0 L588.5,1035.9 L591.0,1038.9 L593.5,1041.8 L596.0,1044.7 L598.5,1047.7 L601.0,1050.6 L603.5,1053.6 L606.0,1056.5 L608.5,1059.5 L611.0,1062.5 L613.5,1065.4 L616.0,1068.4 L618.5,1071.4 L621.0,1074.3 L623.5,1077.3 L626.0,1080.3 L628.5,1083.2 L631.0,1086.1 L633.5,1089.1 L636.0,1092.0 L638.5,1094.9 L641.0,1097.8 L643.5,1100.7 L646.0,1103.5 L648.5,1106.4 L651.0,1109.2 L653.5,1112.0 L656.0,1114.8 L658.5,1117.5 L661.0,1120.3 L663.5,1123.0 L666.0,1125.7 L668.5,1128.4 L671.0,1131.1 L673.5,1133.7 L676.0,1136.3 L678.5,1138.9 L681.0,1141.5 L683.5,1144.0 L686.0,1146.6 L688.5,1149.1 L691.0,1151.6 L693.5,1154.0 L696.0,1156.5 L698.5,1158.9 L701.0,1161.3 L703.5,1163.6 L706.0,1166.0 L708.5,1168.3 L711.0,1170.6 L713.5,1172.8 L716.0,1175.1 L718.5,1177.3 L721.0,1179.5 L723.5,1181.7 L726.0,1183.9 L728.5,1186.0 L731.0,1188.1 L733.5,1190.2 L736.0,1192.3 L738.5,1194.4 L741.0,1196.4 L743.5,1198.4 L746.0,1200.5 L748.5,1202.4 L751.0,1204.4 L753.5,1206.4 L756.0,1208.3 L758.5,1210.3 L761.0,1212.2 L763.5,1214.1 L766.0,1215.9 L768.5,1217.8 L771.0,1219.7 L773.5,1221.5 L776.0,1223.3 L778.5,1225.2 L781.0,1227.0 L783.5,1228.8 L786.0,1230.5 L788.5,1232.3 L791.0,1234.1 L793.5,1235.8 L796.0,1237.6 L798.5,1239.3 L799.5,1240.0 L799.5,1313.4 L798.5,1313.2 L796.0,1312.6 L793.5,1312.1 L791.0,1311.6 L788.5,1311.1 L786.0,1310.6 L783.5,1310.1 L781.0,1309.7 L778.5,1309.2 L776.0,1308.8 L773.5,1308.4 L771.0,1308.0 L768.5,1307.6 L766.0,1307.2 L763.5,1306.8 L761.0,1306.4 L758.5,1306.1 L756.0,1305.7 L753.5,1305.3 L751.0,1305.0 L748.5,1304.6 L746.0,1304.2 L743.5,1303.9 L741.0,1303.5 L738.5,1303.1 L736.0,1302.8 L733.5,1302.4 L731.0,1302.0 L728.5,1301.6 L726.0,1301.2 L723.5,1300.8 L721.0,1300.4 L718.5,1300.0 L716.0,1299.6 L713.5,1299.1 L711.0,1298.7 L708.5,1298.2 L706.0,1297.8 L703.5,1297.3 L701.0,1296.8 L698.5,1296.3 L696.0,1295.8 L693.5,1295.3 L691.0,1294.8 L688.5,1294.3 L686.0,1293.8 L683.5,1293.3 L681.0,1292.7 L678.5,1292.2 L676.0,1291.6 L673.5,1291.1 L671.0,1290.6 L668.5,1290.0 L666.0,1289.4 L663.5,1288.9 L661.0,1288.3 L658.5,1287.8 L656.0,1287.2 L653.5,1286.6 L651.0,1286.1 L648.5,1285.5 L646.0,1284.9 L643.5,1284.4 L641.0,1283.8 L638.5,1283.2 L636.0,1282.6 L633.5,1282.1 L631.0,1281.5 L628.5,1280.9 L626.0,1280.4 L623.5,1279.8 L621.0,1279.3 L618.5,1278.7 L616.0,1278.2 L613.5,1277.6 L611.0,1277.1 L608.5,1276.5 L606.0,1276.0 L603.5,1275.5 L601.0,1275.0 L598.5,1274.4 L596.0,1273.9 L593.5,1273.4 L591.0,1272.9 L588.5,1272.4 L586.0,1271.9 L583.5,1271.4 L581.0,1271.0 L578.5,1270.5 L576.0,1270.0 L573.5,1269.6 L571.0,1269.1 L568.5,1268.7 L566.0,1268.2 L563.5,1267.8 L561.0,1267.4 L558.5,1266.9 L556.0,1266.5 L553.5,1266.1 L551.0,1265.7 L548.5,1265.3 L546.0,1264.9 L543.5,1264.5 L541.0,1264.1 L538.5,1263.7 L536.0,1263.3 L533.5,1262.9 L531.0,1262.6 L528.5,1262.2 L526.0,1261.8 L523.5,1261.5 L521.0,1261.1 L518.5,1260.8 L516.0,1260.4 L513.5,1260.1 L511.0,1259.8 L508.5,1259.4 L506.0,1259.1 L503.5,1258.8 L501.0,1258.5 L498.5,1258.2 L496.0,1257.9 L493.5,1257.6 L491.0,1257.3 L488.5,1257.0 L486.0,1256.7 L483.5,1256.4 L481.0,1256.1 L478.5,1255.9 L476.0,1255.6 L473.5,1255.3 L471.0,1255.1 L468.5,1254.8 L466.0,1254.6 L463.5,1254.3 L461.0,1254.1 L458.5,1253.8 L456.0,1253.6 L453.5,1253.4 L451.0,1253.1 L448.5,1252.9 L446.0,1252.7 L443.5,1252.5 L441.0,1252.3 L438.5,1252.0 L436.0,1251.8 L433.5,1251.6 L431.0,1251.4 L428.5,1251.2 L426.0,1251.1 L423.5,1250.9 L421.0,1250.7 L418.5,1250.5 L416.0,1250.3 L413.5,1250.2 L411.0,1250.0 L408.5,1249.8 L406.0,1249.7 L403.5,1249.5 L401.0,1249.4 L398.5,1249.2 L396.0,1249.1 L393.5,1248.9 L391.0,1248.8 L388.5,1248.6 L386.0,1248.5 L383.5,1248.4 L381.0,1248.2 L378.5,1248.1 L376.0,1248.0 L373.5,1247.9 L371.0,1247.7 L368.5,1247.6 L366.0,1247.5 L363.5,1247.4 L361.0,1247.3 L358.5,1247.2 L356.0,1247.1 L353.5,1247.0 L351.0,1246.9 L348.5,1246.8 L346.0,1246.7 L343.5,1246.7 L341.0,1246.6 L338.5,1246.5 L336.0,1246.4 L333.5,1246.3 L331.0,1246.3 L328.5,1246.2 L326.0,1246.1 L323.5,1246.1 L321.0,1246.0 L318.5,1245.9 L316.0,1245.9 L313.5,1245.8 L311.0,1245.8 L308.5,1245.7 L306.0,1245.7 L303.5,1245.6 L301.0,1245.6 L298.5,1245.5 L296.0,1245.5 L293.5,1245.4 L291.0,1245.4 L288.5,1245.4 L286.0,1245.3 L283.5,1245.3 L281.0,1245.3 L278.5,1245.2 L276.0,1245.2 L273.5,1245.2 L271.0,1245.2 L268.5,1245.1 L266.0,1245.1 L263.5,1245.1 L261.0,1245.1 L258.5,1245.1 L256.0,1245.1 L253.5,1245.0 L251.0,1245.0 L248.5,1245.0 L246.0,1245.0 L243.5,1245.0 L241.0,1245.0 L238.5,1245.0 L236.0,1245.0 L233.5,1245.0 L231.0,1245.0 L228.5,1245.0 L226.0,1245.0 L223.5,1245.0 L221.0,1245.0 L218.5,1245.0 L216.0,1245.0 L213.5,1245.0 L211.0,1245.0 L208.5,1245.0 L206.0,1245.1 L203.5,1245.1 L201.0,1245.1 L198.5,1245.1 L196.0,1245.1 L193.5,1245.1 L191.0,1245.1 L188.5,1245.2 L186.0,1245.2 L183.5,1245.2 L181.0,1245.2 L178.5,1245.2 L176.0,1245.2 L173.5,1245.3 L171.0,1245.3 L168.5,1245.3 L166.0,1245.3 L163.5,1245.3 L161.0,1245.4 L158.5,1245.4 L156.0,1245.4 L153.5,1245.4 L151.0,1245.4 L148.5,1245.5 L146.0,1245.5 L143.5,1245.5 L141.0,1245.5 L138.5,1245.6 L136.0,1245.6 L133.5,1245.6 L131.0,1245.6 L128.5,1245.7 L126.0,1245.7 L123.5,1245.7 L121.0,1245.7 L118.5,1245.7 L116.0,1245.8 L113.5,1245.8 L111.0,1245.8Z" fill="#52b7a5"/>
<path d="M111.0,1245.8 L113.5,1245.8 L116.0,1245.8 L118.5,1245.7 L121.0,1245.7 L123.5,1245.7 L126.0,1245.7 L128.5,1245.7 L131.0,1245.6 L133.5,1245.6 L136.0,1245.6 L138.5,1245.6 L141.0,1245.5 L143.5,1245.5 L146.0,1245.5 L148.5,1245.5 L151.0,1245.4 L153.5,1245.4 L156.0,1245.4 L158.5,1245.4 L161.0,1245.4 L163.5,1245.3 L166.0,1245.3 L168.5,1245.3 L171.0,1245.3 L173.5,1245.3 L176.0,1245.2 L178.5,1245.2 L181.0,1245.2 L183.5,1245.2 L186.0,1245.2 L188.5,1245.2 L191.0,1245.1 L193.5,1245.1 L196.0,1245.1 L198.5,1245.1 L201.0,1245.1 L203.5,1245.1 L206.0,1245.1 L208.5,1245.0 L211.0,1245.0 L213.5,1245.0 L216.0,1245.0 L218.5,1245.0 L221.0,1245.0 L223.5,1245.0 L226.0,1245.0 L228.5,1245.0 L231.0,1245.0 L233.5,1245.0 L236.0,1245.0 L238.5,1245.0 L241.0,1245.0 L243.5,1245.0 L246.0,1245.0 L248.5,1245.0 L251.0,1245.0 L253.5,1245.0 L256.0,1245.1 L258.5,1245.1 L261.0,1245.1 L263.5,1245.1 L266.0,1245.1 L268.5,1245.1 L271.0,1245.2 L273.5,1245.2 L276.0,1245.2 L278.5,1245.2 L281.0,1245.3 L283.5,1245.3 L286.0,1245.3 L288.5,1245.4 L291.0,1245.4 L293.5,1245.4 L296.0,1245.5 L298.5,1245.5 L301.0,1245.6 L303.5,1245.6 L306.0,1245.7 L308.5,1245.7 L311.0,1245.8 L313.5,1245.8 L316.0,1245.9 L318.5,1245.9 L321.0,1246.0 L323.5,1246.1 L326.0,1246.1 L328.5,1246.2 L331.0,1246.3 L333.5,1246.3 L336.0,1246.4 L338.5,1246.5 L341.0,1246.6 L343.5,1246.7 L346.0,1246.7 L348.5,1246.8 L351.0,1246.9 L353.5,1247.0 L356.0,1247.1 L358.5,1247.2 L361.0,1247.3 L363.5,1247.4 L366.0,1247.5 L368.5,1247.6 L371.0,1247.7 L373.5,1247.9 L376.0,1248.0 L378.5,1248.1 L381.0,1248.2 L383.5,1248.4 L386.0,1248.5 L388.5,1248.6 L391.0,1248.8 L393.5,1248.9 L396.0,1249.1 L398.5,1249.2 L401.0,1249.4 L403.5,1249.5 L406.0,1249.7 L408.5,1249.8 L411.0,1250.0 L413.5,1250.2 L416.0,1250.3 L418.5,1250.5 L421.0,1250.7 L423.5,1250.9 L426.0,1251.1 L428.5,1251.2 L431.0,1251.4 L433.5,1251.6 L436.0,1251.8 L438.5,1252.0 L441.0,1252.3 L443.5,1252.5 L446.0,1252.7 L448.5,1252.9 L451.0,1253.1 L453.5,1253.4 L456.0,1253.6 L458.5,1253.8 L461.0,1254.1 L463.5,1254.3 L466.0,1254.6 L468.5,1254.8 L471.0,1255.1 L473.5,1255.3 L476.0,1255.6 L478.5,1255.9 L481.0,1256.1 L483.5,1256.4 L486.0,1256.7 L488.5,1257.0 L491.0,1257.3 L493.5,1257.6 L496.0,1257.9 L498.5,1258.2 L501.0,1258.5 L503.5,1258.8 L506.0,1259.1 L508.5,1259.4 L511.0,1259.8 L513.5,1260.1 L516.0,1260.4 L518.5,1260.8 L521.0,1261.1 L523.5,1261.5 L526.0,1261.8 L528.5,1262.2 L531.0,1262.6 L533.5,1262.9 L536.0,1263.3 L538.5,1263.7 L541.0,1264.1 L543.5,1264.5 L546.0,1264.9 L548.5,1265.3 L551.0,1265.7 L553.5,1266.1 L556.0,1266.5 L558.5,1266.9 L561.0,1267.4 L563.5,1267.8 L566.0,1268.2 L568.5,1268.7 L571.0,1269.1 L573.5,1269.6 L576.0,1270.0 L578.5,1270.5 L581.0,1271.0 L583.5,1271.4 L586.0,1271.9 L588.5,1272.4 L591.0,1272.9 L593.5,1273.4 L596.0,1273.9 L598.5,1274.4 L601.0,1275.0 L603.5,1275.5 L606.0,1276.0 L608.5,1276.5 L611.0,1277.1 L613.5,1277.6 L616.0,1278.2 L618.5,1278.7 L621.0,1279.3 L623.5,1279.8 L626.0,1280.4 L628.5,1280.9 L631.0,1281.5 L633.5,1282.1 L636.0,1282.6 L638.5,1283.2 L641.0,1283.8 L643.5,1284.4 L646.0,1284.9 L648.5,1285.5 L651.0,1286.1 L653.5,1286.6 L656.0,1287.2 L658.5,1287.8 L661.0,1288.3 L663.5,1288.9 L666.0,1289.4 L668.5,1290.0 L671.0,1290.6 L673.5,1291.1 L676.0,1291.6 L678.5,1292.2 L681.0,1292.7 L683.5,1293.3 L686.0,1293.8 L688.5,1294.3 L691.0,1294.8 L693.5,1295.3 L696.0,1295.8 L698.5,1296.3 L701.0,1296.8 L703.5,1297.3 L706.0,1297.8 L708.5,1298.2 L711.0,1298.7 L713.5,1299.1 L716.0,1299.6 L718.5,1300.0 L721.0,1300.4 L723.5,1300.8 L726.0,1301.2 L728.5,1301.6 L731.0,1302.0 L733.5,1302.4 L736.0,1302.8 L738.5,1303.1 L741.0,1303.5 L743.5,1303.9 L746.0,1304.2 L748.5,1304.6 L751.0,1305.0 L753.5,1305.3 L756.0,1305.7 L758.5,1306.1 L761.0,1306.4 L763.5,1306.8 L766.0,1307.2 L768.5,1307.6 L771.0,1308.0 L773.5,1308.4 L776.0,1308.8 L778.5,1309.2 L781.0,1309.7 L783.5,1310.1 L786.0,1310.6 L788.5,1311.1 L791.0,1311.6 L793.5,1312.1 L796.0,1312.6 L798.5,1313.2 L799.5,1313.4 L799.5,1324.0 L798.5,1324.0 L796.0,1324.0 L793.5,1324.0 L791.0,1324.0 L788.5,1324.0 L786.0,1324.0 L783.5,1324.0 L781.0,1324.0 L778.5,1324.0 L776.0,1324.0 L773.5,1324.0 L771.0,1324.0 L768.5,1324.0 L766.0,1324.0 L763.5,1324.0 L761.0,1324.0 L758.5,1324.0 L756.0,1324.0 L753.5,1324.0 L751.0,1324.0 L748.5,1324.0 L746.0,1324.0 L743.5,1324.0 L741.0,1324.0 L738.5,1324.0 L736.0,1324.0 L733.5,1324.0 L731.0,1324.0 L728.5,1324.0 L726.0,1324.0 L723.5,1324.0 L721.0,1324.0 L718.5,1324.0 L716.0,1324.0 L713.5,1324.0 L711.0,1324.0 L708.5,1324.0 L706.0,1324.0 L703.5,1324.0 L701.0,1324.0 L698.5,1324.0 L696.0,1324.0 L693.5,1324.0 L691.0,1324.0 L688.5,1324.0 L686.0,1324.0 L683.5,1324.0 L681.0,1324.0 L678.5,1324.0 L676.0,1324.0 L673.5,1324.0 L671.0,1324.0 L668.5,1324.0 L666.0,1324.0 L663.5,1324.0 L661.0,1324.0 L658.5,1324.0 L656.0,1324.0 L653.5,1324.0 L651.0,1324.0 L648.5,1324.0 L646.0,1324.0 L643.5,1324.0 L641.0,1324.0 L638.5,1324.0 L636.0,1324.0 L633.5,1324.0 L631.0,1324.0 L628.5,1324.0 L626.0,1324.0 L623.5,1324.0 L621.0,1324.0 L618.5,1324.0 L616.0,1324.0 L613.5,1324.0 L611.0,1324.0 L608.5,1324.0 L606.0,1324.0 L603.5,1324.0 L601.0,1324.0 L598.5,1324.0 L596.0,1324.0 L593.5,1324.0 L591.0,1324.0 L588.5,1324.0 L586.0,1324.0 L583.5,1324.0 L581.0,1324.0 L578.5,1324.0 L576.0,1324.0 L573.5,1324.0 L571.0,1324.0 L568.5,1324.0 L566.0,1324.0 L563.5,1324.0 L561.0,1324.0 L558.5,1324.0 L556.0,1324.0 L553.5,1324.0 L551.0,1324.0 L548.5,1324.0 L546.0,1324.0 L543.5,1324.0 L541.0,1324.0 L538.5,1324.0 L536.0,1324.0 L533.5,1324.0 L531.0,1324.0 L528.5,1324.0 L526.0,1324.0 L523.5,1324.0 L521.0,1324.0 L518.5,1324.0 L516.0,1324.0 L513.5,1324.0 L511.0,1324.0 L508.5,1324.0 L506.0,1324.0 L503.5,1324.0 L501.0,1324.0 L498.5,1324.0 L496.0,1324.0 L493.5,1324.0 L491.0,1324.0 L488.5,1324.0 L486.0,1324.0 L483.5,1324.0 L481.0,1324.0 L478.5,1324.0 L476.0,1324.0 L473.5,1324.0 L471.0,1324.0 L468.5,1324.0 L466.0,1324.0 L463.5,1324.0 L461.0,1324.0 L458.5,1324.0 L456.0,1324.0 L453.5,1324.0 L451.0,1324.0 L448.5,1324.0 L446.0,1324.0 L443.5,1324.0 L441.0,1324.0 L438.5,1324.0 L436.0,1324.0 L433.5,1324.0 L431.0,1324.0 L428.5,1324.0 L426.0,1324.0 L423.5,1324.0 L421.0,1324.0 L418.5,1324.0 L416.0,1324.0 L413.5,1324.0 L411.0,1324.0 L408.5,1324.0 L406.0,1324.0 L403.5,1324.0 L401.0,1324.0 L398.5,1324.0 L396.0,1324.0 L393.5,1324.0 L391.0,1324.0 L388.5,1324.0 L386.0,1324.0 L383.5,1324.0 L381.0,1324.0 L378.5,1324.0 L376.0,1324.0 L373.5,1324.0 L371.0,1324.0 L368.5,1324.0 L366.0,1324.0 L363.5,1324.0 L361.0,1324.0 L358.5,1324.0 L356.0,1324.0 L353.5,1324.0 L351.0,1324.0 L348.5,1324.0 L346.0,1324.0 L343.5,1324.0 L341.0,1324.0 L338.5,1324.0 L336.0,1324.0 L333.5,1324.0 L331.0,1324.0 L328.5,1324.0 L326.0,1324.0 L323.5,1324.0 L321.0,1324.0 L318.5,1324.0 L316.0,1324.0 L313.5,1324.0 L311.0,1324.0 L308.5,1324.0 L306.0,1324.0 L303.5,1324.0 L301.0,1324.0 L298.5,1324.0 L296.0,1324.0 L293.5,1324.0 L291.0,1324.0 L288.5,1324.0 L286.0,1324.0 L283.5,1324.0 L281.0,1324.0 L278.5,1324.0 L276.0,1324.0 L273.5,1324.0 L271.0,1324.0 L268.5,1324.0 L266.0,1324.0 L263.5,1324.0 L261.0,1324.0 L258.5,1324.0 L256.0,1324.0 L253.5,1324.0 L251.0,1324.0 L248.5,1324.0 L246.0,1324.0 L243.5,1324.0 L241.0,1324.0 L238.5,1324.0 L236.0,1324.0 L233.5,1324.0 L231.0,1324.0 L228.5,1324.0 L226.0,1324.0 L223.5,1324.0 L221.0,1324.0 L218.5,1324.0 L216.0,1324.0 L213.5,1324.0 L211.0,1324.0 L208.5,1324.0 L206.0,1324.0 L203.5,1324.0 L201.0,1324.0 L198.5,1324.0 L196.0,1324.0 L193.5,1324.0 L191.0,1324.0 L188.5,1324.0 L186.0,1324.0 L183.5,1324.0 L181.0,1324.0 L178.5,1324.0 L176.0,1324.0 L173.5,1324.0 L171.0,1324.0 L168.5,1324.0 L166.0,1324.0 L163.5,1324.0 L161.0,1324.0 L158.5,1324.0 L156.0,1324.0 L153.5,1324.0 L151.0,1324.0 L148.5,1324.0 L146.0,1324.0 L143.5,1324.0 L141.0,1324.0 L138.5,1324.0 L136.0,1324.0 L133.5,1324.0 L131.0,1324.0 L128.5,1324.0 L126.0,1324.0 L123.5,1324.0 L121.0,1324.0 L118.5,1324.0 L116.0,1324.0 L113.5,1324.0 L111.0,1324.0Z" fill="#99fe98"/>
<polyline points="111.0,872.0 113.5,872.3 116.0,872.5 118.5,872.7 121.0,873.0 123.5,873.2 126.0,873.4 128.5,873.6 131.0,873.7 133.5,873.9 136.0,874.1 138.5,874.2 141.0,874.4 143.5,874.5 146.0,874.7 148.5,874.8 151.0,874.9 153.5,875.0 156.0,875.1 158.5,875.2 161.0,875.3 163.5,875.4 166.0,875.5 168.5,875.6 171.0,875.7 173.5,875.7 176.0,875.8 178.5,875.9 181.0,875.9 183.5,876.0 186.0,876.0 188.5,876.1 191.0,876.1 193.5,876.2 196.0,876.2 198.5,876.3 201.0,876.3 203.5,876.4 206.0,876.4 208.5,876.5 211.0,876.5 213.5,876.5 216.0,876.6 218.5,876.6 221.0,876.7 223.5,876.7 226.0,876.7 228.5,876.8 231.0,876.8 233.5,876.9 236.0,876.9 238.5,877.0 241.0,877.0 243.5,877.1 246.0,877.2 248.5,877.2 251.0,877.3 253.5,877.4 256.0,877.4 258.5,877.5 261.0,877.6 263.5,877.7 266.0,877.8 268.5,877.9 271.0,878.0 273.5,878.1 276.0,878.3 278.5,878.4 281.0,878.5 283.5,878.7 286.0,878.8 288.5,879.0 291.0,879.1 293.5,879.3 296.0,879.5 298.5,879.7 301.0,879.9 303.5,880.1 306.0,880.3 308.5,880.6 311.0,880.8 313.5,881.1 316.0,881.3 318.5,881.6 321.0,881.9 323.5,882.2 326.0,882.5 328.5,882.8 331.0,883.1 333.5,883.5 336.0,883.8 338.5,884.2 341.0,884.6 343.5,885.0 346.0,885.4 348.5,885.8 351.0,886.3 353.5,886.7 356.0,887.2 358.5,887.7 361.0,888.2 363.5,888.7 366.0,889.2 368.5,889.8 371.0,890.3 373.5,890.9 376.0,891.5 378.5,892.1 381.0,892.7 383.5,893.4 386.0,894.1 388.5,894.7 391.0,895.5 393.5,896.2 396.0,896.9 398.5,897.7 401.0,898.5 403.5,899.3 406.0,900.1 408.5,900.9 411.0,901.8 413.5,902.7 416.0,903.6 418.5,904.5 421.0,905.5 423.5,906.5 426.0,907.5 428.5,908.5 431.0,909.5 433.5,910.6 436.0,911.7 438.5,912.8 441.0,914.0 443.5,915.1 446.0,916.3 448.5,917.6 451.0,918.8 453.5,920.1 456.0,921.4 458.5,922.7 461.0,924.1 463.5,925.5 466.0,926.9 468.5,928.3 471.0,929.8 473.5,931.3 476.0,932.8 478.5,934.4 481.0,936.0 483.5,937.6 486.0,939.3 488.5,941.0 491.0,942.7 493.5,944.4 496.0,946.2 498.5,948.0 501.0,949.9 503.5,951.8 506.0,953.7 508.5,955.7 511.0,957.6 513.5,959.7 516.0,961.7 518.5,963.8 521.0,965.9 523.5,968.1 526.0,970.3 528.5,972.5 531.0,974.8 533.5,977.1 536.0,979.5 538.5,981.9 541.0,984.3 543.5,986.8 546.0,989.3 548.5,991.8 551.0,994.4 553.5,997.0 556.0,999.6 558.5,1002.3 561.0,1004.9 563.5,1007.7 566.0,1010.4 568.5,1013.2 571.0,1015.9 573.5,1018.7 576.0,1021.6 578.5,1024.4 581.0,1027.3 583.5,1030.1 586.0,1033.0 588.5,1035.9 591.0,1038.9 593.5,1041.8 596.0,1044.7 598.5,1047.7 601.0,1050.6 603.5,1053.6 606.0,1056.5 608.5,1059.5 611.0,1062.5 613.5,1065.4 616.0,1068.4 618.5,1071.4 621.0,1074.3 623.5,1077.3 626.0,1080.3 628.5,1083.2 631.0,1086.1 633.5,1089.1 636.0,1092.0 638.5,1094.9 641.0,1097.8 643.5,1100.7 646.0,1103.5 648.5,1106.4 651.0,1109.2 653.5,1112.0 656.0,1114.8 658.5,1117.5 661.0,1120.3 663.5,1123.0 666.0,1125.7 668.5,1128.4 671.0,1131.1 673.5,1133.7 676.0,1136.3 678.5,1138.9 681.0,1141.5 683.5,1144.0 686.0,1146.6 688.5,1149.1 691.0,1151.6 693.5,1154.0 696.0,1156.5 698.5,1158.9 701.0,1161.3 703.5,1163.6 706.0,1166.0 708.5,1168.3 711.0,1170.6 713.5,1172.8 716.0,1175.1 718.5,1177.3 721.0,1179.5 723.5,1181.7 726.0,1183.9 728.5,1186.0 731.0,1188.1 733.5,1190.2 736.0,1192.3 738.5,1194.4 741.0,1196.4 743.5,1198.4 746.0,1200.5 748.5,1202.4 751.0,1204.4 753.5,1206.4 756.0,1208.3 758.5,1210.3 761.0,1212.2 763.5,1214.1 766.0,1215.9 768.5,1217.8 771.0,1219.7 773.5,1221.5 776.0,1223.3 778.5,1225.2 781.0,1227.0 783.5,1228.8 786.0,1230.5 788.5,1232.3 791.0,1234.1 793.5,1235.8 796.0,1237.6 798.5,1239.3 799.5,1240.0" fill="none" stroke="#5a5a5a" stroke-width="3" stroke-linejoin="round" />
<polyline points="111.0,1245.8 113.5,1245.8 116.0,1245.8 118.5,1245.7 121.0,1245.7 123.5,1245.7 126.0,1245.7 128.5,1245.7 131.0,1245.6 133.5,1245.6 136.0,1245.6 138.5,1245.6 141.0,1245.5 143.5,1245.5 146.0,1245.5 148.5,1245.5 151.0,1245.4 153.5,1245.4 156.0,1245.4 158.5,1245.4 161.0,1245.4 163.5,1245.3 166.0,1245.3 168.5,1245.3 171.0,1245.3 173.5,1245.3 176.0,1245.2 178.5,1245.2 181.0,1245.2 183.5,1245.2 186.0,1245.2 188.5,1245.2 191.0,1245.1 193.5,1245.1 196.0,1245.1 198.5,1245.1 201.0,1245.1 203.5,1245.1 206.0,1245.1 208.5,1245.0 211.0,1245.0 213.5,1245.0 216.0,1245.0 218.5,1245.0 221.0,1245.0 223.5,1245.0 226.0,1245.0 228.5,1245.0 231.0,1245.0 233.5,1245.0 236.0,1245.0 238.5,1245.0 241.0,1245.0 243.5,1245.0 246.0,1245.0 248.5,1245.0 251.0,1245.0 253.5,1245.0 256.0,1245.1 258.5,1245.1 261.0,1245.1 263.5,1245.1 266.0,1245.1 268.5,1245.1 271.0,1245.2 273.5,1245.2 276.0,1245.2 278.5,1245.2 281.0,1245.3 283.5,1245.3 286.0,1245.3 288.5,1245.4 291.0,1245.4 293.5,1245.4 296.0,1245.5 298.5,1245.5 301.0,1245.6 303.5,1245.6 306.0,1245.7 308.5,1245.7 311.0,1245.8 313.5,1245.8 316.0,1245.9 318.5,1245.9 321.0,1246.0 323.5,1246.1 326.0,1246.1 328.5,1246.2 331.0,1246.3 333.5,1246.3 336.0,1246.4 338.5,1246.5 341.0,1246.6 343.5,1246.7 346.0,1246.7 348.5,1246.8 351.0,1246.9 353.5,1247.0 356.0,1247.1 358.5,1247.2 361.0,1247.3 363.5,1247.4 366.0,1247.5 368.5,1247.6 371.0,1247.7 373.5,1247.9 376.0,1248.0 378.5,1248.1 381.0,1248.2 383.5,1248.4 386.0,1248.5 388.5,1248.6 391.0,1248.8 393.5,1248.9 396.0,1249.1 398.5,1249.2 401.0,1249.4 403.5,1249.5 406.0,1249.7 408.5,1249.8 411.0,1250.0 413.5,1250.2 416.0,1250.3 418.5,1250.5 421.0,1250.7 423.5,1250.9 426.0,1251.1 428.5,1251.2 431.0,1251.4 433.5,1251.6 436.0,1251.8 438.5,1252.0 441.0,1252.3 443.5,1252.5 446.0,1252.7 448.5,1252.9 451.0,1253.1 453.5,1253.4 456.0,1253.6 458.5,1253.8 461.0,1254.1 463.5,1254.3 466.0,1254.6 468.5,1254.8 471.0,1255.1 473.5,1255.3 476.0,1255.6 478.5,1255.9 481.0,1256.1 483.5,1256.4 486.0,1256.7 488.5,1257.0 491.0,1257.3 493.5,1257.6 496.0,1257.9 498.5,1258.2 501.0,1258.5 503.5,1258.8 506.0,1259.1 508.5,1259.4 511.0,1259.8 513.5,1260.1 516.0,1260.4 518.5,1260.8 521.0,1261.1 523.5,1261.5 526.0,1261.8 528.5,1262.2 531.0,1262.6 533.5,1262.9 536.0,1263.3 538.5,1263.7 541.0,1264.1 543.5,1264.5 546.0,1264.9 548.5,1265.3 551.0,1265.7 553.5,1266.1 556.0,1266.5 558.5,1266.9 561.0,1267.4 563.5,1267.8 566.0,1268.2 568.5,1268.7 571.0,1269.1 573.5,1269.6 576.0,1270.0 578.5,1270.5 581.0,1271.0 583.5,1271.4 586.0,1271.9 588.5,1272.4 591.0,1272.9 593.5,1273.4 596.0,1273.9 598.5,1274.4 601.0,1275.0 603.5,1275.5 606.0,1276.0 608.5,1276.5 611.0,1277.1 613.5,1277.6 616.0,1278.2 618.5,1278.7 621.0,1279.3 623.5,1279.8 626.0,1280.4 628.5,1280.9 631.0,1281.5 633.5,1282.1 636.0,1282.6 638.5,1283.2 641.0,1283.8 643.5,1284.4 646.0,1284.9 648.5,1285.5 651.0,1286.1 653.5,1286.6 656.0,1287.2 658.5,1287.8 661.0,1288.3 663.5,1288.9 666.0,1289.4 668.5,1290.0 671.0,1290.6 673.5,1291.1 676.0,1291.6 678.5,1292.2 681.0,1292.7 683.5,1293.3 686.0,1293.8 688.5,1294.3 691.0,1294.8 693.5,1295.3 696.0,1295.8 698.5,1296.3 701.0,1296.8 703.5,1297.3 706.0,1297.8 708.5,1298.2 711.0,1298.7 713.5,1299.1 716.0,1299.6 718.5,1300.0 721.0,1300.4 723.5,1300.8 726.0,1301.2 728.5,1301.6 731.0,1302.0 733.5,1302.4 736.0,1302.8 738.5,1303.1 741.0,1303.5 743.5,1303.9 746.0,1304.2 748.5,1304.6 751.0,1305.0 753.5,1305.3 756.0,1305.7 758.5,1306.1 761.0,1306.4 763.5,1306.8 766.0,1307.2 768.5,1307.6 771.0,1308.0 773.5,1308.4 776.0,1308.8 778.5,1309.2 781.0,1309.7 783.5,1310.1 786.0,1310.6 788.5,1311.1 791.0,1311.6 793.5,1312.1 796.0,1312.6 798.5,1313.2 799.5,1313.4" fill="none" stroke="#2a7bff" stroke-width="2.2" stroke-linejoin="round" />
<line x1="800.3" y1="763" x2="800.3" y2="789" stroke="#ffff00" stroke-width="1.6" />
<line x1="800.3" y1="972" x2="800.3" y2="1236" stroke="#c999fb" stroke-width="1.6" />
<line x1="800.3" y1="1241" x2="800.3" y2="1305" stroke="#666" stroke-width="1.6" />
<rect x="111" y="762.3" width="692" height="561.7" fill="none" stroke="#000" stroke-width="4" />
<line x1="99.2" y1="1324" x2="111" y2="1324" stroke="#000" stroke-width="3.5" stroke-linecap="round"/>
<text x="83.6" y="1333" font-size="29.5" fill="#000" text-anchor="end" >0</text>
<line x1="104.2" y1="1267.8" x2="111" y2="1267.8" stroke="#000" stroke-width="3.5" stroke-linecap="round"/>
<line x1="99.2" y1="1211.7" x2="111" y2="1211.7" stroke="#000" stroke-width="3.5" stroke-linecap="round"/>
<text x="83.6" y="1220.7" font-size="29.5" fill="#000" text-anchor="end" >20</text>
<line x1="104.2" y1="1155.5" x2="111" y2="1155.5" stroke="#000" stroke-width="3.5" stroke-linecap="round"/>
<line x1="99.2" y1="1099.3" x2="111" y2="1099.3" stroke="#000" stroke-width="3.5" stroke-linecap="round"/>
<text x="83.6" y="1108.3" font-size="29.5" fill="#000" text-anchor="end" >40</text>
<line x1="104.2" y1="1043.2" x2="111" y2="1043.2" stroke="#000" stroke-width="3.5" stroke-linecap="round"/>
<line x1="99.2" y1="987" x2="111" y2="987" stroke="#000" stroke-width="3.5" stroke-linecap="round"/>
<text x="83.6" y="996" font-size="29.5" fill="#000" text-anchor="end" >60</text>
<line x1="104.2" y1="930.8" x2="111" y2="930.8" stroke="#000" stroke-width="3.5" stroke-linecap="round"/>
<line x1="99.2" y1="874.6" x2="111" y2="874.6" stroke="#000" stroke-width="3.5" stroke-linecap="round"/>
<text x="83.6" y="883.6" font-size="29.5" fill="#000" text-anchor="end" >80</text>
<line x1="104.2" y1="818.5" x2="111" y2="818.5" stroke="#000" stroke-width="3.5" stroke-linecap="round"/>
<line x1="99.2" y1="762.3" x2="111" y2="762.3" stroke="#000" stroke-width="3.5" stroke-linecap="round"/>
<text x="83.6" y="771.3" font-size="29.5" fill="#000" text-anchor="end" >100</text>
<line x1="110" y1="1324" x2="110" y2="1334.5" stroke="#000" stroke-width="3" stroke-linecap="round"/>
<line x1="156.6" y1="1324" x2="156.6" y2="1329.5" stroke="#000" stroke-width="3" stroke-linecap="round"/>
<line x1="183.9" y1="1324" x2="183.9" y2="1329.5" stroke="#000" stroke-width="3" stroke-linecap="round"/>
<line x1="203.2" y1="1324" x2="203.2" y2="1329.5" stroke="#000" stroke-width="3" stroke-linecap="round"/>
<line x1="218.2" y1="1324" x2="218.2" y2="1329.5" stroke="#000" stroke-width="3" stroke-linecap="round"/>
<line x1="230.5" y1="1324" x2="230.5" y2="1329.5" stroke="#000" stroke-width="3" stroke-linecap="round"/>
<line x1="240.8" y1="1324" x2="240.8" y2="1329.5" stroke="#000" stroke-width="3" stroke-linecap="round"/>
<line x1="249.8" y1="1324" x2="249.8" y2="1329.5" stroke="#000" stroke-width="3" stroke-linecap="round"/>
<line x1="257.7" y1="1324" x2="257.7" y2="1329.5" stroke="#000" stroke-width="3" stroke-linecap="round"/>
<text x="110" y="1373.3" font-size="29.5" fill="#000" text-anchor="middle" >0.01</text>
<line x1="264.8" y1="1324" x2="264.8" y2="1334.5" stroke="#000" stroke-width="3" stroke-linecap="round"/>
<line x1="311.4" y1="1324" x2="311.4" y2="1329.5" stroke="#000" stroke-width="3" stroke-linecap="round"/>
<line x1="338.7" y1="1324" x2="338.7" y2="1329.5" stroke="#000" stroke-width="3" stroke-linecap="round"/>
<line x1="358" y1="1324" x2="358" y2="1329.5" stroke="#000" stroke-width="3" stroke-linecap="round"/>
<line x1="373" y1="1324" x2="373" y2="1329.5" stroke="#000" stroke-width="3" stroke-linecap="round"/>
<line x1="385.3" y1="1324" x2="385.3" y2="1329.5" stroke="#000" stroke-width="3" stroke-linecap="round"/>
<line x1="395.6" y1="1324" x2="395.6" y2="1329.5" stroke="#000" stroke-width="3" stroke-linecap="round"/>
<line x1="404.6" y1="1324" x2="404.6" y2="1329.5" stroke="#000" stroke-width="3" stroke-linecap="round"/>
<line x1="412.5" y1="1324" x2="412.5" y2="1329.5" stroke="#000" stroke-width="3" stroke-linecap="round"/>
<text x="264.8" y="1373.3" font-size="29.5" fill="#000" text-anchor="middle" >0.1</text>
<line x1="419.6" y1="1324" x2="419.6" y2="1334.5" stroke="#000" stroke-width="3" stroke-linecap="round"/>
<line x1="466.2" y1="1324" x2="466.2" y2="1329.5" stroke="#000" stroke-width="3" stroke-linecap="round"/>
<line x1="493.5" y1="1324" x2="493.5" y2="1329.5" stroke="#000" stroke-width="3" stroke-linecap="round"/>
<line x1="512.8" y1="1324" x2="512.8" y2="1329.5" stroke="#000" stroke-width="3" stroke-linecap="round"/>
<line x1="527.8" y1="1324" x2="527.8" y2="1329.5" stroke="#000" stroke-width="3" stroke-linecap="round"/>
<line x1="540.1" y1="1324" x2="540.1" y2="1329.5" stroke="#000" stroke-width="3" stroke-linecap="round"/>
<line x1="550.4" y1="1324" x2="550.4" y2="1329.5" stroke="#000" stroke-width="3" stroke-linecap="round"/>
<line x1="559.4" y1="1324" x2="559.4" y2="1329.5" stroke="#000" stroke-width="3" stroke-linecap="round"/>
<line x1="567.3" y1="1324" x2="567.3" y2="1329.5" stroke="#000" stroke-width="3" stroke-linecap="round"/>
<text x="419.6" y="1373.3" font-size="29.5" fill="#000" text-anchor="middle" >1</text>
<line x1="574.4" y1="1324" x2="574.4" y2="1334.5" stroke="#000" stroke-width="3" stroke-linecap="round"/>
<line x1="621" y1="1324" x2="621" y2="1329.5" stroke="#000" stroke-width="3" stroke-linecap="round"/>
<line x1="648.3" y1="1324" x2="648.3" y2="1329.5" stroke="#000" stroke-width="3" stroke-linecap="round"/>
<line x1="667.6" y1="1324" x2="667.6" y2="1329.5" stroke="#000" stroke-width="3" stroke-linecap="round"/>
<line x1="682.6" y1="1324" x2="682.6" y2="1329.5" stroke="#000" stroke-width="3" stroke-linecap="round"/>
<line x1="694.9" y1="1324" x2="694.9" y2="1329.5" stroke="#000" stroke-width="3" stroke-linecap="round"/>
<line x1="705.2" y1="1324" x2="705.2" y2="1329.5" stroke="#000" stroke-width="3" stroke-linecap="round"/>
<line x1="714.2" y1="1324" x2="714.2" y2="1329.5" stroke="#000" stroke-width="3" stroke-linecap="round"/>
<line x1="722.1" y1="1324" x2="722.1" y2="1329.5" stroke="#000" stroke-width="3" stroke-linecap="round"/>
<text x="574.4" y="1373.3" font-size="29.5" fill="#000" text-anchor="middle" >10</text>
<line x1="729.2" y1="1324" x2="729.2" y2="1334.5" stroke="#000" stroke-width="3" stroke-linecap="round"/>
<line x1="775.8" y1="1324" x2="775.8" y2="1329.5" stroke="#000" stroke-width="3" stroke-linecap="round"/>
<line x1="803.1" y1="1324" x2="803.1" y2="1329.5" stroke="#000" stroke-width="3" stroke-linecap="round"/>
<text x="729.2" y="1373.3" font-size="29.5" fill="#000" text-anchor="middle" >100</text>
<text transform="translate(21.8,1209.2) rotate(-90)" font-size="29.7">Quantum efficiency (%)</text>
<text x="249" y="1421.8" font-size="29.5">Current density (mA cm<tspan font-size="19.5" dy="-12.8">&#8722;2</tspan><tspan dy="12.8">)</tspan></text>
<text x="236.5" y="814" font-size="29.3" fill="#fff" text-anchor="start" >Nonradiative decay</text>
<text x="649" y="904.5" font-size="29.8" fill="#fff" text-anchor="start" >STA</text>
<text x="657.8" y="1041.3" font-size="29.8" fill="#fff" text-anchor="start" >TTA</text>
<text x="377.5" y="983.5" font-size="29.8" fill="#555555" text-anchor="start" >IQE</text>
<text x="129.5" y="1283" font-size="29.8" fill="#0a1ee6" text-anchor="start" >EQE</text>
<text transform="translate(289,1284) rotate(5.5)" font-size="29.2" fill="#e69f00">Experimental EQE</text>
<rect x="163" y="943.3" width="147.9" height="58.9" fill="#000" stroke="none" stroke-width="1" />
<rect x="154.6" y="935.6" width="148" height="58.1" fill="#fff" stroke="#111" stroke-width="1.4" />
<text x="174.3" y="979.2" font-size="33.5" fill="#e69f00" text-anchor="start" >BE-DM</text>
<g clip-path="url(#clipC)">
<circle cx="166.9" cy="1245" r="8.8" fill="#e69f00"/>
<circle cx="338.7" cy="1246.4" r="8.8" fill="#e69f00"/>
<circle cx="427.2" cy="1252" r="8.8" fill="#e69f00"/>
<circle cx="495" cy="1259.3" r="8.8" fill="#e69f00"/>
<circle cx="549.9" cy="1267.6" r="8.8" fill="#e69f00"/>
<circle cx="595.8" cy="1276" r="8.8" fill="#e69f00"/>
<circle cx="632.9" cy="1282.7" r="8.8" fill="#e69f00"/>
<circle cx="665.6" cy="1288.7" r="8.8" fill="#e69f00"/>
<circle cx="695.5" cy="1293.5" r="8.8" fill="#e69f00"/>
<circle cx="721.9" cy="1298.7" r="8.8" fill="#e69f00"/>
<circle cx="746.2" cy="1301.9" r="8.8" fill="#e69f00"/>
<circle cx="767.4" cy="1306.7" r="8.8" fill="#e69f00"/>
<circle cx="784.1" cy="1309.5" r="8.8" fill="#e69f00"/>
<circle cx="797.3" cy="1312.7" r="8.8" fill="#e69f00"/>
</g>
<text x="860.3" y="761.5" font-size="42" fill="#000" text-anchor="start" font-weight="bold">d</text>
<rect x="971.3" y="762" width="691.5" height="561.6" fill="#ddd8c2" stroke="none" stroke-width="1" />
<path d="M971.3,813.4 L973.8,813.3 L976.3,813.3 L978.8,813.2 L981.3,813.2 L983.8,813.2 L986.3,813.1 L988.8,813.1 L991.3,813.1 L993.8,813.1 L996.3,813.1 L998.8,813.1 L1001.3,813.1 L1003.8,813.1 L1006.3,813.2 L1008.8,813.2 L1011.3,813.2 L1013.8,813.3 L1016.3,813.3 L1018.8,813.4 L1021.3,813.4 L1023.8,813.5 L1026.3,813.5 L1028.8,813.6 L1031.3,813.7 L1033.8,813.8 L1036.3,813.9 L1038.8,813.9 L1041.3,814.0 L1043.8,814.1 L1046.3,814.2 L1048.8,814.4 L1051.3,814.5 L1053.8,814.6 L1056.3,814.7 L1058.8,814.8 L1061.3,815.0 L1063.8,815.1 L1066.3,815.2 L1068.8,815.4 L1071.3,815.5 L1073.8,815.7 L1076.3,815.8 L1078.8,816.0 L1081.3,816.1 L1083.8,816.3 L1086.3,816.5 L1088.8,816.6 L1091.3,816.8 L1093.8,817.0 L1096.3,817.2 L1098.8,817.4 L1101.3,817.5 L1103.8,817.7 L1106.3,817.9 L1108.8,818.1 L1111.3,818.3 L1113.8,818.5 L1116.3,818.7 L1118.8,818.9 L1121.3,819.1 L1123.8,819.3 L1126.3,819.5 L1128.8,819.7 L1131.3,820.0 L1133.8,820.2 L1136.3,820.4 L1138.8,820.6 L1141.3,820.8 L1143.8,821.1 L1146.3,821.3 L1148.8,821.5 L1151.3,821.7 L1153.8,822.0 L1156.3,822.2 L1158.8,822.4 L1161.3,822.7 L1163.8,822.9 L1166.3,823.1 L1168.8,823.4 L1171.3,823.6 L1173.8,823.8 L1176.3,824.1 L1178.8,824.3 L1181.3,824.5 L1183.8,824.8 L1186.3,825.0 L1188.8,825.3 L1191.3,825.5 L1193.8,825.7 L1196.3,826.0 L1198.8,826.2 L1201.3,826.5 L1203.8,826.7 L1206.3,826.9 L1208.8,827.2 L1211.3,827.4 L1213.8,827.7 L1216.3,827.9 L1218.8,828.1 L1221.3,828.4 L1223.8,828.6 L1226.3,828.8 L1228.8,829.1 L1231.3,829.3 L1233.8,829.5 L1236.3,829.8 L1238.8,830.0 L1241.3,830.2 L1243.8,830.4 L1246.3,830.7 L1248.8,830.9 L1251.3,831.1 L1253.8,831.3 L1256.3,831.5 L1258.8,831.7 L1261.3,831.9 L1263.8,832.1 L1266.3,832.3 L1268.8,832.5 L1271.3,832.7 L1273.8,832.9 L1276.3,833.1 L1278.8,833.3 L1281.3,833.5 L1283.8,833.6 L1286.3,833.8 L1288.8,833.9 L1291.3,834.1 L1293.8,834.2 L1296.3,834.4 L1298.8,834.5 L1301.3,834.7 L1303.8,834.8 L1306.3,834.9 L1308.8,835.0 L1311.3,835.1 L1313.8,835.2 L1316.3,835.3 L1318.8,835.4 L1321.3,835.5 L1323.8,835.6 L1326.3,835.6 L1328.8,835.7 L1331.3,835.8 L1333.8,835.8 L1336.3,835.8 L1338.8,835.9 L1341.3,835.9 L1343.8,835.9 L1346.3,835.9 L1348.8,835.9 L1351.3,835.9 L1353.8,835.9 L1356.3,835.8 L1358.8,835.8 L1361.3,835.7 L1363.8,835.7 L1366.3,835.6 L1368.8,835.5 L1371.3,835.4 L1373.8,835.3 L1376.3,835.2 L1378.8,835.1 L1381.3,835.0 L1383.8,834.8 L1386.3,834.7 L1388.8,834.5 L1391.3,834.3 L1393.8,834.1 L1396.3,833.9 L1398.8,833.7 L1401.3,833.5 L1403.8,833.3 L1406.3,833.1 L1408.8,832.8 L1411.3,832.6 L1413.8,832.3 L1416.3,832.0 L1418.8,831.8 L1421.3,831.5 L1423.8,831.2 L1426.3,830.9 L1428.8,830.6 L1431.3,830.2 L1433.8,829.9 L1436.3,829.6 L1438.8,829.2 L1441.3,828.9 L1443.8,828.5 L1446.3,828.2 L1448.8,827.8 L1451.3,827.4 L1453.8,827.0 L1456.3,826.6 L1458.8,826.2 L1461.3,825.8 L1463.8,825.4 L1466.3,825.0 L1468.8,824.6 L1471.3,824.2 L1473.8,823.8 L1476.3,823.3 L1478.8,822.9 L1481.3,822.4 L1483.8,822.0 L1486.3,821.5 L1488.8,821.1 L1491.3,820.6 L1493.8,820.1 L1496.3,819.7 L1498.8,819.2 L1501.3,818.7 L1503.8,818.2 L1506.3,817.7 L1508.8,817.3 L1511.3,816.8 L1513.8,816.3 L1516.3,815.8 L1518.8,815.3 L1521.3,814.8 L1523.8,814.3 L1526.3,813.8 L1528.8,813.3 L1531.3,812.7 L1533.8,812.2 L1536.3,811.7 L1538.8,811.2 L1541.3,810.7 L1543.8,810.2 L1546.3,809.7 L1548.8,809.1 L1551.3,808.6 L1553.8,808.1 L1556.3,807.6 L1558.8,807.1 L1561.3,806.5 L1563.8,806.0 L1566.3,805.5 L1568.8,805.0 L1571.3,804.5 L1573.8,804.0 L1576.3,803.4 L1578.8,802.9 L1581.3,802.4 L1583.8,801.9 L1586.3,801.4 L1588.8,800.9 L1591.3,800.4 L1593.8,799.9 L1596.3,799.4 L1598.8,798.9 L1601.3,798.4 L1603.8,797.9 L1606.3,797.4 L1608.8,796.9 L1611.3,796.4 L1613.8,795.9 L1616.3,795.4 L1618.8,795.0 L1621.3,794.5 L1623.8,794.0 L1626.3,793.5 L1628.8,793.1 L1631.3,792.6 L1633.8,792.2 L1636.3,791.7 L1638.8,791.3 L1641.3,790.8 L1643.8,790.4 L1646.3,790.0 L1648.8,789.6 L1651.3,789.1 L1653.8,788.7 L1656.3,788.3 L1658.8,787.9 L1660.6,787.6 L1660.6,943.5 L1658.8,943.5 L1656.3,943.6 L1653.8,943.5 L1651.3,943.5 L1648.8,943.5 L1646.3,943.4 L1643.8,943.3 L1641.3,943.1 L1638.8,942.9 L1636.3,942.7 L1633.8,942.5 L1631.3,942.3 L1628.8,942.0 L1626.3,941.7 L1623.8,941.4 L1621.3,941.0 L1618.8,940.7 L1616.3,940.3 L1613.8,939.9 L1611.3,939.4 L1608.8,939.0 L1606.3,938.5 L1603.8,938.0 L1601.3,937.5 L1598.8,936.9 L1596.3,936.4 L1593.8,935.8 L1591.3,935.2 L1588.8,934.6 L1586.3,933.9 L1583.8,933.3 L1581.3,932.6 L1578.8,931.9 L1576.3,931.2 L1573.8,930.5 L1571.3,929.8 L1568.8,929.1 L1566.3,928.3 L1563.8,927.5 L1561.3,926.8 L1558.8,926.0 L1556.3,925.2 L1553.8,924.4 L1551.3,923.5 L1548.8,922.7 L1546.3,921.8 L1543.8,921.0 L1541.3,920.1 L1538.8,919.3 L1536.3,918.4 L1533.8,917.5 L1531.3,916.6 L1528.8,915.7 L1526.3,914.8 L1523.8,913.9 L1521.3,913.0 L1518.8,912.0 L1516.3,911.1 L1513.8,910.2 L1511.3,909.2 L1508.8,908.3 L1506.3,907.4 L1503.8,906.4 L1501.3,905.5 L1498.8,904.5 L1496.3,903.6 L1493.8,902.6 L1491.3,901.7 L1488.8,900.8 L1486.3,899.8 L1483.8,898.9 L1481.3,897.9 L1478.8,897.0 L1476.3,896.1 L1473.8,895.1 L1471.3,894.2 L1468.8,893.3 L1466.3,892.4 L1463.8,891.5 L1461.3,890.6 L1458.8,889.6 L1456.3,888.7 L1453.8,887.8 L1451.3,887.0 L1448.8,886.1 L1446.3,885.2 L1443.8,884.3 L1441.3,883.4 L1438.8,882.5 L1436.3,881.7 L1433.8,880.8 L1431.3,880.0 L1428.8,879.1 L1426.3,878.3 L1423.8,877.4 L1421.3,876.6 L1418.8,875.8 L1416.3,874.9 L1413.8,874.1 L1411.3,873.3 L1408.8,872.5 L1406.3,871.7 L1403.8,870.9 L1401.3,870.1 L1398.8,869.4 L1396.3,868.6 L1393.8,867.8 L1391.3,867.1 L1388.8,866.3 L1386.3,865.6 L1383.8,864.9 L1381.3,864.1 L1378.8,863.4 L1376.3,862.7 L1373.8,862.0 L1371.3,861.3 L1368.8,860.6 L1366.3,860.0 L1363.8,859.3 L1361.3,858.6 L1358.8,858.0 L1356.3,857.4 L1353.8,856.7 L1351.3,856.1 L1348.8,855.5 L1346.3,854.9 L1343.8,854.3 L1341.3,853.7 L1338.8,853.1 L1336.3,852.5 L1333.8,852.0 L1331.3,851.4 L1328.8,850.9 L1326.3,850.3 L1323.8,849.8 L1321.3,849.3 L1318.8,848.8 L1316.3,848.2 L1313.8,847.7 L1311.3,847.2 L1308.8,846.8 L1306.3,846.3 L1303.8,845.8 L1301.3,845.3 L1298.8,844.9 L1296.3,844.4 L1293.8,844.0 L1291.3,843.5 L1288.8,843.1 L1286.3,842.7 L1283.8,842.2 L1281.3,841.8 L1278.8,841.4 L1276.3,841.0 L1273.8,840.6 L1271.3,840.2 L1268.8,839.8 L1266.3,839.4 L1263.8,839.0 L1261.3,838.7 L1258.8,838.3 L1256.3,837.9 L1253.8,837.5 L1251.3,837.2 L1248.8,836.8 L1246.3,836.4 L1243.8,836.1 L1241.3,835.7 L1238.8,835.4 L1236.3,835.0 L1233.8,834.7 L1231.3,834.4 L1228.8,834.0 L1226.3,833.7 L1223.8,833.3 L1221.3,833.0 L1218.8,832.7 L1216.3,832.3 L1213.8,832.0 L1211.3,831.7 L1208.8,831.3 L1206.3,831.0 L1203.8,830.7 L1201.3,830.4 L1198.8,830.0 L1196.3,829.7 L1193.8,829.4 L1191.3,829.1 L1188.8,828.7 L1186.3,828.4 L1183.8,828.1 L1181.3,827.8 L1178.8,827.5 L1176.3,827.2 L1173.8,826.9 L1171.3,826.6 L1168.8,826.3 L1166.3,826.0 L1163.8,825.7 L1161.3,825.4 L1158.8,825.1 L1156.3,824.8 L1153.8,824.5 L1151.3,824.2 L1148.8,823.9 L1146.3,823.7 L1143.8,823.4 L1141.3,823.1 L1138.8,822.8 L1136.3,822.6 L1133.8,822.3 L1131.3,822.0 L1128.8,821.8 L1126.3,821.5 L1123.8,821.3 L1121.3,821.0 L1118.8,820.8 L1116.3,820.5 L1113.8,820.3 L1111.3,820.0 L1108.8,819.8 L1106.3,819.6 L1103.8,819.3 L1101.3,819.1 L1098.8,818.9 L1096.3,818.7 L1093.8,818.5 L1091.3,818.2 L1088.8,818.0 L1086.3,817.8 L1083.8,817.6 L1081.3,817.4 L1078.8,817.3 L1076.3,817.1 L1073.8,816.9 L1071.3,816.7 L1068.8,816.5 L1066.3,816.4 L1063.8,816.2 L1061.3,816.0 L1058.8,815.9 L1056.3,815.7 L1053.8,815.6 L1051.3,815.4 L1048.8,815.3 L1046.3,815.1 L1043.8,815.0 L1041.3,814.9 L1038.8,814.8 L1036.3,814.6 L1033.8,814.5 L1031.3,814.4 L1028.8,814.3 L1026.3,814.2 L1023.8,814.1 L1021.3,814.0 L1018.8,814.0 L1016.3,813.9 L1013.8,813.8 L1011.3,813.8 L1008.8,813.7 L1006.3,813.6 L1003.8,813.6 L1001.3,813.5 L998.8,813.5 L996.3,813.5 L993.8,813.4 L991.3,813.4 L988.8,813.4 L986.3,813.4 L983.8,813.4 L981.3,813.4 L978.8,813.4 L976.3,813.4 L973.8,813.4 L971.3,813.4Z" fill="#c999fb"/>
<path d="M971.3,813.4 L973.8,813.4 L976.3,813.4 L978.8,813.4 L981.3,813.4 L983.8,813.4 L986.3,813.4 L988.8,813.4 L991.3,813.4 L993.8,813.4 L996.3,813.5 L998.8,813.5 L1001.3,813.5 L1003.8,813.6 L1006.3,813.6 L1008.8,813.7 L1011.3,813.8 L1013.8,813.8 L1016.3,813.9 L1018.8,814.0 L1021.3,814.0 L1023.8,814.1 L1026.3,814.2 L1028.8,814.3 L1031.3,814.4 L1033.8,814.5 L1036.3,814.6 L1038.8,814.8 L1041.3,814.9 L1043.8,815.0 L1046.3,815.1 L1048.8,815.3 L1051.3,815.4 L1053.8,815.6 L1056.3,815.7 L1058.8,815.9 L1061.3,816.0 L1063.8,816.2 L1066.3,816.4 L1068.8,816.5 L1071.3,816.7 L1073.8,816.9 L1076.3,817.1 L1078.8,817.3 L1081.3,817.4 L1083.8,817.6 L1086.3,817.8 L1088.8,818.0 L1091.3,818.2 L1093.8,818.5 L1096.3,818.7 L1098.8,818.9 L1101.3,819.1 L1103.8,819.3 L1106.3,819.6 L1108.8,819.8 L1111.3,820.0 L1113.8,820.3 L1116.3,820.5 L1118.8,820.8 L1121.3,821.0 L1123.8,821.3 L1126.3,821.5 L1128.8,821.8 L1131.3,822.0 L1133.8,822.3 L1136.3,822.6 L1138.8,822.8 L1141.3,823.1 L1143.8,823.4 L1146.3,823.7 L1148.8,823.9 L1151.3,824.2 L1153.8,824.5 L1156.3,824.8 L1158.8,825.1 L1161.3,825.4 L1163.8,825.7 L1166.3,826.0 L1168.8,826.3 L1171.3,826.6 L1173.8,826.9 L1176.3,827.2 L1178.8,827.5 L1181.3,827.8 L1183.8,828.1 L1186.3,828.4 L1188.8,828.7 L1191.3,829.1 L1193.8,829.4 L1196.3,829.7 L1198.8,830.0 L1201.3,830.4 L1203.8,830.7 L1206.3,831.0 L1208.8,831.3 L1211.3,831.7 L1213.8,832.0 L1216.3,832.3 L1218.8,832.7 L1221.3,833.0 L1223.8,833.3 L1226.3,833.7 L1228.8,834.0 L1231.3,834.4 L1233.8,834.7 L1236.3,835.0 L1238.8,835.4 L1241.3,835.7 L1243.8,836.1 L1246.3,836.4 L1248.8,836.8 L1251.3,837.2 L1253.8,837.5 L1256.3,837.9 L1258.8,838.3 L1261.3,838.7 L1263.8,839.0 L1266.3,839.4 L1268.8,839.8 L1271.3,840.2 L1273.8,840.6 L1276.3,841.0 L1278.8,841.4 L1281.3,841.8 L1283.8,842.2 L1286.3,842.7 L1288.8,843.1 L1291.3,843.5 L1293.8,844.0 L1296.3,844.4 L1298.8,844.9 L1301.3,845.3 L1303.8,845.8 L1306.3,846.3 L1308.8,846.8 L1311.3,847.2 L1313.8,847.7 L1316.3,848.2 L1318.8,848.8 L1321.3,849.3 L1323.8,849.8 L1326.3,850.3 L1328.8,850.9 L1331.3,851.4 L1333.8,852.0 L1336.3,852.5 L1338.8,853.1 L1341.3,853.7 L1343.8,854.3 L1346.3,854.9 L1348.8,855.5 L1351.3,856.1 L1353.8,856.7 L1356.3,857.4 L1358.8,858.0 L1361.3,858.6 L1363.8,859.3 L1366.3,860.0 L1368.8,860.6 L1371.3,861.3 L1373.8,862.0 L1376.3,862.7 L1378.8,863.4 L1381.3,864.1 L1383.8,864.9 L1386.3,865.6 L1388.8,866.3 L1391.3,867.1 L1393.8,867.8 L1396.3,868.6 L1398.8,869.4 L1401.3,870.1 L1403.8,870.9 L1406.3,871.7 L1408.8,872.5 L1411.3,873.3 L1413.8,874.1 L1416.3,874.9 L1418.8,875.8 L1421.3,876.6 L1423.8,877.4 L1426.3,878.3 L1428.8,879.1 L1431.3,880.0 L1433.8,880.8 L1436.3,881.7 L1438.8,882.5 L1441.3,883.4 L1443.8,884.3 L1446.3,885.2 L1448.8,886.1 L1451.3,887.0 L1453.8,887.8 L1456.3,888.7 L1458.8,889.6 L1461.3,890.6 L1463.8,891.5 L1466.3,892.4 L1468.8,893.3 L1471.3,894.2 L1473.8,895.1 L1476.3,896.1 L1478.8,897.0 L1481.3,897.9 L1483.8,898.9 L1486.3,899.8 L1488.8,900.8 L1491.3,901.7 L1493.8,902.6 L1496.3,903.6 L1498.8,904.5 L1501.3,905.5 L1503.8,906.4 L1506.3,907.4 L1508.8,908.3 L1511.3,909.2 L1513.8,910.2 L1516.3,911.1 L1518.8,912.0 L1521.3,913.0 L1523.8,913.9 L1526.3,914.8 L1528.8,915.7 L1531.3,916.6 L1533.8,917.5 L1536.3,918.4 L1538.8,919.3 L1541.3,920.1 L1543.8,921.0 L1546.3,921.8 L1548.8,922.7 L1551.3,923.5 L1553.8,924.4 L1556.3,925.2 L1558.8,926.0 L1561.3,926.8 L1563.8,927.5 L1566.3,928.3 L1568.8,929.1 L1571.3,929.8 L1573.8,930.5 L1576.3,931.2 L1578.8,931.9 L1581.3,932.6 L1583.8,933.3 L1586.3,933.9 L1588.8,934.6 L1591.3,935.2 L1593.8,935.8 L1596.3,936.4 L1598.8,936.9 L1601.3,937.5 L1603.8,938.0 L1606.3,938.5 L1608.8,939.0 L1611.3,939.4 L1613.8,939.9 L1616.3,940.3 L1618.8,940.7 L1621.3,941.0 L1623.8,941.4 L1626.3,941.7 L1628.8,942.0 L1631.3,942.3 L1633.8,942.5 L1636.3,942.7 L1638.8,942.9 L1641.3,943.1 L1643.8,943.3 L1646.3,943.4 L1648.8,943.5 L1651.3,943.5 L1653.8,943.5 L1656.3,943.6 L1658.8,943.5 L1660.6,943.5 L1660.6,1226.4 L1658.8,1224.6 L1656.3,1222.2 L1653.8,1219.7 L1651.3,1217.2 L1648.8,1214.7 L1646.3,1212.1 L1643.8,1209.5 L1641.3,1206.8 L1638.8,1204.2 L1636.3,1201.5 L1633.8,1198.8 L1631.3,1196.0 L1628.8,1193.2 L1626.3,1190.4 L1623.8,1187.6 L1621.3,1184.8 L1618.8,1181.9 L1616.3,1179.0 L1613.8,1176.0 L1611.3,1173.0 L1608.8,1170.0 L1606.3,1167.0 L1603.8,1164.0 L1601.3,1160.9 L1598.8,1157.8 L1596.3,1154.7 L1593.8,1151.6 L1591.3,1148.5 L1588.8,1145.3 L1586.3,1142.2 L1583.8,1139.0 L1581.3,1135.8 L1578.8,1132.6 L1576.3,1129.3 L1573.8,1126.1 L1571.3,1122.9 L1568.8,1119.6 L1566.3,1116.3 L1563.8,1113.1 L1561.3,1109.8 L1558.8,1106.5 L1556.3,1103.2 L1553.8,1099.9 L1551.3,1096.5 L1548.8,1093.2 L1546.3,1089.9 L1543.8,1086.6 L1541.3,1083.2 L1538.8,1079.9 L1536.3,1076.6 L1533.8,1073.2 L1531.3,1069.9 L1528.8,1066.5 L1526.3,1063.2 L1523.8,1059.9 L1521.3,1056.5 L1518.8,1053.2 L1516.3,1049.9 L1513.8,1046.6 L1511.3,1043.3 L1508.8,1039.9 L1506.3,1036.6 L1503.8,1033.4 L1501.3,1030.1 L1498.8,1026.8 L1496.3,1023.5 L1493.8,1020.3 L1491.3,1017.1 L1488.8,1013.8 L1486.3,1010.6 L1483.8,1007.4 L1481.3,1004.2 L1478.8,1001.1 L1476.3,997.9 L1473.8,994.8 L1471.3,991.7 L1468.8,988.6 L1466.3,985.5 L1463.8,982.4 L1461.3,979.4 L1458.8,976.4 L1456.3,973.4 L1453.8,970.4 L1451.3,967.5 L1448.8,964.5 L1446.3,961.7 L1443.8,958.8 L1441.3,955.9 L1438.8,953.1 L1436.3,950.3 L1433.8,947.6 L1431.3,944.9 L1428.8,942.2 L1426.3,939.5 L1423.8,936.9 L1421.3,934.3 L1418.8,931.7 L1416.3,929.2 L1413.8,926.7 L1411.3,924.3 L1408.8,921.9 L1406.3,919.5 L1403.8,917.2 L1401.3,914.9 L1398.8,912.6 L1396.3,910.4 L1393.8,908.2 L1391.3,906.1 L1388.8,904.0 L1386.3,902.0 L1383.8,900.0 L1381.3,898.0 L1378.8,896.1 L1376.3,894.2 L1373.8,892.4 L1371.3,890.6 L1368.8,888.9 L1366.3,887.2 L1363.8,885.5 L1361.3,883.9 L1358.8,882.3 L1356.3,880.7 L1353.8,879.2 L1351.3,877.7 L1348.8,876.3 L1346.3,874.9 L1343.8,873.5 L1341.3,872.1 L1338.8,870.8 L1336.3,869.6 L1333.8,868.3 L1331.3,867.1 L1328.8,865.9 L1326.3,864.8 L1323.8,863.6 L1321.3,862.5 L1318.8,861.5 L1316.3,860.4 L1313.8,859.4 L1311.3,858.4 L1308.8,857.5 L1306.3,856.5 L1303.8,855.6 L1301.3,854.8 L1298.8,853.9 L1296.3,853.1 L1293.8,852.2 L1291.3,851.4 L1288.8,850.7 L1286.3,849.9 L1283.8,849.2 L1281.3,848.5 L1278.8,847.8 L1276.3,847.1 L1273.8,846.5 L1271.3,845.8 L1268.8,845.2 L1266.3,844.6 L1263.8,844.0 L1261.3,843.4 L1258.8,842.8 L1256.3,842.3 L1253.8,841.8 L1251.3,841.2 L1248.8,840.7 L1246.3,840.2 L1243.8,839.7 L1241.3,839.2 L1238.8,838.8 L1236.3,838.3 L1233.8,837.8 L1231.3,837.4 L1228.8,836.9 L1226.3,836.5 L1223.8,836.1 L1221.3,835.6 L1218.8,835.2 L1216.3,834.8 L1213.8,834.4 L1211.3,834.0 L1208.8,833.6 L1206.3,833.2 L1203.8,832.8 L1201.3,832.4 L1198.8,832.0 L1196.3,831.6 L1193.8,831.2 L1191.3,830.8 L1188.8,830.5 L1186.3,830.1 L1183.8,829.7 L1181.3,829.3 L1178.8,829.0 L1176.3,828.6 L1173.8,828.3 L1171.3,827.9 L1168.8,827.6 L1166.3,827.2 L1163.8,826.9 L1161.3,826.6 L1158.8,826.3 L1156.3,825.9 L1153.8,825.6 L1151.3,825.3 L1148.8,825.0 L1146.3,824.7 L1143.8,824.4 L1141.3,824.1 L1138.8,823.8 L1136.3,823.5 L1133.8,823.2 L1131.3,822.9 L1128.8,822.6 L1126.3,822.4 L1123.8,822.1 L1121.3,821.8 L1118.8,821.6 L1116.3,821.3 L1113.8,821.0 L1111.3,820.8 L1108.8,820.5 L1106.3,820.3 L1103.8,820.1 L1101.3,819.8 L1098.8,819.6 L1096.3,819.4 L1093.8,819.2 L1091.3,818.9 L1088.8,818.7 L1086.3,818.5 L1083.8,818.3 L1081.3,818.1 L1078.8,817.9 L1076.3,817.7 L1073.8,817.5 L1071.3,817.3 L1068.8,817.2 L1066.3,817.0 L1063.8,816.8 L1061.3,816.6 L1058.8,816.5 L1056.3,816.3 L1053.8,816.2 L1051.3,816.0 L1048.8,815.9 L1046.3,815.7 L1043.8,815.6 L1041.3,815.5 L1038.8,815.3 L1036.3,815.2 L1033.8,815.1 L1031.3,815.0 L1028.8,814.8 L1026.3,814.7 L1023.8,814.6 L1021.3,814.5 L1018.8,814.4 L1016.3,814.3 L1013.8,814.3 L1011.3,814.2 L1008.8,814.1 L1006.3,814.0 L1003.8,813.9 L1001.3,813.9 L998.8,813.8 L996.3,813.8 L993.8,813.7 L991.3,813.7 L988.8,813.6 L986.3,813.6 L983.8,813.5 L981.3,813.5 L978.8,813.5 L976.3,813.5 L973.8,813.4 L971.3,813.4Z" fill="#56b3e6"/>
<path d="M971.3,813.4 L973.8,813.4 L976.3,813.5 L978.8,813.5 L981.3,813.5 L983.8,813.5 L986.3,813.6 L988.8,813.6 L991.3,813.7 L993.8,813.7 L996.3,813.8 L998.8,813.8 L1001.3,813.9 L1003.8,813.9 L1006.3,814.0 L1008.8,814.1 L1011.3,814.2 L1013.8,814.3 L1016.3,814.3 L1018.8,814.4 L1021.3,814.5 L1023.8,814.6 L1026.3,814.7 L1028.8,814.8 L1031.3,815.0 L1033.8,815.1 L1036.3,815.2 L1038.8,815.3 L1041.3,815.5 L1043.8,815.6 L1046.3,815.7 L1048.8,815.9 L1051.3,816.0 L1053.8,816.2 L1056.3,816.3 L1058.8,816.5 L1061.3,816.6 L1063.8,816.8 L1066.3,817.0 L1068.8,817.2 L1071.3,817.3 L1073.8,817.5 L1076.3,817.7 L1078.8,817.9 L1081.3,818.1 L1083.8,818.3 L1086.3,818.5 L1088.8,818.7 L1091.3,818.9 L1093.8,819.2 L1096.3,819.4 L1098.8,819.6 L1101.3,819.8 L1103.8,820.1 L1106.3,820.3 L1108.8,820.5 L1111.3,820.8 L1113.8,821.0 L1116.3,821.3 L1118.8,821.6 L1121.3,821.8 L1123.8,822.1 L1126.3,822.4 L1128.8,822.6 L1131.3,822.9 L1133.8,823.2 L1136.3,823.5 L1138.8,823.8 L1141.3,824.1 L1143.8,824.4 L1146.3,824.7 L1148.8,825.0 L1151.3,825.3 L1153.8,825.6 L1156.3,825.9 L1158.8,826.3 L1161.3,826.6 L1163.8,826.9 L1166.3,827.2 L1168.8,827.6 L1171.3,827.9 L1173.8,828.3 L1176.3,828.6 L1178.8,829.0 L1181.3,829.3 L1183.8,829.7 L1186.3,830.1 L1188.8,830.5 L1191.3,830.8 L1193.8,831.2 L1196.3,831.6 L1198.8,832.0 L1201.3,832.4 L1203.8,832.8 L1206.3,833.2 L1208.8,833.6 L1211.3,834.0 L1213.8,834.4 L1216.3,834.8 L1218.8,835.2 L1221.3,835.6 L1223.8,836.1 L1226.3,836.5 L1228.8,836.9 L1231.3,837.4 L1233.8,837.8 L1236.3,838.3 L1238.8,838.8 L1241.3,839.2 L1243.8,839.7 L1246.3,840.2 L1248.8,840.7 L1251.3,841.2 L1253.8,841.8 L1256.3,842.3 L1258.8,842.8 L1261.3,843.4 L1263.8,844.0 L1266.3,844.6 L1268.8,845.2 L1271.3,845.8 L1273.8,846.5 L1276.3,847.1 L1278.8,847.8 L1281.3,848.5 L1283.8,849.2 L1286.3,849.9 L1288.8,850.7 L1291.3,851.4 L1293.8,852.2 L1296.3,853.1 L1298.8,853.9 L1301.3,854.8 L1303.8,855.6 L1306.3,856.5 L1308.8,857.5 L1311.3,858.4 L1313.8,859.4 L1316.3,860.4 L1318.8,861.5 L1321.3,862.5 L1323.8,863.6 L1326.3,864.8 L1328.8,865.9 L1331.3,867.1 L1333.8,868.3 L1336.3,869.6 L1338.8,870.8 L1341.3,872.1 L1343.8,873.5 L1346.3,874.9 L1348.8,876.3 L1351.3,877.7 L1353.8,879.2 L1356.3,880.7 L1358.8,882.3 L1361.3,883.9 L1363.8,885.5 L1366.3,887.2 L1368.8,888.9 L1371.3,890.6 L1373.8,892.4 L1376.3,894.2 L1378.8,896.1 L1381.3,898.0 L1383.8,900.0 L1386.3,902.0 L1388.8,904.0 L1391.3,906.1 L1393.8,908.2 L1396.3,910.4 L1398.8,912.6 L1401.3,914.9 L1403.8,917.2 L1406.3,919.5 L1408.8,921.9 L1411.3,924.3 L1413.8,926.7 L1416.3,929.2 L1418.8,931.7 L1421.3,934.3 L1423.8,936.9 L1426.3,939.5 L1428.8,942.2 L1431.3,944.9 L1433.8,947.6 L1436.3,950.3 L1438.8,953.1 L1441.3,955.9 L1443.8,958.8 L1446.3,961.7 L1448.8,964.5 L1451.3,967.5 L1453.8,970.4 L1456.3,973.4 L1458.8,976.4 L1461.3,979.4 L1463.8,982.4 L1466.3,985.5 L1468.8,988.6 L1471.3,991.7 L1473.8,994.8 L1476.3,997.9 L1478.8,1001.1 L1481.3,1004.2 L1483.8,1007.4 L1486.3,1010.6 L1488.8,1013.8 L1491.3,1017.1 L1493.8,1020.3 L1496.3,1023.5 L1498.8,1026.8 L1501.3,1030.1 L1503.8,1033.4 L1506.3,1036.6 L1508.8,1039.9 L1511.3,1043.3 L1513.8,1046.6 L1516.3,1049.9 L1518.8,1053.2 L1521.3,1056.5 L1523.8,1059.9 L1526.3,1063.2 L1528.8,1066.5 L1531.3,1069.9 L1533.8,1073.2 L1536.3,1076.6 L1538.8,1079.9 L1541.3,1083.2 L1543.8,1086.6 L1546.3,1089.9 L1548.8,1093.2 L1551.3,1096.5 L1553.8,1099.9 L1556.3,1103.2 L1558.8,1106.5 L1561.3,1109.8 L1563.8,1113.1 L1566.3,1116.3 L1568.8,1119.6 L1571.3,1122.9 L1573.8,1126.1 L1576.3,1129.3 L1578.8,1132.6 L1581.3,1135.8 L1583.8,1139.0 L1586.3,1142.2 L1588.8,1145.3 L1591.3,1148.5 L1593.8,1151.6 L1596.3,1154.7 L1598.8,1157.8 L1601.3,1160.9 L1603.8,1164.0 L1606.3,1167.0 L1608.8,1170.0 L1611.3,1173.0 L1613.8,1176.0 L1616.3,1179.0 L1618.8,1181.9 L1621.3,1184.8 L1623.8,1187.6 L1626.3,1190.4 L1628.8,1193.2 L1631.3,1196.0 L1633.8,1198.8 L1636.3,1201.5 L1638.8,1204.2 L1641.3,1206.8 L1643.8,1209.5 L1646.3,1212.1 L1648.8,1214.7 L1651.3,1217.2 L1653.8,1219.7 L1656.3,1222.2 L1658.8,1224.6 L1660.6,1226.4 L1660.6,1230.8 L1658.8,1229.2 L1656.3,1226.8 L1653.8,1224.5 L1651.3,1222.1 L1648.8,1219.6 L1646.3,1217.2 L1643.8,1214.7 L1641.3,1212.2 L1638.8,1209.6 L1636.3,1207.1 L1633.8,1204.5 L1631.3,1201.9 L1628.8,1199.2 L1626.3,1196.5 L1623.8,1193.9 L1621.3,1191.1 L1618.8,1188.4 L1616.3,1185.6 L1613.8,1182.9 L1611.3,1180.0 L1608.8,1177.2 L1606.3,1174.4 L1603.8,1171.5 L1601.3,1168.6 L1598.8,1165.8 L1596.3,1162.8 L1593.8,1159.9 L1591.3,1157.0 L1588.8,1154.0 L1586.3,1151.1 L1583.8,1148.1 L1581.3,1145.1 L1578.8,1142.1 L1576.3,1139.1 L1573.8,1136.0 L1571.3,1133.0 L1568.8,1130.0 L1566.3,1126.9 L1563.8,1123.8 L1561.3,1120.8 L1558.8,1117.7 L1556.3,1114.6 L1553.8,1111.6 L1551.3,1108.5 L1548.8,1105.4 L1546.3,1102.3 L1543.8,1099.2 L1541.3,1096.1 L1538.8,1093.0 L1536.3,1089.9 L1533.8,1086.8 L1531.3,1083.7 L1528.8,1080.6 L1526.3,1077.5 L1523.8,1074.5 L1521.3,1071.4 L1518.8,1068.3 L1516.3,1065.2 L1513.8,1062.2 L1511.3,1059.1 L1508.8,1056.1 L1506.3,1053.0 L1503.8,1050.0 L1501.3,1047.0 L1498.8,1044.0 L1496.3,1041.0 L1493.8,1038.0 L1491.3,1035.0 L1488.8,1032.0 L1486.3,1029.1 L1483.8,1026.1 L1481.3,1023.2 L1478.8,1020.3 L1476.3,1017.4 L1473.8,1014.6 L1471.3,1011.7 L1468.8,1008.9 L1466.3,1006.1 L1463.8,1003.3 L1461.3,1000.5 L1458.8,997.7 L1456.3,995.0 L1453.8,992.3 L1451.3,989.6 L1448.8,986.9 L1446.3,984.3 L1443.8,981.7 L1441.3,979.1 L1438.8,976.6 L1436.3,974.0 L1433.8,971.5 L1431.3,969.0 L1428.8,966.6 L1426.3,964.2 L1423.8,961.8 L1421.3,959.4 L1418.8,957.1 L1416.3,954.8 L1413.8,952.6 L1411.3,950.4 L1408.8,948.2 L1406.3,946.0 L1403.8,943.9 L1401.3,941.8 L1398.8,939.8 L1396.3,937.8 L1393.8,935.8 L1391.3,933.9 L1388.8,932.0 L1386.3,930.2 L1383.8,928.4 L1381.3,926.6 L1378.8,924.9 L1376.3,923.2 L1373.8,921.6 L1371.3,920.0 L1368.8,918.4 L1366.3,916.8 L1363.8,915.3 L1361.3,913.9 L1358.8,912.4 L1356.3,911.0 L1353.8,909.7 L1351.3,908.3 L1348.8,907.0 L1346.3,905.8 L1343.8,904.5 L1341.3,903.3 L1338.8,902.2 L1336.3,901.0 L1333.8,899.9 L1331.3,898.8 L1328.8,897.7 L1326.3,896.7 L1323.8,895.7 L1321.3,894.7 L1318.8,893.7 L1316.3,892.8 L1313.8,891.9 L1311.3,891.0 L1308.8,890.2 L1306.3,889.3 L1303.8,888.5 L1301.3,887.7 L1298.8,886.9 L1296.3,886.2 L1293.8,885.5 L1291.3,884.8 L1288.8,884.1 L1286.3,883.4 L1283.8,882.7 L1281.3,882.1 L1278.8,881.5 L1276.3,880.9 L1273.8,880.3 L1271.3,879.7 L1268.8,879.2 L1266.3,878.6 L1263.8,878.1 L1261.3,877.6 L1258.8,877.1 L1256.3,876.6 L1253.8,876.1 L1251.3,875.6 L1248.8,875.1 L1246.3,874.7 L1243.8,874.3 L1241.3,873.8 L1238.8,873.4 L1236.3,873.0 L1233.8,872.6 L1231.3,872.2 L1228.8,871.8 L1226.3,871.4 L1223.8,871.0 L1221.3,870.6 L1218.8,870.2 L1216.3,869.9 L1213.8,869.5 L1211.3,869.1 L1208.8,868.8 L1206.3,868.4 L1203.8,868.0 L1201.3,867.7 L1198.8,867.3 L1196.3,867.0 L1193.8,866.6 L1191.3,866.3 L1188.8,866.0 L1186.3,865.6 L1183.8,865.3 L1181.3,865.0 L1178.8,864.7 L1176.3,864.3 L1173.8,864.0 L1171.3,863.7 L1168.8,863.4 L1166.3,863.1 L1163.8,862.8 L1161.3,862.5 L1158.8,862.2 L1156.3,861.9 L1153.8,861.6 L1151.3,861.4 L1148.8,861.1 L1146.3,860.8 L1143.8,860.5 L1141.3,860.3 L1138.8,860.0 L1136.3,859.7 L1133.8,859.5 L1131.3,859.2 L1128.8,859.0 L1126.3,858.7 L1123.8,858.5 L1121.3,858.3 L1118.8,858.0 L1116.3,857.8 L1113.8,857.6 L1111.3,857.3 L1108.8,857.1 L1106.3,856.9 L1103.8,856.7 L1101.3,856.5 L1098.8,856.3 L1096.3,856.1 L1093.8,855.9 L1091.3,855.7 L1088.8,855.5 L1086.3,855.3 L1083.8,855.1 L1081.3,854.9 L1078.8,854.8 L1076.3,854.6 L1073.8,854.4 L1071.3,854.3 L1068.8,854.1 L1066.3,854.0 L1063.8,853.8 L1061.3,853.6 L1058.8,853.5 L1056.3,853.4 L1053.8,853.2 L1051.3,853.1 L1048.8,853.0 L1046.3,852.8 L1043.8,852.7 L1041.3,852.6 L1038.8,852.5 L1036.3,852.4 L1033.8,852.2 L1031.3,852.1 L1028.8,852.0 L1026.3,851.9 L1023.8,851.9 L1021.3,851.8 L1018.8,851.7 L1016.3,851.6 L1013.8,851.5 L1011.3,851.4 L1008.8,851.4 L1006.3,851.3 L1003.8,851.2 L1001.3,851.2 L998.8,851.1 L996.3,851.1 L993.8,851.0 L991.3,851.0 L988.8,850.9 L986.3,850.9 L983.8,850.9 L981.3,850.8 L978.8,850.8 L976.3,850.8 L973.8,850.8 L971.3,850.8Z" fill="url(#hatch)"/>
<path d="M971.3,850.8 L973.8,850.8 L976.3,850.8 L978.8,850.8 L981.3,850.8 L983.8,850.9 L986.3,850.9 L988.8,850.9 L991.3,851.0 L993.8,851.0 L996.3,851.1 L998.8,851.1 L1001.3,851.2 L1003.8,851.2 L1006.3,851.3 L1008.8,851.4 L1011.3,851.4 L1013.8,851.5 L1016.3,851.6 L1018.8,851.7 L1021.3,851.8 L1023.8,851.9 L1026.3,851.9 L1028.8,852.0 L1031.3,852.1 L1033.8,852.2 L1036.3,852.4 L1038.8,852.5 L1041.3,852.6 L1043.8,852.7 L1046.3,852.8 L1048.8,853.0 L1051.3,853.1 L1053.8,853.2 L1056.3,853.4 L1058.8,853.5 L1061.3,853.6 L1063.8,853.8 L1066.3,854.0 L1068.8,854.1 L1071.3,854.3 L1073.8,854.4 L1076.3,854.6 L1078.8,854.8 L1081.3,854.9 L1083.8,855.1 L1086.3,855.3 L1088.8,855.5 L1091.3,855.7 L1093.8,855.9 L1096.3,856.1 L1098.8,856.3 L1101.3,856.5 L1103.8,856.7 L1106.3,856.9 L1108.8,857.1 L1111.3,857.3 L1113.8,857.6 L1116.3,857.8 L1118.8,858.0 L1121.3,858.3 L1123.8,858.5 L1126.3,858.7 L1128.8,859.0 L1131.3,859.2 L1133.8,859.5 L1136.3,859.7 L1138.8,860.0 L1141.3,860.3 L1143.8,860.5 L1146.3,860.8 L1148.8,861.1 L1151.3,861.4 L1153.8,861.6 L1156.3,861.9 L1158.8,862.2 L1161.3,862.5 L1163.8,862.8 L1166.3,863.1 L1168.8,863.4 L1171.3,863.7 L1173.8,864.0 L1176.3,864.3 L1178.8,864.7 L1181.3,865.0 L1183.8,865.3 L1186.3,865.6 L1188.8,866.0 L1191.3,866.3 L1193.8,866.6 L1196.3,867.0 L1198.8,867.3 L1201.3,867.7 L1203.8,868.0 L1206.3,868.4 L1208.8,868.8 L1211.3,869.1 L1213.8,869.5 L1216.3,869.9 L1218.8,870.2 L1221.3,870.6 L1223.8,871.0 L1226.3,871.4 L1228.8,871.8 L1231.3,872.2 L1233.8,872.6 L1236.3,873.0 L1238.8,873.4 L1241.3,873.8 L1243.8,874.3 L1246.3,874.7 L1248.8,875.1 L1251.3,875.6 L1253.8,876.1 L1256.3,876.6 L1258.8,877.1 L1261.3,877.6 L1263.8,878.1 L1266.3,878.6 L1268.8,879.2 L1271.3,879.7 L1273.8,880.3 L1276.3,880.9 L1278.8,881.5 L1281.3,882.1 L1283.8,882.7 L1286.3,883.4 L1288.8,884.1 L1291.3,884.8 L1293.8,885.5 L1296.3,886.2 L1298.8,886.9 L1301.3,887.7 L1303.8,888.5 L1306.3,889.3 L1308.8,890.2 L1311.3,891.0 L1313.8,891.9 L1316.3,892.8 L1318.8,893.7 L1321.3,894.7 L1323.8,895.7 L1326.3,896.7 L1328.8,897.7 L1331.3,898.8 L1333.8,899.9 L1336.3,901.0 L1338.8,902.2 L1341.3,903.3 L1343.8,904.5 L1346.3,905.8 L1348.8,907.0 L1351.3,908.3 L1353.8,909.7 L1356.3,911.0 L1358.8,912.4 L1361.3,913.9 L1363.8,915.3 L1366.3,916.8 L1368.8,918.4 L1371.3,920.0 L1373.8,921.6 L1376.3,923.2 L1378.8,924.9 L1381.3,926.6 L1383.8,928.4 L1386.3,930.2 L1388.8,932.0 L1391.3,933.9 L1393.8,935.8 L1396.3,937.8 L1398.8,939.8 L1401.3,941.8 L1403.8,943.9 L1406.3,946.0 L1408.8,948.2 L1411.3,950.4 L1413.8,952.6 L1416.3,954.8 L1418.8,957.1 L1421.3,959.4 L1423.8,961.8 L1426.3,964.2 L1428.8,966.6 L1431.3,969.0 L1433.8,971.5 L1436.3,974.0 L1438.8,976.6 L1441.3,979.1 L1443.8,981.7 L1446.3,984.3 L1448.8,986.9 L1451.3,989.6 L1453.8,992.3 L1456.3,995.0 L1458.8,997.7 L1461.3,1000.5 L1463.8,1003.3 L1466.3,1006.1 L1468.8,1008.9 L1471.3,1011.7 L1473.8,1014.6 L1476.3,1017.4 L1478.8,1020.3 L1481.3,1023.2 L1483.8,1026.1 L1486.3,1029.1 L1488.8,1032.0 L1491.3,1035.0 L1493.8,1038.0 L1496.3,1041.0 L1498.8,1044.0 L1501.3,1047.0 L1503.8,1050.0 L1506.3,1053.0 L1508.8,1056.1 L1511.3,1059.1 L1513.8,1062.2 L1516.3,1065.2 L1518.8,1068.3 L1521.3,1071.4 L1523.8,1074.5 L1526.3,1077.5 L1528.8,1080.6 L1531.3,1083.7 L1533.8,1086.8 L1536.3,1089.9 L1538.8,1093.0 L1541.3,1096.1 L1543.8,1099.2 L1546.3,1102.3 L1548.8,1105.4 L1551.3,1108.5 L1553.8,1111.6 L1556.3,1114.6 L1558.8,1117.7 L1561.3,1120.8 L1563.8,1123.8 L1566.3,1126.9 L1568.8,1130.0 L1571.3,1133.0 L1573.8,1136.0 L1576.3,1139.1 L1578.8,1142.1 L1581.3,1145.1 L1583.8,1148.1 L1586.3,1151.1 L1588.8,1154.0 L1591.3,1157.0 L1593.8,1159.9 L1596.3,1162.8 L1598.8,1165.8 L1601.3,1168.6 L1603.8,1171.5 L1606.3,1174.4 L1608.8,1177.2 L1611.3,1180.0 L1613.8,1182.9 L1616.3,1185.6 L1618.8,1188.4 L1621.3,1191.1 L1623.8,1193.9 L1626.3,1196.5 L1628.8,1199.2 L1631.3,1201.9 L1633.8,1204.5 L1636.3,1207.1 L1638.8,1209.6 L1641.3,1212.2 L1643.8,1214.7 L1646.3,1217.2 L1648.8,1219.6 L1651.3,1222.1 L1653.8,1224.5 L1656.3,1226.8 L1658.8,1229.2 L1660.6,1230.8 L1660.6,1304.5 L1658.8,1304.2 L1656.3,1303.7 L1653.8,1303.3 L1651.3,1302.9 L1648.8,1302.4 L1646.3,1302.0 L1643.8,1301.5 L1641.3,1301.0 L1638.8,1300.6 L1636.3,1300.1 L1633.8,1299.6 L1631.3,1299.1 L1628.8,1298.6 L1626.3,1298.2 L1623.8,1297.7 L1621.3,1297.2 L1618.8,1296.6 L1616.3,1296.1 L1613.8,1295.6 L1611.3,1295.1 L1608.8,1294.6 L1606.3,1294.1 L1603.8,1293.5 L1601.3,1293.0 L1598.8,1292.5 L1596.3,1291.9 L1593.8,1291.4 L1591.3,1290.8 L1588.8,1290.3 L1586.3,1289.8 L1583.8,1289.2 L1581.3,1288.6 L1578.8,1288.1 L1576.3,1287.5 L1573.8,1287.0 L1571.3,1286.4 L1568.8,1285.9 L1566.3,1285.3 L1563.8,1284.7 L1561.3,1284.2 L1558.8,1283.6 L1556.3,1283.0 L1553.8,1282.5 L1551.3,1281.9 L1548.8,1281.3 L1546.3,1280.8 L1543.8,1280.2 L1541.3,1279.6 L1538.8,1279.1 L1536.3,1278.5 L1533.8,1277.9 L1531.3,1277.4 L1528.8,1276.8 L1526.3,1276.3 L1523.8,1275.7 L1521.3,1275.1 L1518.8,1274.6 L1516.3,1274.0 L1513.8,1273.5 L1511.3,1272.9 L1508.8,1272.3 L1506.3,1271.8 L1503.8,1271.2 L1501.3,1270.7 L1498.8,1270.2 L1496.3,1269.6 L1493.8,1269.1 L1491.3,1268.5 L1488.8,1268.0 L1486.3,1267.5 L1483.8,1266.9 L1481.3,1266.4 L1478.8,1265.9 L1476.3,1265.4 L1473.8,1264.9 L1471.3,1264.4 L1468.8,1263.9 L1466.3,1263.4 L1463.8,1262.9 L1461.3,1262.4 L1458.8,1261.9 L1456.3,1261.4 L1453.8,1260.9 L1451.3,1260.4 L1448.8,1260.0 L1446.3,1259.5 L1443.8,1259.1 L1441.3,1258.6 L1438.8,1258.2 L1436.3,1257.7 L1433.8,1257.3 L1431.3,1256.8 L1428.8,1256.4 L1426.3,1256.0 L1423.8,1255.6 L1421.3,1255.2 L1418.8,1254.8 L1416.3,1254.4 L1413.8,1254.0 L1411.3,1253.6 L1408.8,1253.2 L1406.3,1252.8 L1403.8,1252.4 L1401.3,1252.0 L1398.8,1251.7 L1396.3,1251.3 L1393.8,1250.9 L1391.3,1250.6 L1388.8,1250.2 L1386.3,1249.9 L1383.8,1249.5 L1381.3,1249.2 L1378.8,1248.9 L1376.3,1248.5 L1373.8,1248.2 L1371.3,1247.9 L1368.8,1247.6 L1366.3,1247.3 L1363.8,1247.0 L1361.3,1246.6 L1358.8,1246.3 L1356.3,1246.1 L1353.8,1245.8 L1351.3,1245.5 L1348.8,1245.2 L1346.3,1244.9 L1343.8,1244.6 L1341.3,1244.4 L1338.8,1244.1 L1336.3,1243.8 L1333.8,1243.6 L1331.3,1243.3 L1328.8,1243.1 L1326.3,1242.8 L1323.8,1242.6 L1321.3,1242.3 L1318.8,1242.1 L1316.3,1241.9 L1313.8,1241.6 L1311.3,1241.4 L1308.8,1241.2 L1306.3,1241.0 L1303.8,1240.7 L1301.3,1240.5 L1298.8,1240.3 L1296.3,1240.1 L1293.8,1239.9 L1291.3,1239.7 L1288.8,1239.5 L1286.3,1239.3 L1283.8,1239.1 L1281.3,1239.0 L1278.8,1238.8 L1276.3,1238.6 L1273.8,1238.4 L1271.3,1238.2 L1268.8,1238.1 L1266.3,1237.9 L1263.8,1237.7 L1261.3,1237.6 L1258.8,1237.4 L1256.3,1237.3 L1253.8,1237.1 L1251.3,1237.0 L1248.8,1236.8 L1246.3,1236.7 L1243.8,1236.5 L1241.3,1236.4 L1238.8,1236.3 L1236.3,1236.1 L1233.8,1236.0 L1231.3,1235.9 L1228.8,1235.8 L1226.3,1235.6 L1223.8,1235.5 L1221.3,1235.4 L1218.8,1235.3 L1216.3,1235.2 L1213.8,1235.1 L1211.3,1235.0 L1208.8,1234.9 L1206.3,1234.8 L1203.8,1234.7 L1201.3,1234.6 L1198.8,1234.5 L1196.3,1234.4 L1193.8,1234.3 L1191.3,1234.2 L1188.8,1234.1 L1186.3,1234.0 L1183.8,1234.0 L1181.3,1233.9 L1178.8,1233.8 L1176.3,1233.7 L1173.8,1233.7 L1171.3,1233.6 L1168.8,1233.5 L1166.3,1233.5 L1163.8,1233.4 L1161.3,1233.3 L1158.8,1233.3 L1156.3,1233.2 L1153.8,1233.2 L1151.3,1233.1 L1148.8,1233.1 L1146.3,1233.0 L1143.8,1233.0 L1141.3,1232.9 L1138.8,1232.9 L1136.3,1232.8 L1133.8,1232.8 L1131.3,1232.7 L1128.8,1232.7 L1126.3,1232.6 L1123.8,1232.6 L1121.3,1232.6 L1118.8,1232.5 L1116.3,1232.5 L1113.8,1232.5 L1111.3,1232.4 L1108.8,1232.4 L1106.3,1232.4 L1103.8,1232.4 L1101.3,1232.3 L1098.8,1232.3 L1096.3,1232.3 L1093.8,1232.3 L1091.3,1232.2 L1088.8,1232.2 L1086.3,1232.2 L1083.8,1232.2 L1081.3,1232.2 L1078.8,1232.2 L1076.3,1232.1 L1073.8,1232.1 L1071.3,1232.1 L1068.8,1232.1 L1066.3,1232.1 L1063.8,1232.1 L1061.3,1232.1 L1058.8,1232.1 L1056.3,1232.0 L1053.8,1232.0 L1051.3,1232.0 L1048.8,1232.0 L1046.3,1232.0 L1043.8,1232.0 L1041.3,1232.0 L1038.8,1232.0 L1036.3,1232.0 L1033.8,1232.0 L1031.3,1232.0 L1028.8,1232.0 L1026.3,1232.0 L1023.8,1232.0 L1021.3,1232.0 L1018.8,1232.0 L1016.3,1232.0 L1013.8,1232.0 L1011.3,1232.0 L1008.8,1232.0 L1006.3,1232.0 L1003.8,1232.0 L1001.3,1232.0 L998.8,1232.0 L996.3,1232.0 L993.8,1232.0 L991.3,1232.0 L988.8,1232.0 L986.3,1232.0 L983.8,1231.9 L981.3,1231.9 L978.8,1231.9 L976.3,1231.9 L973.8,1231.9 L971.3,1231.9Z" fill="#52b7a5"/>
<path d="M971.3,1231.9 L973.8,1231.9 L976.3,1231.9 L978.8,1231.9 L981.3,1231.9 L983.8,1231.9 L986.3,1232.0 L988.8,1232.0 L991.3,1232.0 L993.8,1232.0 L996.3,1232.0 L998.8,1232.0 L1001.3,1232.0 L1003.8,1232.0 L1006.3,1232.0 L1008.8,1232.0 L1011.3,1232.0 L1013.8,1232.0 L1016.3,1232.0 L1018.8,1232.0 L1021.3,1232.0 L1023.8,1232.0 L1026.3,1232.0 L1028.8,1232.0 L1031.3,1232.0 L1033.8,1232.0 L1036.3,1232.0 L1038.8,1232.0 L1041.3,1232.0 L1043.8,1232.0 L1046.3,1232.0 L1048.8,1232.0 L1051.3,1232.0 L1053.8,1232.0 L1056.3,1232.0 L1058.8,1232.1 L1061.3,1232.1 L1063.8,1232.1 L1066.3,1232.1 L1068.8,1232.1 L1071.3,1232.1 L1073.8,1232.1 L1076.3,1232.1 L1078.8,1232.2 L1081.3,1232.2 L1083.8,1232.2 L1086.3,1232.2 L1088.8,1232.2 L1091.3,1232.2 L1093.8,1232.3 L1096.3,1232.3 L1098.8,1232.3 L1101.3,1232.3 L1103.8,1232.4 L1106.3,1232.4 L1108.8,1232.4 L1111.3,1232.4 L1113.8,1232.5 L1116.3,1232.5 L1118.8,1232.5 L1121.3,1232.6 L1123.8,1232.6 L1126.3,1232.6 L1128.8,1232.7 L1131.3,1232.7 L1133.8,1232.8 L1136.3,1232.8 L1138.8,1232.9 L1141.3,1232.9 L1143.8,1233.0 L1146.3,1233.0 L1148.8,1233.1 L1151.3,1233.1 L1153.8,1233.2 L1156.3,1233.2 L1158.8,1233.3 L1161.3,1233.3 L1163.8,1233.4 L1166.3,1233.5 L1168.8,1233.5 L1171.3,1233.6 L1173.8,1233.7 L1176.3,1233.7 L1178.8,1233.8 L1181.3,1233.9 L1183.8,1234.0 L1186.3,1234.0 L1188.8,1234.1 L1191.3,1234.2 L1193.8,1234.3 L1196.3,1234.4 L1198.8,1234.5 L1201.3,1234.6 L1203.8,1234.7 L1206.3,1234.8 L1208.8,1234.9 L1211.3,1235.0 L1213.8,1235.1 L1216.3,1235.2 L1218.8,1235.3 L1221.3,1235.4 L1223.8,1235.5 L1226.3,1235.6 L1228.8,1235.8 L1231.3,1235.9 L1233.8,1236.0 L1236.3,1236.1 L1238.8,1236.3 L1241.3,1236.4 L1243.8,1236.5 L1246.3,1236.7 L1248.8,1236.8 L1251.3,1237.0 L1253.8,1237.1 L1256.3,1237.3 L1258.8,1237.4 L1261.3,1237.6 L1263.8,1237.7 L1266.3,1237.9 L1268.8,1238.1 L1271.3,1238.2 L1273.8,1238.4 L1276.3,1238.6 L1278.8,1238.8 L1281.3,1239.0 L1283.8,1239.1 L1286.3,1239.3 L1288.8,1239.5 L1291.3,1239.7 L1293.8,1239.9 L1296.3,1240.1 L1298.8,1240.3 L1301.3,1240.5 L1303.8,1240.7 L1306.3,1241.0 L1308.8,1241.2 L1311.3,1241.4 L1313.8,1241.6 L1316.3,1241.9 L1318.8,1242.1 L1321.3,1242.3 L1323.8,1242.6 L1326.3,1242.8 L1328.8,1243.1 L1331.3,1243.3 L1333.8,1243.6 L1336.3,1243.8 L1338.8,1244.1 L1341.3,1244.4 L1343.8,1244.6 L1346.3,1244.9 L1348.8,1245.2 L1351.3,1245.5 L1353.8,1245.8 L1356.3,1246.1 L1358.8,1246.3 L1361.3,1246.6 L1363.8,1247.0 L1366.3,1247.3 L1368.8,1247.6 L1371.3,1247.9 L1373.8,1248.2 L1376.3,1248.5 L1378.8,1248.9 L1381.3,1249.2 L1383.8,1249.5 L1386.3,1249.9 L1388.8,1250.2 L1391.3,1250.6 L1393.8,1250.9 L1396.3,1251.3 L1398.8,1251.7 L1401.3,1252.0 L1403.8,1252.4 L1406.3,1252.8 L1408.8,1253.2 L1411.3,1253.6 L1413.8,1254.0 L1416.3,1254.4 L1418.8,1254.8 L1421.3,1255.2 L1423.8,1255.6 L1426.3,1256.0 L1428.8,1256.4 L1431.3,1256.8 L1433.8,1257.3 L1436.3,1257.7 L1438.8,1258.2 L1441.3,1258.6 L1443.8,1259.1 L1446.3,1259.5 L1448.8,1260.0 L1451.3,1260.4 L1453.8,1260.9 L1456.3,1261.4 L1458.8,1261.9 L1461.3,1262.4 L1463.8,1262.9 L1466.3,1263.4 L1468.8,1263.9 L1471.3,1264.4 L1473.8,1264.9 L1476.3,1265.4 L1478.8,1265.9 L1481.3,1266.4 L1483.8,1266.9 L1486.3,1267.5 L1488.8,1268.0 L1491.3,1268.5 L1493.8,1269.1 L1496.3,1269.6 L1498.8,1270.2 L1501.3,1270.7 L1503.8,1271.2 L1506.3,1271.8 L1508.8,1272.3 L1511.3,1272.9 L1513.8,1273.5 L1516.3,1274.0 L1518.8,1274.6 L1521.3,1275.1 L1523.8,1275.7 L1526.3,1276.3 L1528.8,1276.8 L1531.3,1277.4 L1533.8,1277.9 L1536.3,1278.5 L1538.8,1279.1 L1541.3,1279.6 L1543.8,1280.2 L1546.3,1280.8 L1548.8,1281.3 L1551.3,1281.9 L1553.8,1282.5 L1556.3,1283.0 L1558.8,1283.6 L1561.3,1284.2 L1563.8,1284.7 L1566.3,1285.3 L1568.8,1285.9 L1571.3,1286.4 L1573.8,1287.0 L1576.3,1287.5 L1578.8,1288.1 L1581.3,1288.6 L1583.8,1289.2 L1586.3,1289.8 L1588.8,1290.3 L1591.3,1290.8 L1593.8,1291.4 L1596.3,1291.9 L1598.8,1292.5 L1601.3,1293.0 L1603.8,1293.5 L1606.3,1294.1 L1608.8,1294.6 L1611.3,1295.1 L1613.8,1295.6 L1616.3,1296.1 L1618.8,1296.6 L1621.3,1297.2 L1623.8,1297.7 L1626.3,1298.2 L1628.8,1298.6 L1631.3,1299.1 L1633.8,1299.6 L1636.3,1300.1 L1638.8,1300.6 L1641.3,1301.0 L1643.8,1301.5 L1646.3,1302.0 L1648.8,1302.4 L1651.3,1302.9 L1653.8,1303.3 L1656.3,1303.7 L1658.8,1304.2 L1660.6,1304.5 L1660.6,1323.6 L1658.8,1323.6 L1656.3,1323.6 L1653.8,1323.6 L1651.3,1323.6 L1648.8,1323.6 L1646.3,1323.6 L1643.8,1323.6 L1641.3,1323.6 L1638.8,1323.6 L1636.3,1323.6 L1633.8,1323.6 L1631.3,1323.6 L1628.8,1323.6 L1626.3,1323.6 L1623.8,1323.6 L1621.3,1323.6 L1618.8,1323.6 L1616.3,1323.6 L1613.8,1323.6 L1611.3,1323.6 L1608.8,1323.6 L1606.3,1323.6 L1603.8,1323.6 L1601.3,1323.6 L1598.8,1323.6 L1596.3,1323.6 L1593.8,1323.6 L1591.3,1323.6 L1588.8,1323.6 L1586.3,1323.6 L1583.8,1323.6 L1581.3,1323.6 L1578.8,1323.6 L1576.3,1323.6 L1573.8,1323.6 L1571.3,1323.6 L1568.8,1323.6 L1566.3,1323.6 L1563.8,1323.6 L1561.3,1323.6 L1558.8,1323.6 L1556.3,1323.6 L1553.8,1323.6 L1551.3,1323.6 L1548.8,1323.6 L1546.3,1323.6 L1543.8,1323.6 L1541.3,1323.6 L1538.8,1323.6 L1536.3,1323.6 L1533.8,1323.6 L1531.3,1323.6 L1528.8,1323.6 L1526.3,1323.6 L1523.8,1323.6 L1521.3,1323.6 L1518.8,1323.6 L1516.3,1323.6 L1513.8,1323.6 L1511.3,1323.6 L1508.8,1323.6 L1506.3,1323.6 L1503.8,1323.6 L1501.3,1323.6 L1498.8,1323.6 L1496.3,1323.6 L1493.8,1323.6 L1491.3,1323.6 L1488.8,1323.6 L1486.3,1323.6 L1483.8,1323.6 L1481.3,1323.6 L1478.8,1323.6 L1476.3,1323.6 L1473.8,1323.6 L1471.3,1323.6 L1468.8,1323.6 L1466.3,1323.6 L1463.8,1323.6 L1461.3,1323.6 L1458.8,1323.6 L1456.3,1323.6 L1453.8,1323.6 L1451.3,1323.6 L1448.8,1323.6 L1446.3,1323.6 L1443.8,1323.6 L1441.3,1323.6 L1438.8,1323.6 L1436.3,1323.6 L1433.8,1323.6 L1431.3,1323.6 L1428.8,1323.6 L1426.3,1323.6 L1423.8,1323.6 L1421.3,1323.6 L1418.8,1323.6 L1416.3,1323.6 L1413.8,1323.6 L1411.3,1323.6 L1408.8,1323.6 L1406.3,1323.6 L1403.8,1323.6 L1401.3,1323.6 L1398.8,1323.6 L1396.3,1323.6 L1393.8,1323.6 L1391.3,1323.6 L1388.8,1323.6 L1386.3,1323.6 L1383.8,1323.6 L1381.3,1323.6 L1378.8,1323.6 L1376.3,1323.6 L1373.8,1323.6 L1371.3,1323.6 L1368.8,1323.6 L1366.3,1323.6 L1363.8,1323.6 L1361.3,1323.6 L1358.8,1323.6 L1356.3,1323.6 L1353.8,1323.6 L1351.3,1323.6 L1348.8,1323.6 L1346.3,1323.6 L1343.8,1323.6 L1341.3,1323.6 L1338.8,1323.6 L1336.3,1323.6 L1333.8,1323.6 L1331.3,1323.6 L1328.8,1323.6 L1326.3,1323.6 L1323.8,1323.6 L1321.3,1323.6 L1318.8,1323.6 L1316.3,1323.6 L1313.8,1323.6 L1311.3,1323.6 L1308.8,1323.6 L1306.3,1323.6 L1303.8,1323.6 L1301.3,1323.6 L1298.8,1323.6 L1296.3,1323.6 L1293.8,1323.6 L1291.3,1323.6 L1288.8,1323.6 L1286.3,1323.6 L1283.8,1323.6 L1281.3,1323.6 L1278.8,1323.6 L1276.3,1323.6 L1273.8,1323.6 L1271.3,1323.6 L1268.8,1323.6 L1266.3,1323.6 L1263.8,1323.6 L1261.3,1323.6 L1258.8,1323.6 L1256.3,1323.6 L1253.8,1323.6 L1251.3,1323.6 L1248.8,1323.6 L1246.3,1323.6 L1243.8,1323.6 L1241.3,1323.6 L1238.8,1323.6 L1236.3,1323.6 L1233.8,1323.6 L1231.3,1323.6 L1228.8,1323.6 L1226.3,1323.6 L1223.8,1323.6 L1221.3,1323.6 L1218.8,1323.6 L1216.3,1323.6 L1213.8,1323.6 L1211.3,1323.6 L1208.8,1323.6 L1206.3,1323.6 L1203.8,1323.6 L1201.3,1323.6 L1198.8,1323.6 L1196.3,1323.6 L1193.8,1323.6 L1191.3,1323.6 L1188.8,1323.6 L1186.3,1323.6 L1183.8,1323.6 L1181.3,1323.6 L1178.8,1323.6 L1176.3,1323.6 L1173.8,1323.6 L1171.3,1323.6 L1168.8,1323.6 L1166.3,1323.6 L1163.8,1323.6 L1161.3,1323.6 L1158.8,1323.6 L1156.3,1323.6 L1153.8,1323.6 L1151.3,1323.6 L1148.8,1323.6 L1146.3,1323.6 L1143.8,1323.6 L1141.3,1323.6 L1138.8,1323.6 L1136.3,1323.6 L1133.8,1323.6 L1131.3,1323.6 L1128.8,1323.6 L1126.3,1323.6 L1123.8,1323.6 L1121.3,1323.6 L1118.8,1323.6 L1116.3,1323.6 L1113.8,1323.6 L1111.3,1323.6 L1108.8,1323.6 L1106.3,1323.6 L1103.8,1323.6 L1101.3,1323.6 L1098.8,1323.6 L1096.3,1323.6 L1093.8,1323.6 L1091.3,1323.6 L1088.8,1323.6 L1086.3,1323.6 L1083.8,1323.6 L1081.3,1323.6 L1078.8,1323.6 L1076.3,1323.6 L1073.8,1323.6 L1071.3,1323.6 L1068.8,1323.6 L1066.3,1323.6 L1063.8,1323.6 L1061.3,1323.6 L1058.8,1323.6 L1056.3,1323.6 L1053.8,1323.6 L1051.3,1323.6 L1048.8,1323.6 L1046.3,1323.6 L1043.8,1323.6 L1041.3,1323.6 L1038.8,1323.6 L1036.3,1323.6 L1033.8,1323.6 L1031.3,1323.6 L1028.8,1323.6 L1026.3,1323.6 L1023.8,1323.6 L1021.3,1323.6 L1018.8,1323.6 L1016.3,1323.6 L1013.8,1323.6 L1011.3,1323.6 L1008.8,1323.6 L1006.3,1323.6 L1003.8,1323.6 L1001.3,1323.6 L998.8,1323.6 L996.3,1323.6 L993.8,1323.6 L991.3,1323.6 L988.8,1323.6 L986.3,1323.6 L983.8,1323.6 L981.3,1323.6 L978.8,1323.6 L976.3,1323.6 L973.8,1323.6 L971.3,1323.6Z" fill="#99fe98"/>
<polyline points="971.3,850.8 973.8,850.8 976.3,850.8 978.8,850.8 981.3,850.8 983.8,850.9 986.3,850.9 988.8,850.9 991.3,851.0 993.8,851.0 996.3,851.1 998.8,851.1 1001.3,851.2 1003.8,851.2 1006.3,851.3 1008.8,851.4 1011.3,851.4 1013.8,851.5 1016.3,851.6 1018.8,851.7 1021.3,851.8 1023.8,851.9 1026.3,851.9 1028.8,852.0 1031.3,852.1 1033.8,852.2 1036.3,852.4 1038.8,852.5 1041.3,852.6 1043.8,852.7 1046.3,852.8 1048.8,853.0 1051.3,853.1 1053.8,853.2 1056.3,853.4 1058.8,853.5 1061.3,853.6 1063.8,853.8 1066.3,854.0 1068.8,854.1 1071.3,854.3 1073.8,854.4 1076.3,854.6 1078.8,854.8 1081.3,854.9 1083.8,855.1 1086.3,855.3 1088.8,855.5 1091.3,855.7 1093.8,855.9 1096.3,856.1 1098.8,856.3 1101.3,856.5 1103.8,856.7 1106.3,856.9 1108.8,857.1 1111.3,857.3 1113.8,857.6 1116.3,857.8 1118.8,858.0 1121.3,858.3 1123.8,858.5 1126.3,858.7 1128.8,859.0 1131.3,859.2 1133.8,859.5 1136.3,859.7 1138.8,860.0 1141.3,860.3 1143.8,860.5 1146.3,860.8 1148.8,861.1 1151.3,861.4 1153.8,861.6 1156.3,861.9 1158.8,862.2 1161.3,862.5 1163.8,862.8 1166.3,863.1 1168.8,863.4 1171.3,863.7 1173.8,864.0 1176.3,864.3 1178.8,864.7 1181.3,865.0 1183.8,865.3 1186.3,865.6 1188.8,866.0 1191.3,866.3 1193.8,866.6 1196.3,867.0 1198.8,867.3 1201.3,867.7 1203.8,868.0 1206.3,868.4 1208.8,868.8 1211.3,869.1 1213.8,869.5 1216.3,869.9 1218.8,870.2 1221.3,870.6 1223.8,871.0 1226.3,871.4 1228.8,871.8 1231.3,872.2 1233.8,872.6 1236.3,873.0 1238.8,873.4 1241.3,873.8 1243.8,874.3 1246.3,874.7 1248.8,875.1 1251.3,875.6 1253.8,876.1 1256.3,876.6 1258.8,877.1 1261.3,877.6 1263.8,878.1 1266.3,878.6 1268.8,879.2 1271.3,879.7 1273.8,880.3 1276.3,880.9 1278.8,881.5 1281.3,882.1 1283.8,882.7 1286.3,883.4 1288.8,884.1 1291.3,884.8 1293.8,885.5 1296.3,886.2 1298.8,886.9 1301.3,887.7 1303.8,888.5 1306.3,889.3 1308.8,890.2 1311.3,891.0 1313.8,891.9 1316.3,892.8 1318.8,893.7 1321.3,894.7 1323.8,895.7 1326.3,896.7 1328.8,897.7 1331.3,898.8 1333.8,899.9 1336.3,901.0 1338.8,902.2 1341.3,903.3 1343.8,904.5 1346.3,905.8 1348.8,907.0 1351.3,908.3 1353.8,909.7 1356.3,911.0 1358.8,912.4 1361.3,913.9 1363.8,915.3 1366.3,916.8 1368.8,918.4 1371.3,920.0 1373.8,921.6 1376.3,923.2 1378.8,924.9 1381.3,926.6 1383.8,928.4 1386.3,930.2 1388.8,932.0 1391.3,933.9 1393.8,935.8 1396.3,937.8 1398.8,939.8 1401.3,941.8 1403.8,943.9 1406.3,946.0 1408.8,948.2 1411.3,950.4 1413.8,952.6 1416.3,954.8 1418.8,957.1 1421.3,959.4 1423.8,961.8 1426.3,964.2 1428.8,966.6 1431.3,969.0 1433.8,971.5 1436.3,974.0 1438.8,976.6 1441.3,979.1 1443.8,981.7 1446.3,984.3 1448.8,986.9 1451.3,989.6 1453.8,992.3 1456.3,995.0 1458.8,997.7 1461.3,1000.5 1463.8,1003.3 1466.3,1006.1 1468.8,1008.9 1471.3,1011.7 1473.8,1014.6 1476.3,1017.4 1478.8,1020.3 1481.3,1023.2 1483.8,1026.1 1486.3,1029.1 1488.8,1032.0 1491.3,1035.0 1493.8,1038.0 1496.3,1041.0 1498.8,1044.0 1501.3,1047.0 1503.8,1050.0 1506.3,1053.0 1508.8,1056.1 1511.3,1059.1 1513.8,1062.2 1516.3,1065.2 1518.8,1068.3 1521.3,1071.4 1523.8,1074.5 1526.3,1077.5 1528.8,1080.6 1531.3,1083.7 1533.8,1086.8 1536.3,1089.9 1538.8,1093.0 1541.3,1096.1 1543.8,1099.2 1546.3,1102.3 1548.8,1105.4 1551.3,1108.5 1553.8,1111.6 1556.3,1114.6 1558.8,1117.7 1561.3,1120.8 1563.8,1123.8 1566.3,1126.9 1568.8,1130.0 1571.3,1133.0 1573.8,1136.0 1576.3,1139.1 1578.8,1142.1 1581.3,1145.1 1583.8,1148.1 1586.3,1151.1 1588.8,1154.0 1591.3,1157.0 1593.8,1159.9 1596.3,1162.8 1598.8,1165.8 1601.3,1168.6 1603.8,1171.5 1606.3,1174.4 1608.8,1177.2 1611.3,1180.0 1613.8,1182.9 1616.3,1185.6 1618.8,1188.4 1621.3,1191.1 1623.8,1193.9 1626.3,1196.5 1628.8,1199.2 1631.3,1201.9 1633.8,1204.5 1636.3,1207.1 1638.8,1209.6 1641.3,1212.2 1643.8,1214.7 1646.3,1217.2 1648.8,1219.6 1651.3,1222.1 1653.8,1224.5 1656.3,1226.8 1658.8,1229.2 1660.6,1230.8" fill="none" stroke="#5a5a5a" stroke-width="3" stroke-linejoin="round" />
<polyline points="971.3,1231.9 973.8,1231.9 976.3,1231.9 978.8,1231.9 981.3,1231.9 983.8,1231.9 986.3,1232.0 988.8,1232.0 991.3,1232.0 993.8,1232.0 996.3,1232.0 998.8,1232.0 1001.3,1232.0 1003.8,1232.0 1006.3,1232.0 1008.8,1232.0 1011.3,1232.0 1013.8,1232.0 1016.3,1232.0 1018.8,1232.0 1021.3,1232.0 1023.8,1232.0 1026.3,1232.0 1028.8,1232.0 1031.3,1232.0 1033.8,1232.0 1036.3,1232.0 1038.8,1232.0 1041.3,1232.0 1043.8,1232.0 1046.3,1232.0 1048.8,1232.0 1051.3,1232.0 1053.8,1232.0 1056.3,1232.0 1058.8,1232.1 1061.3,1232.1 1063.8,1232.1 1066.3,1232.1 1068.8,1232.1 1071.3,1232.1 1073.8,1232.1 1076.3,1232.1 1078.8,1232.2 1081.3,1232.2 1083.8,1232.2 1086.3,1232.2 1088.8,1232.2 1091.3,1232.2 1093.8,1232.3 1096.3,1232.3 1098.8,1232.3 1101.3,1232.3 1103.8,1232.4 1106.3,1232.4 1108.8,1232.4 1111.3,1232.4 1113.8,1232.5 1116.3,1232.5 1118.8,1232.5 1121.3,1232.6 1123.8,1232.6 1126.3,1232.6 1128.8,1232.7 1131.3,1232.7 1133.8,1232.8 1136.3,1232.8 1138.8,1232.9 1141.3,1232.9 1143.8,1233.0 1146.3,1233.0 1148.8,1233.1 1151.3,1233.1 1153.8,1233.2 1156.3,1233.2 1158.8,1233.3 1161.3,1233.3 1163.8,1233.4 1166.3,1233.5 1168.8,1233.5 1171.3,1233.6 1173.8,1233.7 1176.3,1233.7 1178.8,1233.8 1181.3,1233.9 1183.8,1234.0 1186.3,1234.0 1188.8,1234.1 1191.3,1234.2 1193.8,1234.3 1196.3,1234.4 1198.8,1234.5 1201.3,1234.6 1203.8,1234.7 1206.3,1234.8 1208.8,1234.9 1211.3,1235.0 1213.8,1235.1 1216.3,1235.2 1218.8,1235.3 1221.3,1235.4 1223.8,1235.5 1226.3,1235.6 1228.8,1235.8 1231.3,1235.9 1233.8,1236.0 1236.3,1236.1 1238.8,1236.3 1241.3,1236.4 1243.8,1236.5 1246.3,1236.7 1248.8,1236.8 1251.3,1237.0 1253.8,1237.1 1256.3,1237.3 1258.8,1237.4 1261.3,1237.6 1263.8,1237.7 1266.3,1237.9 1268.8,1238.1 1271.3,1238.2 1273.8,1238.4 1276.3,1238.6 1278.8,1238.8 1281.3,1239.0 1283.8,1239.1 1286.3,1239.3 1288.8,1239.5 1291.3,1239.7 1293.8,1239.9 1296.3,1240.1 1298.8,1240.3 1301.3,1240.5 1303.8,1240.7 1306.3,1241.0 1308.8,1241.2 1311.3,1241.4 1313.8,1241.6 1316.3,1241.9 1318.8,1242.1 1321.3,1242.3 1323.8,1242.6 1326.3,1242.8 1328.8,1243.1 1331.3,1243.3 1333.8,1243.6 1336.3,1243.8 1338.8,1244.1 1341.3,1244.4 1343.8,1244.6 1346.3,1244.9 1348.8,1245.2 1351.3,1245.5 1353.8,1245.8 1356.3,1246.1 1358.8,1246.3 1361.3,1246.6 1363.8,1247.0 1366.3,1247.3 1368.8,1247.6 1371.3,1247.9 1373.8,1248.2 1376.3,1248.5 1378.8,1248.9 1381.3,1249.2 1383.8,1249.5 1386.3,1249.9 1388.8,1250.2 1391.3,1250.6 1393.8,1250.9 1396.3,1251.3 1398.8,1251.7 1401.3,1252.0 1403.8,1252.4 1406.3,1252.8 1408.8,1253.2 1411.3,1253.6 1413.8,1254.0 1416.3,1254.4 1418.8,1254.8 1421.3,1255.2 1423.8,1255.6 1426.3,1256.0 1428.8,1256.4 1431.3,1256.8 1433.8,1257.3 1436.3,1257.7 1438.8,1258.2 1441.3,1258.6 1443.8,1259.1 1446.3,1259.5 1448.8,1260.0 1451.3,1260.4 1453.8,1260.9 1456.3,1261.4 1458.8,1261.9 1461.3,1262.4 1463.8,1262.9 1466.3,1263.4 1468.8,1263.9 1471.3,1264.4 1473.8,1264.9 1476.3,1265.4 1478.8,1265.9 1481.3,1266.4 1483.8,1266.9 1486.3,1267.5 1488.8,1268.0 1491.3,1268.5 1493.8,1269.1 1496.3,1269.6 1498.8,1270.2 1501.3,1270.7 1503.8,1271.2 1506.3,1271.8 1508.8,1272.3 1511.3,1272.9 1513.8,1273.5 1516.3,1274.0 1518.8,1274.6 1521.3,1275.1 1523.8,1275.7 1526.3,1276.3 1528.8,1276.8 1531.3,1277.4 1533.8,1277.9 1536.3,1278.5 1538.8,1279.1 1541.3,1279.6 1543.8,1280.2 1546.3,1280.8 1548.8,1281.3 1551.3,1281.9 1553.8,1282.5 1556.3,1283.0 1558.8,1283.6 1561.3,1284.2 1563.8,1284.7 1566.3,1285.3 1568.8,1285.9 1571.3,1286.4 1573.8,1287.0 1576.3,1287.5 1578.8,1288.1 1581.3,1288.6 1583.8,1289.2 1586.3,1289.8 1588.8,1290.3 1591.3,1290.8 1593.8,1291.4 1596.3,1291.9 1598.8,1292.5 1601.3,1293.0 1603.8,1293.5 1606.3,1294.1 1608.8,1294.6 1611.3,1295.1 1613.8,1295.6 1616.3,1296.1 1618.8,1296.6 1621.3,1297.2 1623.8,1297.7 1626.3,1298.2 1628.8,1298.6 1631.3,1299.1 1633.8,1299.6 1636.3,1300.1 1638.8,1300.6 1641.3,1301.0 1643.8,1301.5 1646.3,1302.0 1648.8,1302.4 1651.3,1302.9 1653.8,1303.3 1656.3,1303.7 1658.8,1304.2 1660.6,1304.5" fill="none" stroke="#0000f0" stroke-width="2.2" stroke-linejoin="round" />
<rect x="971.3" y="762" width="691.5" height="561.6" fill="none" stroke="#000" stroke-width="4" />
<line x1="959.5" y1="1323.6" x2="971.3" y2="1323.6" stroke="#000" stroke-width="3.5" stroke-linecap="round"/>
<text x="946.4" y="1332.6" font-size="29.5" fill="#000" text-anchor="end" >0</text>
<line x1="964.5" y1="1267.4" x2="971.3" y2="1267.4" stroke="#000" stroke-width="3.5" stroke-linecap="round"/>
<line x1="959.5" y1="1211.3" x2="971.3" y2="1211.3" stroke="#000" stroke-width="3.5" stroke-linecap="round"/>
<text x="946.4" y="1220.3" font-size="29.5" fill="#000" text-anchor="end" >20</text>
<line x1="964.5" y1="1155.1" x2="971.3" y2="1155.1" stroke="#000" stroke-width="3.5" stroke-linecap="round"/>
<line x1="959.5" y1="1099" x2="971.3" y2="1099" stroke="#000" stroke-width="3.5" stroke-linecap="round"/>
<text x="946.4" y="1108" font-size="29.5" fill="#000" text-anchor="end" >40</text>
<line x1="964.5" y1="1042.8" x2="971.3" y2="1042.8" stroke="#000" stroke-width="3.5" stroke-linecap="round"/>
<line x1="959.5" y1="986.6" x2="971.3" y2="986.6" stroke="#000" stroke-width="3.5" stroke-linecap="round"/>
<text x="946.4" y="995.6" font-size="29.5" fill="#000" text-anchor="end" >60</text>
<line x1="964.5" y1="930.5" x2="971.3" y2="930.5" stroke="#000" stroke-width="3.5" stroke-linecap="round"/>
<line x1="959.5" y1="874.3" x2="971.3" y2="874.3" stroke="#000" stroke-width="3.5" stroke-linecap="round"/>
<text x="946.4" y="883.3" font-size="29.5" fill="#000" text-anchor="end" >80</text>
<line x1="964.5" y1="818.2" x2="971.3" y2="818.2" stroke="#000" stroke-width="3.5" stroke-linecap="round"/>
<line x1="959.5" y1="762" x2="971.3" y2="762" stroke="#000" stroke-width="3.5" stroke-linecap="round"/>
<text x="946.4" y="771" font-size="29.5" fill="#000" text-anchor="end" >100</text>
<line x1="970" y1="1323.6" x2="970" y2="1334.1" stroke="#000" stroke-width="3" stroke-linecap="round"/>
<line x1="1014.9" y1="1323.6" x2="1014.9" y2="1329.1" stroke="#000" stroke-width="3" stroke-linecap="round"/>
<line x1="1041.2" y1="1323.6" x2="1041.2" y2="1329.1" stroke="#000" stroke-width="3" stroke-linecap="round"/>
<line x1="1059.9" y1="1323.6" x2="1059.9" y2="1329.1" stroke="#000" stroke-width="3" stroke-linecap="round"/>
<line x1="1074.4" y1="1323.6" x2="1074.4" y2="1329.1" stroke="#000" stroke-width="3" stroke-linecap="round"/>
<line x1="1086.2" y1="1323.6" x2="1086.2" y2="1329.1" stroke="#000" stroke-width="3" stroke-linecap="round"/>
<line x1="1096.2" y1="1323.6" x2="1096.2" y2="1329.1" stroke="#000" stroke-width="3" stroke-linecap="round"/>
<line x1="1104.8" y1="1323.6" x2="1104.8" y2="1329.1" stroke="#000" stroke-width="3" stroke-linecap="round"/>
<line x1="1112.5" y1="1323.6" x2="1112.5" y2="1329.1" stroke="#000" stroke-width="3" stroke-linecap="round"/>
<text x="970" y="1373.3" font-size="29.5" fill="#000" text-anchor="middle" >0.01</text>
<line x1="1119.3" y1="1323.6" x2="1119.3" y2="1334.1" stroke="#000" stroke-width="3" stroke-linecap="round"/>
<line x1="1164.2" y1="1323.6" x2="1164.2" y2="1329.1" stroke="#000" stroke-width="3" stroke-linecap="round"/>
<line x1="1190.5" y1="1323.6" x2="1190.5" y2="1329.1" stroke="#000" stroke-width="3" stroke-linecap="round"/>
<line x1="1209.2" y1="1323.6" x2="1209.2" y2="1329.1" stroke="#000" stroke-width="3" stroke-linecap="round"/>
<line x1="1223.7" y1="1323.6" x2="1223.7" y2="1329.1" stroke="#000" stroke-width="3" stroke-linecap="round"/>
<line x1="1235.5" y1="1323.6" x2="1235.5" y2="1329.1" stroke="#000" stroke-width="3" stroke-linecap="round"/>
<line x1="1245.5" y1="1323.6" x2="1245.5" y2="1329.1" stroke="#000" stroke-width="3" stroke-linecap="round"/>
<line x1="1254.1" y1="1323.6" x2="1254.1" y2="1329.1" stroke="#000" stroke-width="3" stroke-linecap="round"/>
<line x1="1261.8" y1="1323.6" x2="1261.8" y2="1329.1" stroke="#000" stroke-width="3" stroke-linecap="round"/>
<text x="1119.3" y="1373.3" font-size="29.5" fill="#000" text-anchor="middle" >0.1</text>
<line x1="1268.6" y1="1323.6" x2="1268.6" y2="1334.1" stroke="#000" stroke-width="3" stroke-linecap="round"/>
<line x1="1313.5" y1="1323.6" x2="1313.5" y2="1329.1" stroke="#000" stroke-width="3" stroke-linecap="round"/>
<line x1="1339.8" y1="1323.6" x2="1339.8" y2="1329.1" stroke="#000" stroke-width="3" stroke-linecap="round"/>
<line x1="1358.5" y1="1323.6" x2="1358.5" y2="1329.1" stroke="#000" stroke-width="3" stroke-linecap="round"/>
<line x1="1373" y1="1323.6" x2="1373" y2="1329.1" stroke="#000" stroke-width="3" stroke-linecap="round"/>
<line x1="1384.8" y1="1323.6" x2="1384.8" y2="1329.1" stroke="#000" stroke-width="3" stroke-linecap="round"/>
<line x1="1394.8" y1="1323.6" x2="1394.8" y2="1329.1" stroke="#000" stroke-width="3" stroke-linecap="round"/>
<line x1="1403.4" y1="1323.6" x2="1403.4" y2="1329.1" stroke="#000" stroke-width="3" stroke-linecap="round"/>
<line x1="1411.1" y1="1323.6" x2="1411.1" y2="1329.1" stroke="#000" stroke-width="3" stroke-linecap="round"/>
<text x="1268.6" y="1373.3" font-size="29.5" fill="#000" text-anchor="middle" >1</text>
<line x1="1417.9" y1="1323.6" x2="1417.9" y2="1334.1" stroke="#000" stroke-width="3" stroke-linecap="round"/>
<line x1="1462.8" y1="1323.6" x2="1462.8" y2="1329.1" stroke="#000" stroke-width="3" stroke-linecap="round"/>
<line x1="1489.1" y1="1323.6" x2="1489.1" y2="1329.1" stroke="#000" stroke-width="3" stroke-linecap="round"/>
<line x1="1507.8" y1="1323.6" x2="1507.8" y2="1329.1" stroke="#000" stroke-width="3" stroke-linecap="round"/>
<line x1="1522.3" y1="1323.6" x2="1522.3" y2="1329.1" stroke="#000" stroke-width="3" stroke-linecap="round"/>
<line x1="1534.1" y1="1323.6" x2="1534.1" y2="1329.1" stroke="#000" stroke-width="3" stroke-linecap="round"/>
<line x1="1544.1" y1="1323.6" x2="1544.1" y2="1329.1" stroke="#000" stroke-width="3" stroke-linecap="round"/>
<line x1="1552.7" y1="1323.6" x2="1552.7" y2="1329.1" stroke="#000" stroke-width="3" stroke-linecap="round"/>
<line x1="1560.4" y1="1323.6" x2="1560.4" y2="1329.1" stroke="#000" stroke-width="3" stroke-linecap="round"/>
<text x="1417.9" y="1373.3" font-size="29.5" fill="#000" text-anchor="middle" >10</text>
<line x1="1567.2" y1="1323.6" x2="1567.2" y2="1334.1" stroke="#000" stroke-width="3" stroke-linecap="round"/>
<line x1="1612.1" y1="1323.6" x2="1612.1" y2="1329.1" stroke="#000" stroke-width="3" stroke-linecap="round"/>
<line x1="1638.4" y1="1323.6" x2="1638.4" y2="1329.1" stroke="#000" stroke-width="3" stroke-linecap="round"/>
<line x1="1657.1" y1="1323.6" x2="1657.1" y2="1329.1" stroke="#000" stroke-width="3" stroke-linecap="round"/>
<text x="1567.2" y="1373.3" font-size="29.5" fill="#000" text-anchor="middle" >100</text>
<text transform="translate(882.1,1209.2) rotate(-90)" font-size="29.7">Quantum efficiency (%)</text>
<text x="1109" y="1421.8" font-size="29.5">Current density (mA cm<tspan font-size="19.5" dy="-12.8">&#8722;2</tspan><tspan dy="12.8">)</tspan></text>
<text x="1102.5" y="806" font-size="29.3" fill="#fff" text-anchor="start" >Nonradiative decay</text>
<text x="1532" y="878.4" font-size="29.8" fill="#fff" text-anchor="start" >STA</text>
<text x="1524.7" y="1011" font-size="29.8" fill="#fff" text-anchor="start" >TTA</text>
<text x="1260.5" y="954.3" font-size="29.8" fill="#555555" text-anchor="start" >IQE</text>
<text x="999.5" y="1268.8" font-size="29.8" fill="#0a1ee6" text-anchor="start" >EQE</text>
<text transform="translate(1177,1271) rotate(5.5)" font-size="29.2" fill="#ff6f8a">Experimental EQE</text>
<rect x="1022.3" y="943.5" width="145.7" height="58.7" fill="#000" stroke="none" stroke-width="1" />
<rect x="1013.9" y="935.6" width="145.6" height="58.6" fill="#fff" stroke="#111" stroke-width="1.4" />
<text x="1034.8" y="978.9" font-size="33.5" fill="#ff6f8a" text-anchor="start" >TE-DM</text>
<g clip-path="url(#clipD)">
<circle cx="1019.9" cy="1304.7" r="7.6" fill="#fff" stroke="#ff6f8a" stroke-width="2.8"/>
<circle cx="1132.8" cy="1235.7" r="7.6" fill="#fff" stroke="#ff6f8a" stroke-width="2.8"/>
<circle cx="1245.3" cy="1230.9" r="7.6" fill="#fff" stroke="#ff6f8a" stroke-width="2.8"/>
<circle cx="1317.1" cy="1236.1" r="7.6" fill="#fff" stroke="#ff6f8a" stroke-width="2.8"/>
<circle cx="1376.5" cy="1244.8" r="7.6" fill="#fff" stroke="#ff6f8a" stroke-width="2.8"/>
<circle cx="1427.6" cy="1254.8" r="7.6" fill="#fff" stroke="#ff6f8a" stroke-width="2.8"/>
<circle cx="1473.3" cy="1264.5" r="7.6" fill="#fff" stroke="#ff6f8a" stroke-width="2.8"/>
<circle cx="1514.6" cy="1275.6" r="7.6" fill="#fff" stroke="#ff6f8a" stroke-width="2.8"/>
<circle cx="1553" cy="1284.4" r="7.6" fill="#fff" stroke="#ff6f8a" stroke-width="2.8"/>
<circle cx="1591.9" cy="1292.9" r="7.6" fill="#fff" stroke="#ff6f8a" stroke-width="2.8"/>
<circle cx="1628.2" cy="1302.8" r="7.6" fill="#fff" stroke="#ff6f8a" stroke-width="2.8"/>
<circle cx="1659.2" cy="1308.8" r="7.6" fill="#fff" stroke="#ff6f8a" stroke-width="2.8"/>
</g>
</svg>
</body></html>
